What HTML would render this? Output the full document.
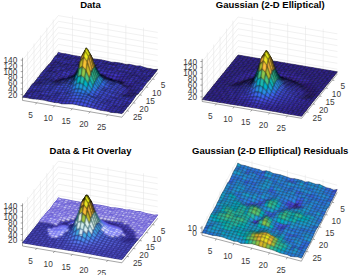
<!DOCTYPE html>
<html><head><meta charset="utf-8"><style>
html,body{margin:0;padding:0;background:#fff;width:350px;height:275px;overflow:hidden}
svg{display:block;font-family:"Liberation Sans",sans-serif}
#w{width:350px;height:275px}
</style></head><body><div id="w">
<svg width="350" height="275" viewBox="0 0 350 275" xmlns="http://www.w3.org/2000/svg">
<defs><filter id="bl" x="-0.05" y="-0.05" width="1.1" height="1.1"><feConvolveMatrix order="3" kernelMatrix="1 2 1 2 12 2 1 2 1" preserveAlpha="true"/></filter></defs>
<rect width="350" height="275" fill="#fff"/>
<line x1="72.5" y1="58.3" x2="72.5" y2="15.7" stroke="#e2e2e2" stroke-width="0.5"/>
<line x1="90.3" y1="61.3" x2="90.3" y2="18.7" stroke="#e2e2e2" stroke-width="0.5"/>
<line x1="108" y1="64.3" x2="108" y2="21.7" stroke="#e2e2e2" stroke-width="0.5"/>
<line x1="125.8" y1="67.3" x2="125.8" y2="24.7" stroke="#e2e2e2" stroke-width="0.5"/>
<line x1="143.5" y1="70.3" x2="143.5" y2="27.7" stroke="#e2e2e2" stroke-width="0.5"/>
<line x1="58.3" y1="50.1" x2="157.7" y2="66.9" stroke="#e2e2e2" stroke-width="0.5"/>
<line x1="58.3" y1="44.4" x2="157.7" y2="61.2" stroke="#e2e2e2" stroke-width="0.5"/>
<line x1="58.3" y1="38.6" x2="157.7" y2="55.4" stroke="#e2e2e2" stroke-width="0.5"/>
<line x1="58.3" y1="32.8" x2="157.7" y2="49.6" stroke="#e2e2e2" stroke-width="0.5"/>
<line x1="58.3" y1="27.1" x2="157.7" y2="43.9" stroke="#e2e2e2" stroke-width="0.5"/>
<line x1="58.3" y1="21.3" x2="157.7" y2="38.1" stroke="#e2e2e2" stroke-width="0.5"/>
<line x1="58.3" y1="15.6" x2="157.7" y2="32.4" stroke="#e2e2e2" stroke-width="0.5"/>
<line x1="53.2" y1="62.2" x2="53.2" y2="19.6" stroke="#e2e2e2" stroke-width="0.5"/>
<line x1="46.8" y1="70.2" x2="46.8" y2="27.6" stroke="#e2e2e2" stroke-width="0.5"/>
<line x1="40.4" y1="78.1" x2="40.4" y2="35.5" stroke="#e2e2e2" stroke-width="0.5"/>
<line x1="34" y1="86.1" x2="34" y2="43.5" stroke="#e2e2e2" stroke-width="0.5"/>
<line x1="27.6" y1="94" x2="27.6" y2="51.4" stroke="#e2e2e2" stroke-width="0.5"/>
<line x1="58.3" y1="50.1" x2="22.5" y2="94.6" stroke="#e2e2e2" stroke-width="0.5"/>
<line x1="58.3" y1="44.4" x2="22.5" y2="88.9" stroke="#e2e2e2" stroke-width="0.5"/>
<line x1="58.3" y1="38.6" x2="22.5" y2="83.1" stroke="#e2e2e2" stroke-width="0.5"/>
<line x1="58.3" y1="32.8" x2="22.5" y2="77.4" stroke="#e2e2e2" stroke-width="0.5"/>
<line x1="58.3" y1="27.1" x2="22.5" y2="71.6" stroke="#e2e2e2" stroke-width="0.5"/>
<line x1="58.3" y1="21.3" x2="22.5" y2="65.8" stroke="#e2e2e2" stroke-width="0.5"/>
<line x1="58.3" y1="15.6" x2="22.5" y2="60.1" stroke="#e2e2e2" stroke-width="0.5"/>
<line x1="72.5" y1="58.3" x2="36.7" y2="102.8" stroke="#e2e2e2" stroke-width="0.5"/>
<line x1="90.3" y1="61.3" x2="54.5" y2="105.8" stroke="#e2e2e2" stroke-width="0.5"/>
<line x1="108" y1="64.3" x2="72.2" y2="108.8" stroke="#e2e2e2" stroke-width="0.5"/>
<line x1="125.8" y1="67.3" x2="90" y2="111.8" stroke="#e2e2e2" stroke-width="0.5"/>
<line x1="143.5" y1="70.3" x2="107.7" y2="114.8" stroke="#e2e2e2" stroke-width="0.5"/>
<line x1="53.2" y1="62.2" x2="152.6" y2="79" stroke="#e2e2e2" stroke-width="0.5"/>
<line x1="46.8" y1="70.2" x2="146.2" y2="87" stroke="#e2e2e2" stroke-width="0.5"/>
<line x1="40.4" y1="78.1" x2="139.8" y2="94.9" stroke="#e2e2e2" stroke-width="0.5"/>
<line x1="34" y1="86.1" x2="133.4" y2="102.9" stroke="#e2e2e2" stroke-width="0.5"/>
<line x1="27.6" y1="94" x2="127" y2="110.8" stroke="#e2e2e2" stroke-width="0.5"/>
<g filter="url(#bl)"><g stroke="#000" stroke-width="0.55" stroke-opacity="1.0" fill-opacity="1.0" stroke-linejoin="round">
<path d="M58.3 52.2L61.9 53.4L60.6 55L57.1 54.4Z" fill="#473fe3"/>
<path d="M61.9 53.4L65.4 53.8L64.2 55.4L60.6 55Z" fill="#463bde"/>
<path d="M65.4 53.8L69 54.5L67.7 56.5L64.2 55.4Z" fill="#463bde"/>
<path d="M57.1 54.4L60.6 55L59.3 56.2L55.8 55.8Z" fill="#463bde"/>
<path d="M69 54.5L72.5 55.3L71.3 56.8L67.7 56.5Z" fill="#463bde"/>
<path d="M60.6 55L64.2 55.4L62.9 57.1L59.3 56.2Z" fill="#463bde"/>
<path d="M72.5 55.3L76.1 55.9L74.8 57.7L71.3 56.8Z" fill="#463adc"/>
<path d="M64.2 55.4L67.7 56.5L66.4 58.2L62.9 57.1Z" fill="#463de0"/>
<path d="M76.1 55.9L79.6 56.5L78.4 58.3L74.8 57.7Z" fill="#463adc"/>
<path d="M55.8 55.8L59.3 56.2L58 57.6L54.5 57Z" fill="#463de0"/>
<path d="M67.7 56.5L71.3 56.8L70 58.3L66.4 58.2Z" fill="#4639d9"/>
<path d="M79.6 56.5L83.2 57.4L81.9 58.9L78.4 58.3Z" fill="#463adc"/>
<path d="M59.3 56.2L62.9 57.1L61.6 58.5L58 57.6Z" fill="#473ee1"/>
<path d="M71.3 56.8L74.8 57.7L73.5 58.6L70 58.3Z" fill="#463adc"/>
<path d="M83.2 57.4L86.7 57.2L85.5 58.7L81.9 58.9Z" fill="#4538d7"/>
<path d="M62.9 57.1L66.4 58.2L65.2 59.1L61.6 58.5Z" fill="#463bde"/>
<path d="M74.8 57.7L78.4 58.3L77.1 59.6L73.5 58.6Z" fill="#4639d9"/>
<path d="M54.5 57L58 57.6L56.8 59.7L53.2 59Z" fill="#473fe3"/>
<path d="M86.7 57.2L90.3 57.8L89 59.3L85.5 58.7Z" fill="#473ee1"/>
<path d="M66.4 58.2L70 58.3L68.7 59.7L65.2 59.1Z" fill="#4538d7"/>
<path d="M78.4 58.3L81.9 58.9L80.6 60.5L77.1 59.6Z" fill="#4639d9"/>
<path d="M58 57.6L61.6 58.5L60.3 60.3L56.8 59.7Z" fill="#473fe3"/>
<path d="M90.3 57.8L93.8 58.9L92.6 60.3L89 59.3Z" fill="#473ee1"/>
<path d="M70 58.3L73.5 58.6L72.2 60.4L68.7 59.7Z" fill="#463bde"/>
<path d="M81.9 58.9L85.5 58.7L84.2 61L80.6 60.5Z" fill="#4639d9"/>
<path d="M61.6 58.5L65.2 59.1L63.9 60.5L60.3 60.3Z" fill="#463de0"/>
<path d="M93.8 58.9L97.4 59.3L96.1 60.8L92.6 60.3Z" fill="#463adc"/>
<path d="M73.5 58.6L77.1 59.6L75.8 61.1L72.2 60.4Z" fill="#473ee1"/>
<path d="M53.2 59L56.8 59.7L55.5 61.4L51.9 60.9Z" fill="#463bde"/>
<path d="M85.5 58.7L89 59.3L87.7 61.4L84.2 61Z" fill="#473ee1"/>
<path d="M65.2 59.1L68.7 59.7L67.4 61.5L63.9 60.5Z" fill="#463de0"/>
<path d="M97.4 59.3L100.9 59.8L99.7 61.3L96.1 60.8Z" fill="#463bde"/>
<path d="M77.1 59.6L80.6 60.5L79.3 61.9L75.8 61.1Z" fill="#463bde"/>
<path d="M56.8 59.7L60.3 60.3L59 62.1L55.5 61.4Z" fill="#463bde"/>
<path d="M89 59.3L92.6 60.3L91.3 62L87.7 61.4Z" fill="#473fe3"/>
<path d="M68.7 59.7L72.2 60.4L71 62.2L67.4 61.5Z" fill="#463de0"/>
<path d="M100.9 59.8L104.5 60.5L103.2 62L99.7 61.3Z" fill="#463de0"/>
<path d="M80.6 60.5L84.2 61L82.9 62.3L79.3 61.9Z" fill="#4639d9"/>
<path d="M60.3 60.3L63.9 60.5L62.6 62.5L59 62.1Z" fill="#463bde"/>
<path d="M92.6 60.3L96.1 60.8L94.8 62.7L91.3 62Z" fill="#463bde"/>
<path d="M72.2 60.4L75.8 61.1L74.5 62.7L71 62.2Z" fill="#463de0"/>
<path d="M104.5 60.5L108 61.3L106.8 62.9L103.2 62Z" fill="#463bde"/>
<path d="M51.9 60.9L55.5 61.4L54.2 62.9L50.7 62.6Z" fill="#463adc"/>
<path d="M84.2 61L87.7 61.4L86.5 62.3L82.9 62.3Z" fill="#4639d9"/>
<path d="M63.9 60.5L67.4 61.5L66.1 63.5L62.6 62.5Z" fill="#473ee1"/>
<path d="M96.1 60.8L99.7 61.3L98.4 62.9L94.8 62.7Z" fill="#463de0"/>
<path d="M75.8 61.1L79.3 61.9L78.1 63.2L74.5 62.7Z" fill="#463bde"/>
<path d="M108 61.3L111.6 62.2L110.3 63.8L106.8 62.9Z" fill="#463adc"/>
<path d="M55.5 61.4L59 62.1L57.8 63.2L54.2 62.9Z" fill="#463adc"/>
<path d="M87.7 61.4L91.3 62L90 63.1L86.5 62.3Z" fill="#463bde"/>
<path d="M67.4 61.5L71 62.2L69.7 63.8L66.1 63.5Z" fill="#463bde"/>
<path d="M99.7 61.3L103.2 62L101.9 63.7L98.4 62.9Z" fill="#463de0"/>
<path d="M79.3 61.9L82.9 62.3L81.6 63.8L78.1 63.2Z" fill="#463adc"/>
<path d="M111.6 62.2L115.1 62.3L113.9 64.3L110.3 63.8Z" fill="#4538d7"/>
<path d="M59 62.1L62.6 62.5L61.3 63.9L57.8 63.2Z" fill="#463adc"/>
<path d="M91.3 62L94.8 62.7L93.5 64.2L90 63.1Z" fill="#463adc"/>
<path d="M71 62.2L74.5 62.7L73.2 64.6L69.7 63.8Z" fill="#463adc"/>
<path d="M103.2 62L106.8 62.9L105.5 64.2L101.9 63.7Z" fill="#463bde"/>
<path d="M50.7 62.6L54.2 62.9L52.9 64.5L49.4 64.2Z" fill="#4639d9"/>
<path d="M82.9 62.3L86.5 62.3L85.2 64L81.6 63.8Z" fill="#463bde"/>
<path d="M115.1 62.3L118.7 62.8L117.4 64.4L113.9 64.3Z" fill="#463bde"/>
<path d="M62.6 62.5L66.1 63.5L64.9 64.9L61.3 63.9Z" fill="#463bde"/>
<path d="M94.8 62.7L98.4 62.9L97.1 64.7L93.5 64.2Z" fill="#463adc"/>
<path d="M74.5 62.7L78.1 63.2L76.8 64.9L73.2 64.6Z" fill="#463bde"/>
<path d="M106.8 62.9L110.3 63.8L109 64.5L105.5 64.2Z" fill="#463adc"/>
<path d="M54.2 62.9L57.8 63.2L56.5 64.7L52.9 64.5Z" fill="#463bde"/>
<path d="M86.5 62.3L90 63.1L88.7 64.7L85.2 64Z" fill="#473fe3"/>
<path d="M118.7 62.8L122.2 63.4L121 64.5L117.4 64.4Z" fill="#463de0"/>
<path d="M66.1 63.5L69.7 63.8L68.4 65.2L64.9 64.9Z" fill="#4538d7"/>
<path d="M98.4 62.9L101.9 63.7L100.7 65.5L97.1 64.7Z" fill="#463de0"/>
<path d="M78.1 63.2L81.6 63.8L80.3 65.2L76.8 64.9Z" fill="#463bde"/>
<path d="M110.3 63.8L113.9 64.3L112.6 65.2L109 64.5Z" fill="#4538d7"/>
<path d="M57.8 63.2L61.3 63.9L60 65.3L56.5 64.7Z" fill="#473ee1"/>
<path d="M90 63.1L93.5 64.2L92.3 65.6L88.7 64.7Z" fill="#473ee1"/>
<path d="M122.2 63.4L125.8 64.4L124.5 65.6L121 64.5Z" fill="#463de0"/>
<path d="M69.7 63.8L73.2 64.6L72 65.9L68.4 65.2Z" fill="#463adc"/>
<path d="M101.9 63.7L105.5 64.2L104.2 65.8L100.7 65.5Z" fill="#463bde"/>
<path d="M49.4 64.2L52.9 64.5L51.7 66L48.1 65.1Z" fill="#4639d9"/>
<path d="M81.6 63.8L85.2 64L83.9 65.5L80.3 65.2Z" fill="#463de0"/>
<path d="M113.9 64.3L117.4 64.4L116.1 66L112.6 65.2Z" fill="#4639d9"/>
<path d="M61.3 63.9L64.9 64.9L63.6 66L60 65.3Z" fill="#463de0"/>
<path d="M93.5 64.2L97.1 64.7L95.8 65.9L92.3 65.6Z" fill="#463bde"/>
<path d="M125.8 64.4L129.3 64.3L128.1 66.2L124.5 65.6Z" fill="#4639d9"/>
<path d="M73.2 64.6L76.8 64.9L75.5 66.4L72 65.9Z" fill="#4639d9"/>
<path d="M105.5 64.2L109 64.5L107.8 66.4L104.2 65.8Z" fill="#463de0"/>
<path d="M52.9 64.5L56.5 64.7L55.2 66.3L51.7 66Z" fill="#463bde"/>
<path d="M85.2 64L88.7 64.7L87.4 66.2L83.9 65.5Z" fill="#473fe3"/>
<path d="M117.4 64.4L121 64.5L119.7 66.5L116.1 66Z" fill="#463de0"/>
<path d="M64.9 64.9L68.4 65.2L67.1 66.8L63.6 66Z" fill="#463adc"/>
<path d="M97.1 64.7L100.7 65.5L99.4 66.7L95.8 65.9Z" fill="#463bde"/>
<path d="M129.3 64.3L132.9 65.1L131.6 66.6L128.1 66.2Z" fill="#473ee1"/>
<path d="M76.8 64.9L80.3 65.2L79.1 66.8L75.5 66.4Z" fill="#463bde"/>
<path d="M109 64.5L112.6 65.2L111.3 67.3L107.8 66.4Z" fill="#473ee1"/>
<path d="M56.5 64.7L60 65.3L58.8 66.7L55.2 66.3Z" fill="#473ee1"/>
<path d="M88.7 64.7L92.3 65.6L91 67.5L87.4 66.2Z" fill="#473ee1"/>
<path d="M121 64.5L124.5 65.6L123.2 67L119.7 66.5Z" fill="#4741e5"/>
<path d="M68.4 65.2L72 65.9L70.7 67.5L67.1 66.8Z" fill="#463de0"/>
<path d="M100.7 65.5L104.2 65.8L102.9 67.5L99.4 66.7Z" fill="#463adc"/>
<path d="M132.9 65.1L136.4 65.9L135.2 67.3L131.6 66.6Z" fill="#463de0"/>
<path d="M48.1 65.1L51.7 66L50.4 67.9L46.8 66.8Z" fill="#473ee1"/>
<path d="M80.3 65.2L83.9 65.5L82.6 67.2L79.1 66.8Z" fill="#473ee1"/>
<path d="M112.6 65.2L116.1 66L114.8 67.7L111.3 67.3Z" fill="#473ee1"/>
<path d="M60 65.3L63.6 66L62.3 67.3L58.8 66.7Z" fill="#473ee1"/>
<path d="M92.3 65.6L95.8 65.9L94.5 67.7L91 67.5Z" fill="#463de0"/>
<path d="M124.5 65.6L128.1 66.2L126.8 68L123.2 67Z" fill="#463de0"/>
<path d="M72 65.9L75.5 66.4L74.2 68.2L70.7 67.5Z" fill="#463bde"/>
<path d="M104.2 65.8L107.8 66.4L106.5 68.2L102.9 67.5Z" fill="#463bde"/>
<path d="M136.4 65.9L140 65.9L138.7 67.9L135.2 67.3Z" fill="#463bde"/>
<path d="M51.7 66L55.2 66.3L53.9 67.9L50.4 67.9Z" fill="#463bde"/>
<path d="M83.9 65.5L87.4 66.2L86.2 68.1L82.6 67.2Z" fill="#473fe3"/>
<path d="M116.1 66L119.7 66.5L118.4 68.3L114.8 67.7Z" fill="#463de0"/>
<path d="M63.6 66L67.1 66.8L65.8 68.4L62.3 67.3Z" fill="#473ee1"/>
<path d="M95.8 65.9L99.4 66.7L98.1 68L94.5 67.7Z" fill="#473ee1"/>
<path d="M128.1 66.2L131.6 66.6L130.3 68.7L126.8 68Z" fill="#463de0"/>
<path d="M75.5 66.4L79.1 66.8L77.8 68.6L74.2 68.2Z" fill="#463de0"/>
<path d="M107.8 66.4L111.3 67.3L110 68.8L106.5 68.2Z" fill="#463de0"/>
<path d="M140 65.9L143.5 67.1L142.3 68.6L138.7 67.9Z" fill="#473fe3"/>
<path d="M55.2 66.3L58.8 66.7L57.5 68.3L53.9 67.9Z" fill="#473ee1"/>
<path d="M87.4 66.2L91 67.5L89.7 69.4L86.2 68.1Z" fill="#473fe3"/>
<path d="M119.7 66.5L123.2 67L122 68.6L118.4 68.3Z" fill="#463de0"/>
<path d="M67.1 66.8L70.7 67.5L69.4 69L65.8 68.4Z" fill="#463bde"/>
<path d="M99.4 66.7L102.9 67.5L101.6 68.8L98.1 68Z" fill="#463de0"/>
<path d="M131.6 66.6L135.2 67.3L133.9 69L130.3 68.7Z" fill="#473ee1"/>
<path d="M46.8 66.8L50.4 67.9L49.1 69.1L45.5 68.3Z" fill="#473ee1"/>
<path d="M79.1 66.8L82.6 67.2L81.3 69.2L77.8 68.6Z" fill="#473ee1"/>
<path d="M111.3 67.3L114.8 67.7L113.6 69.1L110 68.8Z" fill="#463adc"/>
<path d="M143.5 67.1L147.1 68.2L145.8 69.5L142.3 68.6Z" fill="#463bde"/>
<path d="M58.8 66.7L62.3 67.3L61 69.1L57.5 68.3Z" fill="#473fe3"/>
<path d="M91 67.5L94.5 67.7L93.3 70L89.7 69.4Z" fill="#463adc"/>
<path d="M123.2 67L126.8 68L125.5 69.3L122 68.6Z" fill="#473ee1"/>
<path d="M70.7 67.5L74.2 68.2L72.9 69.6L69.4 69Z" fill="#463bde"/>
<path d="M102.9 67.5L106.5 68.2L105.2 69.7L101.6 68.8Z" fill="#463bde"/>
<path d="M135.2 67.3L138.7 67.9L137.4 69.4L133.9 69Z" fill="#463de0"/>
<path d="M50.4 67.9L53.9 67.9L52.6 69.4L49.1 69.1Z" fill="#463adc"/>
<path d="M82.6 67.2L86.2 68.1L84.9 70.1L81.3 69.2Z" fill="#473fe3"/>
<path d="M114.8 67.7L118.4 68.3L117.1 70.3L113.6 69.1Z" fill="#463bde"/>
<path d="M147.1 68.2L150.6 68.7L149.4 70.1L145.8 69.5Z" fill="#4538d7"/>
<path d="M62.3 67.3L65.8 68.4L64.6 69.8L61 69.1Z" fill="#473fe3"/>
<path d="M94.5 67.7L98.1 68L96.8 70.2L93.3 70Z" fill="#463de0"/>
<path d="M126.8 68L130.3 68.7L129.1 69.9L125.5 69.3Z" fill="#463adc"/>
<path d="M74.2 68.2L77.8 68.6L76.5 70.5L72.9 69.6Z" fill="#463adc"/>
<path d="M106.5 68.2L110 68.8L108.7 70.1L105.2 69.7Z" fill="#463adc"/>
<path d="M138.7 67.9L142.3 68.6L141 70.2L137.4 69.4Z" fill="#463de0"/>
<path d="M53.9 67.9L57.5 68.3L56.2 70.3L52.6 69.4Z" fill="#473ee1"/>
<path d="M86.2 68.1L89.7 69.4L88.4 71.2L84.9 70.1Z" fill="#463de0"/>
<path d="M118.4 68.3L122 68.6L120.7 70.8L117.1 70.3Z" fill="#463bde"/>
<path d="M150.6 68.7L154.2 69.6L152.9 71L149.4 70.1Z" fill="#4639d9"/>
<path d="M65.8 68.4L69.4 69L68.1 70.4L64.6 69.8Z" fill="#463bde"/>
<path d="M98.1 68L101.6 68.8L100.4 70.9L96.8 70.2Z" fill="#473fe3"/>
<path d="M130.3 68.7L133.9 69L132.6 70.8L129.1 69.9Z" fill="#463adc"/>
<path d="M45.5 68.3L49.1 69.1L47.8 70.5L44.3 69.8Z" fill="#473ee1"/>
<path d="M77.8 68.6L81.3 69.2L80.1 71.9L76.5 70.5Z" fill="#463bde"/>
<path d="M110 68.8L113.6 69.1L112.3 70.5L108.7 70.1Z" fill="#463adc"/>
<path d="M142.3 68.6L145.8 69.5L144.5 71L141 70.2Z" fill="#463de0"/>
<path d="M57.5 68.3L61 69.1L59.7 70.9L56.2 70.3Z" fill="#473fe3"/>
<path d="M89.7 69.4L93.3 70L92 72.2L88.4 71.2Z" fill="#4538d7"/>
<path d="M122 68.6L125.5 69.3L124.2 71.1L120.7 70.8Z" fill="#473ee1"/>
<path d="M154.2 69.6L157.7 69.3L156.5 71L152.9 71Z" fill="#4537d5"/>
<path d="M69.4 69L72.9 69.6L71.7 71.5L68.1 70.4Z" fill="#463bde"/>
<path d="M101.6 68.8L105.2 69.7L103.9 71.5L100.4 70.9Z" fill="#473ee1"/>
<path d="M133.9 69L137.4 69.4L136.1 71.3L132.6 70.8Z" fill="#463de0"/>
<path d="M49.1 69.1L52.6 69.4L51.4 70.9L47.8 70.5Z" fill="#463de0"/>
<path d="M81.3 69.2L84.9 70.1L83.6 72.5L80.1 71.9Z" fill="#463bde"/>
<path d="M113.6 69.1L117.1 70.3L115.8 71.6L112.3 70.5Z" fill="#463de0"/>
<path d="M145.8 69.5L149.4 70.1L148.1 71.6L144.5 71Z" fill="#463adc"/>
<path d="M61 69.1L64.6 69.8L63.3 71L59.7 70.9Z" fill="#473ee1"/>
<path d="M93.3 70L96.8 70.2L95.5 73.1L92 72.2Z" fill="#4538d7"/>
<path d="M125.5 69.3L129.1 69.9L127.8 72L124.2 71.1Z" fill="#463de0"/>
<path d="M72.9 69.6L76.5 70.5L75.2 72.6L71.7 71.5Z" fill="#463bde"/>
<path d="M105.2 69.7L108.7 70.1L107.5 72.2L103.9 71.5Z" fill="#463bde"/>
<path d="M137.4 69.4L141 70.2L139.7 71.8L136.1 71.3Z" fill="#473ee1"/>
<path d="M52.6 69.4L56.2 70.3L54.9 71.9L51.4 70.9Z" fill="#473fe3"/>
<path d="M84.9 70.1L88.4 71.2L87.2 73.4L83.6 72.5Z" fill="#4639d9"/>
<path d="M117.1 70.3L120.7 70.8L119.4 72.1L115.8 71.6Z" fill="#4639d9"/>
<path d="M149.4 70.1L152.9 71L151.6 72.4L148.1 71.6Z" fill="#463adc"/>
<path d="M64.6 69.8L68.1 70.4L66.8 71.9L63.3 71Z" fill="#463de0"/>
<path d="M96.8 70.2L100.4 70.9L99.1 73.6L95.5 73.1Z" fill="#463adc"/>
<path d="M129.1 69.9L132.6 70.8L131.3 72.7L127.8 72Z" fill="#463de0"/>
<path d="M44.3 69.8L47.8 70.5L46.5 72L43 71.1Z" fill="#473ee1"/>
<path d="M76.5 70.5L80.1 71.9L78.8 74L75.2 72.6Z" fill="#4639d9"/>
<path d="M108.7 70.1L112.3 70.5L111 72.9L107.5 72.2Z" fill="#463de0"/>
<path d="M141 70.2L144.5 71L143.2 72.2L139.7 71.8Z" fill="#463de0"/>
<path d="M56.2 70.3L59.7 70.9L58.5 72.5L54.9 71.9Z" fill="#463de0"/>
<path d="M88.4 71.2L92 72.2L90.7 74.1L87.2 73.4Z" fill="#4537d5"/>
<path d="M120.7 70.8L124.2 71.1L122.9 72.5L119.4 72.1Z" fill="#4639d9"/>
<path d="M152.9 71L156.5 71L155.2 72.8L151.6 72.4Z" fill="#4538d7"/>
<path d="M68.1 70.4L71.7 71.5L70.4 73.7L66.8 71.9Z" fill="#463de0"/>
<path d="M100.4 70.9L103.9 71.5L102.6 74.3L99.1 73.6Z" fill="#4639d9"/>
<path d="M132.6 70.8L136.1 71.3L134.9 73L131.3 72.7Z" fill="#463bde"/>
<path d="M47.8 70.5L51.4 70.9L50.1 71.9L46.5 72Z" fill="#473ee1"/>
<path d="M80.1 71.9L83.6 72.5L82.3 74.2L78.8 74Z" fill="#4434d0"/>
<path d="M112.3 70.5L115.8 71.6L114.6 73.2L111 72.9Z" fill="#473ee1"/>
<path d="M144.5 71L148.1 71.6L146.8 73L143.2 72.2Z" fill="#463adc"/>
<path d="M59.7 70.9L63.3 71L62 73.1L58.5 72.5Z" fill="#463de0"/>
<path d="M92 72.2L95.5 73.1L94.2 74.5L90.7 74.1Z" fill="#4433cd"/>
<path d="M124.2 71.1L127.8 72L126.5 73.2L122.9 72.5Z" fill="#463bde"/>
<path d="M71.7 71.5L75.2 72.6L73.9 74.4L70.4 73.7Z" fill="#4639d9"/>
<path d="M103.9 71.5L107.5 72.2L106.2 74.8L102.6 74.3Z" fill="#463adc"/>
<path d="M136.1 71.3L139.7 71.8L138.4 73.6L134.9 73Z" fill="#463bde"/>
<path d="M51.4 70.9L54.9 71.9L53.6 72.5L50.1 71.9Z" fill="#473fe3"/>
<path d="M83.6 72.5L87.2 73.4L85.9 74.5L82.3 74.2Z" fill="#4434d0"/>
<path d="M115.8 71.6L119.4 72.1L118.1 74.1L114.6 73.2Z" fill="#463adc"/>
<path d="M148.1 71.6L151.6 72.4L150.3 74L146.8 73Z" fill="#463adc"/>
<path d="M63.3 71L66.8 71.9L65.6 74.4L62 73.1Z" fill="#473fe3"/>
<path d="M95.5 73.1L99.1 73.6L97.8 74.5L94.2 74.5Z" fill="#4332ca"/>
<path d="M127.8 72L131.3 72.7L130 74L126.5 73.2Z" fill="#4639d9"/>
<path d="M43 71.1L46.5 72L45.2 73.6L41.7 72.7Z" fill="#4741e5"/>
<path d="M75.2 72.6L78.8 74L77.5 75.3L73.9 74.4Z" fill="#4537d5"/>
<path d="M107.5 72.2L111 72.9L109.7 75.6L106.2 74.8Z" fill="#4639d9"/>
<path d="M139.7 71.8L143.2 72.2L142 74L138.4 73.6Z" fill="#463de0"/>
<path d="M54.9 71.9L58.5 72.5L57.2 73.9L53.6 72.5Z" fill="#463de0"/>
<path d="M87.2 73.4L90.7 74.1L89.4 74.5L85.9 74.5Z" fill="#4332ca"/>
<path d="M119.4 72.1L122.9 72.5L121.7 74.7L118.1 74.1Z" fill="#463bde"/>
<path d="M151.6 72.4L155.2 72.8L153.9 74.4L150.3 74Z" fill="#4639d9"/>
<path d="M66.8 71.9L70.4 73.7L69.1 76L65.6 74.4Z" fill="#473ee1"/>
<path d="M99.1 73.6L102.6 74.3L101.3 75.5L97.8 74.5Z" fill="#4332ca"/>
<path d="M131.3 72.7L134.9 73L133.6 74.6L130 74Z" fill="#4538d7"/>
<path d="M46.5 72L50.1 71.9L48.8 73.7L45.2 73.6Z" fill="#473ee1"/>
<path d="M78.8 74L82.3 74.2L81 75.2L77.5 75.3Z" fill="#4331c8"/>
<path d="M111 72.9L114.6 73.2L113.3 76L109.7 75.6Z" fill="#4639d9"/>
<path d="M143.2 72.2L146.8 73L145.5 74.8L142 74Z" fill="#473ee1"/>
<path d="M58.5 72.5L62 73.1L60.7 75.4L57.2 73.9Z" fill="#463bde"/>
<path d="M90.7 74.1L94.2 74.5L93 73.8L89.4 74.5Z" fill="#4332ca"/>
<path d="M122.9 72.5L126.5 73.2L125.2 74.7L121.7 74.7Z" fill="#463de0"/>
<path d="M70.4 73.7L73.9 74.4L72.7 75.9L69.1 76Z" fill="#4535d2"/>
<path d="M102.6 74.3L106.2 74.8L104.9 76.4L101.3 75.5Z" fill="#4332ca"/>
<path d="M134.9 73L138.4 73.6L137.1 75.3L133.6 74.6Z" fill="#463adc"/>
<path d="M50.1 71.9L53.6 72.5L52.3 74.2L48.8 73.7Z" fill="#4744e8"/>
<path d="M82.3 74.2L85.9 74.5L84.6 74.9L81 75.2Z" fill="#4433cd"/>
<path d="M114.6 73.2L118.1 74.1L116.8 77.1L113.3 76Z" fill="#463adc"/>
<path d="M146.8 73L150.3 74L149.1 75.7L145.5 74.8Z" fill="#463de0"/>
<path d="M62 73.1L65.6 74.4L64.3 76.6L60.7 75.4Z" fill="#463de0"/>
<path d="M94.2 74.5L97.8 74.5L96.5 73.5L93 73.8Z" fill="#4332ca"/>
<path d="M126.5 73.2L130 74L128.8 75.6L125.2 74.7Z" fill="#463bde"/>
<path d="M41.7 72.7L45.2 73.6L44 75.1L40.4 74.3Z" fill="#4741e5"/>
<path d="M73.9 74.4L77.5 75.3L76.2 75.8L72.7 75.9Z" fill="#4434d0"/>
<path d="M106.2 74.8L109.7 75.6L108.4 77.9L104.9 76.4Z" fill="#4332ca"/>
<path d="M138.4 73.6L142 74L140.7 75.8L137.1 75.3Z" fill="#463adc"/>
<path d="M53.6 72.5L57.2 73.9L55.9 75.3L52.3 74.2Z" fill="#4744e8"/>
<path d="M85.9 74.5L89.4 74.5L88.1 73.9L84.6 74.9Z" fill="#4535d2"/>
<path d="M118.1 74.1L121.7 74.7L120.4 77.2L116.8 77.1Z" fill="#4538d7"/>
<path d="M150.3 74L153.9 74.4L152.6 76.2L149.1 75.7Z" fill="#4639d9"/>
<path d="M65.6 74.4L69.1 76L67.8 77.4L64.3 76.6Z" fill="#4538d7"/>
<path d="M97.8 74.5L101.3 75.5L100.1 74.8L96.5 73.5Z" fill="#4537d5"/>
<path d="M130 74L133.6 74.6L132.3 75.9L128.8 75.6Z" fill="#463adc"/>
<path d="M45.2 73.6L48.8 73.7L47.5 75.4L44 75.1Z" fill="#473ee1"/>
<path d="M77.5 75.3L81 75.2L79.8 75.8L76.2 75.8Z" fill="#4332ca"/>
<path d="M109.7 75.6L113.3 76L112 78.9L108.4 77.9Z" fill="#4331c8"/>
<path d="M142 74L145.5 74.8L144.2 76.4L140.7 75.8Z" fill="#463bde"/>
<path d="M57.2 73.9L60.7 75.4L59.5 76.9L55.9 75.3Z" fill="#473ee1"/>
<path d="M89.4 74.5L93 73.8L91.7 72.2L88.1 73.9Z" fill="#463adc"/>
<path d="M121.7 74.7L125.2 74.7L123.9 76.9L120.4 77.2Z" fill="#4639d9"/>
<path d="M69.1 76L72.7 75.9L71.4 77.2L67.8 77.4Z" fill="#4331c8"/>
<path d="M101.3 75.5L104.9 76.4L103.6 76.2L100.1 74.8Z" fill="#4434d0"/>
<path d="M133.6 74.6L137.1 75.3L135.9 76.4L132.3 75.9Z" fill="#463adc"/>
<path d="M48.8 73.7L52.3 74.2L51.1 76L47.5 75.4Z" fill="#4742e6"/>
<path d="M81 75.2L84.6 74.9L83.3 74.8L79.8 75.8Z" fill="#4538d7"/>
<path d="M113.3 76L116.8 77.1L115.6 80.4L112 78.9Z" fill="#4332ca"/>
<path d="M145.5 74.8L149.1 75.7L147.8 76.8L144.2 76.4Z" fill="#463adc"/>
<path d="M60.7 75.4L64.3 76.6L63 78.3L59.5 76.9Z" fill="#4537d5"/>
<path d="M93 73.8L96.5 73.5L95.2 71.8L91.7 72.2Z" fill="#4744e8"/>
<path d="M125.2 74.7L128.8 75.6L127.5 77.2L123.9 76.9Z" fill="#463de0"/>
<path d="M40.4 74.3L44 75.1L42.7 76.5L39.1 76.3Z" fill="#4741e5"/>
<path d="M72.7 75.9L76.2 75.8L74.9 76.7L71.4 77.2Z" fill="#4535d2"/>
<path d="M104.9 76.4L108.4 77.9L107.2 78L103.6 76.2Z" fill="#4332ca"/>
<path d="M137.1 75.3L140.7 75.8L139.4 77.3L135.9 76.4Z" fill="#463adc"/>
<path d="M52.3 74.2L55.9 75.3L54.6 76.7L51.1 76Z" fill="#4744e8"/>
<path d="M84.6 74.9L88.1 73.9L86.9 72.4L83.3 74.8Z" fill="#473ee1"/>
<path d="M116.8 77.1L120.4 77.2L119.1 80.1L115.6 80.4Z" fill="#422fc2"/>
<path d="M149.1 75.7L152.6 76.2L151.3 77.3L147.8 76.8Z" fill="#4639d9"/>
<path d="M64.3 76.6L67.8 77.4L66.5 78.7L63 78.3Z" fill="#4433cd"/>
<path d="M96.5 73.5L100.1 74.8L98.8 73.4L95.2 71.8Z" fill="#484bee"/>
<path d="M128.8 75.6L132.3 75.9L131 77.4L127.5 77.2Z" fill="#463adc"/>
<path d="M44 75.1L47.5 75.4L46.2 76.8L42.7 76.5Z" fill="#473fe3"/>
<path d="M76.2 75.8L79.8 75.8L78.5 76.2L74.9 76.7Z" fill="#463adc"/>
<path d="M108.4 77.9L112 78.9L110.7 79.2L107.2 78Z" fill="#412dbd"/>
<path d="M140.7 75.8L144.2 76.4L143 78.1L139.4 77.3Z" fill="#463adc"/>
<path d="M55.9 75.3L59.5 76.9L58.2 78.1L54.6 76.7Z" fill="#473fe3"/>
<path d="M88.1 73.9L91.7 72.2L90.4 70.2L86.9 72.4Z" fill="#484bee"/>
<path d="M120.4 77.2L123.9 76.9L122.7 79.4L119.1 80.1Z" fill="#4332ca"/>
<path d="M67.8 77.4L71.4 77.2L70.1 77.9L66.5 78.7Z" fill="#4332ca"/>
<path d="M100.1 74.8L103.6 76.2L102.3 75.6L98.8 73.4Z" fill="#4745e9"/>
<path d="M132.3 75.9L135.9 76.4L134.6 78.3L131 77.4Z" fill="#463de0"/>
<path d="M47.5 75.4L51.1 76L49.8 77.5L46.2 76.8Z" fill="#4742e6"/>
<path d="M79.8 75.8L83.3 74.8L82 74.7L78.5 76.2Z" fill="#473ee1"/>
<path d="M112 78.9L115.6 80.4L114.3 80.8L110.7 79.2Z" fill="#402ab4"/>
<path d="M144.2 76.4L147.8 76.8L146.5 78.4L143 78.1Z" fill="#463adc"/>
<path d="M59.5 76.9L63 78.3L61.7 79.3L58.2 78.1Z" fill="#4538d7"/>
<path d="M91.7 72.2L95.2 71.8L94 69.9L90.4 70.2Z" fill="#465efb"/>
<path d="M123.9 76.9L127.5 77.2L126.2 79.1L122.7 79.4Z" fill="#4639d9"/>
<path d="M39.1 76.3L42.7 76.5L41.4 77.8L37.9 77.5Z" fill="#473ee1"/>
<path d="M71.4 77.2L74.9 76.7L73.7 77L70.1 77.9Z" fill="#4537d5"/>
<path d="M103.6 76.2L107.2 78L105.9 77.4L102.3 75.6Z" fill="#473ee1"/>
<path d="M135.9 76.4L139.4 77.3L138.1 78.8L134.6 78.3Z" fill="#463de0"/>
<path d="M51.1 76L54.6 76.7L53.3 78.4L49.8 77.5Z" fill="#4742e6"/>
<path d="M83.3 74.8L86.9 72.4L85.6 71.3L82 74.7Z" fill="#484cf0"/>
<path d="M115.6 80.4L119.1 80.1L117.8 81.7L114.3 80.8Z" fill="#3e26a8"/>
<path d="M147.8 76.8L151.3 77.3L150.1 79.4L146.5 78.4Z" fill="#463bde"/>
<path d="M63 78.3L66.5 78.7L65.3 78.9L61.7 79.3Z" fill="#4332ca"/>
<path d="M95.2 71.8L98.8 73.4L97.5 71.9L94 69.9Z" fill="#4465fd"/>
<path d="M127.5 77.2L131 77.4L129.8 79.1L126.2 79.1Z" fill="#463adc"/>
<path d="M42.7 76.5L46.2 76.8L45 78.3L41.4 77.8Z" fill="#4741e5"/>
<path d="M74.9 76.7L78.5 76.2L77.2 76.2L73.7 77Z" fill="#473fe3"/>
<path d="M107.2 78L110.7 79.2L109.4 79.3L105.9 77.4Z" fill="#4535d2"/>
<path d="M139.4 77.3L143 78.1L141.7 79.3L138.1 78.8Z" fill="#463bde"/>
<path d="M54.6 76.7L58.2 78.1L56.9 79.8L53.3 78.4Z" fill="#4741e5"/>
<path d="M86.9 72.4L90.4 70.2L89.1 67.8L85.6 71.3Z" fill="#4564fd"/>
<path d="M119.1 80.1L122.7 79.4L121.4 82L117.8 81.7Z" fill="#402bb7"/>
<path d="M66.5 78.7L70.1 77.9L68.8 78L65.3 78.9Z" fill="#4434d0"/>
<path d="M98.8 73.4L102.3 75.6L101.1 75.4L97.5 71.9Z" fill="#465efb"/>
<path d="M131 77.4L134.6 78.3L133.3 79.9L129.8 79.1Z" fill="#473ee1"/>
<path d="M46.2 76.8L49.8 77.5L48.5 78.9L45 78.3Z" fill="#4744e8"/>
<path d="M78.5 76.2L82 74.7L80.8 74.3L77.2 76.2Z" fill="#4848ec"/>
<path d="M110.7 79.2L114.3 80.8L113 80.4L109.4 79.3Z" fill="#4332ca"/>
<path d="M143 78.1L146.5 78.4L145.2 79.9L141.7 79.3Z" fill="#463adc"/>
<path d="M58.2 78.1L61.7 79.3L60.4 79.9L56.9 79.8Z" fill="#463adc"/>
<path d="M90.4 70.2L94 69.9L92.7 67L89.1 67.8Z" fill="#317dfc"/>
<path d="M122.7 79.4L126.2 79.1L124.9 81.6L121.4 82Z" fill="#4332ca"/>
<path d="M37.9 77.5L41.4 77.8L40.1 79.9L36.6 79.5Z" fill="#4741e5"/>
<path d="M70.1 77.9L73.7 77L72.4 76.9L68.8 78Z" fill="#473ee1"/>
<path d="M102.3 75.6L105.9 77.4L104.6 77.7L101.1 75.4Z" fill="#4850f3"/>
<path d="M134.6 78.3L138.1 78.8L136.8 80.6L133.3 79.9Z" fill="#463bde"/>
<path d="M49.8 77.5L53.3 78.4L52.1 79.6L48.5 78.9Z" fill="#4742e6"/>
<path d="M82 74.7L85.6 71.3L84.3 70.3L80.8 74.3Z" fill="#475af9"/>
<path d="M114.3 80.8L117.8 81.7L116.5 81.2L113 80.4Z" fill="#412cba"/>
<path d="M146.5 78.4L150.1 79.4L148.8 80.8L145.2 79.9Z" fill="#463bde"/>
<path d="M61.7 79.3L65.3 78.9L64 78.9L60.4 79.9Z" fill="#4537d5"/>
<path d="M94 69.9L97.5 71.9L96.2 69.8L92.7 67Z" fill="#2e84f8"/>
<path d="M126.2 79.1L129.8 79.1L128.5 81.3L124.9 81.6Z" fill="#4538d7"/>
<path d="M41.4 77.8L45 78.3L43.7 79.7L40.1 79.9Z" fill="#4742e6"/>
<path d="M73.7 77L77.2 76.2L75.9 75.9L72.4 76.9Z" fill="#4849ed"/>
<path d="M105.9 77.4L109.4 79.3L108.2 79.5L104.6 77.7Z" fill="#4746eb"/>
<path d="M138.1 78.8L141.7 79.3L140.4 81L136.8 80.6Z" fill="#463bde"/>
<path d="M53.3 78.4L56.9 79.8L55.6 80.7L52.1 79.6Z" fill="#473fe3"/>
<path d="M85.6 71.3L89.1 67.8L87.9 65.2L84.3 70.3Z" fill="#327cfc"/>
<path d="M117.8 81.7L121.4 82L120.1 82.2L116.5 81.2Z" fill="#402bb7"/>
<path d="M65.3 78.9L68.8 78L67.5 78.6L64 78.9Z" fill="#473ee1"/>
<path d="M97.5 71.9L101.1 75.4L99.8 74.5L96.2 69.8Z" fill="#3579fd"/>
<path d="M129.8 79.1L133.3 79.9L132 81.6L128.5 81.3Z" fill="#463de0"/>
<path d="M45 78.3L48.5 78.9L47.2 79.8L43.7 79.7Z" fill="#4744e8"/>
<path d="M77.2 76.2L80.8 74.3L79.5 73.5L75.9 75.9Z" fill="#4756f7"/>
<path d="M109.4 79.3L113 80.4L111.7 80.2L108.2 79.5Z" fill="#463de0"/>
<path d="M141.7 79.3L145.2 79.9L143.9 81.4L140.4 81Z" fill="#463de0"/>
<path d="M56.9 79.8L60.4 79.9L59.2 80.6L55.6 80.7Z" fill="#463adc"/>
<path d="M89.1 67.8L92.7 67L91.4 63L87.9 65.2Z" fill="#259be8"/>
<path d="M121.4 82L124.9 81.6L123.6 83L120.1 82.2Z" fill="#412cba"/>
<path d="M36.6 79.5L40.1 79.9L38.9 81.4L35.3 81.1Z" fill="#473ee1"/>
<path d="M68.8 78L72.4 76.9L71.1 77.4L67.5 78.6Z" fill="#4849ed"/>
<path d="M101.1 75.4L104.6 77.7L103.3 77.8L99.8 74.5Z" fill="#4660fb"/>
<path d="M133.3 79.9L136.8 80.6L135.6 82L132 81.6Z" fill="#463bde"/>
<path d="M48.5 78.9L52.1 79.6L50.8 80.6L47.2 79.8Z" fill="#4744e8"/>
<path d="M80.8 74.3L84.3 70.3L83 68.2L79.5 73.5Z" fill="#426afe"/>
<path d="M113 80.4L116.5 81.2L115.3 80.8L111.7 80.2Z" fill="#4639d9"/>
<path d="M145.2 79.9L148.8 80.8L147.5 81.8L143.9 81.4Z" fill="#463de0"/>
<path d="M60.4 79.9L64 78.9L62.7 79.9L59.2 80.6Z" fill="#473ee1"/>
<path d="M92.7 67L96.2 69.8L95 66.8L91.4 63Z" fill="#20a5e3"/>
<path d="M124.9 81.6L128.5 81.3L127.2 83.6L123.6 83Z" fill="#4332ca"/>
<path d="M40.1 79.9L43.7 79.7L42.4 81.3L38.9 81.4Z" fill="#473fe3"/>
<path d="M72.4 76.9L75.9 75.9L74.6 75.8L71.1 77.4Z" fill="#4757f7"/>
<path d="M104.6 77.7L108.2 79.5L106.9 79.3L103.3 77.8Z" fill="#4852f4"/>
<path d="M136.8 80.6L140.4 81L139.1 82.6L135.6 82Z" fill="#463adc"/>
<path d="M52.1 79.6L55.6 80.7L54.3 81.7L50.8 80.6Z" fill="#4742e6"/>
<path d="M84.3 70.3L87.9 65.2L86.6 61.8L83 68.2Z" fill="#2c90f0"/>
<path d="M116.5 81.2L120.1 82.2L118.8 81.8L115.3 80.8Z" fill="#4538d7"/>
<path d="M64 78.9L67.5 78.6L66.3 79.8L62.7 79.9Z" fill="#484bee"/>
<path d="M96.2 69.8L99.8 74.5L98.5 72.7L95 66.8Z" fill="#2895ec"/>
<path d="M128.5 81.3L132 81.6L130.7 83.9L127.2 83.6Z" fill="#4538d7"/>
<path d="M43.7 79.7L47.2 79.8L46 81.1L42.4 81.3Z" fill="#4745e9"/>
<path d="M75.9 75.9L79.5 73.5L78.2 72.4L74.6 75.8Z" fill="#4465fd"/>
<path d="M108.2 79.5L111.7 80.2L110.4 80.4L106.9 79.3Z" fill="#4848ec"/>
<path d="M140.4 81L143.9 81.4L142.7 83.5L139.1 82.6Z" fill="#463bde"/>
<path d="M55.6 80.7L59.2 80.6L57.9 81.5L54.3 81.7Z" fill="#473fe3"/>
<path d="M87.9 65.2L91.4 63L90.1 58.6L86.6 61.8Z" fill="#06b5cf"/>
<path d="M120.1 82.2L123.6 83L122.4 83.7L118.8 81.8Z" fill="#4434d0"/>
<path d="M35.3 81.1L38.9 81.4L37.6 82.8L34 82.7Z" fill="#463de0"/>
<path d="M67.5 78.6L71.1 77.4L69.8 78.5L66.3 79.8Z" fill="#4852f4"/>
<path d="M99.8 74.5L103.3 77.8L102 77.2L98.5 72.7Z" fill="#3974ff"/>
<path d="M132 81.6L135.6 82L134.3 83.7L130.7 83.9Z" fill="#463adc"/>
<path d="M47.2 79.8L50.8 80.6L49.5 81.5L46 81.1Z" fill="#4849ed"/>
<path d="M79.5 73.5L83 68.2L81.7 65.5L78.2 72.4Z" fill="#307ffb"/>
<path d="M111.7 80.2L115.3 80.8L114 81.6L110.4 80.4Z" fill="#4848ec"/>
<path d="M143.9 81.4L147.5 81.8L146.2 83.6L142.7 83.5Z" fill="#463de0"/>
<path d="M59.2 80.6L62.7 79.9L61.4 81L57.9 81.5Z" fill="#4745e9"/>
<path d="M91.4 63L95 66.8L93.7 62.7L90.1 58.6Z" fill="#1ac0b5"/>
<path d="M123.6 83L127.2 83.6L125.9 85.6L122.4 83.7Z" fill="#4433cd"/>
<path d="M38.9 81.4L42.4 81.3L41.1 83L37.6 82.8Z" fill="#473fe3"/>
<path d="M71.1 77.4L74.6 75.8L73.4 76.9L69.8 78.5Z" fill="#4661fc"/>
<path d="M103.3 77.8L106.9 79.3L105.6 79.1L102 77.2Z" fill="#475dfa"/>
<path d="M135.6 82L139.1 82.6L137.8 83.6L134.3 83.7Z" fill="#463bde"/>
<path d="M50.8 80.6L54.3 81.7L53 82.3L49.5 81.5Z" fill="#4848ec"/>
<path d="M83 68.2L86.6 61.8L85.3 57.1L81.7 65.5Z" fill="#1caadf"/>
<path d="M115.3 80.8L118.8 81.8L117.5 82.7L114 81.6Z" fill="#4746eb"/>
<path d="M62.7 79.9L66.3 79.8L65 81.2L61.4 81Z" fill="#484ff2"/>
<path d="M95 66.8L98.5 72.7L97.2 70L93.7 62.7Z" fill="#0eb3d4"/>
<path d="M127.2 83.6L130.7 83.9L129.5 86L125.9 85.6Z" fill="#4433cd"/>
<path d="M42.4 81.3L46 81.1L44.7 83.2L41.1 83Z" fill="#4746eb"/>
<path d="M74.6 75.8L78.2 72.4L76.9 72.7L73.4 76.9Z" fill="#3b73ff"/>
<path d="M106.9 79.3L110.4 80.4L109.2 80.8L105.6 79.1Z" fill="#4756f7"/>
<path d="M139.1 82.6L142.7 83.5L141.4 84.7L137.8 83.6Z" fill="#463bde"/>
<path d="M54.3 81.7L57.9 81.5L56.6 82.6L53 82.3Z" fill="#4744e8"/>
<path d="M86.6 61.8L90.1 58.6L88.8 53.6L85.3 57.1Z" fill="#33c79d"/>
<path d="M118.8 81.8L122.4 83.7L121.1 83.8L117.5 82.7Z" fill="#4744e8"/>
<path d="M34 82.7L37.6 82.8L36.3 84.3L32.7 84Z" fill="#473ee1"/>
<path d="M66.3 79.8L69.8 78.5L68.5 80.2L65 81.2Z" fill="#4756f7"/>
<path d="M98.5 72.7L102 77.2L100.8 76.2L97.2 70Z" fill="#2c90f0"/>
<path d="M130.7 83.9L134.3 83.7L133 85.8L129.5 86Z" fill="#4535d2"/>
<path d="M46 81.1L49.5 81.5L48.2 83L44.7 83.2Z" fill="#484cf0"/>
<path d="M78.2 72.4L81.7 65.5L80.5 64.5L76.9 72.7Z" fill="#2994ed"/>
<path d="M110.4 80.4L114 81.6L112.7 82.1L109.2 80.8Z" fill="#4853f5"/>
<path d="M142.7 83.5L146.2 83.6L144.9 85.5L141.4 84.7Z" fill="#463adc"/>
<path d="M57.9 81.5L61.4 81L60.1 82.4L56.6 82.6Z" fill="#484bee"/>
<path d="M90.1 58.6L93.7 62.7L92.4 58.5L88.8 53.6Z" fill="#6ecd66"/>
<path d="M122.4 83.7L125.9 85.6L124.6 86.1L121.1 83.8Z" fill="#4639d9"/>
<path d="M37.6 82.8L41.1 83L39.8 84L36.3 84.3Z" fill="#4741e5"/>
<path d="M69.8 78.5L73.4 76.9L72.1 78.8L68.5 80.2Z" fill="#4465fd"/>
<path d="M102 77.2L105.6 79.1L104.3 79.5L100.8 76.2Z" fill="#3e70ff"/>
<path d="M134.3 83.7L137.8 83.6L136.6 85.7L133 85.8Z" fill="#463bde"/>
<path d="M49.5 81.5L53 82.3L51.8 83.4L48.2 83Z" fill="#484ef1"/>
<path d="M81.7 65.5L85.3 57.1L84 54.5L80.5 64.5Z" fill="#10beba"/>
<path d="M114 81.6L117.5 82.7L116.2 82.8L112.7 82.1Z" fill="#484ef1"/>
<path d="M61.4 81L65 81.2L63.7 82.4L60.1 82.4Z" fill="#4853f5"/>
<path d="M93.7 62.7L97.2 70L95.9 68L92.4 58.5Z" fill="#36c899"/>
<path d="M125.9 85.6L129.5 86L128.2 87.2L124.6 86.1Z" fill="#4331c8"/>
<path d="M41.1 83L44.7 83.2L43.4 84.4L39.8 84Z" fill="#4744e8"/>
<path d="M73.4 76.9L76.9 72.7L75.6 75L72.1 78.8Z" fill="#3579fd"/>
<path d="M105.6 79.1L109.2 80.8L107.9 81.8L104.3 79.5Z" fill="#4465fd"/>
<path d="M137.8 83.6L141.4 84.7L140.1 86.2L136.6 85.7Z" fill="#4741e5"/>
<path d="M53 82.3L56.6 82.6L55.3 84.1L51.8 83.4Z" fill="#484cf0"/>
<path d="M85.3 57.1L88.8 53.6L87.6 49.4L84 54.5Z" fill="#a1c840"/>
<path d="M117.5 82.7L121.1 83.8L119.8 84L116.2 82.8Z" fill="#4849ed"/>
<path d="M32.7 84L36.3 84.3L35 85.7L31.5 85.1Z" fill="#473fe3"/>
<path d="M65 81.2L68.5 80.2L67.2 82L63.7 82.4Z" fill="#4757f7"/>
<path d="M97.2 70L100.8 76.2L99.5 75.8L95.9 68Z" fill="#19addc"/>
<path d="M129.5 86L133 85.8L131.7 87.3L128.2 87.2Z" fill="#4332ca"/>
<path d="M44.7 83.2L48.2 83L46.9 84.4L43.4 84.4Z" fill="#4848ec"/>
<path d="M76.9 72.7L80.5 64.5L79.2 65.9L75.6 75Z" fill="#249ee6"/>
<path d="M109.2 80.8L112.7 82.1L111.4 83.5L107.9 81.8Z" fill="#475bfa"/>
<path d="M141.4 84.7L144.9 85.5L143.7 86.8L140.1 86.2Z" fill="#463bde"/>
<path d="M56.6 82.6L60.1 82.4L58.9 84.1L55.3 84.1Z" fill="#484ff2"/>
<path d="M88.8 53.6L92.4 58.5L91.1 55.4L87.6 49.4Z" fill="#e8bb2e"/>
<path d="M121.1 83.8L124.6 86.1L123.3 86.2L119.8 84Z" fill="#4745e9"/>
<path d="M36.3 84.3L39.8 84L38.6 85.8L35 85.7Z" fill="#4742e6"/>
<path d="M68.5 80.2L72.1 78.8L70.8 81.4L67.2 82Z" fill="#4564fd"/>
<path d="M100.8 76.2L104.3 79.5L103 80.2L99.5 75.8Z" fill="#2e87f7"/>
<path d="M133 85.8L136.6 85.7L135.3 87.5L131.7 87.3Z" fill="#4537d5"/>
<path d="M48.2 83L51.8 83.4L50.5 85L46.9 84.4Z" fill="#484ff2"/>
<path d="M80.5 64.5L84 54.5L82.7 54.4L79.2 65.9Z" fill="#32c69f"/>
<path d="M112.7 82.1L116.2 82.8L115 84.2L111.4 83.5Z" fill="#4756f7"/>
<path d="M60.1 82.4L63.7 82.4L62.4 83.8L58.9 84.1Z" fill="#4854f6"/>
<path d="M92.4 58.5L95.9 68L94.7 67L91.1 55.4Z" fill="#9dc943"/>
<path d="M124.6 86.1L128.2 87.2L126.9 88.3L123.3 86.2Z" fill="#4538d7"/>
<path d="M39.8 84L43.4 84.4L42.1 86.2L38.6 85.8Z" fill="#4849ed"/>
<path d="M72.1 78.8L75.6 75L74.3 78.5L70.8 81.4Z" fill="#3876fe"/>
<path d="M104.3 79.5L107.9 81.8L106.6 82.8L103 80.2Z" fill="#3e70ff"/>
<path d="M136.6 85.7L140.1 86.2L138.8 88.1L135.3 87.5Z" fill="#463de0"/>
<path d="M51.8 83.4L55.3 84.1L54 85.4L50.5 85Z" fill="#4850f3"/>
<path d="M84 54.5L87.6 49.4L86.3 47.9L82.7 54.4Z" fill="#eaba30"/>
<path d="M116.2 82.8L119.8 84L118.5 85.7L115 84.2Z" fill="#4756f7"/>
<path d="M31.5 85.1L35 85.7L33.7 87.4L30.2 87.1Z" fill="#4744e8"/>
<path d="M63.7 82.4L67.2 82L66 83.7L62.4 83.8Z" fill="#475af9"/>
<path d="M95.9 68L99.5 75.8L98.2 76.5L94.7 67Z" fill="#0dbdbc"/>
<path d="M128.2 87.2L131.7 87.3L130.4 89.5L126.9 88.3Z" fill="#4434d0"/>
<path d="M43.4 84.4L46.9 84.4L45.7 86.4L42.1 86.2Z" fill="#484bee"/>
<path d="M75.6 75L79.2 65.9L77.9 69.4L74.3 78.5Z" fill="#2699e9"/>
<path d="M107.9 81.8L111.4 83.5L110.1 84.5L106.6 82.8Z" fill="#4661fc"/>
<path d="M140.1 86.2L143.7 86.8L142.4 89L138.8 88.1Z" fill="#463de0"/>
<path d="M55.3 84.1L58.9 84.1L57.6 85.3L54 85.4Z" fill="#484ff2"/>
<path d="M87.6 49.4L91.1 55.4L89.8 54.4L86.3 47.9Z" fill="#f5e128"/>
<path d="M119.8 84L123.3 86.2L122.1 87.3L118.5 85.7Z" fill="#4850f3"/>
<path d="M35 85.7L38.6 85.8L37.3 87.7L33.7 87.4Z" fill="#4744e8"/>
<path d="M67.2 82L70.8 81.4L69.5 83.5L66 83.7Z" fill="#4562fc"/>
<path d="M99.5 75.8L103 80.2L101.8 81.8L98.2 76.5Z" fill="#2895ec"/>
<path d="M131.7 87.3L135.3 87.5L134 89.3L130.4 89.5Z" fill="#4538d7"/>
<path d="M46.9 84.4L50.5 85L49.2 87L45.7 86.4Z" fill="#4850f3"/>
<path d="M79.2 65.9L82.7 54.4L81.5 57L77.9 69.4Z" fill="#33c79d"/>
<path d="M111.4 83.5L115 84.2L113.7 85.4L110.1 84.5Z" fill="#4759f8"/>
<path d="M58.9 84.1L62.4 83.8L61.1 85.4L57.6 85.3Z" fill="#4854f6"/>
<path d="M91.1 55.4L94.7 67L93.4 67.7L89.8 54.4Z" fill="#efba35"/>
<path d="M123.3 86.2L126.9 88.3L125.6 89.5L122.1 87.3Z" fill="#4744e8"/>
<path d="M38.6 85.8L42.1 86.2L40.8 88.1L37.3 87.7Z" fill="#4848ec"/>
<path d="M70.8 81.4L74.3 78.5L73.1 81L69.5 83.5Z" fill="#406dfe"/>
<path d="M103 80.2L106.6 82.8L105.3 84.5L101.8 81.8Z" fill="#3677fe"/>
<path d="M135.3 87.5L138.8 88.1L137.5 89.5L134 89.3Z" fill="#463bde"/>
<path d="M50.5 85L54 85.4L52.8 87.1L49.2 87Z" fill="#4850f3"/>
<path d="M82.7 54.4L86.3 47.9L85 50.6L81.5 57Z" fill="#febd3d"/>
<path d="M115 84.2L118.5 85.7L117.2 87.5L113.7 85.4Z" fill="#4757f7"/>
<path d="M30.2 87.1L33.7 87.4L32.5 89.5L28.9 88.9Z" fill="#473fe3"/>
<path d="M62.4 83.8L66 83.7L64.7 85.7L61.1 85.4Z" fill="#475bfa"/>
<path d="M94.7 67L98.2 76.5L96.9 78.6L93.4 67.7Z" fill="#31c5a1"/>
<path d="M126.9 88.3L130.4 89.5L129.2 91L125.6 89.5Z" fill="#4538d7"/>
<path d="M42.1 86.2L45.7 86.4L44.4 88.6L40.8 88.1Z" fill="#4849ed"/>
<path d="M74.3 78.5L77.9 69.4L76.6 73.3L73.1 81Z" fill="#2d8af5"/>
<path d="M106.6 82.8L110.1 84.5L108.9 86.4L105.3 84.5Z" fill="#4465fd"/>
<path d="M138.8 88.1L142.4 89L141.1 90.5L137.5 89.5Z" fill="#463adc"/>
<path d="M54 85.4L57.6 85.3L56.3 87.4L52.8 87.1Z" fill="#4852f4"/>
<path d="M86.3 47.9L89.8 54.4L88.5 56.8L85 50.6Z" fill="#f9fb15"/>
<path d="M118.5 85.7L122.1 87.3L120.8 88.7L117.2 87.5Z" fill="#4850f3"/>
<path d="M33.7 87.4L37.3 87.7L36 90L32.5 89.5Z" fill="#4744e8"/>
<path d="M66 83.7L69.5 83.5L68.2 85.4L64.7 85.7Z" fill="#4661fc"/>
<path d="M98.2 76.5L101.8 81.8L100.5 84.6L96.9 78.6Z" fill="#259ce7"/>
<path d="M130.4 89.5L134 89.3L132.7 91.1L129.2 91Z" fill="#4434d0"/>
<path d="M45.7 86.4L49.2 87L47.9 89L44.4 88.6Z" fill="#484cf0"/>
<path d="M77.9 69.4L81.5 57L80.2 61.7L76.6 73.3Z" fill="#20c1b1"/>
<path d="M110.1 84.5L113.7 85.4L112.4 87.3L108.9 86.4Z" fill="#475dfa"/>
<path d="M57.6 85.3L61.1 85.4L59.9 87.7L56.3 87.4Z" fill="#4757f7"/>
<path d="M89.8 54.4L93.4 67.7L92.1 69.8L88.5 56.8Z" fill="#fec735"/>
<path d="M122.1 87.3L125.6 89.5L124.3 90.7L120.8 88.7Z" fill="#4848ec"/>
<path d="M37.3 87.7L40.8 88.1L39.5 90.2L36 90Z" fill="#4745e9"/>
<path d="M69.5 83.5L73.1 81L71.8 82.8L68.2 85.4Z" fill="#4368fe"/>
<path d="M101.8 81.8L105.3 84.5L104 87.3L100.5 84.6Z" fill="#3677fe"/>
<path d="M134 89.3L137.5 89.5L136.3 91.1L132.7 91.1Z" fill="#4639d9"/>
<path d="M49.2 87L52.8 87.1L51.5 89.1L47.9 89Z" fill="#484cf0"/>
<path d="M81.5 57L85 50.6L83.7 56.8L80.2 61.7Z" fill="#f3ba39"/>
<path d="M113.7 85.4L117.2 87.5L116 88.8L112.4 87.3Z" fill="#475af9"/>
<path d="M28.9 88.9L32.5 89.5L31.2 91.3L27.6 90.6Z" fill="#473ee1"/>
<path d="M61.1 85.4L64.7 85.7L63.4 87.9L59.9 87.7Z" fill="#475bfa"/>
<path d="M93.4 67.7L96.9 78.6L95.6 80.5L92.1 69.8Z" fill="#39c994"/>
<path d="M125.6 89.5L129.2 91L127.9 92.5L124.3 90.7Z" fill="#463adc"/>
<path d="M40.8 88.1L44.4 88.6L43.1 90.3L39.5 90.2Z" fill="#4848ec"/>
<path d="M73.1 81L76.6 73.3L75.3 77.2L71.8 82.8Z" fill="#2e83f9"/>
<path d="M105.3 84.5L108.9 86.4L107.6 88.5L104 87.3Z" fill="#4564fd"/>
<path d="M137.5 89.5L141.1 90.5L139.8 91.5L136.3 91.1Z" fill="#463bde"/>
<path d="M52.8 87.1L56.3 87.4L55 89.3L51.5 89.1Z" fill="#4850f3"/>
<path d="M85 50.6L88.5 56.8L87.3 62.1L83.7 56.8Z" fill="#f6f21e"/>
<path d="M117.2 87.5L120.8 88.7L119.5 90.1L116 88.8Z" fill="#484ff2"/>
<path d="M32.5 89.5L36 90L34.7 91.4L31.2 91.3Z" fill="#473ee1"/>
<path d="M64.7 85.7L68.2 85.4L67 87.7L63.4 87.9Z" fill="#465efb"/>
<path d="M96.9 78.6L100.5 84.6L99.2 86.5L95.6 80.5Z" fill="#2699e9"/>
<path d="M129.2 91L132.7 91.1L131.4 93.1L127.9 92.5Z" fill="#4434d0"/>
<path d="M44.4 88.6L47.9 89L46.6 90.5L43.1 90.3Z" fill="#4848ec"/>
<path d="M76.6 73.3L80.2 61.7L78.9 69.2L75.3 77.2Z" fill="#00b9c7"/>
<path d="M108.9 86.4L112.4 87.3L111.1 88.9L107.6 88.5Z" fill="#475af9"/>
<path d="M56.3 87.4L59.9 87.7L58.6 89.8L55 89.3Z" fill="#4853f5"/>
<path d="M88.5 56.8L92.1 69.8L90.8 73.3L87.3 62.1Z" fill="#fec03b"/>
<path d="M120.8 88.7L124.3 90.7L123.1 92L119.5 90.1Z" fill="#4849ed"/>
<path d="M36 90L39.5 90.2L38.3 91.9L34.7 91.4Z" fill="#473fe3"/>
<path d="M68.2 85.4L71.8 82.8L70.5 86L67 87.7Z" fill="#4465fd"/>
<path d="M100.5 84.6L104 87.3L102.8 88.9L99.2 86.5Z" fill="#406dfe"/>
<path d="M132.7 91.1L136.3 91.1L135 93.1L131.4 93.1Z" fill="#4538d7"/>
<path d="M47.9 89L51.5 89.1L50.2 90.9L46.6 90.5Z" fill="#4849ed"/>
<path d="M80.2 61.7L83.7 56.8L82.4 66.2L78.9 69.2Z" fill="#c5c22a"/>
<path d="M112.4 87.3L116 88.8L114.7 90.4L111.1 88.9Z" fill="#4757f7"/>
<path d="M27.6 90.6L31.2 91.3L29.9 92.8L26.3 92.6Z" fill="#473ee1"/>
<path d="M59.9 87.7L63.4 87.9L62.1 90.1L58.6 89.8Z" fill="#4756f7"/>
<path d="M92.1 69.8L95.6 80.5L94.4 82.9L90.8 73.3Z" fill="#35c79b"/>
<path d="M124.3 90.7L127.9 92.5L126.6 93.7L123.1 92Z" fill="#473ee1"/>
<path d="M39.5 90.2L43.1 90.3L41.8 92.2L38.3 91.9Z" fill="#4742e6"/>
<path d="M71.8 82.8L75.3 77.2L74.1 82L70.5 86Z" fill="#2f82fa"/>
<path d="M104 87.3L107.6 88.5L106.3 89.7L102.8 88.9Z" fill="#475bfa"/>
<path d="M136.3 91.1L139.8 91.5L138.5 93.4L135 93.1Z" fill="#463de0"/>
<path d="M51.5 89.1L55 89.3L53.7 91.6L50.2 90.9Z" fill="#484ef1"/>
<path d="M83.7 56.8L87.3 62.1L86 70.5L82.4 66.2Z" fill="#fec834"/>
<path d="M116 88.8L119.5 90.1L118.2 91.9L114.7 90.4Z" fill="#4850f3"/>
<path d="M31.2 91.3L34.7 91.4L33.4 92.8L29.9 92.8Z" fill="#463de0"/>
<path d="M63.4 87.9L67 87.7L65.7 90.1L62.1 90.1Z" fill="#4759f8"/>
<path d="M95.6 80.5L99.2 86.5L97.9 88.2L94.4 82.9Z" fill="#2797eb"/>
<path d="M127.9 92.5L131.4 93.1L130.2 94.3L126.6 93.7Z" fill="#4535d2"/>
<path d="M43.1 90.3L46.6 90.5L45.4 92.4L41.8 92.2Z" fill="#4746eb"/>
<path d="M75.3 77.2L78.9 69.2L77.6 77L74.1 82Z" fill="#19addc"/>
<path d="M107.6 88.5L111.1 88.9L109.8 91.1L106.3 89.7Z" fill="#4756f7"/>
<path d="M55 89.3L58.6 89.8L57.3 92.2L53.7 91.6Z" fill="#4850f3"/>
<path d="M87.3 62.1L90.8 73.3L89.5 78.9L86 70.5Z" fill="#d0bf27"/>
<path d="M119.5 90.1L123.1 92L121.8 93.7L118.2 91.9Z" fill="#484bee"/>
<path d="M34.7 91.4L38.3 91.9L37 93.6L33.4 92.8Z" fill="#4741e5"/>
<path d="M67 87.7L70.5 86L69.2 89.3L65.7 90.1Z" fill="#4660fb"/>
<path d="M99.2 86.5L102.8 88.9L101.5 90.4L97.9 88.2Z" fill="#426afe"/>
<path d="M131.4 93.1L135 93.1L133.7 94.2L130.2 94.3Z" fill="#4434d0"/>
<path d="M46.6 90.5L50.2 90.9L48.9 92.9L45.4 92.4Z" fill="#4849ed"/>
<path d="M78.9 69.2L82.4 66.2L81.2 75.5L77.6 77Z" fill="#4ecc81"/>
<path d="M111.1 88.9L114.7 90.4L113.4 92.4L109.8 91.1Z" fill="#4757f7"/>
<path d="M26.3 92.6L29.9 92.8L28.6 94.1L25.1 94.2Z" fill="#463adc"/>
<path d="M58.6 89.8L62.1 90.1L60.9 92.4L57.3 92.2Z" fill="#4852f4"/>
<path d="M90.8 73.3L94.4 82.9L93.1 86.3L89.5 78.9Z" fill="#23c1af"/>
<path d="M123.1 92L126.6 93.7L125.3 95L121.8 93.7Z" fill="#473fe3"/>
<path d="M38.3 91.9L41.8 92.2L40.5 94.4L37 93.6Z" fill="#4742e6"/>
<path d="M70.5 86L74.1 82L72.8 86.8L69.2 89.3Z" fill="#3b73ff"/>
<path d="M102.8 88.9L106.3 89.7L105 91.2L101.5 90.4Z" fill="#475bfa"/>
<path d="M135 93.1L138.5 93.4L137.3 94.3L133.7 94.2Z" fill="#4639d9"/>
<path d="M50.2 90.9L53.7 91.6L52.5 93.7L48.9 92.9Z" fill="#484cf0"/>
<path d="M82.4 66.2L86 70.5L84.7 78.3L81.2 75.5Z" fill="#96ca48"/>
<path d="M114.7 90.4L118.2 91.9L116.9 93.4L113.4 92.4Z" fill="#4850f3"/>
<path d="M29.9 92.8L33.4 92.8L32.2 94.9L28.6 94.1Z" fill="#473ee1"/>
<path d="M62.1 90.1L65.7 90.1L64.4 92.7L60.9 92.4Z" fill="#4854f6"/>
<path d="M94.4 82.9L97.9 88.2L96.6 89.9L93.1 86.3Z" fill="#2c90f0"/>
<path d="M126.6 93.7L130.2 94.3L128.9 95.5L125.3 95Z" fill="#4538d7"/>
<path d="M41.8 92.2L45.4 92.4L44.1 94.8L40.5 94.4Z" fill="#4744e8"/>
<path d="M74.1 82L77.6 77L76.3 83.7L72.8 86.8Z" fill="#2798ea"/>
<path d="M106.3 89.7L109.8 91.1L108.6 92.6L105 91.2Z" fill="#4759f8"/>
<path d="M53.7 91.6L57.3 92.2L56 93.9L52.5 93.7Z" fill="#484bee"/>
<path d="M86 70.5L89.5 78.9L88.3 84.1L84.7 78.3Z" fill="#4ecc81"/>
<path d="M118.2 91.9L121.8 93.7L120.5 94.8L116.9 93.4Z" fill="#4849ed"/>
<path d="M33.4 92.8L37 93.6L35.7 95.5L32.2 94.9Z" fill="#4742e6"/>
<path d="M65.7 90.1L69.2 89.3L68 92L64.4 92.7Z" fill="#4759f8"/>
<path d="M97.9 88.2L101.5 90.4L100.2 92.1L96.6 89.9Z" fill="#4368fe"/>
<path d="M130.2 94.3L133.7 94.2L132.4 95.9L128.9 95.5Z" fill="#4538d7"/>
<path d="M45.4 92.4L48.9 92.9L47.6 95.3L44.1 94.8Z" fill="#4848ec"/>
<path d="M77.6 77L81.2 75.5L79.9 83L76.3 83.7Z" fill="#00b9c7"/>
<path d="M109.8 91.1L113.4 92.4L112.1 93.7L108.6 92.6Z" fill="#4853f5"/>
<path d="M25.1 94.2L28.6 94.1L27.3 96.2L23.8 95.8Z" fill="#463adc"/>
<path d="M57.3 92.2L60.9 92.4L59.6 94.1L56 93.9Z" fill="#484bee"/>
<path d="M89.5 78.9L93.1 86.3L91.8 89.6L88.3 84.1Z" fill="#12b1d6"/>
<path d="M121.8 93.7L125.3 95L124 95.7L120.5 94.8Z" fill="#473fe3"/>
<path d="M37 93.6L40.5 94.4L39.3 96L35.7 95.5Z" fill="#4741e5"/>
<path d="M69.2 89.3L72.8 86.8L71.5 90.7L68 92Z" fill="#4465fd"/>
<path d="M101.5 90.4L105 91.2L103.7 93.3L100.2 92.1Z" fill="#475bfa"/>
<path d="M133.7 94.2L137.3 94.3L136 95.7L132.4 95.9Z" fill="#463de0"/>
<path d="M48.9 92.9L52.5 93.7L51.2 95.4L47.6 95.3Z" fill="#4849ed"/>
<path d="M81.2 75.5L84.7 78.3L83.4 84.6L79.9 83Z" fill="#1dc0b3"/>
<path d="M113.4 92.4L116.9 93.4L115.7 95.1L112.1 93.7Z" fill="#484cf0"/>
<path d="M28.6 94.1L32.2 94.9L30.9 96.9L27.3 96.2Z" fill="#473fe3"/>
<path d="M60.9 92.4L64.4 92.7L63.1 94.6L59.6 94.1Z" fill="#484ef1"/>
<path d="M93.1 86.3L96.6 89.9L95.4 92.3L91.8 89.6Z" fill="#2f82fa"/>
<path d="M125.3 95L128.9 95.5L127.6 96.3L124 95.7Z" fill="#463adc"/>
<path d="M40.5 94.4L44.1 94.8L42.8 96.1L39.3 96Z" fill="#473fe3"/>
<path d="M72.8 86.8L76.3 83.7L75.1 89.2L71.5 90.7Z" fill="#2f80fa"/>
<path d="M105 91.2L108.6 92.6L107.3 94.8L103.7 93.3Z" fill="#475af9"/>
<path d="M52.5 93.7L56 93.9L54.7 95.9L51.2 95.4Z" fill="#4746eb"/>
<path d="M84.7 78.3L88.3 84.1L87 88.3L83.4 84.6Z" fill="#00b8c9"/>
<path d="M116.9 93.4L120.5 94.8L119.2 96.1L115.7 95.1Z" fill="#4849ed"/>
<path d="M32.2 94.9L35.7 95.5L34.4 97.3L30.9 96.9Z" fill="#473ee1"/>
<path d="M64.4 92.7L68 92L66.7 94.2L63.1 94.6Z" fill="#4850f3"/>
<path d="M96.6 89.9L100.2 92.1L98.9 94.3L95.4 92.3Z" fill="#4368fe"/>
<path d="M128.9 95.5L132.4 95.9L131.2 97.2L127.6 96.3Z" fill="#463adc"/>
<path d="M44.1 94.8L47.6 95.3L46.4 96.9L42.8 96.1Z" fill="#4741e5"/>
<path d="M76.3 83.7L79.9 83L78.6 88.8L75.1 89.2Z" fill="#259be8"/>
<path d="M108.6 92.6L112.1 93.7L110.8 96.1L107.3 94.8Z" fill="#4853f5"/>
<path d="M23.8 95.8L27.3 96.2L26.1 97.6L22.5 97.3Z" fill="#463adc"/>
<path d="M56 93.9L59.6 94.1L58.3 96.1L54.7 95.9Z" fill="#4849ed"/>
<path d="M88.3 84.1L91.8 89.6L90.5 92.2L87 88.3Z" fill="#269ae8"/>
<path d="M120.5 94.8L124 95.7L122.8 96.8L119.2 96.1Z" fill="#4744e8"/>
<path d="M35.7 95.5L39.3 96L38 97.8L34.4 97.3Z" fill="#473ee1"/>
<path d="M68 92L71.5 90.7L70.2 93.7L66.7 94.2Z" fill="#475bfa"/>
<path d="M100.2 92.1L103.7 93.3L102.5 94.9L98.9 94.3Z" fill="#475af9"/>
<path d="M132.4 95.9L136 95.7L134.7 97.5L131.2 97.2Z" fill="#463de0"/>
<path d="M47.6 95.3L51.2 95.4L49.9 97.2L46.4 96.9Z" fill="#4741e5"/>
<path d="M79.9 83L83.4 84.6L82.2 89.5L78.6 88.8Z" fill="#20a5e3"/>
<path d="M112.1 93.7L115.7 95.1L114.4 97.1L110.8 96.1Z" fill="#484ff2"/>
<path d="M27.3 96.2L30.9 96.9L29.6 98.3L26.1 97.6Z" fill="#463bde"/>
<path d="M59.6 94.1L63.1 94.6L61.8 96.6L58.3 96.1Z" fill="#484ef1"/>
<path d="M91.8 89.6L95.4 92.3L94.1 94.5L90.5 92.2Z" fill="#3b73ff"/>
<path d="M124 95.7L127.6 96.3L126.3 97.4L122.8 96.8Z" fill="#4741e5"/>
<path d="M39.3 96L42.8 96.1L41.5 98.1L38 97.8Z" fill="#473fe3"/>
<path d="M71.5 90.7L75.1 89.2L73.8 92.6L70.2 93.7Z" fill="#416bfe"/>
<path d="M103.7 93.3L107.3 94.8L106 96.6L102.5 94.9Z" fill="#4756f7"/>
<path d="M51.2 95.4L54.7 95.9L53.5 97.7L49.9 97.2Z" fill="#4745e9"/>
<path d="M83.4 84.6L87 88.3L85.7 91.8L82.2 89.5Z" fill="#249ee6"/>
<path d="M115.7 95.1L119.2 96.1L117.9 97.8L114.4 97.1Z" fill="#4849ed"/>
<path d="M30.9 96.9L34.4 97.3L33.1 98.9L29.6 98.3Z" fill="#463adc"/>
<path d="M63.1 94.6L66.7 94.2L65.4 96.8L61.8 96.6Z" fill="#484ef1"/>
<path d="M95.4 92.3L98.9 94.3L97.6 96L94.1 94.5Z" fill="#4661fc"/>
<path d="M127.6 96.3L131.2 97.2L129.9 98.5L126.3 97.4Z" fill="#4741e5"/>
<path d="M42.8 96.1L46.4 96.9L45.1 98.6L41.5 98.1Z" fill="#4744e8"/>
<path d="M75.1 89.2L78.6 88.8L77.3 92.6L73.8 92.6Z" fill="#317dfc"/>
<path d="M107.3 94.8L110.8 96.1L109.6 97.6L106 96.6Z" fill="#484ef1"/>
<path d="M54.7 95.9L58.3 96.1L57 98.3L53.5 97.7Z" fill="#4746eb"/>
<path d="M87 88.3L90.5 92.2L89.2 94.5L85.7 91.8Z" fill="#2e87f7"/>
<path d="M119.2 96.1L122.8 96.8L121.5 98.7L117.9 97.8Z" fill="#4745e9"/>
<path d="M34.4 97.3L38 97.8L36.7 99.1L33.1 98.9Z" fill="#463de0"/>
<path d="M66.7 94.2L70.2 93.7L68.9 96.4L65.4 96.8Z" fill="#4756f7"/>
<path d="M98.9 94.3L102.5 94.9L101.2 96.7L97.6 96Z" fill="#4756f7"/>
<path d="M131.2 97.2L134.7 97.5L133.4 99.6L129.9 98.5Z" fill="#473ee1"/>
<path d="M46.4 96.9L49.9 97.2L48.6 99.1L45.1 98.6Z" fill="#4742e6"/>
<path d="M78.6 88.8L82.2 89.5L80.9 93.1L77.3 92.6Z" fill="#2e86f8"/>
<path d="M110.8 96.1L114.4 97.1L113.1 98.4L109.6 97.6Z" fill="#4848ec"/>
<path d="M58.3 96.1L61.8 96.6L60.6 98.9L57 98.3Z" fill="#4849ed"/>
<path d="M90.5 92.2L94.1 94.5L92.8 96.7L89.2 94.5Z" fill="#416bfe"/>
<path d="M122.8 96.8L126.3 97.4L125 99.2L121.5 98.7Z" fill="#4745e9"/>
<path d="M38 97.8L41.5 98.1L40.2 99.6L36.7 99.1Z" fill="#463de0"/>
<path d="M70.2 93.7L73.8 92.6L72.5 95.6L68.9 96.4Z" fill="#4660fb"/>
<path d="M102.5 94.9L106 96.6L104.7 98.6L101.2 96.7Z" fill="#4756f7"/>
<path d="M49.9 97.2L53.5 97.7L52.2 99.5L48.6 99.1Z" fill="#4744e8"/>
<path d="M82.2 89.5L85.7 91.8L84.4 94L80.9 93.1Z" fill="#2e84f8"/>
<path d="M114.4 97.1L117.9 97.8L116.7 99.2L113.1 98.4Z" fill="#4745e9"/>
<path d="M61.8 96.6L65.4 96.8L64.1 98.8L60.6 98.9Z" fill="#484bee"/>
<path d="M94.1 94.5L97.6 96L96.4 97.6L92.8 96.7Z" fill="#475dfa"/>
<path d="M126.3 97.4L129.9 98.5L128.6 99.9L125 99.2Z" fill="#4745e9"/>
<path d="M41.5 98.1L45.1 98.6L43.8 100.1L40.2 99.6Z" fill="#473fe3"/>
<path d="M73.8 92.6L77.3 92.6L76 95.4L72.5 95.6Z" fill="#406dfe"/>
<path d="M106 96.6L109.6 97.6L108.3 99.8L104.7 98.6Z" fill="#484ef1"/>
<path d="M53.5 97.7L57 98.3L55.7 100.3L52.2 99.5Z" fill="#4745e9"/>
<path d="M85.7 91.8L89.2 94.5L88 95.2L84.4 94Z" fill="#3876fe"/>
<path d="M117.9 97.8L121.5 98.7L120.2 100.3L116.7 99.2Z" fill="#4745e9"/>
<path d="M65.4 96.8L68.9 96.4L67.7 98.5L64.1 98.8Z" fill="#484ff2"/>
<path d="M97.6 96L101.2 96.7L99.9 98.4L96.4 97.6Z" fill="#4854f6"/>
<path d="M129.9 98.5L133.4 99.6L132.1 101.2L128.6 99.9Z" fill="#4741e5"/>
<path d="M45.1 98.6L48.6 99.1L47.3 101L43.8 100.1Z" fill="#4741e5"/>
<path d="M77.3 92.6L80.9 93.1L79.6 95.7L76 95.4Z" fill="#3b73ff"/>
<path d="M109.6 97.6L113.1 98.4L111.8 100.5L108.3 99.8Z" fill="#4849ed"/>
<path d="M57 98.3L60.6 98.9L59.3 100.9L55.7 100.3Z" fill="#4745e9"/>
<path d="M89.2 94.5L92.8 96.7L91.5 97.2L88 95.2Z" fill="#4564fd"/>
<path d="M121.5 98.7L125 99.2L123.8 101.4L120.2 100.3Z" fill="#4742e6"/>
<path d="M68.9 96.4L72.5 95.6L71.2 98.5L67.7 98.5Z" fill="#4756f7"/>
<path d="M101.2 96.7L104.7 98.6L103.5 99.9L99.9 98.4Z" fill="#4854f6"/>
<path d="M48.6 99.1L52.2 99.5L50.9 101.7L47.3 101Z" fill="#4742e6"/>
<path d="M80.9 93.1L84.4 94L83.1 96.5L79.6 95.7Z" fill="#3974ff"/>
<path d="M113.1 98.4L116.7 99.2L115.4 100.9L111.8 100.5Z" fill="#4848ec"/>
<path d="M60.6 98.9L64.1 98.8L62.8 101.3L59.3 100.9Z" fill="#4745e9"/>
<path d="M92.8 96.7L96.4 97.6L95.1 98.6L91.5 97.2Z" fill="#4757f7"/>
<path d="M125 99.2L128.6 99.9L127.3 102.2L123.8 101.4Z" fill="#4742e6"/>
<path d="M72.5 95.6L76 95.4L74.8 98.6L71.2 98.5Z" fill="#4661fc"/>
<path d="M104.7 98.6L108.3 99.8L107 101.2L103.5 99.9Z" fill="#4849ed"/>
<path d="M52.2 99.5L55.7 100.3L54.5 102.5L50.9 101.7Z" fill="#4744e8"/>
<path d="M84.4 94L88 95.2L86.7 97.2L83.1 96.5Z" fill="#3c71ff"/>
<path d="M116.7 99.2L120.2 100.3L118.9 101.8L115.4 100.9Z" fill="#4745e9"/>
<path d="M64.1 98.8L67.7 98.5L66.4 101.3L62.8 101.3Z" fill="#484bee"/>
<path d="M96.4 97.6L99.9 98.4L98.6 100.2L95.1 98.6Z" fill="#4854f6"/>
<path d="M128.6 99.9L132.1 101.2L130.9 103.1L127.3 102.2Z" fill="#4742e6"/>
<path d="M76 95.4L79.6 95.7L78.3 98.7L74.8 98.6Z" fill="#4368fe"/>
<path d="M108.3 99.8L111.8 100.5L110.5 102.2L107 101.2Z" fill="#4745e9"/>
<path d="M55.7 100.3L59.3 100.9L58 102.7L54.5 102.5Z" fill="#4742e6"/>
<path d="M88 95.2L91.5 97.2L90.2 98.9L86.7 97.2Z" fill="#416bfe"/>
<path d="M120.2 100.3L123.8 101.4L122.5 103.1L118.9 101.8Z" fill="#4742e6"/>
<path d="M67.7 98.5L71.2 98.5L69.9 101.2L66.4 101.3Z" fill="#4852f4"/>
<path d="M99.9 98.4L103.5 99.9L102.2 101.7L98.6 100.2Z" fill="#4853f5"/>
<path d="M79.6 95.7L83.1 96.5L81.9 98.9L78.3 98.7Z" fill="#416bfe"/>
<path d="M111.8 100.5L115.4 100.9L114.1 103L110.5 102.2Z" fill="#4744e8"/>
<path d="M59.3 100.9L62.8 101.3L61.5 103.8L58 102.7Z" fill="#4742e6"/>
<path d="M91.5 97.2L95.1 98.6L93.8 100.7L90.2 98.9Z" fill="#4660fb"/>
<path d="M123.8 101.4L127.3 102.2L126 103.9L122.5 103.1Z" fill="#473ee1"/>
<path d="M71.2 98.5L74.8 98.6L73.5 101.3L69.9 101.2Z" fill="#4757f7"/>
<path d="M103.5 99.9L107 101.2L105.7 102.6L102.2 101.7Z" fill="#484cf0"/>
<path d="M83.1 96.5L86.7 97.2L85.4 99.6L81.9 98.9Z" fill="#4368fe"/>
<path d="M115.4 100.9L118.9 101.8L117.7 103.7L114.1 103Z" fill="#4745e9"/>
<path d="M62.8 101.3L66.4 101.3L65.1 103.9L61.5 103.8Z" fill="#4744e8"/>
<path d="M95.1 98.6L98.6 100.2L97.3 102L93.8 100.7Z" fill="#4759f8"/>
<path d="M127.3 102.2L130.9 103.1L129.6 104.4L126 103.9Z" fill="#463de0"/>
<path d="M74.8 98.6L78.3 98.7L77 101.6L73.5 101.3Z" fill="#475bfa"/>
<path d="M107 101.2L110.5 102.2L109.3 103.6L105.7 102.6Z" fill="#4745e9"/>
<path d="M86.7 97.2L90.2 98.9L89 100.9L85.4 99.6Z" fill="#4368fe"/>
<path d="M118.9 101.8L122.5 103.1L121.2 104.9L117.7 103.7Z" fill="#4742e6"/>
<path d="M66.4 101.3L69.9 101.2L68.7 103.9L65.1 103.9Z" fill="#4848ec"/>
<path d="M98.6 100.2L102.2 101.7L100.9 102.9L97.3 102Z" fill="#4850f3"/>
<path d="M78.3 98.7L81.9 98.9L80.6 101.8L77 101.6Z" fill="#465efb"/>
<path d="M110.5 102.2L114.1 103L112.8 105.1L109.3 103.6Z" fill="#4742e6"/>
<path d="M90.2 98.9L93.8 100.7L92.5 102.4L89 100.9Z" fill="#4660fb"/>
<path d="M122.5 103.1L126 103.9L124.8 105.5L121.2 104.9Z" fill="#463de0"/>
<path d="M69.9 101.2L73.5 101.3L72.2 104L68.7 103.9Z" fill="#484ef1"/>
<path d="M102.2 101.7L105.7 102.6L104.4 103.9L100.9 102.9Z" fill="#4849ed"/>
<path d="M81.9 98.9L85.4 99.6L84.1 102.7L80.6 101.8Z" fill="#4562fc"/>
<path d="M114.1 103L117.7 103.7L116.4 105.6L112.8 105.1Z" fill="#4741e5"/>
<path d="M93.8 100.7L97.3 102L96.1 103.9L92.5 102.4Z" fill="#4756f7"/>
<path d="M126 103.9L129.6 104.4L128.3 106.1L124.8 105.5Z" fill="#463bde"/>
<path d="M73.5 101.3L77 101.6L75.8 104.6L72.2 104Z" fill="#4852f4"/>
<path d="M105.7 102.6L109.3 103.6L108 105.4L104.4 103.9Z" fill="#4746eb"/>
<path d="M85.4 99.6L89 100.9L87.7 103.8L84.1 102.7Z" fill="#4661fc"/>
<path d="M117.7 103.7L121.2 104.9L119.9 106.7L116.4 105.6Z" fill="#4741e5"/>
<path d="M97.3 102L100.9 102.9L99.6 104.8L96.1 103.9Z" fill="#4850f3"/>
<path d="M77 101.6L80.6 101.8L79.3 105.4L75.8 104.6Z" fill="#4854f6"/>
<path d="M109.3 103.6L112.8 105.1L111.5 106.6L108 105.4Z" fill="#4745e9"/>
<path d="M89 100.9L92.5 102.4L91.2 105.1L87.7 103.8Z" fill="#475bfa"/>
<path d="M121.2 104.9L124.8 105.5L123.5 106.9L119.9 106.7Z" fill="#463bde"/>
<path d="M100.9 102.9L104.4 103.9L103.2 105.9L99.6 104.8Z" fill="#484ef1"/>
<path d="M80.6 101.8L84.1 102.7L82.8 106.2L79.3 105.4Z" fill="#4757f7"/>
<path d="M112.8 105.1L116.4 105.6L115.1 106.7L111.5 106.6Z" fill="#463de0"/>
<path d="M92.5 102.4L96.1 103.9L94.8 106L91.2 105.1Z" fill="#4854f6"/>
<path d="M124.8 105.5L128.3 106.1L127 107.4L123.5 106.9Z" fill="#463bde"/>
<path d="M104.4 103.9L108 105.4L106.7 107.2L103.2 105.9Z" fill="#484bee"/>
<path d="M84.1 102.7L87.7 103.8L86.4 106.8L82.8 106.2Z" fill="#4854f6"/>
<path d="M116.4 105.6L119.9 106.7L118.6 107.8L115.1 106.7Z" fill="#473ee1"/>
<path d="M96.1 103.9L99.6 104.8L98.3 106.9L94.8 106Z" fill="#484ef1"/>
<path d="M108 105.4L111.5 106.6L110.3 108.1L106.7 107.2Z" fill="#4742e6"/>
<path d="M87.7 103.8L91.2 105.1L90 107.5L86.4 106.8Z" fill="#4850f3"/>
<path d="M119.9 106.7L123.5 106.9L122.2 108.7L118.6 107.8Z" fill="#463adc"/>
<path d="M99.6 104.8L103.2 105.9L101.9 108.1L98.3 106.9Z" fill="#484bee"/>
<path d="M111.5 106.6L115.1 106.7L113.8 108.5L110.3 108.1Z" fill="#463de0"/>
<path d="M91.2 105.1L94.8 106L93.5 108.3L90 107.5Z" fill="#484cf0"/>
<path d="M123.5 106.9L127 107.4L125.7 109.4L122.2 108.7Z" fill="#463de0"/>
<path d="M103.2 105.9L106.7 107.2L105.4 109.1L101.9 108.1Z" fill="#4746eb"/>
<path d="M115.1 106.7L118.6 107.8L117.4 109.5L113.8 108.5Z" fill="#4742e6"/>
<path d="M94.8 106L98.3 106.9L97 109.3L93.5 108.3Z" fill="#4849ed"/>
<path d="M106.7 107.2L110.3 108.1L109 109.9L105.4 109.1Z" fill="#4741e5"/>
<path d="M118.6 107.8L122.2 108.7L120.9 110.3L117.4 109.5Z" fill="#473ee1"/>
<path d="M98.3 106.9L101.9 108.1L100.6 110.2L97 109.3Z" fill="#4746eb"/>
<path d="M110.3 108.1L113.8 108.5L112.5 110.6L109 109.9Z" fill="#473ee1"/>
<path d="M122.2 108.7L125.7 109.4L124.5 110.6L120.9 110.3Z" fill="#463bde"/>
<path d="M101.9 108.1L105.4 109.1L104.1 110.8L100.6 110.2Z" fill="#4741e5"/>
<path d="M113.8 108.5L117.4 109.5L116.1 111.1L112.5 110.6Z" fill="#473fe3"/>
<path d="M105.4 109.1L109 109.9L107.7 111.3L104.1 110.8Z" fill="#473ee1"/>
<path d="M117.4 109.5L120.9 110.3L119.6 111.8L116.1 111.1Z" fill="#463de0"/>
<path d="M109 109.9L112.5 110.6L111.2 112.4L107.7 111.3Z" fill="#463de0"/>
<path d="M120.9 110.3L124.5 110.6L123.2 112.4L119.6 111.8Z" fill="#463bde"/>
<path d="M112.5 110.6L116.1 111.1L114.8 112.7L111.2 112.4Z" fill="#463bde"/>
<path d="M116.1 111.1L119.6 111.8L118.3 112.9L114.8 112.7Z" fill="#463de0"/>
<path d="M119.6 111.8L123.2 112.4L121.9 113.7L118.3 112.9Z" fill="#463de0"/>
</g></g>
<line x1="22.5" y1="100.4" x2="121.9" y2="117.2" stroke="#4d4d4d" stroke-width="0.5"/>
<line x1="157.7" y1="72.7" x2="121.9" y2="117.2" stroke="#4d4d4d" stroke-width="0.5"/>
<line x1="22.5" y1="100.4" x2="22.5" y2="57.8" stroke="#4d4d4d" stroke-width="0.5"/>
<line x1="36.7" y1="102.8" x2="35.4" y2="104.4" stroke="#4d4d4d" stroke-width="0.5"/>
<line x1="152.6" y1="79" x2="154.6" y2="79.4" stroke="#4d4d4d" stroke-width="0.5"/>
<line x1="54.5" y1="105.8" x2="53.2" y2="107.4" stroke="#4d4d4d" stroke-width="0.5"/>
<line x1="146.2" y1="87" x2="148.2" y2="87.3" stroke="#4d4d4d" stroke-width="0.5"/>
<line x1="72.2" y1="108.8" x2="70.9" y2="110.4" stroke="#4d4d4d" stroke-width="0.5"/>
<line x1="139.8" y1="94.9" x2="141.8" y2="95.3" stroke="#4d4d4d" stroke-width="0.5"/>
<line x1="90" y1="111.8" x2="88.7" y2="113.4" stroke="#4d4d4d" stroke-width="0.5"/>
<line x1="133.4" y1="102.9" x2="135.4" y2="103.2" stroke="#4d4d4d" stroke-width="0.5"/>
<line x1="107.7" y1="114.8" x2="106.4" y2="116.4" stroke="#4d4d4d" stroke-width="0.5"/>
<line x1="127" y1="110.8" x2="129" y2="111.2" stroke="#4d4d4d" stroke-width="0.5"/>
<line x1="22.5" y1="94.6" x2="20.7" y2="94.6" stroke="#4d4d4d" stroke-width="0.5"/>
<line x1="22.5" y1="88.9" x2="20.7" y2="88.9" stroke="#4d4d4d" stroke-width="0.5"/>
<line x1="22.5" y1="83.1" x2="20.7" y2="83.1" stroke="#4d4d4d" stroke-width="0.5"/>
<line x1="22.5" y1="77.4" x2="20.7" y2="77.4" stroke="#4d4d4d" stroke-width="0.5"/>
<line x1="22.5" y1="71.6" x2="20.7" y2="71.6" stroke="#4d4d4d" stroke-width="0.5"/>
<line x1="22.5" y1="65.8" x2="20.7" y2="65.8" stroke="#4d4d4d" stroke-width="0.5"/>
<line x1="22.5" y1="60.1" x2="20.7" y2="60.1" stroke="#4d4d4d" stroke-width="0.5"/>
<g font-size="8.3" fill="#3a3a3a" text-anchor="middle">
<text x="30.5" y="118.2">5</text>
<text x="163.1" y="88.3">5</text>
<text x="48.2" y="121.2">10</text>
<text x="156.7" y="96.3">10</text>
<text x="66" y="124.2">15</text>
<text x="150.3" y="104.2">15</text>
<text x="83.8" y="127.2">20</text>
<text x="143.9" y="112.2">20</text>
<text x="101.5" y="130.2">25</text>
<text x="137.5" y="120.1">25</text>
<text x="17.3" y="97.6" text-anchor="end">20</text>
<text x="17.3" y="91.9" text-anchor="end">40</text>
<text x="17.3" y="86.1" text-anchor="end">60</text>
<text x="17.3" y="80.4" text-anchor="end">80</text>
<text x="17.3" y="74.6" text-anchor="end">100</text>
<text x="17.3" y="68.8" text-anchor="end">120</text>
<text x="17.3" y="63.1" text-anchor="end">140</text>
</g>
<line x1="252.2" y1="59.4" x2="252.2" y2="16.8" stroke="#e2e2e2" stroke-width="0.5"/>
<line x1="270" y1="62.4" x2="270" y2="19.8" stroke="#e2e2e2" stroke-width="0.5"/>
<line x1="287.7" y1="65.4" x2="287.7" y2="22.8" stroke="#e2e2e2" stroke-width="0.5"/>
<line x1="305.5" y1="68.4" x2="305.5" y2="25.8" stroke="#e2e2e2" stroke-width="0.5"/>
<line x1="323.2" y1="71.4" x2="323.2" y2="28.8" stroke="#e2e2e2" stroke-width="0.5"/>
<line x1="238" y1="52.4" x2="337.4" y2="69.2" stroke="#e2e2e2" stroke-width="0.5"/>
<line x1="238" y1="46.5" x2="337.4" y2="63.3" stroke="#e2e2e2" stroke-width="0.5"/>
<line x1="238" y1="40.6" x2="337.4" y2="57.4" stroke="#e2e2e2" stroke-width="0.5"/>
<line x1="238" y1="34.7" x2="337.4" y2="51.5" stroke="#e2e2e2" stroke-width="0.5"/>
<line x1="238" y1="28.8" x2="337.4" y2="45.6" stroke="#e2e2e2" stroke-width="0.5"/>
<line x1="238" y1="22.9" x2="337.4" y2="39.7" stroke="#e2e2e2" stroke-width="0.5"/>
<line x1="238" y1="17" x2="337.4" y2="33.8" stroke="#e2e2e2" stroke-width="0.5"/>
<line x1="232.9" y1="63.3" x2="232.9" y2="20.7" stroke="#e2e2e2" stroke-width="0.5"/>
<line x1="226.5" y1="71.3" x2="226.5" y2="28.7" stroke="#e2e2e2" stroke-width="0.5"/>
<line x1="220.1" y1="79.2" x2="220.1" y2="36.6" stroke="#e2e2e2" stroke-width="0.5"/>
<line x1="213.7" y1="87.2" x2="213.7" y2="44.6" stroke="#e2e2e2" stroke-width="0.5"/>
<line x1="207.3" y1="95.1" x2="207.3" y2="52.5" stroke="#e2e2e2" stroke-width="0.5"/>
<line x1="238" y1="52.4" x2="202.2" y2="96.9" stroke="#e2e2e2" stroke-width="0.5"/>
<line x1="238" y1="46.5" x2="202.2" y2="91" stroke="#e2e2e2" stroke-width="0.5"/>
<line x1="238" y1="40.6" x2="202.2" y2="85.1" stroke="#e2e2e2" stroke-width="0.5"/>
<line x1="238" y1="34.7" x2="202.2" y2="79.2" stroke="#e2e2e2" stroke-width="0.5"/>
<line x1="238" y1="28.8" x2="202.2" y2="73.3" stroke="#e2e2e2" stroke-width="0.5"/>
<line x1="238" y1="22.9" x2="202.2" y2="67.4" stroke="#e2e2e2" stroke-width="0.5"/>
<line x1="238" y1="17" x2="202.2" y2="61.5" stroke="#e2e2e2" stroke-width="0.5"/>
<line x1="252.2" y1="59.4" x2="216.4" y2="103.9" stroke="#e2e2e2" stroke-width="0.5"/>
<line x1="270" y1="62.4" x2="234.1" y2="106.9" stroke="#e2e2e2" stroke-width="0.5"/>
<line x1="287.7" y1="65.4" x2="251.9" y2="109.9" stroke="#e2e2e2" stroke-width="0.5"/>
<line x1="305.5" y1="68.4" x2="269.6" y2="112.9" stroke="#e2e2e2" stroke-width="0.5"/>
<line x1="323.2" y1="71.4" x2="287.4" y2="115.9" stroke="#e2e2e2" stroke-width="0.5"/>
<line x1="232.9" y1="63.3" x2="332.3" y2="80.1" stroke="#e2e2e2" stroke-width="0.5"/>
<line x1="226.5" y1="71.3" x2="325.9" y2="88.1" stroke="#e2e2e2" stroke-width="0.5"/>
<line x1="220.1" y1="79.2" x2="319.5" y2="96" stroke="#e2e2e2" stroke-width="0.5"/>
<line x1="213.7" y1="87.2" x2="313.1" y2="104" stroke="#e2e2e2" stroke-width="0.5"/>
<line x1="207.3" y1="95.1" x2="306.7" y2="111.9" stroke="#e2e2e2" stroke-width="0.5"/>
<g filter="url(#bl)"><g stroke="#000" stroke-width="0.55" stroke-opacity="1.0" fill-opacity="1.0" stroke-linejoin="round">
<path d="M238 55L241.6 55.6L240.3 57.2L236.8 56.6Z" fill="#4331c8"/>
<path d="M241.6 55.6L245.1 56.2L243.9 57.8L240.3 57.2Z" fill="#4331c8"/>
<path d="M245.1 56.2L248.7 56.8L247.4 58.4L243.9 57.8Z" fill="#4331c8"/>
<path d="M236.8 56.6L240.3 57.2L239 58.8L235.5 58.2Z" fill="#4331c8"/>
<path d="M248.7 56.8L252.2 57.4L251 59L247.4 58.4Z" fill="#4331c8"/>
<path d="M240.3 57.2L243.9 57.8L242.6 59.4L239 58.8Z" fill="#4331c8"/>
<path d="M252.2 57.4L255.8 58L254.5 59.6L251 59Z" fill="#4331c8"/>
<path d="M243.9 57.8L247.4 58.4L246.1 60L242.6 59.4Z" fill="#4331c8"/>
<path d="M255.8 58L259.3 58.6L258.1 60.2L254.5 59.6Z" fill="#4331c8"/>
<path d="M235.5 58.2L239 58.8L237.8 60.4L234.2 59.8Z" fill="#4331c8"/>
<path d="M247.4 58.4L251 59L249.7 60.6L246.1 60Z" fill="#4331c8"/>
<path d="M259.3 58.6L262.9 59.2L261.6 60.8L258.1 60.2Z" fill="#4331c8"/>
<path d="M239 58.8L242.6 59.4L241.3 61L237.8 60.4Z" fill="#4331c8"/>
<path d="M251 59L254.5 59.6L253.2 61.2L249.7 60.6Z" fill="#4331c8"/>
<path d="M262.9 59.2L266.4 59.8L265.2 61.4L261.6 60.8Z" fill="#4331c8"/>
<path d="M242.6 59.4L246.1 60L244.8 61.6L241.3 61Z" fill="#4331c8"/>
<path d="M254.5 59.6L258.1 60.2L256.8 61.8L253.2 61.2Z" fill="#4331c8"/>
<path d="M234.2 59.8L237.8 60.4L236.5 62L232.9 61.4Z" fill="#4331c8"/>
<path d="M266.4 59.8L270 60.4L268.7 62L265.2 61.4Z" fill="#4331c8"/>
<path d="M246.1 60L249.7 60.6L248.4 62.2L244.8 61.6Z" fill="#4331c8"/>
<path d="M258.1 60.2L261.6 60.8L260.3 62.4L256.8 61.8Z" fill="#4331c8"/>
<path d="M237.8 60.4L241.3 61L240 62.6L236.5 62Z" fill="#4331c8"/>
<path d="M270 60.4L273.5 61L272.3 62.6L268.7 62Z" fill="#4331c8"/>
<path d="M249.7 60.6L253.2 61.2L251.9 62.8L248.4 62.2Z" fill="#4331c8"/>
<path d="M261.6 60.8L265.2 61.4L263.9 63L260.3 62.4Z" fill="#4331c8"/>
<path d="M241.3 61L244.8 61.6L243.6 63.2L240 62.6Z" fill="#4331c8"/>
<path d="M273.5 61L277.1 61.6L275.8 63.2L272.3 62.6Z" fill="#4331c8"/>
<path d="M253.2 61.2L256.8 61.8L255.5 63.4L251.9 62.8Z" fill="#4331c8"/>
<path d="M232.9 61.4L236.5 62L235.2 63.6L231.6 63Z" fill="#4331c8"/>
<path d="M265.2 61.4L268.7 62L267.4 63.6L263.9 63Z" fill="#4331c8"/>
<path d="M244.8 61.6L248.4 62.2L247.1 63.8L243.6 63.2Z" fill="#4331c8"/>
<path d="M277.1 61.6L280.6 62.2L279.4 63.8L275.8 63.2Z" fill="#4331c8"/>
<path d="M256.8 61.8L260.3 62.4L259 64L255.5 63.4Z" fill="#4331c8"/>
<path d="M236.5 62L240 62.6L238.7 64.2L235.2 63.6Z" fill="#4331c8"/>
<path d="M268.7 62L272.3 62.6L271 64.2L267.4 63.6Z" fill="#4331c8"/>
<path d="M248.4 62.2L251.9 62.8L250.7 64.4L247.1 63.8Z" fill="#4331c8"/>
<path d="M280.6 62.2L284.2 62.8L282.9 64.4L279.4 63.8Z" fill="#4331c8"/>
<path d="M260.3 62.4L263.9 63L262.6 64.6L259 64Z" fill="#4331c8"/>
<path d="M240 62.6L243.6 63.2L242.3 64.8L238.7 64.2Z" fill="#4331c8"/>
<path d="M272.3 62.6L275.8 63.2L274.5 64.8L271 64.2Z" fill="#4331c8"/>
<path d="M251.9 62.8L255.5 63.4L254.2 65L250.7 64.4Z" fill="#4331c8"/>
<path d="M284.2 62.8L287.7 63.4L286.5 65L282.9 64.4Z" fill="#4331c8"/>
<path d="M231.6 63L235.2 63.6L233.9 65.2L230.4 64.6Z" fill="#4331c8"/>
<path d="M263.9 63L267.4 63.6L266.1 65.2L262.6 64.6Z" fill="#4331c8"/>
<path d="M243.6 63.2L247.1 63.8L245.8 65.4L242.3 64.8Z" fill="#4331c8"/>
<path d="M275.8 63.2L279.4 63.8L278.1 65.4L274.5 64.8Z" fill="#4331c8"/>
<path d="M255.5 63.4L259 64L257.8 65.6L254.2 65Z" fill="#4331c8"/>
<path d="M287.7 63.4L291.3 64L290 65.6L286.5 65Z" fill="#4331c8"/>
<path d="M235.2 63.6L238.7 64.2L237.5 65.8L233.9 65.2Z" fill="#4331c8"/>
<path d="M267.4 63.6L271 64.2L269.7 65.8L266.1 65.2Z" fill="#4331c8"/>
<path d="M247.1 63.8L250.7 64.4L249.4 66L245.8 65.4Z" fill="#4331c8"/>
<path d="M279.4 63.8L282.9 64.4L281.6 66L278.1 65.4Z" fill="#4331c8"/>
<path d="M259 64L262.6 64.6L261.3 66.2L257.8 65.6Z" fill="#4331c8"/>
<path d="M291.3 64L294.8 64.6L293.6 66.2L290 65.6Z" fill="#4331c8"/>
<path d="M238.7 64.2L242.3 64.8L241 66.4L237.5 65.8Z" fill="#4331c8"/>
<path d="M271 64.2L274.5 64.8L273.2 66.4L269.7 65.8Z" fill="#4331c8"/>
<path d="M250.7 64.4L254.2 65L252.9 66.5L249.4 66Z" fill="#4331c8"/>
<path d="M282.9 64.4L286.5 65L285.2 66.6L281.6 66Z" fill="#4331c8"/>
<path d="M230.4 64.6L233.9 65.2L232.6 66.7L229.1 66.2Z" fill="#4331c8"/>
<path d="M262.6 64.6L266.1 65.2L264.9 66.8L261.3 66.2Z" fill="#4331c8"/>
<path d="M294.8 64.6L298.4 65.2L297.1 66.8L293.6 66.2Z" fill="#4331c8"/>
<path d="M242.3 64.8L245.8 65.4L244.6 66.9L241 66.4Z" fill="#4331c8"/>
<path d="M274.5 64.8L278.1 65.4L276.8 67L273.2 66.4Z" fill="#4331c8"/>
<path d="M254.2 65L257.8 65.6L256.5 67.1L252.9 66.5Z" fill="#4331c8"/>
<path d="M286.5 65L290 65.6L288.7 67.2L285.2 66.6Z" fill="#4331c8"/>
<path d="M233.9 65.2L237.5 65.8L236.2 67.3L232.6 66.7Z" fill="#4331c8"/>
<path d="M266.1 65.2L269.7 65.8L268.4 67.3L264.9 66.8Z" fill="#4331c8"/>
<path d="M298.4 65.2L301.9 65.8L300.7 67.4L297.1 66.8Z" fill="#4331c8"/>
<path d="M245.8 65.4L249.4 66L248.1 67.5L244.6 66.9Z" fill="#4331c8"/>
<path d="M278.1 65.4L281.6 66L280.4 67.6L276.8 67Z" fill="#4331c8"/>
<path d="M257.8 65.6L261.3 66.2L260 67.7L256.5 67.1Z" fill="#4331c8"/>
<path d="M290 65.6L293.6 66.2L292.3 67.8L288.7 67.2Z" fill="#4331c8"/>
<path d="M237.5 65.8L241 66.4L239.7 67.9L236.2 67.3Z" fill="#4331c8"/>
<path d="M269.7 65.8L273.2 66.4L272 67.9L268.4 67.3Z" fill="#4331c8"/>
<path d="M301.9 65.8L305.5 66.4L304.2 68L300.7 67.4Z" fill="#4331c8"/>
<path d="M249.4 66L252.9 66.5L251.7 68.1L248.1 67.5Z" fill="#4331c8"/>
<path d="M281.6 66L285.2 66.6L283.9 68.2L280.4 67.6Z" fill="#4331c8"/>
<path d="M229.1 66.2L232.6 66.7L231.3 68.3L227.8 67.7Z" fill="#4331c8"/>
<path d="M261.3 66.2L264.9 66.8L263.6 68.3L260 67.7Z" fill="#4331c8"/>
<path d="M293.6 66.2L297.1 66.8L295.8 68.4L292.3 67.8Z" fill="#4331c8"/>
<path d="M241 66.4L244.6 66.9L243.3 68.5L239.7 67.9Z" fill="#4331c8"/>
<path d="M273.2 66.4L276.8 67L275.5 68.5L272 67.9Z" fill="#4331c8"/>
<path d="M305.5 66.4L309 67L307.8 68.6L304.2 68Z" fill="#4331c8"/>
<path d="M252.9 66.5L256.5 67.1L255.2 68.7L251.7 68.1Z" fill="#4331c8"/>
<path d="M285.2 66.6L288.7 67.2L287.4 68.8L283.9 68.2Z" fill="#4331c8"/>
<path d="M232.6 66.7L236.2 67.3L234.9 68.9L231.3 68.3Z" fill="#4331c8"/>
<path d="M264.9 66.8L268.4 67.3L267.1 68.9L263.6 68.3Z" fill="#4331c8"/>
<path d="M297.1 66.8L300.7 67.4L299.4 69L295.8 68.4Z" fill="#4331c8"/>
<path d="M244.6 66.9L248.1 67.5L246.8 69.1L243.3 68.5Z" fill="#4331c8"/>
<path d="M276.8 67L280.4 67.6L279.1 69.1L275.5 68.5Z" fill="#4331c8"/>
<path d="M309 67L312.6 67.6L311.3 69.2L307.8 68.6Z" fill="#4331c8"/>
<path d="M256.5 67.1L260 67.7L258.8 69.3L255.2 68.7Z" fill="#4331c8"/>
<path d="M288.7 67.2L292.3 67.8L291 69.4L287.4 68.8Z" fill="#4331c8"/>
<path d="M236.2 67.3L239.7 67.9L238.4 69.5L234.9 68.9Z" fill="#4331c8"/>
<path d="M268.4 67.3L272 67.9L270.7 69.5L267.1 68.9Z" fill="#4331c8"/>
<path d="M300.7 67.4L304.2 68L302.9 69.6L299.4 69Z" fill="#4331c8"/>
<path d="M248.1 67.5L251.7 68.1L250.4 69.7L246.8 69.1Z" fill="#4331c8"/>
<path d="M280.4 67.6L283.9 68.2L282.6 69.7L279.1 69.1Z" fill="#4331c8"/>
<path d="M312.6 67.6L316.1 68.2L314.9 69.8L311.3 69.2Z" fill="#4331c8"/>
<path d="M227.8 67.7L231.3 68.3L230.1 69.9L226.5 69.3Z" fill="#4331c8"/>
<path d="M260 67.7L263.6 68.3L262.3 69.9L258.8 69.3Z" fill="#4331c8"/>
<path d="M292.3 67.8L295.8 68.4L294.5 70L291 69.4Z" fill="#4331c8"/>
<path d="M239.7 67.9L243.3 68.5L242 70.1L238.4 69.5Z" fill="#4331c8"/>
<path d="M272 67.9L275.5 68.5L274.2 70.1L270.7 69.5Z" fill="#4331c8"/>
<path d="M304.2 68L307.8 68.6L306.5 70.2L302.9 69.6Z" fill="#4331c8"/>
<path d="M251.7 68.1L255.2 68.7L253.9 70.2L250.4 69.7Z" fill="#4331c8"/>
<path d="M283.9 68.2L287.4 68.8L286.2 70.3L282.6 69.7Z" fill="#4331c8"/>
<path d="M316.1 68.2L319.7 68.8L318.4 70.4L314.9 69.8Z" fill="#4331c8"/>
<path d="M231.3 68.3L234.9 68.9L233.6 70.5L230.1 69.9Z" fill="#4331c8"/>
<path d="M263.6 68.3L267.1 68.9L265.9 70.5L262.3 69.9Z" fill="#4331c8"/>
<path d="M295.8 68.4L299.4 69L298.1 70.6L294.5 70Z" fill="#4331c8"/>
<path d="M243.3 68.5L246.8 69.1L245.5 70.6L242 70.1Z" fill="#4331c8"/>
<path d="M275.5 68.5L279.1 69.1L277.8 70.7L274.2 70.1Z" fill="#4331c8"/>
<path d="M307.8 68.6L311.3 69.2L310 70.8L306.5 70.2Z" fill="#4331c8"/>
<path d="M255.2 68.7L258.8 69.3L257.5 70.9L253.9 70.2Z" fill="#4331c8"/>
<path d="M287.4 68.8L291 69.4L289.7 70.9L286.2 70.3Z" fill="#4331c8"/>
<path d="M319.7 68.8L323.2 69.4L322 71L318.4 70.4Z" fill="#4331c8"/>
<path d="M234.9 68.9L238.4 69.5L237.2 71L233.6 70.5Z" fill="#4331c8"/>
<path d="M267.1 68.9L270.7 69.5L269.4 71.2L265.9 70.5Z" fill="#4331c8"/>
<path d="M299.4 69L302.9 69.6L301.6 71.2L298.1 70.6Z" fill="#4331c8"/>
<path d="M246.8 69.1L250.4 69.7L249.1 71.2L245.5 70.6Z" fill="#4331c8"/>
<path d="M279.1 69.1L282.6 69.7L281.3 71.3L277.8 70.7Z" fill="#4331c8"/>
<path d="M311.3 69.2L314.9 69.8L313.6 71.4L310 70.8Z" fill="#4331c8"/>
<path d="M226.5 69.3L230.1 69.9L228.8 71.5L225.2 70.9Z" fill="#4331c8"/>
<path d="M258.8 69.3L262.3 69.9L261 71.6L257.5 70.9Z" fill="#4332ca"/>
<path d="M291 69.4L294.5 70L293.3 71.5L289.7 70.9Z" fill="#4331c8"/>
<path d="M323.2 69.4L326.8 70L325.5 71.6L322 71Z" fill="#4331c8"/>
<path d="M238.4 69.5L242 70.1L240.7 71.6L237.2 71Z" fill="#4331c8"/>
<path d="M270.7 69.5L274.2 70.1L273 71.9L269.4 71.2Z" fill="#4331c8"/>
<path d="M302.9 69.6L306.5 70.2L305.2 71.8L301.6 71.2Z" fill="#4331c8"/>
<path d="M250.4 69.7L253.9 70.2L252.6 71.9L249.1 71.2Z" fill="#4332ca"/>
<path d="M282.6 69.7L286.2 70.3L284.9 71.9L281.3 71.3Z" fill="#4331c8"/>
<path d="M314.9 69.8L318.4 70.4L317.1 72L313.6 71.4Z" fill="#4331c8"/>
<path d="M230.1 69.9L233.6 70.5L232.3 72L228.8 71.5Z" fill="#4331c8"/>
<path d="M262.3 69.9L265.9 70.5L264.6 72.5L261 71.6Z" fill="#4332ca"/>
<path d="M294.5 70L298.1 70.6L296.8 72.1L293.3 71.5Z" fill="#4331c8"/>
<path d="M326.8 70L330.3 70.6L329.1 72.2L325.5 71.6Z" fill="#4331c8"/>
<path d="M242 70.1L245.5 70.6L244.3 72.2L240.7 71.6Z" fill="#4332ca"/>
<path d="M274.2 70.1L277.8 70.7L276.5 72.7L273 71.9Z" fill="#4331c8"/>
<path d="M306.5 70.2L310 70.8L308.8 72.4L305.2 71.8Z" fill="#4331c8"/>
<path d="M253.9 70.2L257.5 70.9L256.2 72.8L252.6 71.9Z" fill="#4332ca"/>
<path d="M286.2 70.3L289.7 70.9L288.4 72.6L284.9 71.9Z" fill="#4331c8"/>
<path d="M318.4 70.4L322 71L320.7 72.6L317.1 72Z" fill="#4331c8"/>
<path d="M233.6 70.5L237.2 71L235.9 72.6L232.3 72Z" fill="#4331c8"/>
<path d="M265.9 70.5L269.4 71.2L268.1 73.5L264.6 72.5Z" fill="#4331c8"/>
<path d="M298.1 70.6L301.6 71.2L300.4 72.7L296.8 72.1Z" fill="#4331c8"/>
<path d="M330.3 70.6L333.9 71.2L332.6 72.8L329.1 72.2Z" fill="#4331c8"/>
<path d="M245.5 70.6L249.1 71.2L247.8 72.9L244.3 72.2Z" fill="#4332ca"/>
<path d="M277.8 70.7L281.3 71.3L280.1 73.4L276.5 72.7Z" fill="#4331c8"/>
<path d="M310 70.8L313.6 71.4L312.3 73L308.8 72.4Z" fill="#4331c8"/>
<path d="M225.2 70.9L228.8 71.5L227.5 73L224 72.5Z" fill="#4331c8"/>
<path d="M257.5 70.9L261 71.6L259.8 73.9L256.2 72.8Z" fill="#4331c8"/>
<path d="M289.7 70.9L293.3 71.5L292 73.1L288.4 72.6Z" fill="#4331c8"/>
<path d="M322 71L325.5 71.6L324.2 73.2L320.7 72.6Z" fill="#4331c8"/>
<path d="M237.2 71L240.7 71.6L239.4 73.1L235.9 72.6Z" fill="#4332ca"/>
<path d="M269.4 71.2L273 71.9L271.7 74.4L268.1 73.5Z" fill="#4331c8"/>
<path d="M301.6 71.2L305.2 71.8L303.9 73.4L300.4 72.7Z" fill="#4331c8"/>
<path d="M333.9 71.2L337.4 71.8L336.2 73.4L332.6 72.8Z" fill="#4331c8"/>
<path d="M249.1 71.2L252.6 71.9L251.4 73.9L247.8 72.9Z" fill="#4332ca"/>
<path d="M281.3 71.3L284.9 71.9L283.6 74.1L280.1 73.4Z" fill="#4331c8"/>
<path d="M313.6 71.4L317.1 72L315.8 73.6L312.3 73Z" fill="#4331c8"/>
<path d="M228.8 71.5L232.3 72L231.1 73.6L227.5 73Z" fill="#4331c8"/>
<path d="M261 71.6L264.6 72.5L263.3 75.1L259.8 73.9Z" fill="#4331c8"/>
<path d="M293.3 71.5L296.8 72.1L295.5 73.7L292 73.1Z" fill="#4331c8"/>
<path d="M325.5 71.6L329.1 72.2L327.8 73.8L324.2 73.2Z" fill="#4331c8"/>
<path d="M240.7 71.6L244.3 72.2L243 73.8L239.4 73.1Z" fill="#4332ca"/>
<path d="M273 71.9L276.5 72.7L275.2 75.2L271.7 74.4Z" fill="#4330c5"/>
<path d="M305.2 71.8L308.8 72.4L307.5 74L303.9 73.4Z" fill="#4331c8"/>
<path d="M252.6 71.9L256.2 72.8L254.9 75.2L251.4 73.9Z" fill="#4331c8"/>
<path d="M284.9 71.9L288.4 72.6L287.2 74.7L283.6 74.1Z" fill="#4331c8"/>
<path d="M317.1 72L320.7 72.6L319.4 74.2L315.8 73.6Z" fill="#4331c8"/>
<path d="M232.3 72L235.9 72.6L234.6 74.1L231.1 73.6Z" fill="#4332ca"/>
<path d="M264.6 72.5L268.1 73.5L266.9 76L263.3 75.1Z" fill="#422fc2"/>
<path d="M296.8 72.1L300.4 72.7L299.1 74.3L295.5 73.7Z" fill="#4331c8"/>
<path d="M329.1 72.2L332.6 72.8L331.3 74.4L327.8 73.8Z" fill="#4331c8"/>
<path d="M244.3 72.2L247.8 72.9L246.5 74.8L243 73.8Z" fill="#4332ca"/>
<path d="M276.5 72.7L280.1 73.4L278.8 76L275.2 75.2Z" fill="#422fc2"/>
<path d="M308.8 72.4L312.3 73L311 74.6L307.5 74Z" fill="#4331c8"/>
<path d="M224 72.5L227.5 73L226.2 74.6L222.7 74Z" fill="#4331c8"/>
<path d="M256.2 72.8L259.8 73.9L258.5 76.3L254.9 75.2Z" fill="#422fc2"/>
<path d="M288.4 72.6L292 73.1L290.7 75.2L287.2 74.7Z" fill="#4331c8"/>
<path d="M320.7 72.6L324.2 73.2L322.9 74.8L319.4 74.2Z" fill="#4331c8"/>
<path d="M235.9 72.6L239.4 73.1L238.2 74.7L234.6 74.1Z" fill="#4332ca"/>
<path d="M268.1 73.5L271.7 74.4L270.4 76.5L266.9 76Z" fill="#412cba"/>
<path d="M300.4 72.7L303.9 73.4L302.6 74.9L299.1 74.3Z" fill="#4331c8"/>
<path d="M332.6 72.8L336.2 73.4L334.9 75L331.3 74.4Z" fill="#4331c8"/>
<path d="M247.8 72.9L251.4 73.9L250.1 76.2L246.5 74.8Z" fill="#4331c8"/>
<path d="M280.1 73.4L283.6 74.1L282.3 76.7L278.8 76Z" fill="#422ebf"/>
<path d="M312.3 73L315.8 73.6L314.6 75.2L311 74.6Z" fill="#4331c8"/>
<path d="M227.5 73L231.1 73.6L229.8 75.1L226.2 74.6Z" fill="#4332ca"/>
<path d="M259.8 73.9L263.3 75.1L262 76.9L258.5 76.3Z" fill="#412cba"/>
<path d="M292 73.1L295.5 73.7L294.3 75.7L290.7 75.2Z" fill="#4331c8"/>
<path d="M324.2 73.2L327.8 73.8L326.5 75.4L322.9 74.8Z" fill="#4331c8"/>
<path d="M239.4 73.1L243 73.8L241.7 75.6L238.2 74.7Z" fill="#4332ca"/>
<path d="M271.7 74.4L275.2 75.2L273.9 76.8L270.4 76.5Z" fill="#402ab4"/>
<path d="M303.9 73.4L307.5 74L306.2 75.5L302.6 74.9Z" fill="#4331c8"/>
<path d="M251.4 73.9L254.9 75.2L253.6 77.3L250.1 76.2Z" fill="#422fc2"/>
<path d="M283.6 74.1L287.2 74.7L285.9 77.3L282.3 76.7Z" fill="#422ebf"/>
<path d="M315.8 73.6L319.4 74.2L318.1 75.8L314.6 75.2Z" fill="#4331c8"/>
<path d="M231.1 73.6L234.6 74.1L233.3 75.7L229.8 75.1Z" fill="#4332ca"/>
<path d="M263.3 75.1L266.9 76L265.6 76.9L262 76.9Z" fill="#3f29b2"/>
<path d="M295.5 73.7L299.1 74.3L297.8 76.1L294.3 75.7Z" fill="#4331c8"/>
<path d="M327.8 73.8L331.3 74.4L330 76L326.5 75.4Z" fill="#4331c8"/>
<path d="M243 73.8L246.5 74.8L245.3 77L241.7 75.6Z" fill="#4332ca"/>
<path d="M275.2 75.2L278.8 76L277.5 77.1L273.9 76.8Z" fill="#3f29b2"/>
<path d="M307.5 74L311 74.6L309.7 76.1L306.2 75.5Z" fill="#4331c8"/>
<path d="M222.7 74L226.2 74.6L224.9 76.1L221.4 75.6Z" fill="#4331c8"/>
<path d="M254.9 75.2L258.5 76.3L257.2 77.7L253.6 77.3Z" fill="#402bb7"/>
<path d="M287.2 74.7L290.7 75.2L289.4 77.9L285.9 77.3Z" fill="#422ebf"/>
<path d="M319.4 74.2L322.9 74.8L321.7 76.4L318.1 75.8Z" fill="#4331c8"/>
<path d="M234.6 74.1L238.2 74.7L236.9 76.4L233.3 75.7Z" fill="#4332ca"/>
<path d="M266.9 76L270.4 76.5L269.1 76.6L265.6 76.9Z" fill="#3e27ac"/>
<path d="M299.1 74.3L302.6 74.9L301.4 76.6L297.8 76.1Z" fill="#4331c8"/>
<path d="M331.3 74.4L334.9 75L333.6 76.6L330 76Z" fill="#4331c8"/>
<path d="M246.5 74.8L250.1 76.2L248.8 78.2L245.3 77Z" fill="#422fc2"/>
<path d="M278.8 76L282.3 76.7L281.1 77.7L277.5 77.1Z" fill="#3f28af"/>
<path d="M311 74.6L314.6 75.2L313.3 76.7L309.7 76.1Z" fill="#4331c8"/>
<path d="M226.2 74.6L229.8 75.1L228.5 76.7L224.9 76.1Z" fill="#4332ca"/>
<path d="M258.5 76.3L262 76.9L260.7 77.3L257.2 77.7Z" fill="#3e27ac"/>
<path d="M290.7 75.2L294.3 75.7L293 78.3L289.4 77.9Z" fill="#422ebf"/>
<path d="M322.9 74.8L326.5 75.4L325.2 77L321.7 76.4Z" fill="#4331c8"/>
<path d="M238.2 74.7L241.7 75.6L240.4 77.5L236.9 76.4Z" fill="#4332ca"/>
<path d="M270.4 76.5L273.9 76.8L272.7 76.2L269.1 76.6Z" fill="#3e27ac"/>
<path d="M302.6 74.9L306.2 75.5L304.9 77.1L301.4 76.6Z" fill="#4331c8"/>
<path d="M250.1 76.2L253.6 77.3L252.4 78.5L248.8 78.2Z" fill="#402ab4"/>
<path d="M282.3 76.7L285.9 77.3L284.6 78.6L281.1 77.7Z" fill="#3f28af"/>
<path d="M314.6 75.2L318.1 75.8L316.8 77.4L313.3 76.7Z" fill="#4331c8"/>
<path d="M229.8 75.1L233.3 75.7L232 77.2L228.5 76.7Z" fill="#4332ca"/>
<path d="M262 76.9L265.6 76.9L264.3 76.7L260.7 77.3Z" fill="#3e27ac"/>
<path d="M294.3 75.7L297.8 76.1L296.5 78.6L293 78.3Z" fill="#422fc2"/>
<path d="M326.5 75.4L330 76L328.8 77.6L325.2 77Z" fill="#4331c8"/>
<path d="M241.7 75.6L245.3 77L244 79L240.4 77.5Z" fill="#4330c5"/>
<path d="M273.9 76.8L277.5 77.1L276.2 76.3L272.7 76.2Z" fill="#3f29b2"/>
<path d="M306.2 75.5L309.7 76.1L308.5 77.7L304.9 77.1Z" fill="#4331c8"/>
<path d="M221.4 75.6L224.9 76.1L223.7 77.7L220.1 77.2Z" fill="#4332ca"/>
<path d="M253.6 77.3L257.2 77.7L255.9 78L252.4 78.5Z" fill="#3e27ac"/>
<path d="M285.9 77.3L289.4 77.9L288.1 79.5L284.6 78.6Z" fill="#3e27ac"/>
<path d="M318.1 75.8L321.7 76.4L320.4 78L316.8 77.4Z" fill="#4331c8"/>
<path d="M233.3 75.7L236.9 76.4L235.6 78.1L232 77.2Z" fill="#4332ca"/>
<path d="M265.6 76.9L269.1 76.6L267.8 75.9L264.3 76.7Z" fill="#402bb7"/>
<path d="M297.8 76.1L301.4 76.6L300.1 78.8L296.5 78.6Z" fill="#4330c5"/>
<path d="M330 76L333.6 76.6L332.3 78.2L328.8 77.6Z" fill="#4331c8"/>
<path d="M245.3 77L248.8 78.2L247.5 79.6L244 79Z" fill="#412cba"/>
<path d="M277.5 77.1L281.1 77.7L279.8 77L276.2 76.3Z" fill="#402bb7"/>
<path d="M309.7 76.1L313.3 76.7L312 78.3L308.5 77.7Z" fill="#4331c8"/>
<path d="M224.9 76.1L228.5 76.7L227.2 78.2L223.7 77.7Z" fill="#4332ca"/>
<path d="M257.2 77.7L260.7 77.3L259.5 77.4L255.9 78Z" fill="#3f29b2"/>
<path d="M289.4 77.9L293 78.3L291.7 80.3L288.1 79.5Z" fill="#3e27ac"/>
<path d="M321.7 76.4L325.2 77L323.9 78.6L320.4 78Z" fill="#4331c8"/>
<path d="M236.9 76.4L240.4 77.5L239.1 79.5L235.6 78.1Z" fill="#4332ca"/>
<path d="M269.1 76.6L272.7 76.2L271.4 75.2L267.8 75.9Z" fill="#4331c8"/>
<path d="M301.4 76.6L304.9 77.1L303.6 79L300.1 78.8Z" fill="#4331c8"/>
<path d="M248.8 78.2L252.4 78.5L251.1 79L247.5 79.6Z" fill="#3f28af"/>
<path d="M281.1 77.7L284.6 78.6L283.3 78.1L279.8 77Z" fill="#402bb7"/>
<path d="M313.3 76.7L316.8 77.4L315.6 78.9L312 78.3Z" fill="#4331c8"/>
<path d="M228.5 76.7L232 77.2L230.8 78.8L227.2 78.2Z" fill="#4332ca"/>
<path d="M260.7 77.3L264.3 76.7L263 76.6L259.5 77.4Z" fill="#422fc2"/>
<path d="M293 78.3L296.5 78.6L295.2 81L291.7 80.3Z" fill="#3f29b2"/>
<path d="M325.2 77L328.8 77.6L327.5 79.2L323.9 78.6Z" fill="#4331c8"/>
<path d="M240.4 77.5L244 79L242.7 80.6L239.1 79.5Z" fill="#422ebf"/>
<path d="M272.7 76.2L276.2 76.3L274.9 75.2L271.4 75.2Z" fill="#4538d7"/>
<path d="M304.9 77.1L308.5 77.7L307.2 79.4L303.6 79Z" fill="#4331c8"/>
<path d="M220.1 77.2L223.7 77.7L222.4 79.3L218.8 78.7Z" fill="#4332ca"/>
<path d="M252.4 78.5L255.9 78L254.6 78.4L251.1 79Z" fill="#402ab4"/>
<path d="M284.6 78.6L288.1 79.5L286.9 79.3L283.3 78.1Z" fill="#3f29b2"/>
<path d="M316.8 77.4L320.4 78L319.1 79.5L315.6 78.9Z" fill="#4331c8"/>
<path d="M232 77.2L235.6 78.1L234.3 79.8L230.8 78.8Z" fill="#4433cd"/>
<path d="M264.3 76.7L267.8 75.9L266.6 75.3L263 76.6Z" fill="#4537d5"/>
<path d="M296.5 78.6L300.1 78.8L298.8 81.4L295.2 81Z" fill="#402ab4"/>
<path d="M328.8 77.6L332.3 78.2L331 79.8L327.5 79.2Z" fill="#4331c8"/>
<path d="M244 79L247.5 79.6L246.2 80.5L242.7 80.6Z" fill="#3f29b2"/>
<path d="M276.2 76.3L279.8 77L278.5 76.2L274.9 75.2Z" fill="#463bde"/>
<path d="M308.5 77.7L312 78.3L310.7 79.9L307.2 79.4Z" fill="#4331c8"/>
<path d="M223.7 77.7L227.2 78.2L225.9 79.8L222.4 79.3Z" fill="#4332ca"/>
<path d="M255.9 78L259.5 77.4L258.2 77.8L254.6 78.4Z" fill="#4331c8"/>
<path d="M288.1 79.5L291.7 80.3L290.4 80.5L286.9 79.3Z" fill="#3f28af"/>
<path d="M320.4 78L323.9 78.6L322.7 80.1L319.1 79.5Z" fill="#4331c8"/>
<path d="M235.6 78.1L239.1 79.5L237.9 81.3L234.3 79.8Z" fill="#4331c8"/>
<path d="M267.8 75.9L271.4 75.2L270.1 73.8L266.6 75.3Z" fill="#4742e6"/>
<path d="M300.1 78.8L303.6 79L302.4 81.6L298.8 81.4Z" fill="#412dbd"/>
<path d="M247.5 79.6L251.1 79L249.8 79.6L246.2 80.5Z" fill="#3f29b2"/>
<path d="M279.8 77L283.3 78.1L282 77.9L278.5 76.2Z" fill="#463adc"/>
<path d="M312 78.3L315.6 78.9L314.3 80.5L310.7 79.9Z" fill="#4331c8"/>
<path d="M227.2 78.2L230.8 78.8L229.5 80.4L225.9 79.8Z" fill="#4433cd"/>
<path d="M259.5 77.4L263 76.6L261.7 76.7L258.2 77.8Z" fill="#4639d9"/>
<path d="M291.7 80.3L295.2 81L294 81.7L290.4 80.5Z" fill="#3e26a8"/>
<path d="M323.9 78.6L327.5 79.2L326.2 80.8L322.7 80.1Z" fill="#4331c8"/>
<path d="M239.1 79.5L242.7 80.6L241.4 82L237.9 81.3Z" fill="#412cba"/>
<path d="M271.4 75.2L274.9 75.2L273.7 73.4L270.1 73.8Z" fill="#484ef1"/>
<path d="M303.6 79L307.2 79.4L305.9 81.6L302.4 81.6Z" fill="#422fc2"/>
<path d="M218.8 78.7L222.4 79.3L221.1 80.8L217.6 80.3Z" fill="#4332ca"/>
<path d="M251.1 79L254.6 78.4L253.3 79.1L249.8 79.6Z" fill="#4330c5"/>
<path d="M283.3 78.1L286.9 79.3L285.6 79.4L282 77.9Z" fill="#4537d5"/>
<path d="M315.6 78.9L319.1 79.5L317.8 81.1L314.3 80.5Z" fill="#4331c8"/>
<path d="M230.8 78.8L234.3 79.8L233 81.4L229.5 80.4Z" fill="#4433cd"/>
<path d="M263 76.6L266.6 75.3L265.3 74.3L261.7 76.7Z" fill="#4744e8"/>
<path d="M295.2 81L298.8 81.4L297.5 82.9L294 81.7Z" fill="#3e26a8"/>
<path d="M327.5 79.2L331 79.8L329.8 81.4L326.2 80.8Z" fill="#4331c8"/>
<path d="M242.7 80.6L246.2 80.5L245 81.3L241.4 82Z" fill="#3f29b2"/>
<path d="M274.9 75.2L278.5 76.2L277.2 74.9L273.7 73.4Z" fill="#4852f4"/>
<path d="M307.2 79.4L310.7 79.9L309.4 81.7L305.9 81.6Z" fill="#4331c8"/>
<path d="M222.4 79.3L225.9 79.8L224.7 81.3L221.1 80.8Z" fill="#4332ca"/>
<path d="M254.6 78.4L258.2 77.8L256.9 78.5L253.3 79.1Z" fill="#4639d9"/>
<path d="M286.9 79.3L290.4 80.5L289.1 80.6L285.6 79.4Z" fill="#4332ca"/>
<path d="M319.1 79.5L322.7 80.1L321.4 81.7L317.8 81.1Z" fill="#4331c8"/>
<path d="M234.3 79.8L237.9 81.3L236.6 82.9L233 81.4Z" fill="#4330c5"/>
<path d="M266.6 75.3L270.1 73.8L268.8 71.3L265.3 74.3Z" fill="#4854f6"/>
<path d="M298.8 81.4L302.4 81.6L301.1 83.8L297.5 82.9Z" fill="#3e27ac"/>
<path d="M246.2 80.5L249.8 79.6L248.5 80.5L245 81.3Z" fill="#422ebf"/>
<path d="M278.5 76.2L282 77.9L280.8 77.5L277.2 74.9Z" fill="#484ff2"/>
<path d="M310.7 79.9L314.3 80.5L313 82.1L309.4 81.7Z" fill="#4331c8"/>
<path d="M225.9 79.8L229.5 80.4L228.2 81.9L224.7 81.3Z" fill="#4433cd"/>
<path d="M258.2 77.8L261.7 76.7L260.4 76.6L256.9 78.5Z" fill="#4742e6"/>
<path d="M290.4 80.5L294 81.7L292.7 81.8L289.1 80.6Z" fill="#422fc2"/>
<path d="M322.7 80.1L326.2 80.8L324.9 82.3L321.4 81.7Z" fill="#4331c8"/>
<path d="M237.9 81.3L241.4 82L240.1 83.2L236.6 82.9Z" fill="#402bb7"/>
<path d="M270.1 73.8L273.7 73.4L272.4 70.2L268.8 71.3Z" fill="#4367fd"/>
<path d="M302.4 81.6L305.9 81.6L304.6 84.1L301.1 83.8Z" fill="#3f29b2"/>
<path d="M217.6 80.3L221.1 80.8L219.8 82.4L216.3 81.9Z" fill="#4332ca"/>
<path d="M249.8 79.6L253.3 79.1L252.1 80L248.5 80.5Z" fill="#4537d5"/>
<path d="M282 77.9L285.6 79.4L284.3 79.8L280.8 77.5Z" fill="#4745e9"/>
<path d="M314.3 80.5L317.8 81.1L316.6 82.7L313 82.1Z" fill="#4331c8"/>
<path d="M229.5 80.4L233 81.4L231.8 82.8L228.2 81.9Z" fill="#4433cd"/>
<path d="M261.7 76.7L265.3 74.3L264 72.5L260.4 76.6Z" fill="#4852f4"/>
<path d="M294 81.7L297.5 82.9L296.2 83.1L292.7 81.8Z" fill="#402bb7"/>
<path d="M326.2 80.8L329.8 81.4L328.5 82.9L324.9 82.3Z" fill="#4331c8"/>
<path d="M241.4 82L245 81.3L243.7 82.3L240.1 83.2Z" fill="#402ab4"/>
<path d="M273.7 73.4L277.2 74.9L275.9 72.4L272.4 70.2Z" fill="#3e70ff"/>
<path d="M305.9 81.6L309.4 81.7L308.2 84L304.6 84.1Z" fill="#412dbd"/>
<path d="M221.1 80.8L224.7 81.3L223.4 82.9L219.8 82.4Z" fill="#4332ca"/>
<path d="M253.3 79.1L256.9 78.5L255.6 79.2L252.1 80Z" fill="#473fe3"/>
<path d="M285.6 79.4L289.1 80.6L287.9 81.3L284.3 79.8Z" fill="#473ee1"/>
<path d="M317.8 81.1L321.4 81.7L320.1 83.3L316.6 82.7Z" fill="#4331c8"/>
<path d="M233 81.4L236.6 82.9L235.3 83.9L231.8 82.8Z" fill="#4330c5"/>
<path d="M265.3 74.3L268.8 71.3L267.6 67.6L264 72.5Z" fill="#416bfe"/>
<path d="M297.5 82.9L301.1 83.8L299.8 84.6L296.2 83.1Z" fill="#3e27ac"/>
<path d="M245 81.3L248.5 80.5L247.2 81.6L243.7 82.3Z" fill="#4332ca"/>
<path d="M277.2 74.9L280.8 77.5L279.5 76.4L275.9 72.4Z" fill="#4368fe"/>
<path d="M309.4 81.7L313 82.1L311.7 84L308.2 84Z" fill="#4330c5"/>
<path d="M224.7 81.3L228.2 81.9L226.9 83.4L223.4 82.9Z" fill="#4433cd"/>
<path d="M256.9 78.5L260.4 76.6L259.2 76.3L255.6 79.2Z" fill="#484bee"/>
<path d="M289.1 80.6L292.7 81.8L291.4 82.4L287.9 81.3Z" fill="#4639d9"/>
<path d="M321.4 81.7L324.9 82.3L323.6 83.9L320.1 83.3Z" fill="#4331c8"/>
<path d="M236.6 82.9L240.1 83.2L238.9 84.1L235.3 83.9Z" fill="#402bb7"/>
<path d="M268.8 71.3L272.4 70.2L271.1 65.5L267.6 67.6Z" fill="#2d8bf4"/>
<path d="M301.1 83.8L304.6 84.1L303.3 85.8L299.8 84.6Z" fill="#3e26a8"/>
<path d="M216.3 81.9L219.8 82.4L218.6 84L215 83.5Z" fill="#4332ca"/>
<path d="M248.5 80.5L252.1 80L250.8 81.1L247.2 81.6Z" fill="#463de0"/>
<path d="M280.8 77.5L284.3 79.8L283 79.9L279.5 76.4Z" fill="#4756f7"/>
<path d="M313 82.1L316.6 82.7L315.3 84.3L311.7 84Z" fill="#4331c8"/>
<path d="M228.2 81.9L231.8 82.8L230.5 84L226.9 83.4Z" fill="#4433cd"/>
<path d="M260.4 76.6L264 72.5L262.7 70.4L259.2 76.3Z" fill="#4660fb"/>
<path d="M292.7 81.8L296.2 83.1L295 83.5L291.4 82.4Z" fill="#4434d0"/>
<path d="M324.9 82.3L328.5 82.9L327.2 84.5L323.6 83.9Z" fill="#4331c8"/>
<path d="M240.1 83.2L243.7 82.3L242.4 83.4L238.9 84.1Z" fill="#412cba"/>
<path d="M272.4 70.2L275.9 72.4L274.6 68.6L271.1 65.5Z" fill="#2699e9"/>
<path d="M304.6 84.1L308.2 84L306.9 86.3L303.3 85.8Z" fill="#3e27ac"/>
<path d="M219.8 82.4L223.4 82.9L222.1 84.5L218.6 84Z" fill="#4433cd"/>
<path d="M252.1 80L255.6 79.2L254.3 80L250.8 81.1Z" fill="#4745e9"/>
<path d="M284.3 79.8L287.9 81.3L286.6 82.1L283 79.9Z" fill="#4848ec"/>
<path d="M316.6 82.7L320.1 83.3L318.8 84.8L315.3 84.3Z" fill="#4332ca"/>
<path d="M231.8 82.8L235.3 83.9L234 84.8L230.5 84Z" fill="#4332ca"/>
<path d="M264 72.5L267.6 67.6L266.3 63.1L262.7 70.4Z" fill="#2d8af5"/>
<path d="M296.2 83.1L299.8 84.6L298.5 84.8L295 83.5Z" fill="#4330c5"/>
<path d="M243.7 82.3L247.2 81.6L246 82.8L242.4 83.4Z" fill="#4537d5"/>
<path d="M275.9 72.4L279.5 76.4L278.2 74.6L274.6 68.6Z" fill="#2d8cf3"/>
<path d="M308.2 84L311.7 84L310.4 86.2L306.9 86.3Z" fill="#412cba"/>
<path d="M223.4 82.9L226.9 83.4L225.7 84.9L222.1 84.5Z" fill="#4433cd"/>
<path d="M255.6 79.2L259.2 76.3L257.9 76.2L254.3 80Z" fill="#4852f4"/>
<path d="M287.9 81.3L291.4 82.4L290.1 83.3L286.6 82.1Z" fill="#473fe3"/>
<path d="M320.1 83.3L323.6 83.9L322.4 85.5L318.8 84.8Z" fill="#4331c8"/>
<path d="M235.3 83.9L238.9 84.1L237.6 85.1L234 84.8Z" fill="#422ebf"/>
<path d="M267.6 67.6L271.1 65.5L269.8 59.9L266.3 63.1Z" fill="#12b1d6"/>
<path d="M299.8 84.6L303.3 85.8L302.1 86.5L298.5 84.8Z" fill="#402bb7"/>
<path d="M215 83.5L218.6 84L217.3 85.6L213.7 85.1Z" fill="#4332ca"/>
<path d="M247.2 81.6L250.8 81.1L249.5 82.4L246 82.8Z" fill="#4741e5"/>
<path d="M279.5 76.4L283 79.9L281.7 79.7L278.2 74.6Z" fill="#3f6eff"/>
<path d="M311.7 84L315.3 84.3L314 86.1L310.4 86.2Z" fill="#4330c5"/>
<path d="M226.9 83.4L230.5 84L229.2 85.4L225.7 84.9Z" fill="#4434d0"/>
<path d="M259.2 76.3L262.7 70.4L261.4 68.4L257.9 76.2Z" fill="#3e70ff"/>
<path d="M291.4 82.4L295 83.5L293.7 84.4L290.1 83.3Z" fill="#463bde"/>
<path d="M323.6 83.9L327.2 84.5L325.9 86.1L322.4 85.5Z" fill="#4331c8"/>
<path d="M238.9 84.1L242.4 83.4L241.1 84.7L237.6 85.1Z" fill="#4331c8"/>
<path d="M271.1 65.5L274.6 68.6L273.4 64.1L269.8 59.9Z" fill="#09bdbd"/>
<path d="M303.3 85.8L306.9 86.3L305.6 88L302.1 86.5Z" fill="#3e26a8"/>
<path d="M218.6 84L222.1 84.5L220.8 86.1L217.3 85.6Z" fill="#4433cd"/>
<path d="M250.8 81.1L254.3 80L253.1 81L249.5 82.4Z" fill="#4849ed"/>
<path d="M283 79.9L286.6 82.1L285.3 82.7L281.7 79.7Z" fill="#4854f6"/>
<path d="M315.3 84.3L318.8 84.8L317.5 86.4L314 86.1Z" fill="#4331c8"/>
<path d="M230.5 84L234 84.8L232.8 85.9L229.2 85.4Z" fill="#4434d0"/>
<path d="M262.7 70.4L266.3 63.1L265 58.9L261.4 68.4Z" fill="#1fa6e2"/>
<path d="M295 83.5L298.5 84.8L297.2 85.5L293.7 84.4Z" fill="#4538d7"/>
<path d="M242.4 83.4L246 82.8L244.7 84.2L241.1 84.7Z" fill="#463adc"/>
<path d="M274.6 68.6L278.2 74.6L276.9 72.3L273.4 64.1Z" fill="#10b2d5"/>
<path d="M306.9 86.3L310.4 86.2L309.2 88.4L305.6 88Z" fill="#3e27ac"/>
<path d="M222.1 84.5L225.7 84.9L224.4 86.5L220.8 86.1Z" fill="#4433cd"/>
<path d="M254.3 80L257.9 76.2L256.6 76.5L253.1 81Z" fill="#4759f8"/>
<path d="M286.6 82.1L290.1 83.3L288.8 84.3L285.3 82.7Z" fill="#4848ec"/>
<path d="M318.8 84.8L322.4 85.5L321.1 87L317.5 86.4Z" fill="#4332ca"/>
<path d="M234 84.8L237.6 85.1L236.3 86.1L232.8 85.9Z" fill="#4332ca"/>
<path d="M266.3 63.1L269.8 59.9L268.5 54.6L265 58.9Z" fill="#38c896"/>
<path d="M298.5 84.8L302.1 86.5L300.8 87L297.2 85.5Z" fill="#4433cd"/>
<path d="M213.7 85.1L217.3 85.6L216 87.2L212.4 86.7Z" fill="#4332ca"/>
<path d="M246 82.8L249.5 82.4L248.2 83.8L244.7 84.2Z" fill="#4744e8"/>
<path d="M278.2 74.6L281.7 79.7L280.5 79.4L276.9 72.3Z" fill="#2d8cf3"/>
<path d="M310.4 86.2L314 86.1L312.7 88.2L309.2 88.4Z" fill="#412cba"/>
<path d="M225.7 84.9L229.2 85.4L227.9 86.8L224.4 86.5Z" fill="#4434d0"/>
<path d="M257.9 76.2L261.4 68.4L260.2 67.3L256.6 76.5Z" fill="#2f80fa"/>
<path d="M290.1 83.3L293.7 84.4L292.4 85.4L288.8 84.3Z" fill="#4741e5"/>
<path d="M322.4 85.5L325.9 86.1L324.6 87.7L321.1 87Z" fill="#4331c8"/>
<path d="M237.6 85.1L241.1 84.7L239.8 86L236.3 86.1Z" fill="#4535d2"/>
<path d="M269.8 59.9L273.4 64.1L272.1 59.8L268.5 54.6Z" fill="#81cc59"/>
<path d="M302.1 86.5L305.6 88L304.3 88.8L300.8 87Z" fill="#412cba"/>
<path d="M217.3 85.6L220.8 86.1L219.5 87.7L216 87.2Z" fill="#4332ca"/>
<path d="M249.5 82.4L253.1 81L251.8 82.3L248.2 83.8Z" fill="#484ef1"/>
<path d="M281.7 79.7L285.3 82.7L284 83.3L280.5 79.4Z" fill="#4564fd"/>
<path d="M314 86.1L317.5 86.4L316.3 88.1L312.7 88.2Z" fill="#4330c5"/>
<path d="M229.2 85.4L232.8 85.9L231.5 87.1L227.9 86.8Z" fill="#4535d2"/>
<path d="M261.4 68.4L265 58.9L263.7 56.2L260.2 67.3Z" fill="#00bac6"/>
<path d="M293.7 84.4L297.2 85.5L295.9 86.5L292.4 85.4Z" fill="#473ee1"/>
<path d="M241.1 84.7L244.7 84.2L243.4 85.8L239.8 86Z" fill="#463de0"/>
<path d="M273.4 64.1L276.9 72.3L275.6 70.3L272.1 59.8Z" fill="#3bc992"/>
<path d="M305.6 88L309.2 88.4L307.9 90.2L304.3 88.8Z" fill="#3e27ac"/>
<path d="M220.8 86.1L224.4 86.5L223.1 88.1L219.5 87.7Z" fill="#4433cd"/>
<path d="M253.1 81L256.6 76.5L255.3 77.5L251.8 82.3Z" fill="#465efb"/>
<path d="M285.3 82.7L288.8 84.3L287.6 85.2L284 83.3Z" fill="#484ff2"/>
<path d="M317.5 86.4L321.1 87L319.8 88.6L316.3 88.1Z" fill="#4332ca"/>
<path d="M232.8 85.9L236.3 86.1L235 87.3L231.5 87.1Z" fill="#4537d5"/>
<path d="M265 58.9L268.5 54.6L267.3 51.1L263.7 56.2Z" fill="#abc739"/>
<path d="M297.2 85.5L300.8 87L299.5 87.7L295.9 86.5Z" fill="#463adc"/>
<path d="M212.4 86.7L216 87.2L214.7 88.8L211.2 88.3Z" fill="#4332ca"/>
<path d="M244.7 84.2L248.2 83.8L246.9 85.4L243.4 85.8Z" fill="#4745e9"/>
<path d="M276.9 72.3L280.5 79.4L279.2 79.1L275.6 70.3Z" fill="#1da9e0"/>
<path d="M309.2 88.4L312.7 88.2L311.4 90.3L307.9 90.2Z" fill="#3f28af"/>
<path d="M224.4 86.5L227.9 86.8L226.6 88.5L223.1 88.1Z" fill="#4434d0"/>
<path d="M256.6 76.5L260.2 67.3L258.9 67.8L255.3 77.5Z" fill="#2d8bf4"/>
<path d="M288.8 84.3L292.4 85.4L291.1 86.5L287.6 85.2Z" fill="#4746eb"/>
<path d="M321.1 87L324.6 87.7L323.4 89.2L319.8 88.6Z" fill="#4332ca"/>
<path d="M236.3 86.1L239.8 86L238.6 87.4L235 87.3Z" fill="#4639d9"/>
<path d="M268.5 54.6L272.1 59.8L270.8 57.1L267.3 51.1Z" fill="#fbbb3e"/>
<path d="M300.8 87L304.3 88.8L303 89.5L299.5 87.7Z" fill="#4433cd"/>
<path d="M216 87.2L219.5 87.7L218.3 89.3L214.7 88.8Z" fill="#4332ca"/>
<path d="M248.2 83.8L251.8 82.3L250.5 83.9L246.9 85.4Z" fill="#484ff2"/>
<path d="M280.5 79.4L284 83.3L282.7 83.9L279.2 79.1Z" fill="#3876fe"/>
<path d="M312.7 88.2L316.3 88.1L315 90L311.4 90.3Z" fill="#412dbd"/>
<path d="M227.9 86.8L231.5 87.1L230.2 88.8L226.6 88.5Z" fill="#4537d5"/>
<path d="M260.2 67.3L263.7 56.2L262.4 56.1L258.9 67.8Z" fill="#29c3aa"/>
<path d="M292.4 85.4L295.9 86.5L294.7 87.6L291.1 86.5Z" fill="#4742e6"/>
<path d="M239.8 86L243.4 85.8L242.1 87.4L238.6 87.4Z" fill="#473ee1"/>
<path d="M272.1 59.8L275.6 70.3L274.4 69.2L270.8 57.1Z" fill="#b2c635"/>
<path d="M304.3 88.8L307.9 90.2L306.6 91.4L303 89.5Z" fill="#402bb7"/>
<path d="M219.5 87.7L223.1 88.1L221.8 89.8L218.3 89.3Z" fill="#4433cd"/>
<path d="M251.8 82.3L255.3 77.5L254.1 79.5L250.5 83.9Z" fill="#4661fc"/>
<path d="M284 83.3L287.6 85.2L286.3 86.2L282.7 83.9Z" fill="#4759f8"/>
<path d="M316.3 88.1L319.8 88.6L318.5 90.2L315 90Z" fill="#4331c8"/>
<path d="M231.5 87.1L235 87.3L233.7 89L230.2 88.8Z" fill="#4639d9"/>
<path d="M263.7 56.2L267.3 51.1L266 50.7L262.4 56.1Z" fill="#f5ba3b"/>
<path d="M295.9 86.5L299.5 87.7L298.2 88.8L294.7 87.6Z" fill="#473ee1"/>
<path d="M211.2 88.3L214.7 88.8L213.4 90.5L209.9 89.9Z" fill="#4332ca"/>
<path d="M243.4 85.8L246.9 85.4L245.7 87.2L242.1 87.4Z" fill="#4745e9"/>
<path d="M275.6 70.3L279.2 79.1L277.9 79.3L274.4 69.2Z" fill="#04bbc1"/>
<path d="M307.9 90.2L311.4 90.3L310.1 92.2L306.6 91.4Z" fill="#3e27ac"/>
<path d="M223.1 88.1L226.6 88.5L225.4 90.2L221.8 89.8Z" fill="#4434d0"/>
<path d="M255.3 77.5L258.9 67.8L257.6 70.2L254.1 79.5Z" fill="#2c8ff1"/>
<path d="M287.6 85.2L291.1 86.5L289.8 87.6L286.3 86.2Z" fill="#484cf0"/>
<path d="M319.8 88.6L323.4 89.2L322.1 90.8L318.5 90.2Z" fill="#4332ca"/>
<path d="M235 87.3L238.6 87.4L237.3 89.2L233.7 89Z" fill="#463de0"/>
<path d="M267.3 51.1L270.8 57.1L269.5 57L266 50.7Z" fill="#f5e924"/>
<path d="M299.5 87.7L303 89.5L301.8 90.4L298.2 88.8Z" fill="#4639d9"/>
<path d="M214.7 88.8L218.3 89.3L217 91L213.4 90.5Z" fill="#4332ca"/>
<path d="M246.9 85.4L250.5 83.9L249.2 86L245.7 87.2Z" fill="#484ff2"/>
<path d="M279.2 79.1L282.7 83.9L281.5 84.9L277.9 79.3Z" fill="#2e86f8"/>
<path d="M311.4 90.3L315 90L313.7 91.9L310.1 92.2Z" fill="#402ab4"/>
<path d="M226.6 88.5L230.2 88.8L228.9 90.5L225.4 90.2Z" fill="#4535d2"/>
<path d="M258.9 67.8L262.4 56.1L261.1 59.1L257.6 70.2Z" fill="#33c79d"/>
<path d="M291.1 86.5L294.7 87.6L293.4 88.8L289.8 87.6Z" fill="#4746eb"/>
<path d="M238.6 87.4L242.1 87.4L240.8 89.2L237.3 89.2Z" fill="#4741e5"/>
<path d="M270.8 57.1L274.4 69.2L273.1 69.7L269.5 57Z" fill="#f7ba3d"/>
<path d="M303 89.5L306.6 91.4L305.3 92.5L301.8 90.4Z" fill="#4331c8"/>
<path d="M218.3 89.3L221.8 89.8L220.5 91.5L217 91Z" fill="#4433cd"/>
<path d="M250.5 83.9L254.1 79.5L252.8 82.1L249.2 86Z" fill="#4660fb"/>
<path d="M282.7 83.9L286.3 86.2L285 87.4L281.5 84.9Z" fill="#4660fb"/>
<path d="M315 90L318.5 90.2L317.2 91.9L313.7 91.9Z" fill="#422fc2"/>
<path d="M230.2 88.8L233.7 89L232.5 90.8L228.9 90.5Z" fill="#4538d7"/>
<path d="M262.4 56.1L266 50.7L264.7 54L261.1 59.1Z" fill="#fec438"/>
<path d="M294.7 87.6L298.2 88.8L296.9 90L293.4 88.8Z" fill="#4742e6"/>
<path d="M209.9 89.9L213.4 90.5L212.2 92.1L208.6 91.5Z" fill="#4332ca"/>
<path d="M242.1 87.4L245.7 87.2L244.4 89.1L240.8 89.2Z" fill="#4745e9"/>
<path d="M274.4 69.2L277.9 79.3L276.6 80.4L273.1 69.7Z" fill="#2fc5a3"/>
<path d="M306.6 91.4L310.1 92.2L308.9 93.8L305.3 92.5Z" fill="#3f29b2"/>
<path d="M221.8 89.8L225.4 90.2L224.1 91.9L220.5 91.5Z" fill="#4434d0"/>
<path d="M254.1 79.5L257.6 70.2L256.3 74.3L252.8 82.1Z" fill="#2d8cf3"/>
<path d="M286.3 86.2L289.8 87.6L288.6 88.9L285 87.4Z" fill="#4852f4"/>
<path d="M318.5 90.2L322.1 90.8L320.8 92.3L317.2 91.9Z" fill="#4332ca"/>
<path d="M233.7 89L237.3 89.2L236 91L232.5 90.8Z" fill="#463bde"/>
<path d="M266 50.7L269.5 57L268.2 60L264.7 54Z" fill="#f9fb15"/>
<path d="M298.2 88.8L301.8 90.4L300.5 91.5L296.9 90Z" fill="#463de0"/>
<path d="M213.4 90.5L217 91L215.7 92.6L212.2 92.1Z" fill="#4332ca"/>
<path d="M245.7 87.2L249.2 86L247.9 88.2L244.4 89.1Z" fill="#484cf0"/>
<path d="M277.9 79.3L281.5 84.9L280.2 86.1L276.6 80.4Z" fill="#2b91ef"/>
<path d="M310.1 92.2L313.7 91.9L312.4 93.8L308.9 93.8Z" fill="#3f28af"/>
<path d="M225.4 90.2L228.9 90.5L227.6 92.3L224.1 91.9Z" fill="#4535d2"/>
<path d="M257.6 70.2L261.1 59.1L259.9 64.7L256.3 74.3Z" fill="#2cc4a6"/>
<path d="M289.8 87.6L293.4 88.8L292.1 90.1L288.6 88.9Z" fill="#484bee"/>
<path d="M237.3 89.2L240.8 89.2L239.6 91.2L236 91Z" fill="#473ee1"/>
<path d="M269.5 57L273.1 69.7L271.8 72.1L268.2 60Z" fill="#fec735"/>
<path d="M301.8 90.4L305.3 92.5L304 93.6L300.5 91.5Z" fill="#4535d2"/>
<path d="M217 91L220.5 91.5L219.2 93.1L215.7 92.6Z" fill="#4332ca"/>
<path d="M249.2 86L252.8 82.1L251.5 85.3L247.9 88.2Z" fill="#475bfa"/>
<path d="M281.5 84.9L285 87.4L283.7 88.7L280.2 86.1Z" fill="#4465fd"/>
<path d="M313.7 91.9L317.2 91.9L316 93.5L312.4 93.8Z" fill="#412dbd"/>
<path d="M228.9 90.5L232.5 90.8L231.2 92.6L227.6 92.3Z" fill="#4537d5"/>
<path d="M261.1 59.1L264.7 54L263.4 60.4L259.9 64.7Z" fill="#f7ba3d"/>
<path d="M293.4 88.8L296.9 90L295.7 91.4L292.1 90.1Z" fill="#4745e9"/>
<path d="M208.6 91.5L212.2 92.1L210.9 93.7L207.3 93.1Z" fill="#4331c8"/>
<path d="M240.8 89.2L244.4 89.1L243.1 91.2L239.6 91.2Z" fill="#4744e8"/>
<path d="M273.1 69.7L276.6 80.4L275.3 82.3L271.8 72.1Z" fill="#38c896"/>
<path d="M305.3 92.5L308.9 93.8L307.6 95.3L304 93.6Z" fill="#412cba"/>
<path d="M220.5 91.5L224.1 91.9L222.8 93.6L219.2 93.1Z" fill="#4433cd"/>
<path d="M252.8 82.1L256.3 74.3L255 79.3L251.5 85.3Z" fill="#2e84f8"/>
<path d="M285 87.4L288.6 88.9L287.3 90.3L283.7 88.7Z" fill="#4756f7"/>
<path d="M317.2 91.9L320.8 92.3L319.5 93.9L316 93.5Z" fill="#4331c8"/>
<path d="M232.5 90.8L236 91L234.7 92.9L231.2 92.6Z" fill="#4639d9"/>
<path d="M264.7 54L268.2 60L267 65.6L263.4 60.4Z" fill="#f5ec22"/>
<path d="M296.9 90L300.5 91.5L299.2 92.8L295.7 91.4Z" fill="#4741e5"/>
<path d="M212.2 92.1L215.7 92.6L214.4 94.3L210.9 93.7Z" fill="#4332ca"/>
<path d="M244.4 89.1L247.9 88.2L246.7 90.6L243.1 91.2Z" fill="#4849ed"/>
<path d="M276.6 80.4L280.2 86.1L278.9 87.8L275.3 82.3Z" fill="#2895ec"/>
<path d="M308.9 93.8L312.4 93.8L311.1 95.4L307.6 95.3Z" fill="#3e27ac"/>
<path d="M224.1 91.9L227.6 92.3L226.3 94L222.8 93.6Z" fill="#4434d0"/>
<path d="M256.3 74.3L259.9 64.7L258.6 72L255 79.3Z" fill="#04bbc1"/>
<path d="M288.6 88.9L292.1 90.1L290.8 91.6L287.3 90.3Z" fill="#484ef1"/>
<path d="M236 91L239.6 91.2L238.3 93.1L234.7 92.9Z" fill="#463de0"/>
<path d="M268.2 60L271.8 72.1L270.5 76.1L267 65.6Z" fill="#fbbb3e"/>
<path d="M300.5 91.5L304 93.6L302.8 94.6L299.2 92.8Z" fill="#4639d9"/>
<path d="M215.7 92.6L219.2 93.1L218 94.8L214.4 94.3Z" fill="#4332ca"/>
<path d="M247.9 88.2L251.5 85.3L250.2 88.7L246.7 90.6Z" fill="#4756f7"/>
<path d="M280.2 86.1L283.7 88.7L282.4 90.3L278.9 87.8Z" fill="#4368fe"/>
<path d="M312.4 93.8L316 93.5L314.7 95.2L311.1 95.4Z" fill="#412cba"/>
<path d="M227.6 92.3L231.2 92.6L229.9 94.4L226.3 94Z" fill="#4535d2"/>
<path d="M259.9 64.7L263.4 60.4L262.1 68.8L258.6 72Z" fill="#b5c533"/>
<path d="M292.1 90.1L295.7 91.4L294.4 92.8L290.8 91.6Z" fill="#4848ec"/>
<path d="M207.3 93.1L210.9 93.7L209.6 95.3L206 94.7Z" fill="#4331c8"/>
<path d="M239.6 91.2L243.1 91.2L241.8 93.3L238.3 93.1Z" fill="#4741e5"/>
<path d="M271.8 72.1L275.3 82.3L274.1 85L270.5 76.1Z" fill="#31c5a1"/>
<path d="M304 93.6L307.6 95.3L306.3 96.2L302.8 94.6Z" fill="#422fc2"/>
<path d="M219.2 93.1L222.8 93.6L221.5 95.3L218 94.8Z" fill="#4433cd"/>
<path d="M251.5 85.3L255 79.3L253.8 84.6L250.2 88.7Z" fill="#3876fe"/>
<path d="M283.7 88.7L287.3 90.3L286 91.9L282.4 90.3Z" fill="#4757f7"/>
<path d="M316 93.5L319.5 93.9L318.2 95.5L314.7 95.2Z" fill="#4331c8"/>
<path d="M231.2 92.6L234.7 92.9L233.4 94.8L229.9 94.4Z" fill="#4538d7"/>
<path d="M263.4 60.4L267 65.6L265.7 72.9L262.1 68.8Z" fill="#febe3c"/>
<path d="M295.7 91.4L299.2 92.8L297.9 94.2L294.4 92.8Z" fill="#4742e6"/>
<path d="M210.9 93.7L214.4 94.3L213.1 95.9L209.6 95.3Z" fill="#4332ca"/>
<path d="M243.1 91.2L246.7 90.6L245.4 93.1L241.8 93.3Z" fill="#4745e9"/>
<path d="M275.3 82.3L278.9 87.8L277.6 89.9L274.1 85Z" fill="#2a93ee"/>
<path d="M307.6 95.3L311.1 95.4L309.9 96.6L306.3 96.2Z" fill="#3f28af"/>
<path d="M222.8 93.6L226.3 94L225.1 95.8L221.5 95.3Z" fill="#4433cd"/>
<path d="M255 79.3L258.6 72L257.3 79.6L253.8 84.6Z" fill="#1caadf"/>
<path d="M287.3 90.3L290.8 91.6L289.6 93.1L286 91.9Z" fill="#484ff2"/>
<path d="M234.7 92.9L238.3 93.1L237 95.1L233.4 94.8Z" fill="#463adc"/>
<path d="M267 65.6L270.5 76.1L269.2 81.2L265.7 72.9Z" fill="#bbc42f"/>
<path d="M299.2 92.8L302.8 94.6L301.5 95.8L297.9 94.2Z" fill="#463bde"/>
<path d="M214.4 94.3L218 94.8L216.7 96.4L213.1 95.9Z" fill="#4332ca"/>
<path d="M246.7 90.6L250.2 88.7L248.9 92L245.4 93.1Z" fill="#484ff2"/>
<path d="M278.9 87.8L282.4 90.3L281.2 92.2L277.6 89.9Z" fill="#4368fe"/>
<path d="M311.1 95.4L314.7 95.2L313.4 96.6L309.9 96.6Z" fill="#402bb7"/>
<path d="M226.3 94L229.9 94.4L228.6 96.2L225.1 95.8Z" fill="#4434d0"/>
<path d="M258.6 72L262.1 68.8L260.9 77.5L257.3 79.6Z" fill="#40ca8d"/>
<path d="M290.8 91.6L294.4 92.8L293.1 94.4L289.6 93.1Z" fill="#4849ed"/>
<path d="M206 94.7L209.6 95.3L208.3 96.9L204.8 96.3Z" fill="#4331c8"/>
<path d="M238.3 93.1L241.8 93.3L240.5 95.3L237 95.1Z" fill="#463de0"/>
<path d="M270.5 76.1L274.1 85L272.8 88.3L269.2 81.2Z" fill="#0dbdbc"/>
<path d="M302.8 94.6L306.3 96.2L305 97.1L301.5 95.8Z" fill="#4433cd"/>
<path d="M218 94.8L221.5 95.3L220.2 97L216.7 96.4Z" fill="#4332ca"/>
<path d="M250.2 88.7L253.8 84.6L252.5 89.5L248.9 92Z" fill="#4465fd"/>
<path d="M282.4 90.3L286 91.9L284.7 93.6L281.2 92.2Z" fill="#4757f7"/>
<path d="M314.7 95.2L318.2 95.5L317 97L313.4 96.6Z" fill="#4330c5"/>
<path d="M229.9 94.4L233.4 94.8L232.2 96.6L228.6 96.2Z" fill="#4537d5"/>
<path d="M262.1 68.8L265.7 72.9L264.4 80.6L260.9 77.5Z" fill="#8fcb4e"/>
<path d="M294.4 92.8L297.9 94.2L296.6 95.7L293.1 94.4Z" fill="#4744e8"/>
<path d="M209.6 95.3L213.1 95.9L211.9 97.5L208.3 96.9Z" fill="#4331c8"/>
<path d="M241.8 93.3L245.4 93.1L244.1 95.4L240.5 95.3Z" fill="#4741e5"/>
<path d="M274.1 85L277.6 89.9L276.3 92.2L272.8 88.3Z" fill="#2d8af5"/>
<path d="M306.3 96.2L309.9 96.6L308.6 97.7L305 97.1Z" fill="#412dbd"/>
<path d="M221.5 95.3L225.1 95.8L223.8 97.5L220.2 97Z" fill="#4433cd"/>
<path d="M253.8 84.6L257.3 79.6L256 86.5L252.5 89.5Z" fill="#2c8ff1"/>
<path d="M286 91.9L289.6 93.1L288.3 94.9L284.7 93.6Z" fill="#484ff2"/>
<path d="M233.4 94.8L237 95.1L235.7 97L232.2 96.6Z" fill="#4538d7"/>
<path d="M265.7 72.9L269.2 81.2L268 86.6L264.4 80.6Z" fill="#45cb89"/>
<path d="M297.9 94.2L301.5 95.8L300.2 97L296.6 95.7Z" fill="#463de0"/>
<path d="M213.1 95.9L216.7 96.4L215.4 98.1L211.9 97.5Z" fill="#4332ca"/>
<path d="M245.4 93.1L248.9 92L247.7 95L244.1 95.4Z" fill="#4848ec"/>
<path d="M277.6 89.9L281.2 92.2L279.9 94.2L276.3 92.2Z" fill="#4564fd"/>
<path d="M309.9 96.6L313.4 96.6L312.1 98L308.6 97.7Z" fill="#422ebf"/>
<path d="M225.1 95.8L228.6 96.2L227.3 98L223.8 97.5Z" fill="#4434d0"/>
<path d="M257.3 79.6L260.9 77.5L259.6 85.4L256 86.5Z" fill="#08b4d1"/>
<path d="M289.6 93.1L293.1 94.4L291.8 96.1L288.3 94.9Z" fill="#4849ed"/>
<path d="M204.8 96.3L208.3 96.9L207 98.5L203.5 97.9Z" fill="#4331c8"/>
<path d="M237 95.1L240.5 95.3L239.3 97.4L235.7 97Z" fill="#463adc"/>
<path d="M269.2 81.2L272.8 88.3L271.5 91.7L268 86.6Z" fill="#19addc"/>
<path d="M301.5 95.8L305 97.1L303.8 98.1L300.2 97Z" fill="#4535d2"/>
<path d="M216.7 96.4L220.2 97L219 98.6L215.4 98.1Z" fill="#4332ca"/>
<path d="M248.9 92L252.5 89.5L251.2 93.7L247.7 95Z" fill="#4757f7"/>
<path d="M281.2 92.2L284.7 93.6L283.4 95.6L279.9 94.2Z" fill="#4854f6"/>
<path d="M313.4 96.6L317 97L315.7 98.6L312.1 98Z" fill="#4331c8"/>
<path d="M228.6 96.2L232.2 96.6L230.9 98.4L227.3 98Z" fill="#4535d2"/>
<path d="M260.9 77.5L264.4 80.6L263.1 87.5L259.6 85.4Z" fill="#1ac0b5"/>
<path d="M293.1 94.4L296.6 95.7L295.4 97.2L291.8 96.1Z" fill="#4744e8"/>
<path d="M208.3 96.9L211.9 97.5L210.6 99.1L207 98.5Z" fill="#4331c8"/>
<path d="M240.5 95.3L244.1 95.4L242.8 97.6L239.3 97.4Z" fill="#463de0"/>
<path d="M272.8 88.3L276.3 92.2L275.1 94.7L271.5 91.7Z" fill="#327cfc"/>
<path d="M305 97.1L308.6 97.7L307.3 98.8L303.8 98.1Z" fill="#4331c8"/>
<path d="M220.2 97L223.8 97.5L222.5 99.2L219 98.6Z" fill="#4332ca"/>
<path d="M252.5 89.5L256 86.5L254.8 92.2L251.2 93.7Z" fill="#3c71ff"/>
<path d="M284.7 93.6L288.3 94.9L287 96.8L283.4 95.6Z" fill="#484ef1"/>
<path d="M232.2 96.6L235.7 97L234.4 98.9L230.9 98.4Z" fill="#4537d5"/>
<path d="M264.4 80.6L268 86.6L266.7 91.6L263.1 87.5Z" fill="#04b6ce"/>
<path d="M296.6 95.7L300.2 97L298.9 98.3L295.4 97.2Z" fill="#473ee1"/>
<path d="M211.9 97.5L215.4 98.1L214.1 99.7L210.6 99.1Z" fill="#4331c8"/>
<path d="M244.1 95.4L247.7 95L246.4 97.6L242.8 97.6Z" fill="#4741e5"/>
<path d="M276.3 92.2L279.9 94.2L278.6 96.4L275.1 94.7Z" fill="#475dfa"/>
<path d="M308.6 97.7L312.1 98L310.8 99.4L307.3 98.8Z" fill="#4331c8"/>
<path d="M223.8 97.5L227.3 98L226.1 99.7L222.5 99.2Z" fill="#4433cd"/>
<path d="M256 86.5L259.6 85.4L258.3 91.8L254.8 92.2Z" fill="#2b91ef"/>
<path d="M288.3 94.9L291.8 96.1L290.5 97.9L287 96.8Z" fill="#4848ec"/>
<path d="M203.5 97.9L207 98.5L205.8 100.1L202.2 99.5Z" fill="#4331c8"/>
<path d="M235.7 97L239.3 97.4L238 99.3L234.4 98.9Z" fill="#4538d7"/>
<path d="M268 86.6L271.5 91.7L270.2 95.1L266.7 91.6Z" fill="#2a93ee"/>
<path d="M300.2 97L303.8 98.1L302.5 99.2L298.9 98.3Z" fill="#4538d7"/>
<path d="M215.4 98.1L219 98.6L217.7 100.3L214.1 99.7Z" fill="#4332ca"/>
<path d="M247.7 95L251.2 93.7L249.9 97.2L246.4 97.6Z" fill="#484bee"/>
<path d="M279.9 94.2L283.4 95.6L282.2 97.6L278.6 96.4Z" fill="#4852f4"/>
<path d="M312.1 98L315.7 98.6L314.4 100.1L310.8 99.4Z" fill="#4332ca"/>
<path d="M227.3 98L230.9 98.4L229.6 100.2L226.1 99.7Z" fill="#4433cd"/>
<path d="M259.6 85.4L263.1 87.5L261.8 93.3L258.3 91.8Z" fill="#249ee6"/>
<path d="M291.8 96.1L295.4 97.2L294.1 99L290.5 97.9Z" fill="#4744e8"/>
<path d="M207 98.5L210.6 99.1L209.3 100.7L205.8 100.1Z" fill="#4331c8"/>
<path d="M239.3 97.4L242.8 97.6L241.5 99.7L238 99.3Z" fill="#4639d9"/>
<path d="M271.5 91.7L275.1 94.7L273.8 97.3L270.2 95.1Z" fill="#426afe"/>
<path d="M303.8 98.1L307.3 98.8L306 100.1L302.5 99.2Z" fill="#4434d0"/>
<path d="M219 98.6L222.5 99.2L221.2 100.8L217.7 100.3Z" fill="#4332ca"/>
<path d="M251.2 93.7L254.8 92.2L253.5 96.7L249.9 97.2Z" fill="#475af9"/>
<path d="M283.4 95.6L287 96.8L285.7 98.7L282.2 97.6Z" fill="#484bee"/>
<path d="M230.9 98.4L234.4 98.9L233.2 100.7L229.6 100.2Z" fill="#4434d0"/>
<path d="M263.1 87.5L266.7 91.6L265.4 95.9L261.8 93.3Z" fill="#2a93ee"/>
<path d="M295.4 97.2L298.9 98.3L297.6 100L294.1 99Z" fill="#473ee1"/>
<path d="M210.6 99.1L214.1 99.7L212.8 101.3L209.3 100.7Z" fill="#4331c8"/>
<path d="M242.8 97.6L246.4 97.6L245.1 100L241.5 99.7Z" fill="#463de0"/>
<path d="M275.1 94.7L278.6 96.4L277.3 98.6L273.8 97.3Z" fill="#4756f7"/>
<path d="M307.3 98.8L310.8 99.4L309.6 101L306 100.1Z" fill="#4434d0"/>
<path d="M222.5 99.2L226.1 99.7L224.8 101.4L221.2 100.8Z" fill="#4332ca"/>
<path d="M254.8 92.2L258.3 91.8L257 96.7L253.5 96.7Z" fill="#406dfe"/>
<path d="M287 96.8L290.5 97.9L289.3 99.8L285.7 98.7Z" fill="#4745e9"/>
<path d="M234.4 98.9L238 99.3L236.7 101.2L233.2 100.7Z" fill="#4535d2"/>
<path d="M266.7 91.6L270.2 95.1L268.9 98.2L265.4 95.9Z" fill="#3876fe"/>
<path d="M298.9 98.3L302.5 99.2L301.2 100.9L297.6 100Z" fill="#463adc"/>
<path d="M214.1 99.7L217.7 100.3L216.4 101.9L212.8 101.3Z" fill="#4331c8"/>
<path d="M246.4 97.6L249.9 97.2L248.6 100.1L245.1 100Z" fill="#4741e5"/>
<path d="M278.6 96.4L282.2 97.6L280.9 99.7L277.3 98.6Z" fill="#484cf0"/>
<path d="M310.8 99.4L314.4 100.1L313.1 101.7L309.6 101Z" fill="#4433cd"/>
<path d="M226.1 99.7L229.6 100.2L228.3 101.9L224.8 101.4Z" fill="#4433cd"/>
<path d="M258.3 91.8L261.8 93.3L260.6 97.8L257 96.7Z" fill="#3876fe"/>
<path d="M290.5 97.9L294.1 99L292.8 100.8L289.3 99.8Z" fill="#4741e5"/>
<path d="M238 99.3L241.5 99.7L240.3 101.7L236.7 101.2Z" fill="#4537d5"/>
<path d="M270.2 95.1L273.8 97.3L272.5 99.8L268.9 98.2Z" fill="#475bfa"/>
<path d="M302.5 99.2L306 100.1L304.7 101.8L301.2 100.9Z" fill="#4538d7"/>
<path d="M217.7 100.3L221.2 100.8L219.9 102.5L216.4 101.9Z" fill="#4332ca"/>
<path d="M249.9 97.2L253.5 96.7L252.2 100.1L248.6 100.1Z" fill="#4849ed"/>
<path d="M282.2 97.6L285.7 98.7L284.4 100.7L280.9 99.7Z" fill="#4746eb"/>
<path d="M229.6 100.2L233.2 100.7L231.9 102.5L228.3 101.9Z" fill="#4433cd"/>
<path d="M261.8 93.3L265.4 95.9L264.1 99.4L260.6 97.8Z" fill="#3f6eff"/>
<path d="M294.1 99L297.6 100L296.4 101.7L292.8 100.8Z" fill="#463de0"/>
<path d="M241.5 99.7L245.1 100L243.8 102.1L240.3 101.7Z" fill="#4639d9"/>
<path d="M273.8 97.3L277.3 98.6L276 100.9L272.5 99.8Z" fill="#484ef1"/>
<path d="M306 100.1L309.6 101L308.3 102.6L304.7 101.8Z" fill="#4535d2"/>
<path d="M221.2 100.8L224.8 101.4L223.5 103L219.9 102.5Z" fill="#4332ca"/>
<path d="M253.5 96.7L257 96.7L255.7 100.4L252.2 100.1Z" fill="#4853f5"/>
<path d="M285.7 98.7L289.3 99.8L288 101.7L284.4 100.7Z" fill="#4742e6"/>
<path d="M233.2 100.7L236.7 101.2L235.4 103L231.9 102.5Z" fill="#4434d0"/>
<path d="M265.4 95.9L268.9 98.2L267.7 100.9L264.1 99.4Z" fill="#475dfa"/>
<path d="M297.6 100L301.2 100.9L299.9 102.6L296.4 101.7Z" fill="#463adc"/>
<path d="M245.1 100L248.6 100.1L247.4 102.4L243.8 102.1Z" fill="#463bde"/>
<path d="M277.3 98.6L280.9 99.7L279.6 101.8L276 100.9Z" fill="#4746eb"/>
<path d="M309.6 101L313.1 101.7L311.8 103.3L308.3 102.6Z" fill="#4434d0"/>
<path d="M224.8 101.4L228.3 101.9L227 103.6L223.5 103Z" fill="#4332ca"/>
<path d="M257 96.7L260.6 97.8L259.3 101.2L255.7 100.4Z" fill="#4759f8"/>
<path d="M289.3 99.8L292.8 100.8L291.5 102.6L288 101.7Z" fill="#473ee1"/>
<path d="M236.7 101.2L240.3 101.7L239 103.5L235.4 103Z" fill="#4434d0"/>
<path d="M268.9 98.2L272.5 99.8L271.2 102.1L267.7 100.9Z" fill="#484ef1"/>
<path d="M301.2 100.9L304.7 101.8L303.5 103.5L299.9 102.6Z" fill="#4538d7"/>
<path d="M248.6 100.1L252.2 100.1L250.9 102.8L247.4 102.4Z" fill="#473fe3"/>
<path d="M280.9 99.7L284.4 100.7L283.1 102.7L279.6 101.8Z" fill="#4742e6"/>
<path d="M228.3 101.9L231.9 102.5L230.6 104.2L227 103.6Z" fill="#4332ca"/>
<path d="M260.6 97.8L264.1 99.4L262.8 102.3L259.3 101.2Z" fill="#4854f6"/>
<path d="M292.8 100.8L296.4 101.7L295.1 103.5L291.5 102.6Z" fill="#463bde"/>
<path d="M240.3 101.7L243.8 102.1L242.5 104L239 103.5Z" fill="#4535d2"/>
<path d="M272.5 99.8L276 100.9L274.8 103L271.2 102.1Z" fill="#4745e9"/>
<path d="M304.7 101.8L308.3 102.6L307 104.3L303.5 103.5Z" fill="#4535d2"/>
<path d="M252.2 100.1L255.7 100.4L254.5 103.2L250.9 102.8Z" fill="#4744e8"/>
<path d="M284.4 100.7L288 101.7L286.7 103.6L283.1 102.7Z" fill="#473fe3"/>
<path d="M231.9 102.5L235.4 103L234.1 104.7L230.6 104.2Z" fill="#4433cd"/>
<path d="M264.1 99.4L267.7 100.9L266.4 103.4L262.8 102.3Z" fill="#484cf0"/>
<path d="M296.4 101.7L299.9 102.6L298.6 104.4L295.1 103.5Z" fill="#4639d9"/>
<path d="M243.8 102.1L247.4 102.4L246.1 104.5L242.5 104Z" fill="#4537d5"/>
<path d="M276 100.9L279.6 101.8L278.3 103.9L274.8 103Z" fill="#4741e5"/>
<path d="M308.3 102.6L311.8 103.3L310.6 105L307 104.3Z" fill="#4434d0"/>
<path d="M255.7 100.4L259.3 101.2L258 103.9L254.5 103.2Z" fill="#4746eb"/>
<path d="M288 101.7L291.5 102.6L290.2 104.5L286.7 103.6Z" fill="#463bde"/>
<path d="M235.4 103L239 103.5L237.7 105.3L234.1 104.7Z" fill="#4433cd"/>
<path d="M267.7 100.9L271.2 102.1L269.9 104.3L266.4 103.4Z" fill="#4744e8"/>
<path d="M299.9 102.6L303.5 103.5L302.2 105.2L298.6 104.4Z" fill="#4537d5"/>
<path d="M247.4 102.4L250.9 102.8L249.6 105L246.1 104.5Z" fill="#4639d9"/>
<path d="M279.6 101.8L283.1 102.7L281.9 104.7L278.3 103.9Z" fill="#473ee1"/>
<path d="M259.3 101.2L262.8 102.3L261.6 104.7L258 103.9Z" fill="#4745e9"/>
<path d="M291.5 102.6L295.1 103.5L293.8 105.3L290.2 104.5Z" fill="#4639d9"/>
<path d="M239 103.5L242.5 104L241.2 105.8L237.7 105.3Z" fill="#4434d0"/>
<path d="M271.2 102.1L274.8 103L273.5 105.1L269.9 104.3Z" fill="#473fe3"/>
<path d="M303.5 103.5L307 104.3L305.7 105.9L302.2 105.2Z" fill="#4434d0"/>
<path d="M250.9 102.8L254.5 103.2L253.2 105.5L249.6 105Z" fill="#463bde"/>
<path d="M283.1 102.7L286.7 103.6L285.4 105.5L281.9 104.7Z" fill="#463bde"/>
<path d="M262.8 102.3L266.4 103.4L265.1 105.6L261.6 104.7Z" fill="#4741e5"/>
<path d="M295.1 103.5L298.6 104.4L297.3 106.1L293.8 105.3Z" fill="#4537d5"/>
<path d="M242.5 104L246.1 104.5L244.8 106.4L241.2 105.8Z" fill="#4434d0"/>
<path d="M274.8 103L278.3 103.9L277 105.8L273.5 105.1Z" fill="#463de0"/>
<path d="M307 104.3L310.6 105L309.3 106.6L305.7 105.9Z" fill="#4433cd"/>
<path d="M254.5 103.2L258 103.9L256.7 106.2L253.2 105.5Z" fill="#463bde"/>
<path d="M286.7 103.6L290.2 104.5L289 106.3L285.4 105.5Z" fill="#4639d9"/>
<path d="M266.4 103.4L269.9 104.3L268.7 106.3L265.1 105.6Z" fill="#463de0"/>
<path d="M298.6 104.4L302.2 105.2L300.9 106.9L297.3 106.1Z" fill="#4535d2"/>
<path d="M246.1 104.5L249.6 105L248.3 106.9L244.8 106.4Z" fill="#4535d2"/>
<path d="M278.3 103.9L281.9 104.7L280.6 106.6L277 105.8Z" fill="#463adc"/>
<path d="M258 103.9L261.6 104.7L260.3 106.8L256.7 106.2Z" fill="#463bde"/>
<path d="M290.2 104.5L293.8 105.3L292.5 107.1L289 106.3Z" fill="#4538d7"/>
<path d="M269.9 104.3L273.5 105.1L272.2 107L268.7 106.3Z" fill="#463adc"/>
<path d="M302.2 105.2L305.7 105.9L304.4 107.6L300.9 106.9Z" fill="#4434d0"/>
<path d="M249.6 105L253.2 105.5L251.9 107.5L248.3 106.9Z" fill="#4537d5"/>
<path d="M281.9 104.7L285.4 105.5L284.1 107.4L280.6 106.6Z" fill="#4639d9"/>
<path d="M261.6 104.7L265.1 105.6L263.8 107.5L260.3 106.8Z" fill="#463adc"/>
<path d="M293.8 105.3L297.3 106.1L296.1 107.8L292.5 107.1Z" fill="#4535d2"/>
<path d="M273.5 105.1L277 105.8L275.8 107.7L272.2 107Z" fill="#4639d9"/>
<path d="M305.7 105.9L309.3 106.6L308 108.2L304.4 107.6Z" fill="#4433cd"/>
<path d="M253.2 105.5L256.7 106.2L255.4 108.1L251.9 107.5Z" fill="#4537d5"/>
<path d="M285.4 105.5L289 106.3L287.7 108.1L284.1 107.4Z" fill="#4537d5"/>
<path d="M265.1 105.6L268.7 106.3L267.4 108.2L263.8 107.5Z" fill="#4538d7"/>
<path d="M297.3 106.1L300.9 106.9L299.6 108.5L296.1 107.8Z" fill="#4434d0"/>
<path d="M277 105.8L280.6 106.6L279.3 108.4L275.8 107.7Z" fill="#4538d7"/>
<path d="M256.7 106.2L260.3 106.8L259 108.7L255.4 108.1Z" fill="#4537d5"/>
<path d="M289 106.3L292.5 107.1L291.2 108.8L287.7 108.1Z" fill="#4535d2"/>
<path d="M268.7 106.3L272.2 107L270.9 108.9L267.4 108.2Z" fill="#4537d5"/>
<path d="M300.9 106.9L304.4 107.6L303.2 109.2L299.6 108.5Z" fill="#4433cd"/>
<path d="M280.6 106.6L284.1 107.4L282.9 109.2L279.3 108.4Z" fill="#4537d5"/>
<path d="M260.3 106.8L263.8 107.5L262.5 109.4L259 108.7Z" fill="#4535d2"/>
<path d="M292.5 107.1L296.1 107.8L294.8 109.5L291.2 108.8Z" fill="#4434d0"/>
<path d="M272.2 107L275.8 107.7L274.5 109.6L270.9 108.9Z" fill="#4537d5"/>
<path d="M304.4 107.6L308 108.2L306.7 109.9L303.2 109.2Z" fill="#4332ca"/>
<path d="M284.1 107.4L287.7 108.1L286.4 109.8L282.9 109.2Z" fill="#4535d2"/>
<path d="M263.8 107.5L267.4 108.2L266.1 110L262.5 109.4Z" fill="#4535d2"/>
<path d="M296.1 107.8L299.6 108.5L298.3 110.2L294.8 109.5Z" fill="#4433cd"/>
<path d="M275.8 107.7L279.3 108.4L278 110.2L274.5 109.6Z" fill="#4535d2"/>
<path d="M287.7 108.1L291.2 108.8L290 110.5L286.4 109.8Z" fill="#4434d0"/>
<path d="M267.4 108.2L270.9 108.9L269.6 110.7L266.1 110Z" fill="#4434d0"/>
<path d="M299.6 108.5L303.2 109.2L301.9 110.9L298.3 110.2Z" fill="#4433cd"/>
<path d="M279.3 108.4L282.9 109.2L281.6 110.9L278 110.2Z" fill="#4434d0"/>
<path d="M291.2 108.8L294.8 109.5L293.5 111.2L290 110.5Z" fill="#4433cd"/>
<path d="M270.9 108.9L274.5 109.6L273.2 111.3L269.6 110.7Z" fill="#4434d0"/>
<path d="M303.2 109.2L306.7 109.9L305.4 111.5L301.9 110.9Z" fill="#4332ca"/>
<path d="M282.9 109.2L286.4 109.8L285.1 111.6L281.6 110.9Z" fill="#4434d0"/>
<path d="M294.8 109.5L298.3 110.2L297.1 111.8L293.5 111.2Z" fill="#4433cd"/>
<path d="M274.5 109.6L278 110.2L276.8 111.9L273.2 111.3Z" fill="#4433cd"/>
<path d="M286.4 109.8L290 110.5L288.7 112.2L285.1 111.6Z" fill="#4433cd"/>
<path d="M298.3 110.2L301.9 110.9L300.6 112.5L297.1 111.8Z" fill="#4332ca"/>
<path d="M278 110.2L281.6 110.9L280.3 112.6L276.8 111.9Z" fill="#4433cd"/>
<path d="M290 110.5L293.5 111.2L292.2 112.8L288.7 112.2Z" fill="#4332ca"/>
<path d="M301.9 110.9L305.4 111.5L304.2 113.1L300.6 112.5Z" fill="#4332ca"/>
<path d="M281.6 110.9L285.1 111.6L283.8 113.2L280.3 112.6Z" fill="#4433cd"/>
<path d="M293.5 111.2L297.1 111.8L295.8 113.5L292.2 112.8Z" fill="#4332ca"/>
<path d="M285.1 111.6L288.7 112.2L287.4 113.9L283.8 113.2Z" fill="#4332ca"/>
<path d="M297.1 111.8L300.6 112.5L299.3 114.1L295.8 113.5Z" fill="#4332ca"/>
<path d="M288.7 112.2L292.2 112.8L290.9 114.5L287.4 113.9Z" fill="#4332ca"/>
<path d="M300.6 112.5L304.2 113.1L302.9 114.7L299.3 114.1Z" fill="#4331c8"/>
<path d="M292.2 112.8L295.8 113.5L294.5 115.1L290.9 114.5Z" fill="#4332ca"/>
<path d="M295.8 113.5L299.3 114.1L298 115.7L294.5 115.1Z" fill="#4331c8"/>
<path d="M299.3 114.1L302.9 114.7L301.6 116.3L298 115.7Z" fill="#4331c8"/>
</g></g>
<line x1="202.2" y1="101.5" x2="301.6" y2="118.3" stroke="#4d4d4d" stroke-width="0.5"/>
<line x1="337.4" y1="73.8" x2="301.6" y2="118.3" stroke="#4d4d4d" stroke-width="0.5"/>
<line x1="202.2" y1="101.5" x2="202.2" y2="58.9" stroke="#4d4d4d" stroke-width="0.5"/>
<line x1="216.4" y1="103.9" x2="215.1" y2="105.5" stroke="#4d4d4d" stroke-width="0.5"/>
<line x1="332.3" y1="80.1" x2="334.3" y2="80.5" stroke="#4d4d4d" stroke-width="0.5"/>
<line x1="234.1" y1="106.9" x2="232.9" y2="108.5" stroke="#4d4d4d" stroke-width="0.5"/>
<line x1="325.9" y1="88.1" x2="327.9" y2="88.4" stroke="#4d4d4d" stroke-width="0.5"/>
<line x1="251.9" y1="109.9" x2="250.6" y2="111.5" stroke="#4d4d4d" stroke-width="0.5"/>
<line x1="319.5" y1="96" x2="321.5" y2="96.4" stroke="#4d4d4d" stroke-width="0.5"/>
<line x1="269.6" y1="112.9" x2="268.4" y2="114.5" stroke="#4d4d4d" stroke-width="0.5"/>
<line x1="313.1" y1="104" x2="315.1" y2="104.3" stroke="#4d4d4d" stroke-width="0.5"/>
<line x1="287.4" y1="115.9" x2="286.1" y2="117.5" stroke="#4d4d4d" stroke-width="0.5"/>
<line x1="306.7" y1="111.9" x2="308.7" y2="112.3" stroke="#4d4d4d" stroke-width="0.5"/>
<line x1="202.2" y1="96.9" x2="200.4" y2="96.9" stroke="#4d4d4d" stroke-width="0.5"/>
<line x1="202.2" y1="91" x2="200.4" y2="91" stroke="#4d4d4d" stroke-width="0.5"/>
<line x1="202.2" y1="85.1" x2="200.4" y2="85.1" stroke="#4d4d4d" stroke-width="0.5"/>
<line x1="202.2" y1="79.2" x2="200.4" y2="79.2" stroke="#4d4d4d" stroke-width="0.5"/>
<line x1="202.2" y1="73.3" x2="200.4" y2="73.3" stroke="#4d4d4d" stroke-width="0.5"/>
<line x1="202.2" y1="67.4" x2="200.4" y2="67.4" stroke="#4d4d4d" stroke-width="0.5"/>
<line x1="202.2" y1="61.5" x2="200.4" y2="61.5" stroke="#4d4d4d" stroke-width="0.5"/>
<g font-size="8.3" fill="#3a3a3a" text-anchor="middle">
<text x="210.2" y="119.3">5</text>
<text x="342.8" y="89.4">5</text>
<text x="227.9" y="122.3">10</text>
<text x="336.4" y="97.4">10</text>
<text x="245.7" y="125.3">15</text>
<text x="330" y="105.3">15</text>
<text x="263.4" y="128.3">20</text>
<text x="323.6" y="113.3">20</text>
<text x="281.2" y="131.3">25</text>
<text x="317.2" y="121.2">25</text>
<text x="197" y="99.9" text-anchor="end">20</text>
<text x="197" y="94" text-anchor="end">40</text>
<text x="197" y="88.1" text-anchor="end">60</text>
<text x="197" y="82.2" text-anchor="end">80</text>
<text x="197" y="76.3" text-anchor="end">100</text>
<text x="197" y="70.4" text-anchor="end">120</text>
<text x="197" y="64.5" text-anchor="end">140</text>
</g>
<line x1="72.5" y1="203.9" x2="72.5" y2="161.3" stroke="#e2e2e2" stroke-width="0.5"/>
<line x1="90.3" y1="206.9" x2="90.3" y2="164.3" stroke="#e2e2e2" stroke-width="0.5"/>
<line x1="108" y1="209.9" x2="108" y2="167.3" stroke="#e2e2e2" stroke-width="0.5"/>
<line x1="125.8" y1="212.9" x2="125.8" y2="170.3" stroke="#e2e2e2" stroke-width="0.5"/>
<line x1="143.5" y1="215.9" x2="143.5" y2="173.3" stroke="#e2e2e2" stroke-width="0.5"/>
<line x1="58.3" y1="195.7" x2="157.7" y2="212.5" stroke="#e2e2e2" stroke-width="0.5"/>
<line x1="58.3" y1="190" x2="157.7" y2="206.8" stroke="#e2e2e2" stroke-width="0.5"/>
<line x1="58.3" y1="184.2" x2="157.7" y2="201" stroke="#e2e2e2" stroke-width="0.5"/>
<line x1="58.3" y1="178.4" x2="157.7" y2="195.2" stroke="#e2e2e2" stroke-width="0.5"/>
<line x1="58.3" y1="172.7" x2="157.7" y2="189.5" stroke="#e2e2e2" stroke-width="0.5"/>
<line x1="58.3" y1="166.9" x2="157.7" y2="183.7" stroke="#e2e2e2" stroke-width="0.5"/>
<line x1="58.3" y1="161.2" x2="157.7" y2="178" stroke="#e2e2e2" stroke-width="0.5"/>
<line x1="53.2" y1="207.8" x2="53.2" y2="165.2" stroke="#e2e2e2" stroke-width="0.5"/>
<line x1="46.8" y1="215.8" x2="46.8" y2="173.2" stroke="#e2e2e2" stroke-width="0.5"/>
<line x1="40.4" y1="223.7" x2="40.4" y2="181.1" stroke="#e2e2e2" stroke-width="0.5"/>
<line x1="34" y1="231.7" x2="34" y2="189.1" stroke="#e2e2e2" stroke-width="0.5"/>
<line x1="27.6" y1="239.6" x2="27.6" y2="197" stroke="#e2e2e2" stroke-width="0.5"/>
<line x1="58.3" y1="195.7" x2="22.5" y2="240.2" stroke="#e2e2e2" stroke-width="0.5"/>
<line x1="58.3" y1="190" x2="22.5" y2="234.5" stroke="#e2e2e2" stroke-width="0.5"/>
<line x1="58.3" y1="184.2" x2="22.5" y2="228.7" stroke="#e2e2e2" stroke-width="0.5"/>
<line x1="58.3" y1="178.4" x2="22.5" y2="223" stroke="#e2e2e2" stroke-width="0.5"/>
<line x1="58.3" y1="172.7" x2="22.5" y2="217.2" stroke="#e2e2e2" stroke-width="0.5"/>
<line x1="58.3" y1="166.9" x2="22.5" y2="211.4" stroke="#e2e2e2" stroke-width="0.5"/>
<line x1="58.3" y1="161.2" x2="22.5" y2="205.7" stroke="#e2e2e2" stroke-width="0.5"/>
<line x1="72.5" y1="203.9" x2="36.7" y2="248.4" stroke="#e2e2e2" stroke-width="0.5"/>
<line x1="90.3" y1="206.9" x2="54.5" y2="251.4" stroke="#e2e2e2" stroke-width="0.5"/>
<line x1="108" y1="209.9" x2="72.2" y2="254.4" stroke="#e2e2e2" stroke-width="0.5"/>
<line x1="125.8" y1="212.9" x2="90" y2="257.4" stroke="#e2e2e2" stroke-width="0.5"/>
<line x1="143.5" y1="215.9" x2="107.7" y2="260.4" stroke="#e2e2e2" stroke-width="0.5"/>
<line x1="53.2" y1="207.8" x2="152.6" y2="224.6" stroke="#e2e2e2" stroke-width="0.5"/>
<line x1="46.8" y1="215.8" x2="146.2" y2="232.6" stroke="#e2e2e2" stroke-width="0.5"/>
<line x1="40.4" y1="223.7" x2="139.8" y2="240.5" stroke="#e2e2e2" stroke-width="0.5"/>
<line x1="34" y1="231.7" x2="133.4" y2="248.5" stroke="#e2e2e2" stroke-width="0.5"/>
<line x1="27.6" y1="239.6" x2="127" y2="256.4" stroke="#e2e2e2" stroke-width="0.5"/>
<g filter="url(#bl)"><g stroke-linejoin="round">
<path d="M58.3 197.8L61.9 199L60.6 200.6L57.1 200Z" fill="#e7e5fa" stroke="#584bd9" stroke-width="0.9"/>
<path d="M61.9 199L65.4 199.4L64.2 201L60.6 200.6Z" fill="#e5e2f8" stroke="#5647d0" stroke-width="0.9"/>
<path d="M65.4 199.4L69 200.1L67.7 202.1L64.2 201Z" fill="#e5e2f8" stroke="#5748d2" stroke-width="0.9"/>
<path d="M57.1 200L60.6 200.6L59.3 201.8L55.8 201.4Z" fill="#e5e2f8" stroke="#5647d0" stroke-width="0.9"/>
<path d="M69 200.1L72.5 200.9L71.3 202.4L67.7 202.1Z" fill="#e5e2f8" stroke="#5647d0" stroke-width="0.9"/>
<path d="M60.6 200.6L64.2 201L62.9 202.7L59.3 201.8Z" fill="#e5e2f8" stroke="#5647d0" stroke-width="0.9"/>
<path d="M72.5 200.9L76.1 201.5L74.8 203.3L71.3 202.4Z" fill="#e5e2f7" stroke="#5646cd" stroke-width="0.9"/>
<path d="M64.2 201L67.7 202.1L66.4 203.8L62.9 202.7Z" fill="#e5e2f8" stroke="#5748d2" stroke-width="0.9"/>
<path d="M76.1 201.5L79.6 202.1L78.4 203.9L74.8 203.3Z" fill="#e5e2f7" stroke="#5646cd" stroke-width="0.9"/>
<path d="M55.8 201.4L59.3 201.8L58 203.2L54.5 202.6Z" fill="#e5e2f8" stroke="#5748d2" stroke-width="0.9"/>
<path d="M67.7 202.1L71.3 202.4L70 203.9L66.4 203.8Z" fill="#e5e2f7" stroke="#5545cb" stroke-width="0.9"/>
<path d="M79.6 202.1L83.2 203L81.9 204.5L78.4 203.9Z" fill="#e5e2f8" stroke="#5647d0" stroke-width="0.9"/>
<path d="M59.3 201.8L62.9 202.7L61.6 204.1L58 203.2Z" fill="#e5e3f8" stroke="#5749d4" stroke-width="0.9"/>
<path d="M71.3 202.4L74.8 203.3L73.5 204.2L70 203.9Z" fill="#e5e2f8" stroke="#5647d0" stroke-width="0.9"/>
<path d="M83.2 203L86.7 202.8L85.5 204.3L81.9 204.5Z" fill="#e5e2f6" stroke="#5544c8" stroke-width="0.9"/>
<path d="M62.9 202.7L66.4 203.8L65.2 204.7L61.6 204.1Z" fill="#e5e2f8" stroke="#5647d0" stroke-width="0.9"/>
<path d="M74.8 203.3L78.4 203.9L77.1 205.2L73.5 204.2Z" fill="#e5e2f7" stroke="#5545cb" stroke-width="0.9"/>
<path d="M54.5 202.6L58 203.2L56.8 205.3L53.2 204.6Z" fill="#e5e3f9" stroke="#574ad7" stroke-width="0.9"/>
<path d="M86.7 202.8L90.3 203.4L89 204.9L85.5 204.3Z" fill="#e5e3f8" stroke="#5749d4" stroke-width="0.9"/>
<path d="M66.4 203.8L70 203.9L68.7 205.3L65.2 204.7Z" fill="#e5e2f6" stroke="#5544c8" stroke-width="0.9"/>
<path d="M78.4 203.9L81.9 204.5L80.6 206.1L77.1 205.2Z" fill="#e5e2f7" stroke="#5545cb" stroke-width="0.9"/>
<path d="M58 203.2L61.6 204.1L60.3 205.9L56.8 205.3Z" fill="#e6e4f9" stroke="#574ad7" stroke-width="0.9"/>
<path d="M90.3 203.4L93.8 204.5L92.6 205.9L89 204.9Z" fill="#e5e3f8" stroke="#5749d4" stroke-width="0.9"/>
<path d="M70 203.9L73.5 204.2L72.2 206L68.7 205.3Z" fill="#e5e2f8" stroke="#5748d2" stroke-width="0.9"/>
<path d="M81.9 204.5L85.5 204.3L84.2 206.6L80.6 206.1Z" fill="#e5e2f7" stroke="#5545cb" stroke-width="0.9"/>
<path d="M61.6 204.1L65.2 204.7L63.9 206.1L60.3 205.9Z" fill="#e5e3f8" stroke="#5749d4" stroke-width="0.9"/>
<path d="M93.8 204.5L97.4 204.9L96.1 206.4L92.6 205.9Z" fill="#e5e2f7" stroke="#5646cd" stroke-width="0.9"/>
<path d="M73.5 204.2L77.1 205.2L75.8 206.7L72.2 206Z" fill="#e5e3f8" stroke="#5749d4" stroke-width="0.9"/>
<path d="M53.2 204.6L56.8 205.3L55.5 207L51.9 206.5Z" fill="#e5e2f8" stroke="#5748d2" stroke-width="0.9"/>
<path d="M85.5 204.3L89 204.9L87.7 207L84.2 206.6Z" fill="#e5e3f9" stroke="#574ad7" stroke-width="0.9"/>
<path d="M65.2 204.7L68.7 205.3L67.4 207.1L63.9 206.1Z" fill="#e5e3f8" stroke="#5749d4" stroke-width="0.9"/>
<path d="M97.4 204.9L100.9 205.4L99.7 206.9L96.1 206.4Z" fill="#e5e2f8" stroke="#5647d0" stroke-width="0.9"/>
<path d="M77.1 205.2L80.6 206.1L79.3 207.5L75.8 206.7Z" fill="#e5e2f8" stroke="#5647d0" stroke-width="0.9"/>
<path d="M56.8 205.3L60.3 205.9L59 207.7L55.5 207Z" fill="#e5e2f8" stroke="#5647d0" stroke-width="0.9"/>
<path d="M89 204.9L92.6 205.9L91.3 207.6L87.7 207Z" fill="#e5e3f9" stroke="#574ad7" stroke-width="0.9"/>
<path d="M68.7 205.3L72.2 206L71 207.8L67.4 207.1Z" fill="#e5e2f8" stroke="#5748d2" stroke-width="0.9"/>
<path d="M100.9 205.4L104.5 206.1L103.2 207.6L99.7 206.9Z" fill="#e5e2f8" stroke="#5748d2" stroke-width="0.9"/>
<path d="M80.6 206.1L84.2 206.6L82.9 207.9L79.3 207.5Z" fill="#e5e2f7" stroke="#5545cb" stroke-width="0.9"/>
<path d="M60.3 205.9L63.9 206.1L62.6 208.1L59 207.7Z" fill="#e5e2f8" stroke="#5647d0" stroke-width="0.9"/>
<path d="M92.6 205.9L96.1 206.4L94.8 208.3L91.3 207.6Z" fill="#e5e2f8" stroke="#5748d2" stroke-width="0.9"/>
<path d="M72.2 206L75.8 206.7L74.5 208.3L71 207.8Z" fill="#e5e2f8" stroke="#5748d2" stroke-width="0.9"/>
<path d="M104.5 206.1L108 206.9L106.8 208.5L103.2 207.6Z" fill="#e5e2f8" stroke="#5647d0" stroke-width="0.9"/>
<path d="M51.9 206.5L55.5 207L54.2 208.5L50.7 208.2Z" fill="#e5e2f7" stroke="#5646cd" stroke-width="0.9"/>
<path d="M84.2 206.6L87.7 207L86.5 207.9L82.9 207.9Z" fill="#e5e2f7" stroke="#5646cd" stroke-width="0.9"/>
<path d="M63.9 206.1L67.4 207.1L66.1 209.1L62.6 208.1Z" fill="#e5e3f9" stroke="#574ad7" stroke-width="0.9"/>
<path d="M96.1 206.4L99.7 206.9L98.4 208.5L94.8 208.3Z" fill="#e5e2f8" stroke="#5748d2" stroke-width="0.9"/>
<path d="M75.8 206.7L79.3 207.5L78.1 208.8L74.5 208.3Z" fill="#e5e2f8" stroke="#5647d0" stroke-width="0.9"/>
<path d="M108 206.9L111.6 207.8L110.3 209.4L106.8 208.5Z" fill="#e5e2f7" stroke="#5646cd" stroke-width="0.9"/>
<path d="M55.5 207L59 207.7L57.8 208.8L54.2 208.5Z" fill="#e5e2f7" stroke="#5646cd" stroke-width="0.9"/>
<path d="M87.7 207L91.3 207.6L90 208.7L86.5 207.9Z" fill="#e5e2f8" stroke="#5647d0" stroke-width="0.9"/>
<path d="M67.4 207.1L71 207.8L69.7 209.4L66.1 209.1Z" fill="#e5e2f8" stroke="#5647d0" stroke-width="0.9"/>
<path d="M99.7 206.9L103.2 207.6L101.9 209.3L98.4 208.5Z" fill="#e5e2f8" stroke="#5748d2" stroke-width="0.9"/>
<path d="M79.3 207.5L82.9 207.9L81.6 209.4L78.1 208.8Z" fill="#e5e2f7" stroke="#5646cd" stroke-width="0.9"/>
<path d="M111.6 207.8L115.1 207.9L113.9 209.9L110.3 209.4Z" fill="#e5e2f7" stroke="#5545cb" stroke-width="0.9"/>
<path d="M59 207.7L62.6 208.1L61.3 209.5L57.8 208.8Z" fill="#e5e2f7" stroke="#5646cd" stroke-width="0.9"/>
<path d="M91.3 207.6L94.8 208.3L93.5 209.8L90 208.7Z" fill="#e5e2f8" stroke="#5647d0" stroke-width="0.9"/>
<path d="M71 207.8L74.5 208.3L73.2 210.2L69.7 209.4Z" fill="#e5e2f7" stroke="#5646cd" stroke-width="0.9"/>
<path d="M103.2 207.6L106.8 208.5L105.5 209.8L101.9 209.3Z" fill="#e5e2f8" stroke="#5748d2" stroke-width="0.9"/>
<path d="M50.7 208.2L54.2 208.5L52.9 210.1L49.4 209.8Z" fill="#e5e2f7" stroke="#5545cb" stroke-width="0.9"/>
<path d="M82.9 207.9L86.5 207.9L85.2 209.6L81.6 209.4Z" fill="#e5e2f8" stroke="#5748d2" stroke-width="0.9"/>
<path d="M115.1 207.9L118.7 208.4L117.4 210L113.9 209.9Z" fill="#e5e2f8" stroke="#5647d0" stroke-width="0.9"/>
<path d="M62.6 208.1L66.1 209.1L64.9 210.5L61.3 209.5Z" fill="#e5e2f8" stroke="#5647d0" stroke-width="0.9"/>
<path d="M94.8 208.3L98.4 208.5L97.1 210.3L93.5 209.8Z" fill="#e5e2f7" stroke="#5646cd" stroke-width="0.9"/>
<path d="M74.5 208.3L78.1 208.8L76.8 210.5L73.2 210.2Z" fill="#e5e2f8" stroke="#5748d2" stroke-width="0.9"/>
<path d="M106.8 208.5L110.3 209.4L109 210.1L105.5 209.8Z" fill="#e5e2f7" stroke="#5646cd" stroke-width="0.9"/>
<path d="M54.2 208.5L57.8 208.8L56.5 210.3L52.9 210.1Z" fill="#e5e2f8" stroke="#5647d0" stroke-width="0.9"/>
<path d="M86.5 207.9L90 208.7L88.7 210.3L85.2 209.6Z" fill="#e7e5fa" stroke="#584bd9" stroke-width="0.9"/>
<path d="M118.7 208.4L122.2 209L121 210.1L117.4 210Z" fill="#e5e2f8" stroke="#5748d2" stroke-width="0.9"/>
<path d="M66.1 209.1L69.7 209.4L68.4 210.8L64.9 210.5Z" fill="#e5e2f7" stroke="#5545cb" stroke-width="0.9"/>
<path d="M98.4 208.5L101.9 209.3L100.7 211.1L97.1 210.3Z" fill="#e5e3f8" stroke="#5749d4" stroke-width="0.9"/>
<path d="M78.1 208.8L81.6 209.4L80.3 210.8L76.8 210.5Z" fill="#e5e2f8" stroke="#5748d2" stroke-width="0.9"/>
<path d="M110.3 209.4L113.9 209.9L112.6 210.8L109 210.1Z" fill="#e5e2f6" stroke="#5544c8" stroke-width="0.9"/>
<path d="M57.8 208.8L61.3 209.5L60 210.9L56.5 210.3Z" fill="#e5e3f8" stroke="#5749d4" stroke-width="0.9"/>
<path d="M90 208.7L93.5 209.8L92.3 211.2L88.7 210.3Z" fill="#e5e3f8" stroke="#5749d4" stroke-width="0.9"/>
<path d="M122.2 209L125.8 210L124.5 211.2L121 210.1Z" fill="#e5e2f8" stroke="#5748d2" stroke-width="0.9"/>
<path d="M69.7 209.4L73.2 210.2L72 211.5L68.4 210.8Z" fill="#e5e2f7" stroke="#5646cd" stroke-width="0.9"/>
<path d="M101.9 209.3L105.5 209.8L104.2 211.4L100.7 211.1Z" fill="#e5e2f8" stroke="#5748d2" stroke-width="0.9"/>
<path d="M49.4 209.8L52.9 210.1L51.7 211.6L48.1 210.7Z" fill="#e5e2f7" stroke="#5545cb" stroke-width="0.9"/>
<path d="M81.6 209.4L85.2 209.6L83.9 211.1L80.3 210.8Z" fill="#e5e2f8" stroke="#5748d2" stroke-width="0.9"/>
<path d="M113.9 209.9L117.4 210L116.1 211.6L112.6 210.8Z" fill="#e5e2f7" stroke="#5545cb" stroke-width="0.9"/>
<path d="M61.3 209.5L64.9 210.5L63.6 211.6L60 210.9Z" fill="#e5e2f8" stroke="#5748d2" stroke-width="0.9"/>
<path d="M93.5 209.8L97.1 210.3L95.8 211.5L92.3 211.2Z" fill="#e5e2f8" stroke="#5647d0" stroke-width="0.9"/>
<path d="M125.8 210L129.3 209.9L128.1 211.8L124.5 211.2Z" fill="#e5e2f7" stroke="#5646cd" stroke-width="0.9"/>
<path d="M73.2 210.2L76.8 210.5L75.5 212L72 211.5Z" fill="#e5e2f7" stroke="#5545cb" stroke-width="0.9"/>
<path d="M105.5 209.8L109 210.1L107.8 212L104.2 211.4Z" fill="#e5e2f8" stroke="#5748d2" stroke-width="0.9"/>
<path d="M52.9 210.1L56.5 210.3L55.2 211.9L51.7 211.6Z" fill="#e5e2f8" stroke="#5647d0" stroke-width="0.9"/>
<path d="M85.2 209.6L88.7 210.3L87.4 211.8L83.9 211.1Z" fill="#e5e3f9" stroke="#574ad7" stroke-width="0.9"/>
<path d="M117.4 210L121 210.1L119.7 212.1L116.1 211.6Z" fill="#e5e2f8" stroke="#5748d2" stroke-width="0.9"/>
<path d="M64.9 210.5L68.4 210.8L67.1 212.4L63.6 211.6Z" fill="#e5e2f7" stroke="#5646cd" stroke-width="0.9"/>
<path d="M97.1 210.3L100.7 211.1L99.4 212.3L95.8 211.5Z" fill="#e5e2f8" stroke="#5647d0" stroke-width="0.9"/>
<path d="M129.3 209.9L132.9 210.7L131.6 212.2L128.1 211.8Z" fill="#e5e3f9" stroke="#574ad7" stroke-width="0.9"/>
<path d="M76.8 210.5L80.3 210.8L79.1 212.4L75.5 212Z" fill="#e5e2f8" stroke="#5647d0" stroke-width="0.9"/>
<path d="M109 210.1L112.6 210.8L111.3 212.9L107.8 212Z" fill="#e5e3f9" stroke="#574ad7" stroke-width="0.9"/>
<path d="M56.5 210.3L60 210.9L58.8 212.3L55.2 211.9Z" fill="#e5e3f8" stroke="#5749d4" stroke-width="0.9"/>
<path d="M88.7 210.3L92.3 211.2L91 213.1L87.4 211.8Z" fill="#e5e3f9" stroke="#574ad7" stroke-width="0.9"/>
<path d="M121 210.1L124.5 211.2L123.2 212.6L119.7 212.1Z" fill="#e8e6fa" stroke="#584bd9" stroke-width="0.9"/>
<path d="M68.4 210.8L72 211.5L70.7 213.1L67.1 212.4Z" fill="#e5e2f8" stroke="#5748d2" stroke-width="0.9"/>
<path d="M100.7 211.1L104.2 211.4L102.9 213.1L99.4 212.3Z" fill="#e5e2f7" stroke="#5646cd" stroke-width="0.9"/>
<path d="M132.9 210.7L136.4 211.5L135.2 212.9L131.6 212.2Z" fill="#e5e3f8" stroke="#5749d4" stroke-width="0.9"/>
<path d="M48.1 210.7L51.7 211.6L50.4 213.5L46.8 212.4Z" fill="#e5e3f8" stroke="#5749d4" stroke-width="0.9"/>
<path d="M80.3 210.8L83.9 211.1L82.6 212.8L79.1 212.4Z" fill="#e5e3f8" stroke="#5749d4" stroke-width="0.9"/>
<path d="M112.6 210.8L116.1 211.6L114.8 213.3L111.3 212.9Z" fill="#e5e3f8" stroke="#5749d4" stroke-width="0.9"/>
<path d="M60 210.9L63.6 211.6L62.3 212.9L58.8 212.3Z" fill="#e5e3f8" stroke="#5749d4" stroke-width="0.9"/>
<path d="M92.3 211.2L95.8 211.5L94.5 213.3L91 213.1Z" fill="#e5e2f8" stroke="#5748d2" stroke-width="0.9"/>
<path d="M124.5 211.2L128.1 211.8L126.8 213.6L123.2 212.6Z" fill="#e5e2f8" stroke="#5748d2" stroke-width="0.9"/>
<path d="M72 211.5L75.5 212L74.2 213.8L70.7 213.1Z" fill="#e5e2f8" stroke="#5647d0" stroke-width="0.9"/>
<path d="M104.2 211.4L107.8 212L106.5 213.8L102.9 213.1Z" fill="#e5e2f8" stroke="#5748d2" stroke-width="0.9"/>
<path d="M136.4 211.5L140 211.5L138.7 213.5L135.2 212.9Z" fill="#e5e2f8" stroke="#5748d2" stroke-width="0.9"/>
<path d="M51.7 211.6L55.2 211.9L53.9 213.5L50.4 213.5Z" fill="#e5e2f8" stroke="#5748d2" stroke-width="0.9"/>
<path d="M83.9 211.1L87.4 211.8L86.2 213.7L82.6 212.8Z" fill="#e6e5f9" stroke="#584bd9" stroke-width="0.9"/>
<path d="M116.1 211.6L119.7 212.1L118.4 213.9L114.8 213.3Z" fill="#e5e2f8" stroke="#5748d2" stroke-width="0.9"/>
<path d="M63.6 211.6L67.1 212.4L65.8 214L62.3 212.9Z" fill="#e5e3f8" stroke="#5749d4" stroke-width="0.9"/>
<path d="M95.8 211.5L99.4 212.3L98.1 213.6L94.5 213.3Z" fill="#e5e3f8" stroke="#5749d4" stroke-width="0.9"/>
<path d="M128.1 211.8L131.6 212.2L130.3 214.3L126.8 213.6Z" fill="#e5e2f8" stroke="#5748d2" stroke-width="0.9"/>
<path d="M75.5 212L79.1 212.4L77.8 214.2L74.2 213.8Z" fill="#e5e2f8" stroke="#5748d2" stroke-width="0.9"/>
<path d="M107.8 212L111.3 212.9L110 214.4L106.5 213.8Z" fill="#e5e2f8" stroke="#5748d2" stroke-width="0.9"/>
<path d="M140 211.5L143.5 212.7L142.3 214.2L138.7 213.5Z" fill="#e8e6fa" stroke="#584bd9" stroke-width="0.9"/>
<path d="M55.2 211.9L58.8 212.3L57.5 213.9L53.9 213.5Z" fill="#e5e3f8" stroke="#5749d4" stroke-width="0.9"/>
<path d="M87.4 211.8L91 213.1L89.7 215L86.2 213.7Z" fill="#e5e3f9" stroke="#574ad7" stroke-width="0.9"/>
<path d="M119.7 212.1L123.2 212.6L122 214.2L118.4 213.9Z" fill="#e5e3f8" stroke="#5749d4" stroke-width="0.9"/>
<path d="M67.1 212.4L70.7 213.1L69.4 214.6L65.8 214Z" fill="#e5e2f8" stroke="#5748d2" stroke-width="0.9"/>
<path d="M99.4 212.3L102.9 213.1L101.6 214.4L98.1 213.6Z" fill="#e5e2f8" stroke="#5748d2" stroke-width="0.9"/>
<path d="M131.6 212.2L135.2 212.9L133.9 214.6L130.3 214.3Z" fill="#e5e3f8" stroke="#5749d4" stroke-width="0.9"/>
<path d="M46.8 212.4L50.4 213.5L49.1 214.7L45.5 213.9Z" fill="#e5e3f8" stroke="#5749d4" stroke-width="0.9"/>
<path d="M79.1 212.4L82.6 212.8L81.3 214.8L77.8 214.2Z" fill="#e5e3f8" stroke="#5749d4" stroke-width="0.9"/>
<path d="M111.3 212.9L114.8 213.3L113.6 214.7L110 214.4Z" fill="#e5e2f7" stroke="#5646cd" stroke-width="0.9"/>
<path d="M143.5 212.7L147.1 213.8L145.8 215.1L142.3 214.2Z" fill="#e5e2f8" stroke="#5748d2" stroke-width="0.9"/>
<path d="M58.8 212.3L62.3 212.9L61 214.7L57.5 213.9Z" fill="#e6e4f9" stroke="#584bd9" stroke-width="0.9"/>
<path d="M91 213.1L94.5 213.3L93.3 215.6L89.7 215Z" fill="#e5e2f7" stroke="#5646cd" stroke-width="0.9"/>
<path d="M123.2 212.6L126.8 213.6L125.5 214.9L122 214.2Z" fill="#e5e3f8" stroke="#5749d4" stroke-width="0.9"/>
<path d="M70.7 213.1L74.2 213.8L72.9 215.2L69.4 214.6Z" fill="#e5e2f8" stroke="#5647d0" stroke-width="0.9"/>
<path d="M102.9 213.1L106.5 213.8L105.2 215.3L101.6 214.4Z" fill="#e5e2f8" stroke="#5647d0" stroke-width="0.9"/>
<path d="M135.2 212.9L138.7 213.5L137.4 215L133.9 214.6Z" fill="#e5e3f8" stroke="#5749d4" stroke-width="0.9"/>
<path d="M50.4 213.5L53.9 213.5L52.6 215L49.1 214.7Z" fill="#e5e2f7" stroke="#5646cd" stroke-width="0.9"/>
<path d="M82.6 212.8L86.2 213.7L84.9 215.7L81.3 214.8Z" fill="#e5e3f9" stroke="#574ad7" stroke-width="0.9"/>
<path d="M114.8 213.3L118.4 213.9L117.1 215.9L113.6 214.7Z" fill="#e5e2f8" stroke="#5748d2" stroke-width="0.9"/>
<path d="M147.1 213.8L150.6 214.3L149.4 215.7L145.8 215.1Z" fill="#e5e2f7" stroke="#5545cb" stroke-width="0.9"/>
<path d="M62.3 212.9L65.8 214L64.6 215.4L61 214.7Z" fill="#e5e3f9" stroke="#574ad7" stroke-width="0.9"/>
<path d="M94.5 213.3L98.1 213.6L96.8 215.8L93.3 215.6Z" fill="#e5e3f8" stroke="#5749d4" stroke-width="0.9"/>
<path d="M126.8 213.6L130.3 214.3L129.1 215.5L125.5 214.9Z" fill="#e5e2f8" stroke="#5647d0" stroke-width="0.9"/>
<path d="M74.2 213.8L77.8 214.2L76.5 216.1L72.9 215.2Z" fill="#e5e2f8" stroke="#5647d0" stroke-width="0.9"/>
<path d="M106.5 213.8L110 214.4L108.7 215.7L105.2 215.3Z" fill="#e5e2f8" stroke="#5647d0" stroke-width="0.9"/>
<path d="M138.7 213.5L142.3 214.2L141 215.8L137.4 215Z" fill="#e5e3f8" stroke="#5749d4" stroke-width="0.9"/>
<path d="M53.9 213.5L57.5 213.9L56.2 215.9L52.6 215Z" fill="#e5e3f8" stroke="#5749d4" stroke-width="0.9"/>
<path d="M86.2 213.7L89.7 215L88.4 216.8L84.9 215.7Z" fill="#e5e2f8" stroke="#5748d2" stroke-width="0.9"/>
<path d="M118.4 213.9L122 214.2L120.7 216.4L117.1 215.9Z" fill="#e5e2f8" stroke="#5647d0" stroke-width="0.9"/>
<path d="M150.6 214.3L154.2 215.2L152.9 216.6L149.4 215.7Z" fill="#e5e2f7" stroke="#5545cb" stroke-width="0.9"/>
<path d="M65.8 214L69.4 214.6L68.1 216L64.6 215.4Z" fill="#e5e2f8" stroke="#5748d2" stroke-width="0.9"/>
<path d="M98.1 213.6L101.6 214.4L100.4 216.5L96.8 215.8Z" fill="#e5e3f9" stroke="#574ad7" stroke-width="0.9"/>
<path d="M130.3 214.3L133.9 214.6L132.6 216.4L129.1 215.5Z" fill="#e5e2f7" stroke="#5646cd" stroke-width="0.9"/>
<path d="M45.5 213.9L49.1 214.7L47.8 216.1L44.3 215.4Z" fill="#e5e3f8" stroke="#5749d4" stroke-width="0.9"/>
<path d="M77.8 214.2L81.3 214.8L80.1 217.5L76.5 216.1Z" fill="#e5e2f8" stroke="#5647d0" stroke-width="0.9"/>
<path d="M110 214.4L113.6 214.7L112.3 216.1L108.7 215.7Z" fill="#e5e2f8" stroke="#5647d0" stroke-width="0.9"/>
<path d="M142.3 214.2L145.8 215.1L144.5 216.6L141 215.8Z" fill="#e5e2f8" stroke="#5748d2" stroke-width="0.9"/>
<path d="M57.5 213.9L61 214.7L59.7 216.5L56.2 215.9Z" fill="#e5e3f9" stroke="#574ad7" stroke-width="0.9"/>
<path d="M89.7 215L93.3 215.6L92 217.8L88.4 216.8Z" fill="#e5e2f6" stroke="#5544c8" stroke-width="0.9"/>
<path d="M122 214.2L125.5 214.9L124.2 216.7L120.7 216.4Z" fill="#e5e3f8" stroke="#5749d4" stroke-width="0.9"/>
<path d="M154.2 215.2L157.7 214.9L156.5 216.6L152.9 216.6Z" fill="#e4e2f6" stroke="#5543c6" stroke-width="0.9"/>
<path d="M69.4 214.6L72.9 215.2L71.7 217.1L68.1 216Z" fill="#e5e2f8" stroke="#5748d2" stroke-width="0.9"/>
<path d="M101.6 214.4L105.2 215.3L103.9 217.1L100.4 216.5Z" fill="#e5e3f8" stroke="#5749d4" stroke-width="0.9"/>
<path d="M133.9 214.6L137.4 215L136.1 216.9L132.6 216.4Z" fill="#e5e2f8" stroke="#5748d2" stroke-width="0.9"/>
<path d="M49.1 214.7L52.6 215L51.4 216.5L47.8 216.1Z" fill="#e5e2f8" stroke="#5748d2" stroke-width="0.9"/>
<path d="M81.3 214.8L84.9 215.7L83.6 218.1L80.1 217.5Z" fill="#e5e2f8" stroke="#5647d0" stroke-width="0.9"/>
<path d="M113.6 214.7L117.1 215.9L115.8 217.2L112.3 216.1Z" fill="#e5e2f8" stroke="#5748d2" stroke-width="0.9"/>
<path d="M145.8 215.1L149.4 215.7L148.1 217.2L144.5 216.6Z" fill="#e5e2f7" stroke="#5646cd" stroke-width="0.9"/>
<path d="M61 214.7L64.6 215.4L63.3 216.6L59.7 216.5Z" fill="#e5e3f8" stroke="#5749d4" stroke-width="0.9"/>
<path d="M93.3 215.6L96.8 215.8L95.5 218.7L92 217.8Z" fill="#e5e2f6" stroke="#5544c8" stroke-width="0.9"/>
<path d="M125.5 214.9L129.1 215.5L127.8 217.6L124.2 216.7Z" fill="#e5e3f8" stroke="#5749d4" stroke-width="0.9"/>
<path d="M72.9 215.2L76.5 216.1L75.2 218.2L71.7 217.1Z" fill="#e5e2f8" stroke="#5748d2" stroke-width="0.9"/>
<path d="M105.2 215.3L108.7 215.7L107.5 217.8L103.9 217.1Z" fill="#e5e2f8" stroke="#5647d0" stroke-width="0.9"/>
<path d="M137.4 215L141 215.8L139.7 217.4L136.1 216.9Z" fill="#e5e3f8" stroke="#5749d4" stroke-width="0.9"/>
<path d="M52.6 215L56.2 215.9L54.9 217.5L51.4 216.5Z" fill="#e5e3f9" stroke="#574ad7" stroke-width="0.9"/>
<path d="M84.9 215.7L88.4 216.8L87.2 219L83.6 218.1Z" fill="#e5e2f7" stroke="#5646cd" stroke-width="0.9"/>
<path d="M117.1 215.9L120.7 216.4L119.4 217.7L115.8 217.2Z" fill="#e5e2f7" stroke="#5545cb" stroke-width="0.9"/>
<path d="M149.4 215.7L152.9 216.6L151.6 218L148.1 217.2Z" fill="#e5e2f7" stroke="#5646cd" stroke-width="0.9"/>
<path d="M64.6 215.4L68.1 216L66.8 217.5L63.3 216.6Z" fill="#e5e2f8" stroke="#5748d2" stroke-width="0.9"/>
<path d="M96.8 215.8L100.4 216.5L99.1 219.2L95.5 218.7Z" fill="#e5e2f7" stroke="#5646cd" stroke-width="0.9"/>
<path d="M129.1 215.5L132.6 216.4L131.3 218.3L127.8 217.6Z" fill="#e5e3f8" stroke="#5749d4" stroke-width="0.9"/>
<path d="M44.3 215.4L47.8 216.1L46.5 217.6L43 216.7Z" fill="#e5e3f9" stroke="#574ad7" stroke-width="0.9"/>
<path d="M76.5 216.1L80.1 217.5L78.8 219.6L75.2 218.2Z" fill="#e5e2f7" stroke="#5646cd" stroke-width="0.9"/>
<path d="M108.7 215.7L112.3 216.1L111 218.5L107.5 217.8Z" fill="#e5e2f8" stroke="#5748d2" stroke-width="0.9"/>
<path d="M141 215.8L144.5 216.6L143.2 217.8L139.7 217.4Z" fill="#e5e2f8" stroke="#5748d2" stroke-width="0.9"/>
<path d="M56.2 215.9L59.7 216.5L58.5 218.1L54.9 217.5Z" fill="#e5e2f8" stroke="#5748d2" stroke-width="0.9"/>
<path d="M88.4 216.8L92 217.7L90.7 219.7L87.2 219.2Z" fill="#635de9" stroke="#1a1460" stroke-width="0.75"/>
<path d="M120.7 216.4L124.2 216.7L122.9 218.1L119.4 217.7Z" fill="#e5e2f7" stroke="#5646cd" stroke-width="0.9"/>
<path d="M152.9 216.6L156.5 216.6L155.2 218.4L151.6 218Z" fill="#e5e2f7" stroke="#5545cb" stroke-width="0.9"/>
<path d="M68.1 216L71.7 217.1L70.4 219.3L66.8 217.5Z" fill="#e5e3f8" stroke="#5749d4" stroke-width="0.9"/>
<path d="M100.4 216.5L103.9 217.1L102.6 219.9L99.1 219.2Z" fill="#e5e2f7" stroke="#5646cd" stroke-width="0.9"/>
<path d="M132.6 216.4L136.1 216.9L134.9 218.6L131.3 218.3Z" fill="#e5e2f8" stroke="#5647d0" stroke-width="0.9"/>
<path d="M47.8 216.1L51.4 216.5L50.1 217.5L46.5 217.6Z" fill="#e5e3f8" stroke="#5749d4" stroke-width="0.9"/>
<path d="M80.1 217.2L83.6 218.3L82.3 220.2L78.8 219.6Z" fill="#635de9" stroke="#1a1460" stroke-width="0.75"/>
<path d="M112.3 216.1L115.8 217.2L114.6 218.8L111 218.5Z" fill="#e5e3f9" stroke="#574ad7" stroke-width="0.9"/>
<path d="M144.5 216.6L148.1 217.2L146.8 218.6L143.2 217.8Z" fill="#e5e2f8" stroke="#5647d0" stroke-width="0.9"/>
<path d="M59.7 216.5L63.3 216.6L62 218.7L58.5 218.1Z" fill="#e5e2f8" stroke="#5748d2" stroke-width="0.9"/>
<path d="M92 217.7L95.5 218.5L94.2 220L90.7 219.7Z" fill="#625be6" stroke="#1a1460" stroke-width="0.75"/>
<path d="M124.2 216.7L127.8 217.6L126.5 218.8L122.9 218.1Z" fill="#e5e2f8" stroke="#5647d0" stroke-width="0.9"/>
<path d="M71.7 217.1L75.2 218.2L73.9 220L70.4 219.3Z" fill="#e5e2f7" stroke="#5646cd" stroke-width="0.9"/>
<path d="M103.9 217.1L107.5 217.8L106.2 220.4L102.6 219.9Z" fill="#e5e2f7" stroke="#5646cd" stroke-width="0.9"/>
<path d="M136.1 216.9L139.7 217.4L138.4 219.2L134.9 218.6Z" fill="#e5e2f8" stroke="#5647d0" stroke-width="0.9"/>
<path d="M51.4 216.5L54.9 217.5L53.6 218.1L50.1 217.5Z" fill="#e5e3f9" stroke="#574ad7" stroke-width="0.9"/>
<path d="M83.6 218.3L87.2 219.2L85.9 220.2L82.3 220.2Z" fill="#625ae4" stroke="#1a1460" stroke-width="0.75"/>
<path d="M115.8 217.2L119.4 217.7L118.1 219.7L114.6 218.8Z" fill="#e5e2f7" stroke="#5646cd" stroke-width="0.9"/>
<path d="M148.1 217.2L151.6 218L150.3 219.6L146.8 218.6Z" fill="#e5e2f8" stroke="#5647d0" stroke-width="0.9"/>
<path d="M63.3 216.6L66.8 217.5L65.6 220L62 218.7Z" fill="#e5e3f9" stroke="#584bd9" stroke-width="0.9"/>
<path d="M95.5 218.5L99.1 219.2L97.8 220.4L94.2 220Z" fill="#625ae4" stroke="#1a1460" stroke-width="0.75"/>
<path d="M127.8 217.6L131.3 218.3L130 219.6L126.5 218.8Z" fill="#e5e2f7" stroke="#5646cd" stroke-width="0.9"/>
<path d="M43 216.7L46.5 217.6L45.2 219.2L41.7 218.3Z" fill="#e8e7fa" stroke="#584bd9" stroke-width="0.9"/>
<path d="M75.2 218.4L78.8 219.6L77.5 220.9L73.9 220.6Z" fill="#625ce7" stroke="#1a1460" stroke-width="0.75"/>
<path d="M107.5 217.8L111 218.5L109.7 221.2L106.2 220.4Z" fill="#e5e2f7" stroke="#5545cb" stroke-width="0.9"/>
<path d="M139.7 217.4L143.2 217.8L142 219.6L138.4 219.2Z" fill="#e5e2f8" stroke="#5748d2" stroke-width="0.9"/>
<path d="M54.9 217.5L58.5 218.1L57.2 219.5L53.6 218.1Z" fill="#e5e2f8" stroke="#5748d2" stroke-width="0.9"/>
<path d="M87.2 219.2L90.7 219.7L89.4 219.8L85.9 220.2Z" fill="#6258e1" stroke="#1a1460" stroke-width="0.75"/>
<path d="M119.4 217.7L122.9 218.1L121.7 220.3L118.1 219.7Z" fill="#e5e2f8" stroke="#5647d0" stroke-width="0.9"/>
<path d="M151.6 218L155.2 218.4L153.9 220L150.3 219.6Z" fill="#e5e2f7" stroke="#5646cd" stroke-width="0.9"/>
<path d="M66.8 217.5L70.4 219.3L69.1 221.6L65.6 220Z" fill="#e8e7f9" stroke="#5749d4" stroke-width="0.9"/>
<path d="M99.1 219.2L102.6 219.9L101.3 221L97.8 220.4Z" fill="#6259e3" stroke="#1a1460" stroke-width="0.75"/>
<path d="M131.3 218.3L134.9 218.6L133.6 220.2L130 219.6Z" fill="#e5e2f7" stroke="#5545cb" stroke-width="0.9"/>
<path d="M46.5 217.6L50.1 217.5L48.8 219.3L45.2 219.2Z" fill="#e5e3f9" stroke="#574ad7" stroke-width="0.9"/>
<path d="M78.8 219.6L82.3 220.2L81 220.6L77.5 220.9Z" fill="#6258e1" stroke="#1a1460" stroke-width="0.75"/>
<path d="M111 218.5L114.6 218.8L113.3 221.6L109.7 221.2Z" fill="#e5e2f7" stroke="#5545cb" stroke-width="0.9"/>
<path d="M143.2 217.8L146.8 218.6L145.5 220.4L142 219.6Z" fill="#e5e3f8" stroke="#5749d4" stroke-width="0.9"/>
<path d="M58.5 218.1L62 218.7L60.7 221L57.2 219.5Z" fill="#e5e2f8" stroke="#5748d2" stroke-width="0.9"/>
<path d="M90.7 219.7L94.2 220L93 219.5L89.4 219.8Z" fill="#6259e3" stroke="#1a1460" stroke-width="0.75"/>
<path d="M122.9 218.1L126.5 218.8L125.2 220.3L121.7 220.3Z" fill="#e5e3f8" stroke="#5749d4" stroke-width="0.9"/>
<path d="M70.4 219.4L73.9 220.6L72.7 221.8L69.1 221.5Z" fill="#625be6" stroke="#1a1460" stroke-width="0.75"/>
<path d="M102.6 219.9L106.2 220.6L104.9 221.8L101.3 221Z" fill="#6259e3" stroke="#1a1460" stroke-width="0.75"/>
<path d="M134.9 218.6L138.4 219.2L137.1 220.9L133.6 220.2Z" fill="#e5e2f8" stroke="#5647d0" stroke-width="0.9"/>
<path d="M50.1 217.5L53.6 218.1L52.3 219.8L48.8 219.3Z" fill="#eeedfc" stroke="#584edf" stroke-width="0.9"/>
<path d="M82.3 220.2L85.9 220.2L84.6 220L81 220.6Z" fill="#6258e1" stroke="#1a1460" stroke-width="0.75"/>
<path d="M114.6 218.8L118.1 219.7L116.8 222.7L113.3 221.6Z" fill="#e5e2f7" stroke="#5646cd" stroke-width="0.9"/>
<path d="M146.8 218.6L150.3 219.6L149.1 221.3L145.5 220.4Z" fill="#e5e2f8" stroke="#5748d2" stroke-width="0.9"/>
<path d="M62 218.7L65.6 220L64.3 222.2L60.7 221Z" fill="#e5e2f8" stroke="#5748d2" stroke-width="0.9"/>
<path d="M94.2 220L97.8 220.4L96.5 219.6L93 219.5Z" fill="#625be6" stroke="#1a1460" stroke-width="0.75"/>
<path d="M126.5 218.8L130 219.6L128.8 221.2L125.2 220.3Z" fill="#e5e2f8" stroke="#5748d2" stroke-width="0.9"/>
<path d="M41.7 218.3L45.2 219.2L44 220.7L40.4 219.9Z" fill="#e9e7fa" stroke="#584cdb" stroke-width="0.9"/>
<path d="M73.9 220.6L77.5 220.9L76.2 221.3L72.7 221.8Z" fill="#6258e1" stroke="#1a1460" stroke-width="0.75"/>
<path d="M106.2 220.6L109.7 221.2L108.4 222.7L104.9 221.8Z" fill="#6258e1" stroke="#1a1460" stroke-width="0.75"/>
<path d="M138.4 219.2L142 219.6L140.7 221.4L137.1 220.9Z" fill="#e5e2f8" stroke="#5647d0" stroke-width="0.9"/>
<path d="M53.6 218.1L57.2 219.5L55.9 220.9L52.3 219.8Z" fill="#edecfc" stroke="#584edf" stroke-width="0.9"/>
<path d="M85.9 220.2L89.4 219.8L88.1 219.3L84.6 220Z" fill="#625ce7" stroke="#1a1460" stroke-width="0.75"/>
<path d="M118.1 219.7L121.7 220.3L120.4 222.8L116.8 222.7Z" fill="#e5e2f7" stroke="#5545cb" stroke-width="0.9"/>
<path d="M150.3 219.6L153.9 220L152.6 221.8L149.1 221.3Z" fill="#e5e2f7" stroke="#5545cb" stroke-width="0.9"/>
<path d="M65.6 220.2L69.1 221.5L67.8 222.8L64.3 222.2Z" fill="#635de9" stroke="#1a1460" stroke-width="0.75"/>
<path d="M97.8 220.4L101.3 221L100.1 220.3L96.5 219.6Z" fill="#625ce7" stroke="#1a1460" stroke-width="0.75"/>
<path d="M130 219.6L133.6 220.2L132.3 221.5L128.8 221.2Z" fill="#e5e2f8" stroke="#5647d0" stroke-width="0.9"/>
<path d="M45.2 219.2L48.8 219.3L47.5 221L44 220.7Z" fill="#e5e3f8" stroke="#5749d4" stroke-width="0.9"/>
<path d="M77.5 220.9L81 220.6L79.8 220.7L76.2 221.3Z" fill="#625ae4" stroke="#1a1460" stroke-width="0.75"/>
<path d="M109.7 221.2L113.3 221.6L112 223.6L108.4 222.7Z" fill="#6259e3" stroke="#1a1460" stroke-width="0.75"/>
<path d="M142 219.6L145.5 220.4L144.2 222L140.7 221.4Z" fill="#e5e2f8" stroke="#5748d2" stroke-width="0.9"/>
<path d="M57.2 219.5L60.7 221L59.5 222.5L55.9 220.9Z" fill="#e5e3f8" stroke="#5749d4" stroke-width="0.9"/>
<path d="M89.4 219.8L93 219.5L91.7 218.6L88.1 219.3Z" fill="#6362ee" stroke="#1a1460" stroke-width="0.75"/>
<path d="M121.7 220.3L125.2 220.3L123.9 222.5L120.4 222.8Z" fill="#e5e2f7" stroke="#5545cb" stroke-width="0.9"/>
<path d="M69.1 221.5L72.7 221.8L71.4 222.3L67.8 222.8Z" fill="#6259e3" stroke="#1a1460" stroke-width="0.75"/>
<path d="M101.3 221L104.9 221.8L103.6 221.4L100.1 220.3Z" fill="#625ce7" stroke="#1a1460" stroke-width="0.75"/>
<path d="M133.6 220.2L137.1 220.9L135.9 222L132.3 221.5Z" fill="#e5e2f7" stroke="#5646cd" stroke-width="0.9"/>
<path d="M48.8 219.3L52.3 219.8L51.1 221.6L47.5 221Z" fill="#e9e7fa" stroke="#584cdb" stroke-width="0.9"/>
<path d="M81 220.6L84.6 220L83.3 220L79.8 220.7Z" fill="#6360eb" stroke="#1a1460" stroke-width="0.75"/>
<path d="M113.3 221.6L116.8 221.9L115.6 224.2L112 223.6Z" fill="#625ae4" stroke="#1a1460" stroke-width="0.75"/>
<path d="M145.5 220.4L149.1 221.3L147.8 222.4L144.2 222Z" fill="#e5e2f8" stroke="#5647d0" stroke-width="0.9"/>
<path d="M60.7 220.8L64.3 222.2L63 223.9L59.5 222.7Z" fill="#6360eb" stroke="#1a1460" stroke-width="0.75"/>
<path d="M93 219.5L96.5 219.6L95.2 218.6L91.7 218.6Z" fill="#6369f4" stroke="#1a1460" stroke-width="0.75"/>
<path d="M125.2 220.3L128.8 221.2L127.5 222.8L123.9 222.5Z" fill="#e5e3f8" stroke="#5749d4" stroke-width="0.9"/>
<path d="M40.4 219.9L44 220.7L42.7 222.1L39.1 221.9Z" fill="#e7e5fa" stroke="#584bd9" stroke-width="0.9"/>
<path d="M72.7 221.8L76.2 221.3L74.9 221.7L71.4 222.3Z" fill="#625be6" stroke="#1a1460" stroke-width="0.75"/>
<path d="M104.9 221.8L108.4 222.7L107.2 222.6L103.6 221.4Z" fill="#625be6" stroke="#1a1460" stroke-width="0.75"/>
<path d="M137.1 220.9L140.7 221.4L139.4 222.9L135.9 222Z" fill="#e5e2f7" stroke="#5646cd" stroke-width="0.9"/>
<path d="M52.3 219.8L55.9 220.9L54.6 222.3L51.1 221.6Z" fill="#eae8fb" stroke="#584ddd" stroke-width="0.9"/>
<path d="M84.6 220L88.1 219.3L86.9 218.7L83.3 220Z" fill="#6368f3" stroke="#1a1460" stroke-width="0.75"/>
<path d="M116.8 221.9L120.4 222.1L119.1 224.7L115.6 224.2Z" fill="#625be6" stroke="#1a1460" stroke-width="0.75"/>
<path d="M149.1 221.3L152.6 221.8L151.3 222.9L147.8 222.4Z" fill="#e5e2f7" stroke="#5545cb" stroke-width="0.9"/>
<path d="M64.3 222.2L67.8 222.8L66.5 223.7L63 223.9Z" fill="#625ae4" stroke="#1a1460" stroke-width="0.75"/>
<path d="M96.5 219.6L100.1 220.3L98.8 219.6L95.2 218.6Z" fill="#636df6" stroke="#1a1460" stroke-width="0.75"/>
<path d="M128.8 221.2L132.3 221.5L131 223L127.5 222.8Z" fill="#e5e2f7" stroke="#5646cd" stroke-width="0.9"/>
<path d="M44 220.7L47.5 221L46.2 222.4L42.7 222.1Z" fill="#e5e3f9" stroke="#574ad7" stroke-width="0.9"/>
<path d="M76.2 221.3L79.8 220.7L78.5 221.2L74.9 221.7Z" fill="#6362ee" stroke="#1a1460" stroke-width="0.75"/>
<path d="M108.4 222.7L112 223.6L110.7 223.8L107.2 222.6Z" fill="#6259e3" stroke="#1a1460" stroke-width="0.75"/>
<path d="M140.7 221.4L144.2 222L143 223.7L139.4 222.9Z" fill="#e5e2f7" stroke="#5646cd" stroke-width="0.9"/>
<path d="M55.9 220.9L59.5 222.5L58.2 223.7L54.6 222.3Z" fill="#e5e3f9" stroke="#574ad7" stroke-width="0.9"/>
<path d="M88.1 219.5L91.7 217.8L90.4 215.8L86.9 218Z" fill="#e5e4fb" stroke="#5953e6" stroke-width="0.9"/>
<path d="M120.4 222.1L123.9 222.3L122.7 224.8L119.1 224.7Z" fill="#635fea" stroke="#1a1460" stroke-width="0.75"/>
<path d="M67.8 222.8L71.4 222.3L70.1 222.9L66.5 223.7Z" fill="#625ae4" stroke="#1a1460" stroke-width="0.75"/>
<path d="M100.1 220.4L103.6 221.8L102.3 221.2L98.8 219Z" fill="#e5e4fa" stroke="#594fe1" stroke-width="0.9"/>
<path d="M132.3 221.5L135.9 222L134.6 223.9L131 223Z" fill="#e5e2f8" stroke="#5748d2" stroke-width="0.9"/>
<path d="M47.5 221L51.1 221.6L49.8 223.1L46.2 222.4Z" fill="#e6e5fa" stroke="#584cdb" stroke-width="0.9"/>
<path d="M79.8 221.4L83.3 220.4L82 220.3L78.5 221.8Z" fill="#e5e3f9" stroke="#574ad7" stroke-width="0.9"/>
<path d="M112 223.6L115.6 224.2L114.3 225L110.7 223.8Z" fill="#6157df" stroke="#1a1460" stroke-width="0.75"/>
<path d="M144.2 222L147.8 222.4L146.5 224L143 223.7Z" fill="#e5e2f8" stroke="#5647d0" stroke-width="0.9"/>
<path d="M59.5 222.7L63 223.9L61.7 225.3L58.2 224.5Z" fill="#635de9" stroke="#1a1460" stroke-width="0.75"/>
<path d="M91.7 217.8L95.2 217.4L94 215.5L90.4 215.8Z" fill="#ecedfe" stroke="#5964f4" stroke-width="0.9"/>
<path d="M123.9 222.5L127.5 222.8L126.2 224.7L122.7 225Z" fill="#e5e2f7" stroke="#5545cb" stroke-width="0.9"/>
<path d="M39.1 222L42.7 222.6L41.4 224.1L37.9 223.6Z" fill="#6363ef" stroke="#1a1460" stroke-width="0.75"/>
<path d="M71.4 222.3L74.9 221.7L73.7 222.4L70.1 222.9Z" fill="#6362ee" stroke="#1a1460" stroke-width="0.75"/>
<path d="M103.6 221.8L107.2 223.6L105.9 223L102.3 221.2Z" fill="#e5e3f9" stroke="#574ad7" stroke-width="0.9"/>
<path d="M135.9 222L139.4 222.9L138.1 224.4L134.6 223.9Z" fill="#e5e3f8" stroke="#5749d4" stroke-width="0.9"/>
<path d="M51.1 221.6L54.6 222.3L53.3 224L49.8 223.1Z" fill="#e7e5fa" stroke="#584cdb" stroke-width="0.9"/>
<path d="M83.3 220.4L86.9 218L85.6 216.9L82 220.3Z" fill="#e5e4fb" stroke="#5954e7" stroke-width="0.9"/>
<path d="M115.6 224.2L119.1 224.7L117.8 226.1L114.3 225Z" fill="#6157df" stroke="#1a1460" stroke-width="0.75"/>
<path d="M147.8 222.4L151.3 222.9L150.1 225L146.5 224Z" fill="#e5e2f8" stroke="#5748d2" stroke-width="0.9"/>
<path d="M63 223.9L66.5 223.7L65.3 224.6L61.7 225.3Z" fill="#625ae4" stroke="#1a1460" stroke-width="0.75"/>
<path d="M95.2 217.4L98.8 219L97.5 217.5L94 215.5Z" fill="#f3f4ff" stroke="#5567ee" stroke-width="0.9"/>
<path d="M127.5 222.8L131 223L129.8 224.7L126.2 224.7Z" fill="#e5e2f8" stroke="#5647d0" stroke-width="0.9"/>
<path d="M42.7 222.6L46.2 223.1L45 224.6L41.4 224.1Z" fill="#6365f0" stroke="#1a1460" stroke-width="0.75"/>
<path d="M74.9 222.3L78.5 221.8L77.2 221.8L73.7 222.6Z" fill="#e5e3f9" stroke="#574ad7" stroke-width="0.9"/>
<path d="M107.2 222.6L110.7 223.8L109.4 223.9L105.9 222.7Z" fill="#6365f0" stroke="#1a1460" stroke-width="0.75"/>
<path d="M139.4 222.9L143 223.7L141.7 224.9L138.1 224.4Z" fill="#e5e2f8" stroke="#5647d0" stroke-width="0.9"/>
<path d="M54.6 222.3L58.2 223.7L56.9 225.4L53.3 224Z" fill="#ecebfb" stroke="#584bd9" stroke-width="0.9"/>
<path d="M86.9 218L90.4 215.8L89.1 213.4L85.6 216.9Z" fill="#eaecfe" stroke="#5665ef" stroke-width="0.9"/>
<path d="M119.1 224.7L122.7 224.8L121.4 227L117.8 226.1Z" fill="#6258e1" stroke="#1a1460" stroke-width="0.75"/>
<path d="M66.5 223.7L70.1 222.9L68.8 223.8L65.3 224.6Z" fill="#635fea" stroke="#1a1460" stroke-width="0.75"/>
<path d="M98.8 219L102.3 221.2L101.1 221L97.5 217.5Z" fill="#e8eafe" stroke="#5964f4" stroke-width="0.9"/>
<path d="M131 223L134.6 223.9L133.3 225.5L129.8 224.7Z" fill="#e5e3f8" stroke="#5749d4" stroke-width="0.9"/>
<path d="M46.2 223.1L49.8 223.6L48.5 225.2L45 224.6Z" fill="#6365f0" stroke="#1a1460" stroke-width="0.75"/>
<path d="M78.5 221.8L82 220.3L80.8 219.9L77.2 221.8Z" fill="#e5e4fb" stroke="#5950e3" stroke-width="0.9"/>
<path d="M110.7 223.8L114.3 225L113 225.1L109.4 223.9Z" fill="#6360eb" stroke="#1a1460" stroke-width="0.75"/>
<path d="M143 223.7L146.5 224L145.2 225.5L141.7 224.9Z" fill="#e5e2f7" stroke="#5646cd" stroke-width="0.9"/>
<path d="M58.2 224.5L61.7 225.3L60.4 226.5L56.9 226.1Z" fill="#625ce7" stroke="#1a1460" stroke-width="0.75"/>
<path d="M90.4 215.8L94 215.5L92.7 212.6L89.1 213.4Z" fill="#f5f8ff" stroke="#436bd7" stroke-width="0.9"/>
<path d="M122.7 224.8L126.2 224.8L124.9 227.3L121.4 227Z" fill="#625be6" stroke="#1a1460" stroke-width="0.75"/>
<path d="M37.9 223.6L41.4 224.1L40.1 225.7L36.6 225.2Z" fill="#6363ef" stroke="#1a1460" stroke-width="0.75"/>
<path d="M70.1 223.5L73.7 222.6L72.4 222.5L68.8 223.6Z" fill="#e5e3f8" stroke="#5749d4" stroke-width="0.9"/>
<path d="M102.3 221.2L105.9 223L104.6 223.3L101.1 221Z" fill="#e5e5fc" stroke="#5a58eb" stroke-width="0.9"/>
<path d="M134.6 223.9L138.1 224.4L136.8 226.2L133.3 225.5Z" fill="#e5e2f8" stroke="#5647d0" stroke-width="0.9"/>
<path d="M49.8 223.6L53.3 224.7L52.1 226.1L48.5 225.2Z" fill="#6365f0" stroke="#1a1460" stroke-width="0.75"/>
<path d="M82 220.3L85.6 216.9L84.3 215.9L80.8 219.9Z" fill="#e5e6fd" stroke="#5a61f3" stroke-width="0.9"/>
<path d="M114.3 225L117.8 226.1L116.5 226.4L113 225.1Z" fill="#625ce7" stroke="#1a1460" stroke-width="0.75"/>
<path d="M146.5 224L150.1 225L148.8 226.4L145.2 225.5Z" fill="#e5e2f8" stroke="#5748d2" stroke-width="0.9"/>
<path d="M61.7 225.3L65.3 224.6L64 225.6L60.4 226.5Z" fill="#625be6" stroke="#1a1460" stroke-width="0.75"/>
<path d="M94 215.5L97.5 217.5L96.2 215.4L92.7 212.6Z" fill="#f5f8ff" stroke="#3b6ccc" stroke-width="0.9"/>
<path d="M126.2 224.8L129.8 225L128.5 227.2L124.9 227.3Z" fill="#635fea" stroke="#1a1460" stroke-width="0.75"/>
<path d="M41.4 224.1L45 224.6L43.7 226.2L40.1 225.7Z" fill="#6365f0" stroke="#1a1460" stroke-width="0.75"/>
<path d="M73.7 222.6L77.2 221.8L75.9 221.5L72.4 222.5Z" fill="#e5e4fb" stroke="#5953e6" stroke-width="0.9"/>
<path d="M105.9 223L109.4 224.9L108.2 225.1L104.6 223.3Z" fill="#e5e4fb" stroke="#5950e3" stroke-width="0.9"/>
<path d="M138.1 224.4L141.7 224.9L140.4 226.6L136.8 226.2Z" fill="#e5e2f8" stroke="#5647d0" stroke-width="0.9"/>
<path d="M53.3 224.7L56.9 226.1L55.6 227.1L52.1 226.1Z" fill="#6362ee" stroke="#1a1460" stroke-width="0.75"/>
<path d="M85.6 216.9L89.1 213.4L87.9 210.8L84.3 215.9Z" fill="#ecf1ff" stroke="#456bd8" stroke-width="0.9"/>
<path d="M117.8 226.1L121.4 227L120.1 227.8L116.5 226.4Z" fill="#6259e3" stroke="#1a1460" stroke-width="0.75"/>
<path d="M65.3 224.6L68.8 223.8L67.5 224.9L64 225.6Z" fill="#6365f0" stroke="#1a1460" stroke-width="0.75"/>
<path d="M97.5 217.5L101.1 221L99.8 220.1L96.2 215.4Z" fill="#edf1ff" stroke="#486adc" stroke-width="0.9"/>
<path d="M129.8 224.7L133.3 225.5L132 227.2L128.5 226.9Z" fill="#e5e2f8" stroke="#5748d2" stroke-width="0.9"/>
<path d="M45 224.6L48.5 225.2L47.2 226.7L43.7 226.2Z" fill="#6366f1" stroke="#1a1460" stroke-width="0.75"/>
<path d="M77.2 221.8L80.8 219.9L79.5 219.1L75.9 221.5Z" fill="#e5e6fd" stroke="#5a5df0" stroke-width="0.9"/>
<path d="M109.4 224.9L113 226L111.7 225.8L108.2 225.1Z" fill="#e5e2f8" stroke="#5748d2" stroke-width="0.9"/>
<path d="M141.7 224.9L145.2 225.5L143.9 227L140.4 226.6Z" fill="#e5e2f8" stroke="#5748d2" stroke-width="0.9"/>
<path d="M56.9 226.1L60.4 226.5L59.2 227.4L55.6 227.1Z" fill="#625ce7" stroke="#1a1460" stroke-width="0.75"/>
<path d="M89.1 213.4L92.7 212.6L91.4 208.6L87.9 210.8Z" fill="#f4fafe" stroke="#2b6aa2" stroke-width="0.9"/>
<path d="M121.4 227L124.9 227.3L123.6 229.1L120.1 227.8Z" fill="#6157df" stroke="#1a1460" stroke-width="0.75"/>
<path d="M36.6 225.2L40.1 225.7L38.9 227.3L35.3 226.8Z" fill="#6363ef" stroke="#1a1460" stroke-width="0.75"/>
<path d="M68.8 223.6L72.4 222.5L71.1 223L67.5 224.2Z" fill="#e5e4fb" stroke="#5953e6" stroke-width="0.9"/>
<path d="M101.1 221L104.6 223.3L103.3 223.4L99.8 220.1Z" fill="#e5e7fe" stroke="#5964f3" stroke-width="0.9"/>
<path d="M133.3 225.5L136.8 226.2L135.6 227.6L132 227.2Z" fill="#e5e2f8" stroke="#5647d0" stroke-width="0.9"/>
<path d="M48.5 225.2L52.1 226.1L50.8 227.3L47.2 226.7Z" fill="#6366f1" stroke="#1a1460" stroke-width="0.75"/>
<path d="M80.8 219.9L84.3 215.9L83 213.8L79.5 219.1Z" fill="#e5e9ff" stroke="#5268eb" stroke-width="0.9"/>
<path d="M113 226L116.5 226.8L115.3 226.4L111.7 225.8Z" fill="#e5e2f7" stroke="#5545cb" stroke-width="0.9"/>
<path d="M145.2 225.5L148.8 226.4L147.5 227.4L143.9 227Z" fill="#e5e2f8" stroke="#5748d2" stroke-width="0.9"/>
<path d="M60.4 226.5L64 225.6L62.7 226.7L59.2 227.4Z" fill="#635de9" stroke="#1a1460" stroke-width="0.75"/>
<path d="M92.7 212.6L96.2 215.4L95 212.4L91.4 208.6Z" fill="#f3fafe" stroke="#246790" stroke-width="0.9"/>
<path d="M124.9 227.3L128.5 227.2L127.2 229.6L123.6 229.1Z" fill="#6259e3" stroke="#1a1460" stroke-width="0.75"/>
<path d="M40.1 225.7L43.7 226.2L42.4 227.8L38.9 227.3Z" fill="#6365f0" stroke="#1a1460" stroke-width="0.75"/>
<path d="M72.4 222.5L75.9 221.5L74.6 221.4L71.1 223Z" fill="#eeeefe" stroke="#5a5ff2" stroke-width="0.9"/>
<path d="M104.6 223.3L108.2 225.1L106.9 224.9L103.3 223.4Z" fill="#e5e5fc" stroke="#5a59ed" stroke-width="0.9"/>
<path d="M136.8 226.2L140.4 226.6L139.1 228.2L135.6 227.6Z" fill="#e5e2f8" stroke="#5647d0" stroke-width="0.9"/>
<path d="M52.1 226.1L55.6 227.1L54.3 228.1L50.8 227.3Z" fill="#6363ef" stroke="#1a1460" stroke-width="0.75"/>
<path d="M84.3 215.9L87.9 210.8L86.6 207.4L83 213.8Z" fill="#e2eefe" stroke="#316cb7" stroke-width="0.9"/>
<path d="M116.5 226.4L120.1 227.8L118.8 228.1L115.3 226.8Z" fill="#6362ee" stroke="#1a1460" stroke-width="0.75"/>
<path d="M64 225.6L67.5 224.9L66.3 226.1L62.7 226.7Z" fill="#6368f3" stroke="#1a1460" stroke-width="0.75"/>
<path d="M96.2 215.4L99.8 220.1L98.5 218.3L95 212.4Z" fill="#e4f0fd" stroke="#2f6cad" stroke-width="0.9"/>
<path d="M128.5 227.2L132 227.2L130.7 229.4L127.2 229.6Z" fill="#635de9" stroke="#1a1460" stroke-width="0.75"/>
<path d="M43.7 226.2L47.2 226.7L46 228.2L42.4 227.8Z" fill="#6366f1" stroke="#1a1460" stroke-width="0.75"/>
<path d="M75.9 221.5L79.5 219.1L78.2 218L74.6 221.4Z" fill="#f1f2ff" stroke="#5666ef" stroke-width="0.9"/>
<path d="M108.2 225.1L111.7 225.8L110.4 226L106.9 224.9Z" fill="#e5e4fb" stroke="#5950e3" stroke-width="0.9"/>
<path d="M140.4 226.6L143.9 227L142.7 229.1L139.1 228.2Z" fill="#e5e2f8" stroke="#5748d2" stroke-width="0.9"/>
<path d="M55.6 227.1L59.2 227.4L57.9 228.4L54.3 228.1Z" fill="#6360eb" stroke="#1a1460" stroke-width="0.75"/>
<path d="M87.9 210.8L91.4 208.6L90.1 204.2L86.6 207.4Z" fill="#dff4fa" stroke="#175b6f" stroke-width="0.9"/>
<path d="M120.1 227.8L123.6 229.1L122.4 229.8L118.8 228.1Z" fill="#625ce7" stroke="#1a1460" stroke-width="0.75"/>
<path d="M35.3 226.8L38.9 227.3L37.6 228.9L34 228.4Z" fill="#6363ef" stroke="#1a1460" stroke-width="0.75"/>
<path d="M67.5 224.9L71.1 224.5L69.8 225.7L66.3 226.1Z" fill="#6372f9" stroke="#1a1460" stroke-width="0.75"/>
<path d="M99.8 220.1L103.3 223.4L102 222.8L98.5 218.3Z" fill="#e5eaff" stroke="#4b6ae0" stroke-width="0.9"/>
<path d="M132 227.2L135.6 227.6L134.3 229.3L130.7 229.5Z" fill="#e5e2f8" stroke="#5647d0" stroke-width="0.9"/>
<path d="M47.2 226.7L50.8 227.3L49.5 228.7L46 228.2Z" fill="#6366f1" stroke="#1a1460" stroke-width="0.75"/>
<path d="M79.5 219.1L83 213.8L81.7 211.1L78.2 218Z" fill="#e9efff" stroke="#406cd4" stroke-width="0.9"/>
<path d="M111.7 225.8L115.3 226.4L114 227.2L110.4 226Z" fill="#e5e4fb" stroke="#5950e3" stroke-width="0.9"/>
<path d="M143.9 227L147.5 227.4L146.2 229.2L142.7 229.1Z" fill="#e5e3f8" stroke="#5749d4" stroke-width="0.9"/>
<path d="M59.2 226.2L62.7 225.5L61.4 226.6L57.9 227.1Z" fill="#f3f2fd" stroke="#584edf" stroke-width="0.9"/>
<path d="M91.4 208.6L95 212.4L93.7 208.3L90.1 204.2Z" fill="#e1f7f8" stroke="#0b4d50" stroke-width="0.9"/>
<path d="M123.6 229.1L127.2 229.6L125.9 231.2L122.4 229.8Z" fill="#6258e1" stroke="#1a1460" stroke-width="0.75"/>
<path d="M38.9 227.3L42.4 227.8L41.1 229.4L37.6 228.9Z" fill="#6365f0" stroke="#1a1460" stroke-width="0.75"/>
<path d="M71.1 224.5L74.6 223.4L73.4 224.4L69.8 225.7Z" fill="#6277fc" stroke="#1a1460" stroke-width="0.75"/>
<path d="M103.3 223.4L106.9 224.9L105.6 224.7L102 222.8Z" fill="#e5e7fe" stroke="#5964f4" stroke-width="0.9"/>
<path d="M135.6 227.6L139.1 228.2L137.8 229.2L134.3 229.3Z" fill="#e5e2f8" stroke="#5748d2" stroke-width="0.9"/>
<path d="M50.8 227.3L54.3 228.1L53 229.2L49.5 228.7Z" fill="#6366f1" stroke="#1a1460" stroke-width="0.75"/>
<path d="M83 213.8L86.6 207.4L85.3 202.7L81.7 211.1Z" fill="#e0f2fb" stroke="#216488" stroke-width="0.9"/>
<path d="M115.3 226.4L118.8 227.4L117.5 228.3L114 227.2Z" fill="#e5e4fa" stroke="#594fe1" stroke-width="0.9"/>
<path d="M62.7 225.5L66.3 225.4L65 226.8L61.4 226.6Z" fill="#f4f4fe" stroke="#5a58eb" stroke-width="0.9"/>
<path d="M95 212.4L98.5 218.3L97.2 215.6L93.7 208.3Z" fill="#dff3fa" stroke="#195e74" stroke-width="0.9"/>
<path d="M127.2 229.6L130.7 229.4L129.5 231.7L125.9 231.2Z" fill="#6258e1" stroke="#1a1460" stroke-width="0.75"/>
<path d="M42.4 227.8L46 228.2L44.7 229.8L41.1 229.4Z" fill="#6366f1" stroke="#1a1460" stroke-width="0.75"/>
<path d="M74.6 223.4L78.2 219.7L76.9 220L73.4 224.4Z" fill="#5b85ff" stroke="#1a1460" stroke-width="0.75"/>
<path d="M106.9 224.9L110.4 226L109.2 226.4L105.6 224.7Z" fill="#e6e6fd" stroke="#5a5df0" stroke-width="0.9"/>
<path d="M139.1 228.2L142.7 229.1L141.4 230.3L137.8 229.2Z" fill="#e5e2f8" stroke="#5647d0" stroke-width="0.9"/>
<path d="M54.3 227.3L57.9 227.1L56.6 228.2L53 227.9Z" fill="#ecebfb" stroke="#584ddd" stroke-width="0.9"/>
<path d="M86.6 207.4L90.1 204.2L88.8 199.2L85.3 202.7Z" fill="#e1f6f3" stroke="#185048" stroke-width="0.9"/>
<path d="M118.8 227.4L122.4 229.3L121.1 229.4L117.5 228.3Z" fill="#eae9fb" stroke="#584ddd" stroke-width="0.9"/>
<path d="M34 228.4L37.6 228.9L36.3 230.5L32.7 230Z" fill="#6363ef" stroke="#1a1460" stroke-width="0.75"/>
<path d="M66.3 226.1L69.8 225.7L68.5 227.1L65 227.6Z" fill="#6274fa" stroke="#1a1460" stroke-width="0.75"/>
<path d="M98.5 218.3L102 222.8L100.8 221.8L97.2 215.6Z" fill="#e2eefe" stroke="#316cb7" stroke-width="0.9"/>
<path d="M130.7 229.4L134.3 229.4L133 231.4L129.5 231.7Z" fill="#635de9" stroke="#1a1460" stroke-width="0.75"/>
<path d="M46 228.2L49.5 228.7L48.2 230.1L44.7 229.8Z" fill="#6367f2" stroke="#1a1460" stroke-width="0.75"/>
<path d="M78.2 219.7L81.7 212.1L80.5 211.1L76.9 220Z" fill="#4ba2f1" stroke="#1a1460" stroke-width="0.75"/>
<path d="M110.4 226L114 227.2L112.7 227.7L109.2 226.4Z" fill="#eaeafd" stroke="#5a5aee" stroke-width="0.9"/>
<path d="M142.7 229.1L146.2 229.2L144.9 231.1L141.4 230.3Z" fill="#e5e2f7" stroke="#5646cd" stroke-width="0.9"/>
<path d="M57.9 227.1L61.4 226.6L60.1 228L56.6 228.2Z" fill="#f5f5fe" stroke="#5953e6" stroke-width="0.9"/>
<path d="M90.1 204.2L93.7 208.3L92.4 204.1L88.8 199.2Z" fill="#e7f8ed" stroke="#295437" stroke-width="0.9"/>
<path d="M122.4 229.8L125.9 231.2L124.6 232.1L121.1 230.3Z" fill="#635de9" stroke="#1a1460" stroke-width="0.75"/>
<path d="M37.6 228.9L41.1 229.4L39.8 231L36.3 230.5Z" fill="#6365f0" stroke="#1a1460" stroke-width="0.75"/>
<path d="M69.8 225.7L73.4 224.4L72.1 225.7L68.5 227.1Z" fill="#617bfd" stroke="#1a1460" stroke-width="0.75"/>
<path d="M102 222.8L105.6 224.7L104.3 225.1L100.8 221.8Z" fill="#e5e9ff" stroke="#4e69e5" stroke-width="0.9"/>
<path d="M134.3 229.3L137.8 229.2L136.6 231.3L133 231.4Z" fill="#e5e2f8" stroke="#5647d0" stroke-width="0.9"/>
<path d="M49.5 228.7L53 229.2L51.8 230.4L48.2 230.1Z" fill="#6367f2" stroke="#1a1460" stroke-width="0.75"/>
<path d="M81.7 211.1L85.3 202.7L84 200.1L80.5 210.1Z" fill="#eaf9fa" stroke="#0a4e53" stroke-width="0.9"/>
<path d="M114 227.2L117.5 228.3L116.2 228.4L112.7 227.7Z" fill="#e6e6fc" stroke="#5955e9" stroke-width="0.9"/>
<path d="M61.4 226.6L65 226.8L63.7 228L60.1 228Z" fill="#f6f6fe" stroke="#5a5bef" stroke-width="0.9"/>
<path d="M93.7 208.3L97.2 215.6L95.9 213.6L92.4 204.1Z" fill="#e1f7f3" stroke="#1a5047" stroke-width="0.9"/>
<path d="M125.9 231.2L129.5 231.7L128.2 233.4L124.6 232.1Z" fill="#6258e1" stroke="#1a1460" stroke-width="0.75"/>
<path d="M41.1 229.4L44.7 229.8L43.4 231.4L39.8 231Z" fill="#6366f1" stroke="#1a1460" stroke-width="0.75"/>
<path d="M73.4 224.4L76.9 220L75.6 221.1L72.1 225.7Z" fill="#5789ff" stroke="#1a1460" stroke-width="0.75"/>
<path d="M105.6 224.7L109.2 226.4L107.9 227.4L104.3 225.1Z" fill="#f6f7ff" stroke="#5666ef" stroke-width="0.9"/>
<path d="M137.8 229.2L141.4 230.3L140.1 231.8L136.6 231.3Z" fill="#e7e5fa" stroke="#584bd9" stroke-width="0.9"/>
<path d="M53 227.9L56.6 228.2L55.3 229.7L51.8 229Z" fill="#f5f4fe" stroke="#5954e7" stroke-width="0.9"/>
<path d="M85.3 202.8L88.8 198.7L87.6 195.3L84 200.2Z" fill="#bbc42f" stroke="#000" stroke-width="0.75"/>
<path d="M117.5 228.3L121.1 229.4L119.8 229.6L116.2 228.4Z" fill="#e7e6fb" stroke="#5953e6" stroke-width="0.9"/>
<path d="M32.7 230L36.3 230.5L35 232.1L31.5 231.6Z" fill="#6363ef" stroke="#1a1460" stroke-width="0.75"/>
<path d="M65 226.8L68.5 225.8L67.2 227.6L63.7 228Z" fill="#ecedfd" stroke="#5a5ef1" stroke-width="0.9"/>
<path d="M97.2 215.6L100.8 221.8L99.5 221.4L95.9 213.6Z" fill="#e0f2fb" stroke="#1e6280" stroke-width="0.9"/>
<path d="M129.5 231.7L133 231.4L131.7 233.5L128.2 233.4Z" fill="#6259e3" stroke="#1a1460" stroke-width="0.75"/>
<path d="M44.7 229.8L48.2 230.1L46.9 231.8L43.4 231.4Z" fill="#6367f2" stroke="#1a1460" stroke-width="0.75"/>
<path d="M76.9 220L80.5 211.1L79.2 211.6L75.6 221.1Z" fill="#46aaeb" stroke="#1a1460" stroke-width="0.75"/>
<path d="M109.2 226.4L112.7 227.7L111.4 229.1L107.9 227.4Z" fill="#f4f5fe" stroke="#5a63f5" stroke-width="0.9"/>
<path d="M141.4 230.3L144.9 231.1L143.7 232.4L140.1 231.8Z" fill="#e5e2f8" stroke="#5748d2" stroke-width="0.9"/>
<path d="M56.6 228.2L60.1 228L58.9 229.7L55.3 229.7Z" fill="#f5f4fe" stroke="#5a56ea" stroke-width="0.9"/>
<path d="M88.8 198.7L92.4 203.7L91.1 201.1L87.6 195.3Z" fill="#febe3c" stroke="#000" stroke-width="0.75"/>
<path d="M121.1 230.3L124.6 232.1L123.3 232.8L119.8 231Z" fill="#6365f0" stroke="#1a1460" stroke-width="0.75"/>
<path d="M36.3 230.5L39.8 231L38.6 232.6L35 232.1Z" fill="#6365f0" stroke="#1a1460" stroke-width="0.75"/>
<path d="M68.5 227.1L72.1 225.7L70.8 227.4L67.2 228.7Z" fill="#607cfd" stroke="#1a1460" stroke-width="0.75"/>
<path d="M100.8 221.8L104.3 225.1L103 225.8L99.5 221.4Z" fill="#f0f5ff" stroke="#386dc8" stroke-width="0.9"/>
<path d="M133 231.4L136.6 231.4L135.3 233.3L131.7 233.5Z" fill="#635fea" stroke="#1a1460" stroke-width="0.75"/>
<path d="M48.2 228.6L51.8 229L50.5 230.6L46.9 230Z" fill="#f6f6fe" stroke="#5a56ea" stroke-width="0.9"/>
<path d="M80.5 210.1L84 200.1L82.7 200L79.2 211.5Z" fill="#ecfaf8" stroke="#175049" stroke-width="0.9"/>
<path d="M112.7 227.7L116.2 228.4L115 229.8L111.4 229.1Z" fill="#f1f1fe" stroke="#5a5ef1" stroke-width="0.9"/>
<path d="M60.1 228L63.7 228L62.4 229.4L58.9 229.7Z" fill="#f6f6fe" stroke="#5a5df0" stroke-width="0.9"/>
<path d="M92.4 203.7L95.9 214L94.7 212.9L91.1 201.1Z" fill="#c2c32c" stroke="#000" stroke-width="0.75"/>
<path d="M124.6 232.1L128.2 233.4L126.9 234.7L123.3 232.8Z" fill="#625ce7" stroke="#1a1460" stroke-width="0.75"/>
<path d="M39.8 231L43.4 231.4L42.1 233.1L38.6 232.6Z" fill="#6365f0" stroke="#1a1460" stroke-width="0.75"/>
<path d="M72.1 225.7L75.6 221.1L74.3 223L70.8 227.4Z" fill="#548cfe" stroke="#1a1460" stroke-width="0.75"/>
<path d="M104.3 225.1L107.9 227.4L106.6 228.4L103 225.8Z" fill="#f6f7ff" stroke="#4f68e5" stroke-width="0.9"/>
<path d="M136.6 231.3L140.1 231.8L138.8 233.7L135.3 233.1Z" fill="#e5e2f8" stroke="#5748d2" stroke-width="0.9"/>
<path d="M51.8 229L55.3 229.7L54 231L50.5 230.6Z" fill="#f6f6fe" stroke="#5a58eb" stroke-width="0.9"/>
<path d="M84 200.2L87.6 195.3L86.3 195L82.7 200.2Z" fill="#fbbb3e" stroke="#000" stroke-width="0.75"/>
<path d="M116.2 228.4L119.8 229.6L118.5 231.3L115 229.8Z" fill="#f6f6fe" stroke="#5a5df0" stroke-width="0.9"/>
<path d="M31.5 231.6L35 232.1L33.7 233.7L30.2 233.2Z" fill="#6363ef" stroke="#1a1460" stroke-width="0.75"/>
<path d="M63.7 228L67.2 227.6L66 229.3L62.4 229.4Z" fill="#f3f4fe" stroke="#5a62f4" stroke-width="0.9"/>
<path d="M95.9 213.6L99.5 221.4L98.2 222.1L94.7 212.6Z" fill="#dbf5f7" stroke="#0b4f54" stroke-width="0.9"/>
<path d="M128.2 233.4L131.7 233.5L130.4 235.4L126.9 234.7Z" fill="#6258e1" stroke="#1a1460" stroke-width="0.75"/>
<path d="M43.4 231.4L46.9 231.8L45.7 233.5L42.1 233.1Z" fill="#6366f1" stroke="#1a1460" stroke-width="0.75"/>
<path d="M75.6 221.1L79.2 211.6L77.9 214L74.3 223Z" fill="#45ade9" stroke="#1a1460" stroke-width="0.75"/>
<path d="M107.9 227.4L111.4 229.1L110.1 230.1L106.6 228.4Z" fill="#f4f5ff" stroke="#5864f1" stroke-width="0.9"/>
<path d="M140.1 231.8L143.7 232.4L142.4 234.6L138.8 233.7Z" fill="#e5e2f8" stroke="#5748d2" stroke-width="0.9"/>
<path d="M55.3 229.7L58.9 229.7L57.6 230.9L54 231Z" fill="#eeeefd" stroke="#5a56ea" stroke-width="0.9"/>
<path d="M87.6 195.3L91.1 201.1L89.8 201.1L86.3 195Z" fill="#f5eb23" stroke="#000" stroke-width="0.75"/>
<path d="M119.8 229.6L123.3 231.8L122.1 232.9L118.5 231.3Z" fill="#f6f6fe" stroke="#5a59ed" stroke-width="0.9"/>
<path d="M35 232.1L38.6 232.6L37.3 234.3L33.7 233.7Z" fill="#6365f0" stroke="#1a1460" stroke-width="0.75"/>
<path d="M67.2 228.7L70.8 227.4L69.5 229.4L66 230.5Z" fill="#617bfd" stroke="#1a1460" stroke-width="0.75"/>
<path d="M99.5 222.6L103 227.4L101.8 228.3L98.2 222.9Z" fill="#48a6ee" stroke="#1a1460" stroke-width="0.75"/>
<path d="M131.7 233.5L135.3 233.3L134 235.2L130.4 235.4Z" fill="#625be6" stroke="#1a1460" stroke-width="0.75"/>
<path d="M46.9 231.8L50.5 232.1L49.2 233.8L45.7 233.5Z" fill="#6368f3" stroke="#1a1460" stroke-width="0.75"/>
<path d="M79.2 211.5L82.7 200L81.5 202.6L77.9 215Z" fill="#e1f6f3" stroke="#185048" stroke-width="0.9"/>
<path d="M111.4 229.1L115 229.8L113.7 231L110.1 230.1Z" fill="#ebecfd" stroke="#5a5ff2" stroke-width="0.9"/>
<path d="M58.9 229.7L62.4 229.4L61.1 231L57.6 230.9Z" fill="#f0f1fe" stroke="#5a5bef" stroke-width="0.9"/>
<path d="M91.1 201.1L94.7 212.9L93.4 213.5L89.8 201.1Z" fill="#fcbc3e" stroke="#000" stroke-width="0.75"/>
<path d="M123.3 232.8L126.9 234.7L125.6 235.8L122.1 233.7Z" fill="#6362ee" stroke="#1a1460" stroke-width="0.75"/>
<path d="M38.6 232.6L42.1 233.1L40.8 234.7L37.3 234.3Z" fill="#6365f0" stroke="#1a1460" stroke-width="0.75"/>
<path d="M70.8 227.4L74.3 223L73.1 225.7L69.5 229.4Z" fill="#568afe" stroke="#1a1460" stroke-width="0.75"/>
<path d="M103 225.8L106.6 228.4L105.3 230.1L101.8 227.4Z" fill="#f6f8ff" stroke="#496add" stroke-width="0.9"/>
<path d="M135.3 233.1L138.8 233.7L137.5 235.1L134 234.9Z" fill="#e5e2f8" stroke="#5647d0" stroke-width="0.9"/>
<path d="M50.5 230.6L54 231L52.8 232.7L49.2 232.6Z" fill="#f6f6fe" stroke="#5a58eb" stroke-width="0.9"/>
<path d="M82.7 200.2L86.3 195L85 198.2L81.5 203.1Z" fill="#fec735" stroke="#000" stroke-width="0.75"/>
<path d="M115 229.8L118.5 231.3L117.2 233.1L113.7 231Z" fill="#f3f3fe" stroke="#5a5ef1" stroke-width="0.9"/>
<path d="M30.2 233.2L33.7 233.7L32.5 235.4L28.9 234.8Z" fill="#6363ef" stroke="#1a1460" stroke-width="0.75"/>
<path d="M62.4 229.4L66 229.3L64.7 231.3L61.1 231Z" fill="#f6f6fe" stroke="#5a62f4" stroke-width="0.9"/>
<path d="M94.7 212.6L98.2 222.1L96.9 224.2L93.4 213.3Z" fill="#e0f6f4" stroke="#175049" stroke-width="0.9"/>
<path d="M126.9 234.7L130.4 235.4L129.2 237.1L125.6 235.8Z" fill="#625ae4" stroke="#1a1460" stroke-width="0.75"/>
<path d="M42.1 233.1L45.7 233.5L44.4 235.2L40.8 234.7Z" fill="#6366f1" stroke="#1a1460" stroke-width="0.75"/>
<path d="M74.3 223L77.9 214L76.6 218L73.1 225.7Z" fill="#46abea" stroke="#1a1460" stroke-width="0.75"/>
<path d="M106.6 228.4L110.1 230.1L108.9 232L105.3 230.1Z" fill="#f4f5ff" stroke="#5567ee" stroke-width="0.9"/>
<path d="M138.8 233.7L142.4 234.6L141.1 236.1L137.5 235.1Z" fill="#e5e2f8" stroke="#5647d0" stroke-width="0.9"/>
<path d="M54 231L57.6 230.9L56.3 233L52.8 232.7Z" fill="#f6f6fe" stroke="#5a59ed" stroke-width="0.9"/>
<path d="M86.3 195L89.8 201.1L88.5 204L85 198.2Z" fill="#f9fb15" stroke="#000" stroke-width="0.75"/>
<path d="M118.5 231.3L122.1 232.9L120.8 234.3L117.2 233.1Z" fill="#ededfd" stroke="#5a58eb" stroke-width="0.9"/>
<path d="M33.7 233.7L37.3 234.3L36 235.9L32.5 235.4Z" fill="#6363ef" stroke="#1a1460" stroke-width="0.75"/>
<path d="M66 229.3L69.5 229.1L68.2 231L64.7 231.3Z" fill="#f4f4fe" stroke="#5864f2" stroke-width="0.9"/>
<path d="M98.2 222.9L101.8 228.3L100.5 229.6L96.9 223.9Z" fill="#44aee9" stroke="#1a1460" stroke-width="0.75"/>
<path d="M130.4 235.4L134 235.2L132.7 237L129.2 237.1Z" fill="#6259e3" stroke="#1a1460" stroke-width="0.75"/>
<path d="M45.7 233.5L49.2 233.8L47.9 235.6L44.4 235.2Z" fill="#6367f2" stroke="#1a1460" stroke-width="0.75"/>
<path d="M77.9 215L81.5 202.6L80.2 207.3L76.6 218.9Z" fill="#dcf6f6" stroke="#0d4e4f" stroke-width="0.9"/>
<path d="M110.1 230.1L113.7 231L112.4 232.9L108.9 232Z" fill="#eeeffe" stroke="#5a63f4" stroke-width="0.9"/>
<path d="M57.6 230.9L61.1 231L59.9 233.3L56.3 233Z" fill="#f6f6fe" stroke="#5a5ef1" stroke-width="0.9"/>
<path d="M89.8 201.1L93.4 213.5L92.1 215.8L88.5 204Z" fill="#feca33" stroke="#000" stroke-width="0.75"/>
<path d="M122.1 232.9L125.6 235.1L124.3 236.3L120.8 234.3Z" fill="#edecfc" stroke="#5950e3" stroke-width="0.9"/>
<path d="M37.3 234.3L40.8 234.7L39.5 236.4L36 235.9Z" fill="#6365f0" stroke="#1a1460" stroke-width="0.75"/>
<path d="M69.5 229.4L73.1 225.7L71.8 228.8L68.2 231.6Z" fill="#5888ff" stroke="#1a1460" stroke-width="0.75"/>
<path d="M101.8 227.4L105.3 230.1L104 232.9L100.5 230.2Z" fill="#eef2ff" stroke="#496add" stroke-width="0.9"/>
<path d="M134 235.2L137.5 235.1L136.3 236.8L132.7 237Z" fill="#635fea" stroke="#1a1460" stroke-width="0.75"/>
<path d="M49.2 232.6L52.8 232.7L51.5 234.7L47.9 234.6Z" fill="#f5f4fe" stroke="#5955e9" stroke-width="0.9"/>
<path d="M81.5 203.1L85 198.2L83.7 204.5L80.2 208.7Z" fill="#fcbc3e" stroke="#000" stroke-width="0.75"/>
<path d="M113.7 231L117.2 233.1L116 234.4L112.4 232.9Z" fill="#f3f3fe" stroke="#5a61f3" stroke-width="0.9"/>
<path d="M28.9 234.8L32.5 235.4L31.2 237L27.6 236.4Z" fill="#6363ef" stroke="#1a1460" stroke-width="0.75"/>
<path d="M61.1 231L64.7 231.3L63.4 233.5L59.9 233.3Z" fill="#f6f6fe" stroke="#5a62f4" stroke-width="0.9"/>
<path d="M93.4 213.3L96.9 224.2L95.6 226.1L92.1 215.4Z" fill="#e2f7f2" stroke="#1b5145" stroke-width="0.9"/>
<path d="M125.6 235.8L129.2 237.1L127.9 238.5L124.3 236.9Z" fill="#635de9" stroke="#1a1460" stroke-width="0.75"/>
<path d="M40.8 234.7L44.4 235.2L43.1 236.9L39.5 236.4Z" fill="#6366f1" stroke="#1a1460" stroke-width="0.75"/>
<path d="M73.1 225.7L76.6 218L75.3 222.9L71.8 228.8Z" fill="#48a5ef" stroke="#1a1460" stroke-width="0.75"/>
<path d="M105.3 230.1L108.9 232L107.6 234.1L104 232.9Z" fill="#e9ebfe" stroke="#5666ef" stroke-width="0.9"/>
<path d="M137.5 235.1L141.1 236.1L139.8 237.1L136.3 236.7Z" fill="#e5e2f8" stroke="#5748d2" stroke-width="0.9"/>
<path d="M52.8 232.7L56.3 233L55 234.9L51.5 234.7Z" fill="#f6f6fe" stroke="#5a58eb" stroke-width="0.9"/>
<path d="M85 198.2L88.5 204L87.3 209.6L83.7 204.5Z" fill="#f5ee21" stroke="#000" stroke-width="0.75"/>
<path d="M117.2 233.1L120.8 234.3L119.5 235.7L116 234.4Z" fill="#e5e5fc" stroke="#5a56ea" stroke-width="0.9"/>
<path d="M32.5 235.4L36 235.9L34.7 237.5L31.2 237Z" fill="#6363ef" stroke="#1a1460" stroke-width="0.75"/>
<path d="M64.7 232.5L68.2 231.6L67 234L63.4 234.5Z" fill="#6277fc" stroke="#1a1460" stroke-width="0.75"/>
<path d="M96.9 223.9L100.5 229.6L99.2 231.2L95.6 225.8Z" fill="#42b1e7" stroke="#1a1460" stroke-width="0.75"/>
<path d="M129.2 237.1L132.7 237L131.4 238.7L127.9 238.5Z" fill="#6259e3" stroke="#1a1460" stroke-width="0.75"/>
<path d="M44.4 235.2L47.9 235.6L46.6 237.3L43.1 236.9Z" fill="#6366f1" stroke="#1a1460" stroke-width="0.75"/>
<path d="M76.6 218.9L80.2 207.3L78.9 214.8L75.3 222.8Z" fill="#ddf4f9" stroke="#125765" stroke-width="0.9"/>
<path d="M108.9 232L112.4 232.9L111.1 234.5L107.6 234.1Z" fill="#e5e6fd" stroke="#5a61f3" stroke-width="0.9"/>
<path d="M56.3 233L59.9 233.3L58.6 235.4L55 234.9Z" fill="#f6f6fe" stroke="#5a5aee" stroke-width="0.9"/>
<path d="M88.5 204L92.1 215.8L90.8 219.8L87.3 209.6Z" fill="#febe3c" stroke="#000" stroke-width="0.75"/>
<path d="M120.8 234.8L124.3 236.9L123.1 237.9L119.5 236.1Z" fill="#636bf5" stroke="#1a1460" stroke-width="0.75"/>
<path d="M36 235.9L39.5 236.4L38.3 238.1L34.7 237.5Z" fill="#6365f0" stroke="#1a1460" stroke-width="0.75"/>
<path d="M68.2 231.6L71.8 228.8L70.5 232.1L67 234Z" fill="#5d83fe" stroke="#1a1460" stroke-width="0.75"/>
<path d="M100.5 229.6L104 232.1L102.8 233.7L99.2 231.2Z" fill="#4f92fc" stroke="#1a1460" stroke-width="0.75"/>
<path d="M132.7 237L136.3 236.8L135 238.4L131.4 238.7Z" fill="#635de9" stroke="#1a1460" stroke-width="0.75"/>
<path d="M47.9 235.6L51.5 235.9L50.2 237.7L46.6 237.3Z" fill="#6368f3" stroke="#1a1460" stroke-width="0.75"/>
<path d="M80.2 208.7L83.7 204.5L82.4 212.7L78.9 215.8Z" fill="#c5c22a" stroke="#000" stroke-width="0.75"/>
<path d="M112.4 232.9L116 234.4L114.7 236L111.1 234.5Z" fill="#e8e8fd" stroke="#5a5ef1" stroke-width="0.9"/>
<path d="M27.6 236.4L31.2 237L29.9 238.6L26.3 238Z" fill="#6363ef" stroke="#1a1460" stroke-width="0.75"/>
<path d="M59.9 233.3L63.4 233.5L62.1 235.7L58.6 235.4Z" fill="#f4f4fe" stroke="#5a5df0" stroke-width="0.9"/>
<path d="M92.1 215.4L95.6 226.1L94.4 228.5L90.8 218.9Z" fill="#e1f7f3" stroke="#195047" stroke-width="0.9"/>
<path d="M124.3 236.9L127.9 238.5L126.6 239.4L123.1 237.9Z" fill="#6361ed" stroke="#1a1460" stroke-width="0.75"/>
<path d="M39.5 236.4L43.1 236.9L41.8 238.6L38.3 238.1Z" fill="#6365f0" stroke="#1a1460" stroke-width="0.75"/>
<path d="M71.8 228.8L75.3 222.9L74.1 228.1L70.5 232.1Z" fill="#4d9bf6" stroke="#1a1460" stroke-width="0.75"/>
<path d="M104 232.9L107.6 234.1L106.3 235.3L102.8 234.5Z" fill="#e5e7fd" stroke="#5a62f4" stroke-width="0.9"/>
<path d="M136.3 236.7L139.8 237.1L138.5 239L135 238.7Z" fill="#e5e2f8" stroke="#5748d2" stroke-width="0.9"/>
<path d="M51.5 234.7L55 234.9L53.7 237.2L50.2 236.5Z" fill="#f4f4fe" stroke="#5955e9" stroke-width="0.9"/>
<path d="M83.7 204.5L87.3 209.6L86 216.7L82.4 212.7Z" fill="#fec239" stroke="#000" stroke-width="0.75"/>
<path d="M116 234.4L119.5 235.7L118.2 237.5L114.7 236Z" fill="#e5e5fc" stroke="#5a58eb" stroke-width="0.9"/>
<path d="M31.2 237L34.7 237.5L33.4 239.2L29.9 238.6Z" fill="#6363ef" stroke="#1a1460" stroke-width="0.75"/>
<path d="M63.4 234.5L67 234L65.7 236.4L62.1 236.6Z" fill="#6275fb" stroke="#1a1460" stroke-width="0.75"/>
<path d="M95.6 225.8L99.2 231.2L97.9 233.3L94.4 228.5Z" fill="#43b0e8" stroke="#1a1460" stroke-width="0.75"/>
<path d="M127.9 238.5L131.4 238.7L130.2 239.9L126.6 239.4Z" fill="#625ae4" stroke="#1a1460" stroke-width="0.75"/>
<path d="M43.1 236.9L46.6 237.3L45.4 239.1L41.8 238.6Z" fill="#6366f1" stroke="#1a1460" stroke-width="0.75"/>
<path d="M75.3 222.8L78.9 214.8L77.6 222.6L74.1 227.6Z" fill="#e0f2fb" stroke="#1e6280" stroke-width="0.9"/>
<path d="M107.6 234.1L111.1 234.5L109.8 236.7L106.3 235.3Z" fill="#e5e6fd" stroke="#5a5ef1" stroke-width="0.9"/>
<path d="M55 234.9L58.6 235.4L57.3 237.8L53.7 237.2Z" fill="#f6f5fe" stroke="#5a58eb" stroke-width="0.9"/>
<path d="M87.3 209.6L90.8 219.8L89.5 224.8L86 216.7Z" fill="#cbc128" stroke="#000" stroke-width="0.75"/>
<path d="M119.5 236.1L123.1 237.9L121.8 239.1L118.2 237.5Z" fill="#636df6" stroke="#1a1460" stroke-width="0.75"/>
<path d="M34.7 237.5L38.3 238.1L37 239.7L33.4 239.2Z" fill="#6363ef" stroke="#1a1460" stroke-width="0.75"/>
<path d="M67 234L70.5 232.1L69.2 235.4L65.7 236.4Z" fill="#607cfd" stroke="#1a1460" stroke-width="0.75"/>
<path d="M99.2 231.2L102.8 233.7L101.5 235.6L97.9 233.3Z" fill="#4f92fc" stroke="#1a1460" stroke-width="0.75"/>
<path d="M131.4 238.7L135 238.4L133.7 239.9L130.2 239.9Z" fill="#625ce7" stroke="#1a1460" stroke-width="0.75"/>
<path d="M46.6 237.3L50.2 237.7L48.9 239.5L45.4 239.1Z" fill="#6367f2" stroke="#1a1460" stroke-width="0.75"/>
<path d="M78.9 214.8L82.4 211.8L81.2 221.1L77.6 222.6Z" fill="#f0fbf6" stroke="#1f533f" stroke-width="0.9"/>
<path d="M111.1 234.5L114.7 236L113.4 238L109.8 236.7Z" fill="#e5e6fd" stroke="#5a5ef1" stroke-width="0.9"/>
<path d="M26.3 238L29.9 238.6L28.6 240.2L25.1 239.6Z" fill="#6363ef" stroke="#1a1460" stroke-width="0.75"/>
<path d="M58.6 236.5L62.1 236.6L60.9 238.7L57.3 238.4Z" fill="#636ef7" stroke="#1a1460" stroke-width="0.75"/>
<path d="M90.8 218.9L94.4 228.5L93.1 231.9L89.5 224.5Z" fill="#ebf9fa" stroke="#0e4e4e" stroke-width="0.9"/>
<path d="M123.1 237.9L126.6 239.4L125.3 240.4L121.8 239.1Z" fill="#6365f0" stroke="#1a1460" stroke-width="0.75"/>
<path d="M38.3 238.1L41.8 238.6L40.5 240.3L37 239.7Z" fill="#6365f0" stroke="#1a1460" stroke-width="0.75"/>
<path d="M70.5 232.1L74.1 228.1L72.8 233L69.2 235.4Z" fill="#5190fd" stroke="#1a1460" stroke-width="0.75"/>
<path d="M102.8 233.7L106.3 235.2L105 237L101.5 235.6Z" fill="#5d83fe" stroke="#1a1460" stroke-width="0.75"/>
<path d="M135 238.4L138.5 238.8L137.3 240.3L133.7 239.9Z" fill="#6362ee" stroke="#1a1460" stroke-width="0.75"/>
<path d="M50.2 237.7L53.7 238.1L52.5 239.9L48.9 239.5Z" fill="#6368f3" stroke="#1a1460" stroke-width="0.75"/>
<path d="M82.4 212.7L86 216.7L84.7 224.2L81.2 221.2Z" fill="#a4c83e" stroke="#000" stroke-width="0.75"/>
<path d="M114.7 236.2L118.2 237.5L116.9 239L113.4 237.7Z" fill="#6373fa" stroke="#1a1460" stroke-width="0.75"/>
<path d="M29.9 238.6L33.4 239.2L32.2 240.8L28.6 240.2Z" fill="#6363ef" stroke="#1a1460" stroke-width="0.75"/>
<path d="M62.1 236.6L65.7 236.4L64.4 238.7L60.9 238.7Z" fill="#6372f9" stroke="#1a1460" stroke-width="0.75"/>
<path d="M94.4 228.5L97.9 233.3L96.6 235.6L93.1 231.7Z" fill="#46a9ec" stroke="#1a1460" stroke-width="0.75"/>
<path d="M126.6 239.4L130.2 239.9L128.9 241L125.3 240.4Z" fill="#635de9" stroke="#1a1460" stroke-width="0.75"/>
<path d="M41.8 238.6L45.4 239.1L44.1 240.8L40.5 240.3Z" fill="#6365f0" stroke="#1a1460" stroke-width="0.75"/>
<path d="M74.1 228.1L77.6 223.3L76.3 230.1L72.8 233Z" fill="#45ade9" stroke="#1a1460" stroke-width="0.75"/>
<path d="M106.3 235.2L109.8 236.5L108.6 238.2L105 237Z" fill="#607cfd" stroke="#1a1460" stroke-width="0.75"/>
<path d="M53.7 238.1L57.3 238.4L56 240.3L52.5 239.9Z" fill="#6369f4" stroke="#1a1460" stroke-width="0.75"/>
<path d="M86 216.1L89.5 224.5L88.3 229.7L84.7 223.9Z" fill="#e8f9f3" stroke="#1f5240" stroke-width="0.9"/>
<path d="M118.2 237.5L121.8 239.1L120.5 240.3L116.9 239Z" fill="#636ef7" stroke="#1a1460" stroke-width="0.75"/>
<path d="M33.4 239.2L37 239.7L35.7 241.4L32.2 240.8Z" fill="#6363ef" stroke="#1a1460" stroke-width="0.75"/>
<path d="M65.7 236.4L69.2 235.4L68 238.3L64.4 238.7Z" fill="#6276fc" stroke="#1a1460" stroke-width="0.75"/>
<path d="M97.9 233.3L101.5 235.6L100.2 237.6L96.6 235.6Z" fill="#528efd" stroke="#1a1460" stroke-width="0.75"/>
<path d="M130.2 239.9L133.7 239.9L132.4 241.3L128.9 241Z" fill="#635fea" stroke="#1a1460" stroke-width="0.75"/>
<path d="M45.4 239.1L48.9 239.5L47.6 241.3L44.1 240.8Z" fill="#6366f1" stroke="#1a1460" stroke-width="0.75"/>
<path d="M77.6 222.6L81.2 221.1L79.9 228.6L76.3 229.3Z" fill="#e3f6fa" stroke="#125664" stroke-width="0.9"/>
<path d="M109.8 236.5L113.4 237.7L112.1 239.4L108.6 238.2Z" fill="#6277fc" stroke="#1a1460" stroke-width="0.75"/>
<path d="M25.1 239.6L28.6 240.2L27.3 241.8L23.8 241.2Z" fill="#6363ef" stroke="#1a1460" stroke-width="0.75"/>
<path d="M57.3 238.4L60.9 238.7L59.6 240.7L56 240.3Z" fill="#636cf6" stroke="#1a1460" stroke-width="0.75"/>
<path d="M89.5 224.5L93.1 231.9L91.8 235.2L88.3 229.7Z" fill="#dff3fb" stroke="#1b5f79" stroke-width="0.9"/>
<path d="M121.8 239.1L125.3 240.4L124 241.4L120.5 240.3Z" fill="#6367f2" stroke="#1a1460" stroke-width="0.75"/>
<path d="M37 239.7L40.5 240.3L39.3 241.9L35.7 241.4Z" fill="#6363ef" stroke="#1a1460" stroke-width="0.75"/>
<path d="M69.2 235.4L72.8 233L71.5 237.1L68 238.3Z" fill="#5d83fe" stroke="#1a1460" stroke-width="0.75"/>
<path d="M101.5 235.6L105 237L103.7 238.9L100.2 237.6Z" fill="#5e81fe" stroke="#1a1460" stroke-width="0.75"/>
<path d="M133.7 239.9L137.3 240.3L136 241.9L132.4 241.3Z" fill="#6363ef" stroke="#1a1460" stroke-width="0.75"/>
<path d="M48.9 239.5L52.5 239.9L51.2 241.7L47.6 241.3Z" fill="#6367f2" stroke="#1a1460" stroke-width="0.75"/>
<path d="M81.2 221.1L84.7 223.9L83.4 230.2L79.9 228.6Z" fill="#dcf6f6" stroke="#0c4e50" stroke-width="0.9"/>
<path d="M113.4 237.7L116.9 239L115.7 240.5L112.1 239.4Z" fill="#6274fa" stroke="#1a1460" stroke-width="0.75"/>
<path d="M28.6 240.2L32.2 240.8L30.9 242.4L27.3 241.8Z" fill="#6363ef" stroke="#1a1460" stroke-width="0.75"/>
<path d="M60.9 238.7L64.4 238.7L63.1 240.9L59.6 240.7Z" fill="#636ef7" stroke="#1a1460" stroke-width="0.75"/>
<path d="M93.1 231.7L96.6 235.6L95.4 238.1L91.8 235.2Z" fill="#4ca0f3" stroke="#1a1460" stroke-width="0.75"/>
<path d="M125.3 240.4L128.9 241L127.6 242.1L124 241.4Z" fill="#6362ee" stroke="#1a1460" stroke-width="0.75"/>
<path d="M40.5 240.3L44.1 240.8L42.8 242.5L39.3 241.9Z" fill="#6365f0" stroke="#1a1460" stroke-width="0.75"/>
<path d="M72.8 233L76.3 230.1L75.1 235.7L71.5 237.1Z" fill="#4d98f9" stroke="#1a1460" stroke-width="0.75"/>
<path d="M105 237L108.6 238.2L107.3 240.1L103.7 238.9Z" fill="#617bfd" stroke="#1a1460" stroke-width="0.75"/>
<path d="M52.5 239.9L56 240.3L54.7 242.2L51.2 241.7Z" fill="#6368f3" stroke="#1a1460" stroke-width="0.75"/>
<path d="M84.7 223.9L88.3 229.7L87 233.9L83.4 230.2Z" fill="#ddf4f9" stroke="#125765" stroke-width="0.9"/>
<path d="M116.9 239L120.5 240.3L119.2 241.6L115.7 240.5Z" fill="#636ff8" stroke="#1a1460" stroke-width="0.75"/>
<path d="M32.2 240.8L35.7 241.4L34.4 243L30.9 242.4Z" fill="#6363ef" stroke="#1a1460" stroke-width="0.75"/>
<path d="M64.4 238.7L68 238.3L66.7 240.9L63.1 240.9Z" fill="#6372f9" stroke="#1a1460" stroke-width="0.75"/>
<path d="M96.6 235.6L100.2 237.6L98.9 239.8L95.4 238.1Z" fill="#5888ff" stroke="#1a1460" stroke-width="0.75"/>
<path d="M128.9 241L132.4 241.3L131.2 242.7L127.6 242.1Z" fill="#6362ee" stroke="#1a1460" stroke-width="0.75"/>
<path d="M44.1 240.8L47.6 241.3L46.4 243L42.8 242.5Z" fill="#6365f0" stroke="#1a1460" stroke-width="0.75"/>
<path d="M76.3 230.1L79.9 229L78.6 235.3L75.1 235.7Z" fill="#44aee9" stroke="#1a1460" stroke-width="0.75"/>
<path d="M108.6 238.2L112.1 239.4L110.8 241.2L107.3 240.1Z" fill="#6276fc" stroke="#1a1460" stroke-width="0.75"/>
<path d="M23.8 241.2L27.3 241.8L26.1 243.4L22.5 242.8Z" fill="#6363ef" stroke="#1a1460" stroke-width="0.75"/>
<path d="M56 240.3L59.6 240.7L58.3 242.6L54.7 242.2Z" fill="#6369f4" stroke="#1a1460" stroke-width="0.75"/>
<path d="M88.3 230.1L91.8 235.2L90.5 238.5L87 235Z" fill="#44afe8" stroke="#1a1460" stroke-width="0.75"/>
<path d="M120.5 240.3L124 241.4L122.8 242.5L119.2 241.6Z" fill="#6369f4" stroke="#1a1460" stroke-width="0.75"/>
<path d="M35.7 241.4L39.3 241.9L38 243.6L34.4 243Z" fill="#6363ef" stroke="#1a1460" stroke-width="0.75"/>
<path d="M68 238.3L71.5 237.1L70.2 240.6L66.7 240.9Z" fill="#6179fc" stroke="#1a1460" stroke-width="0.75"/>
<path d="M100.2 237.6L103.7 238.9L102.5 241L98.9 239.8Z" fill="#607efe" stroke="#1a1460" stroke-width="0.75"/>
<path d="M132.4 241.3L136 241.9L134.7 243.4L131.2 242.7Z" fill="#6365f0" stroke="#1a1460" stroke-width="0.75"/>
<path d="M47.6 241.3L51.2 241.7L49.9 243.5L46.4 243Z" fill="#6366f1" stroke="#1a1460" stroke-width="0.75"/>
<path d="M79.9 228.6L83.4 230.2L82.2 235.1L78.6 234.4Z" fill="#e1f1fc" stroke="#256791" stroke-width="0.9"/>
<path d="M112.1 239.4L115.7 240.5L114.4 242.3L110.8 241.2Z" fill="#6373fa" stroke="#1a1460" stroke-width="0.75"/>
<path d="M27.3 241.8L30.9 242.4L29.6 244L26.1 243.4Z" fill="#6363ef" stroke="#1a1460" stroke-width="0.75"/>
<path d="M59.6 240.7L63.1 240.9L61.8 243L58.3 242.6Z" fill="#636bf5" stroke="#1a1460" stroke-width="0.75"/>
<path d="M91.8 235.2L95.4 238.1L94.1 240.7L90.5 238.5Z" fill="#4e93fb" stroke="#1a1460" stroke-width="0.75"/>
<path d="M124 241.4L127.6 242.1L126.3 243.4L122.8 242.5Z" fill="#6367f2" stroke="#1a1460" stroke-width="0.75"/>
<path d="M39.3 241.9L42.8 242.5L41.5 244.1L38 243.6Z" fill="#6363ef" stroke="#1a1460" stroke-width="0.75"/>
<path d="M71.5 237.1L75.1 235.7L73.8 240.1L70.2 240.6Z" fill="#5b85ff" stroke="#1a1460" stroke-width="0.75"/>
<path d="M103.7 238.9L107.3 240.1L106 242L102.5 241Z" fill="#6179fc" stroke="#1a1460" stroke-width="0.75"/>
<path d="M51.2 241.7L54.7 242.2L53.5 244L49.9 243.5Z" fill="#6367f2" stroke="#1a1460" stroke-width="0.75"/>
<path d="M83.4 231.1L87 235L85.7 239.3L82.2 236.7Z" fill="#44afe8" stroke="#1a1460" stroke-width="0.75"/>
<path d="M115.7 240.5L119.2 241.6L117.9 243.3L114.4 242.3Z" fill="#636ff8" stroke="#1a1460" stroke-width="0.75"/>
<path d="M30.9 242.4L34.4 243L33.1 244.6L29.6 244Z" fill="#6363ef" stroke="#1a1460" stroke-width="0.75"/>
<path d="M63.1 240.9L66.7 240.9L65.4 243.3L61.8 243Z" fill="#636df6" stroke="#1a1460" stroke-width="0.75"/>
<path d="M95.4 238.1L98.9 239.8L97.6 242L94.1 240.7Z" fill="#5e81fe" stroke="#1a1460" stroke-width="0.75"/>
<path d="M127.6 242.1L131.2 242.7L129.9 244.3L126.3 243.4Z" fill="#6366f1" stroke="#1a1460" stroke-width="0.75"/>
<path d="M42.8 242.5L46.4 243L45.1 244.7L41.5 244.1Z" fill="#6365f0" stroke="#1a1460" stroke-width="0.75"/>
<path d="M75.1 235.7L78.6 235.3L77.3 240.1L73.8 240.1Z" fill="#4e94fb" stroke="#1a1460" stroke-width="0.75"/>
<path d="M107.3 240.1L110.8 241.2L109.6 243.1L106 242Z" fill="#6275fb" stroke="#1a1460" stroke-width="0.75"/>
<path d="M54.7 242.2L58.3 242.6L57 244.5L53.5 244Z" fill="#6367f2" stroke="#1a1460" stroke-width="0.75"/>
<path d="M87 235L90.5 238.5L89.2 241.5L85.7 239.3Z" fill="#4d9af7" stroke="#1a1460" stroke-width="0.75"/>
<path d="M119.2 241.6L122.8 242.5L121.5 244.2L117.9 243.3Z" fill="#636cf6" stroke="#1a1460" stroke-width="0.75"/>
<path d="M34.4 243L38 243.6L36.7 245.2L33.1 244.6Z" fill="#6363ef" stroke="#1a1460" stroke-width="0.75"/>
<path d="M66.7 240.9L70.2 240.6L68.9 243.4L65.4 243.3Z" fill="#6372f9" stroke="#1a1460" stroke-width="0.75"/>
<path d="M98.9 239.8L102.5 241L101.2 243L97.6 242Z" fill="#617afd" stroke="#1a1460" stroke-width="0.75"/>
<path d="M131.2 242.7L134.7 243.4L133.4 245L129.9 244.3Z" fill="#6366f1" stroke="#1a1460" stroke-width="0.75"/>
<path d="M46.4 243L49.9 243.5L48.6 245.2L45.1 244.7Z" fill="#6365f0" stroke="#1a1460" stroke-width="0.75"/>
<path d="M78.6 235.3L82.2 236.7L80.9 241.2L77.3 240.1Z" fill="#4d9bf6" stroke="#1a1460" stroke-width="0.75"/>
<path d="M110.8 241.2L114.4 242.3L113.1 244.1L109.6 243.1Z" fill="#6372f9" stroke="#1a1460" stroke-width="0.75"/>
<path d="M58.3 242.6L61.8 243L60.6 245L57 244.5Z" fill="#6368f3" stroke="#1a1460" stroke-width="0.75"/>
<path d="M90.5 238.5L94.1 240.7L92.8 243.1L89.2 241.5Z" fill="#5a86ff" stroke="#1a1460" stroke-width="0.75"/>
<path d="M122.8 242.5L126.3 243.4L125 245.1L121.5 244.2Z" fill="#6369f4" stroke="#1a1460" stroke-width="0.75"/>
<path d="M38 243.6L41.5 244.1L40.2 245.8L36.7 245.2Z" fill="#6363ef" stroke="#1a1460" stroke-width="0.75"/>
<path d="M70.2 240.6L73.8 240.1L72.5 243.4L68.9 243.4Z" fill="#6179fc" stroke="#1a1460" stroke-width="0.75"/>
<path d="M102.5 241L106 242L104.7 244L101.2 243Z" fill="#6276fc" stroke="#1a1460" stroke-width="0.75"/>
<path d="M49.9 243.5L53.5 244L52.2 245.8L48.6 245.2Z" fill="#6366f1" stroke="#1a1460" stroke-width="0.75"/>
<path d="M82.2 236.7L85.7 239.3L84.4 242.8L80.9 241.2Z" fill="#4e96fa" stroke="#1a1460" stroke-width="0.75"/>
<path d="M114.4 242.3L117.9 243.3L116.7 245.1L113.1 244.1Z" fill="#636ef7" stroke="#1a1460" stroke-width="0.75"/>
<path d="M61.8 243L65.4 243.3L64.1 245.4L60.6 245Z" fill="#636bf5" stroke="#1a1460" stroke-width="0.75"/>
<path d="M94.1 240.7L97.6 242L96.4 244.2L92.8 243.1Z" fill="#617bfd" stroke="#1a1460" stroke-width="0.75"/>
<path d="M126.3 243.4L129.9 244.3L128.6 245.9L125 245.1Z" fill="#6368f3" stroke="#1a1460" stroke-width="0.75"/>
<path d="M41.5 244.1L45.1 244.7L43.8 246.3L40.2 245.8Z" fill="#6363ef" stroke="#1a1460" stroke-width="0.75"/>
<path d="M73.8 240.1L77.3 240.1L76 243.8L72.5 243.4Z" fill="#5e80fe" stroke="#1a1460" stroke-width="0.75"/>
<path d="M106 242L109.6 243.1L108.3 245L104.7 244Z" fill="#6373fa" stroke="#1a1460" stroke-width="0.75"/>
<path d="M53.5 244L57 244.5L55.7 246.3L52.2 245.8Z" fill="#6366f1" stroke="#1a1460" stroke-width="0.75"/>
<path d="M85.7 239.3L89.2 241.5L88 244.3L84.4 242.8Z" fill="#5888ff" stroke="#1a1460" stroke-width="0.75"/>
<path d="M117.9 243.3L121.5 244.2L120.2 245.9L116.7 245.1Z" fill="#636cf6" stroke="#1a1460" stroke-width="0.75"/>
<path d="M65.4 243.3L68.9 243.4L67.7 245.7L64.1 245.4Z" fill="#636df6" stroke="#1a1460" stroke-width="0.75"/>
<path d="M97.6 242L101.2 243L99.9 245.1L96.4 244.2Z" fill="#6275fb" stroke="#1a1460" stroke-width="0.75"/>
<path d="M129.9 244.3L133.4 245L132.1 246.6L128.6 245.9Z" fill="#6366f1" stroke="#1a1460" stroke-width="0.75"/>
<path d="M45.1 244.7L48.6 245.2L47.3 246.9L43.8 246.3Z" fill="#6365f0" stroke="#1a1460" stroke-width="0.75"/>
<path d="M77.3 240.1L80.9 241.2L79.6 244.6L76 243.8Z" fill="#5c84ff" stroke="#1a1460" stroke-width="0.75"/>
<path d="M109.6 243.1L113.1 244.1L111.8 245.9L108.3 245Z" fill="#636ff8" stroke="#1a1460" stroke-width="0.75"/>
<path d="M57 244.5L60.6 245L59.3 246.8L55.7 246.3Z" fill="#6367f2" stroke="#1a1460" stroke-width="0.75"/>
<path d="M89.2 241.5L92.8 243.1L91.5 245.4L88 244.3Z" fill="#617bfd" stroke="#1a1460" stroke-width="0.75"/>
<path d="M121.5 244.2L125 245.1L123.8 246.8L120.2 245.9Z" fill="#6369f4" stroke="#1a1460" stroke-width="0.75"/>
<path d="M68.9 243.4L72.5 243.4L71.2 246.1L67.7 245.7Z" fill="#636ff8" stroke="#1a1460" stroke-width="0.75"/>
<path d="M101.2 243L104.7 244L103.5 246L99.9 245.1Z" fill="#6373fa" stroke="#1a1460" stroke-width="0.75"/>
<path d="M48.6 245.2L52.2 245.8L50.9 247.5L47.3 246.9Z" fill="#6365f0" stroke="#1a1460" stroke-width="0.75"/>
<path d="M80.9 241.2L84.4 242.8L83.1 245.6L79.6 244.6Z" fill="#5e81fe" stroke="#1a1460" stroke-width="0.75"/>
<path d="M113.1 244.1L116.7 245.1L115.4 246.8L111.8 245.9Z" fill="#636df6" stroke="#1a1460" stroke-width="0.75"/>
<path d="M60.6 245L64.1 245.4L62.8 247.3L59.3 246.8Z" fill="#6368f3" stroke="#1a1460" stroke-width="0.75"/>
<path d="M92.8 243.1L96.4 244.2L95.1 246.3L91.5 245.4Z" fill="#6275fb" stroke="#1a1460" stroke-width="0.75"/>
<path d="M125 245.1L128.6 245.9L127.3 247.5L123.8 246.8Z" fill="#6367f2" stroke="#1a1460" stroke-width="0.75"/>
<path d="M72.5 243.4L76 243.8L74.8 246.6L71.2 246.1Z" fill="#6274fa" stroke="#1a1460" stroke-width="0.75"/>
<path d="M104.7 244L108.3 245L107 246.9L103.5 246Z" fill="#636ff8" stroke="#1a1460" stroke-width="0.75"/>
<path d="M52.2 245.8L55.7 246.3L54.5 248L50.9 247.5Z" fill="#6365f0" stroke="#1a1460" stroke-width="0.75"/>
<path d="M84.4 242.8L88 244.3L86.7 246.7L83.1 245.6Z" fill="#617afd" stroke="#1a1460" stroke-width="0.75"/>
<path d="M116.7 245.1L120.2 245.9L118.9 247.7L115.4 246.8Z" fill="#636bf5" stroke="#1a1460" stroke-width="0.75"/>
<path d="M64.1 245.4L67.7 245.7L66.4 247.8L62.8 247.3Z" fill="#6369f4" stroke="#1a1460" stroke-width="0.75"/>
<path d="M96.4 244.2L99.9 245.1L98.6 247.2L95.1 246.3Z" fill="#6372f9" stroke="#1a1460" stroke-width="0.75"/>
<path d="M128.6 245.9L132.1 246.6L130.9 248.3L127.3 247.5Z" fill="#6366f1" stroke="#1a1460" stroke-width="0.75"/>
<path d="M76 243.8L79.6 244.6L78.3 247.2L74.8 246.6Z" fill="#6275fb" stroke="#1a1460" stroke-width="0.75"/>
<path d="M108.3 245L111.8 245.9L110.5 247.8L107 246.9Z" fill="#636df6" stroke="#1a1460" stroke-width="0.75"/>
<path d="M55.7 246.3L59.3 246.8L58 248.6L54.5 248Z" fill="#6366f1" stroke="#1a1460" stroke-width="0.75"/>
<path d="M88 244.3L91.5 245.4L90.2 247.6L86.7 246.7Z" fill="#6274fa" stroke="#1a1460" stroke-width="0.75"/>
<path d="M120.2 245.9L123.8 246.8L122.5 248.5L118.9 247.7Z" fill="#6368f3" stroke="#1a1460" stroke-width="0.75"/>
<path d="M67.7 245.7L71.2 246.1L69.9 248.3L66.4 247.8Z" fill="#636bf5" stroke="#1a1460" stroke-width="0.75"/>
<path d="M99.9 245.1L103.5 246L102.2 248L98.6 247.2Z" fill="#636ff8" stroke="#1a1460" stroke-width="0.75"/>
<path d="M79.6 244.6L83.1 245.6L81.9 248L78.3 247.2Z" fill="#6274fa" stroke="#1a1460" stroke-width="0.75"/>
<path d="M111.8 245.9L115.4 246.8L114.1 248.6L110.5 247.8Z" fill="#636bf5" stroke="#1a1460" stroke-width="0.75"/>
<path d="M59.3 246.8L62.8 247.3L61.5 249.1L58 248.6Z" fill="#6366f1" stroke="#1a1460" stroke-width="0.75"/>
<path d="M91.5 245.4L95.1 246.3L93.8 248.4L90.2 247.6Z" fill="#636ff8" stroke="#1a1460" stroke-width="0.75"/>
<path d="M123.8 246.8L127.3 247.5L126 249.2L122.5 248.5Z" fill="#6367f2" stroke="#1a1460" stroke-width="0.75"/>
<path d="M71.2 246.1L74.8 246.6L73.5 248.8L69.9 248.3Z" fill="#636cf6" stroke="#1a1460" stroke-width="0.75"/>
<path d="M103.5 246L107 246.9L105.7 248.8L102.2 248Z" fill="#636df6" stroke="#1a1460" stroke-width="0.75"/>
<path d="M83.1 245.6L86.7 246.7L85.4 248.9L81.9 248Z" fill="#6370f9" stroke="#1a1460" stroke-width="0.75"/>
<path d="M115.4 246.8L118.9 247.7L117.7 249.4L114.1 248.6Z" fill="#6369f4" stroke="#1a1460" stroke-width="0.75"/>
<path d="M62.8 247.3L66.4 247.8L65.1 249.7L61.5 249.1Z" fill="#6367f2" stroke="#1a1460" stroke-width="0.75"/>
<path d="M95.1 246.3L98.6 247.2L97.3 249.1L93.8 248.4Z" fill="#636ef7" stroke="#1a1460" stroke-width="0.75"/>
<path d="M127.3 247.5L130.9 248.3L129.6 249.9L126 249.2Z" fill="#6366f1" stroke="#1a1460" stroke-width="0.75"/>
<path d="M74.8 246.6L78.3 247.2L77 249.5L73.5 248.8Z" fill="#636df6" stroke="#1a1460" stroke-width="0.75"/>
<path d="M107 246.9L110.5 247.8L109.3 249.6L105.7 248.8Z" fill="#636bf5" stroke="#1a1460" stroke-width="0.75"/>
<path d="M86.7 246.7L90.2 247.6L89 249.6L85.4 248.9Z" fill="#636ef7" stroke="#1a1460" stroke-width="0.75"/>
<path d="M118.9 247.7L122.5 248.5L121.2 250.1L117.7 249.4Z" fill="#6367f2" stroke="#1a1460" stroke-width="0.75"/>
<path d="M66.4 247.8L69.9 248.3L68.7 250.2L65.1 249.7Z" fill="#6367f2" stroke="#1a1460" stroke-width="0.75"/>
<path d="M98.6 247.2L102.2 248L100.9 249.9L97.3 249.1Z" fill="#636cf6" stroke="#1a1460" stroke-width="0.75"/>
<path d="M78.3 247.2L81.9 248L80.6 250.1L77 249.5Z" fill="#636df6" stroke="#1a1460" stroke-width="0.75"/>
<path d="M110.5 247.8L114.1 248.6L112.8 250.4L109.3 249.6Z" fill="#6369f4" stroke="#1a1460" stroke-width="0.75"/>
<path d="M90.2 247.6L93.8 248.4L92.5 250.3L89 249.6Z" fill="#636cf6" stroke="#1a1460" stroke-width="0.75"/>
<path d="M122.5 248.5L126 249.2L124.8 250.8L121.2 250.1Z" fill="#6366f1" stroke="#1a1460" stroke-width="0.75"/>
<path d="M69.9 248.3L73.5 248.8L72.2 250.8L68.7 250.2Z" fill="#6368f3" stroke="#1a1460" stroke-width="0.75"/>
<path d="M102.2 248L105.7 248.8L104.4 250.7L100.9 249.9Z" fill="#636bf5" stroke="#1a1460" stroke-width="0.75"/>
<path d="M81.9 248L85.4 248.9L84.1 250.8L80.6 250.1Z" fill="#636cf6" stroke="#1a1460" stroke-width="0.75"/>
<path d="M114.1 248.6L117.7 249.4L116.4 251.1L112.8 250.4Z" fill="#6367f2" stroke="#1a1460" stroke-width="0.75"/>
<path d="M93.8 248.4L97.3 249.1L96.1 251L92.5 250.3Z" fill="#636bf5" stroke="#1a1460" stroke-width="0.75"/>
<path d="M126 249.2L129.6 249.9L128.3 251.5L124.8 250.8Z" fill="#6365f0" stroke="#1a1460" stroke-width="0.75"/>
<path d="M73.5 248.8L77 249.5L75.8 251.4L72.2 250.8Z" fill="#6368f3" stroke="#1a1460" stroke-width="0.75"/>
<path d="M105.7 248.8L109.3 249.6L108 251.4L104.4 250.7Z" fill="#6369f4" stroke="#1a1460" stroke-width="0.75"/>
<path d="M85.4 248.9L89 249.6L87.7 251.5L84.1 250.8Z" fill="#6369f4" stroke="#1a1460" stroke-width="0.75"/>
<path d="M117.7 249.4L121.2 250.1L119.9 251.8L116.4 251.1Z" fill="#6366f1" stroke="#1a1460" stroke-width="0.75"/>
<path d="M97.3 249.1L100.9 249.9L99.6 251.7L96.1 251Z" fill="#6369f4" stroke="#1a1460" stroke-width="0.75"/>
<path d="M77 249.5L80.6 250.1L79.3 252L75.8 251.4Z" fill="#6368f3" stroke="#1a1460" stroke-width="0.75"/>
<path d="M109.3 249.6L112.8 250.4L111.5 252.1L108 251.4Z" fill="#6367f2" stroke="#1a1460" stroke-width="0.75"/>
<path d="M89 249.6L92.5 250.3L91.2 252.2L87.7 251.5Z" fill="#6368f3" stroke="#1a1460" stroke-width="0.75"/>
<path d="M121.2 250.1L124.8 250.8L123.5 252.5L119.9 251.8Z" fill="#6366f1" stroke="#1a1460" stroke-width="0.75"/>
<path d="M100.9 249.9L104.4 250.7L103.2 252.4L99.6 251.7Z" fill="#6368f3" stroke="#1a1460" stroke-width="0.75"/>
<path d="M80.6 250.1L84.1 250.8L82.8 252.7L79.3 252Z" fill="#6368f3" stroke="#1a1460" stroke-width="0.75"/>
<path d="M112.8 250.4L116.4 251.1L115.1 252.8L111.5 252.1Z" fill="#6366f1" stroke="#1a1460" stroke-width="0.75"/>
<path d="M92.5 250.3L96.1 251L94.8 252.8L91.2 252.2Z" fill="#6368f3" stroke="#1a1460" stroke-width="0.75"/>
<path d="M124.8 250.8L128.3 251.5L127 253.2L123.5 252.5Z" fill="#6365f0" stroke="#1a1460" stroke-width="0.75"/>
<path d="M104.4 250.7L108 251.4L106.7 253.1L103.2 252.4Z" fill="#6367f2" stroke="#1a1460" stroke-width="0.75"/>
<path d="M84.1 250.8L87.7 251.5L86.4 253.3L82.8 252.7Z" fill="#6367f2" stroke="#1a1460" stroke-width="0.75"/>
<path d="M116.4 251.1L119.9 251.8L118.6 253.5L115.1 252.8Z" fill="#6366f1" stroke="#1a1460" stroke-width="0.75"/>
<path d="M96.1 251L99.6 251.7L98.3 253.5L94.8 252.8Z" fill="#6367f2" stroke="#1a1460" stroke-width="0.75"/>
<path d="M108 251.4L111.5 252.1L110.3 253.8L106.7 253.1Z" fill="#6366f1" stroke="#1a1460" stroke-width="0.75"/>
<path d="M87.7 251.5L91.2 252.2L90 253.9L86.4 253.3Z" fill="#6367f2" stroke="#1a1460" stroke-width="0.75"/>
<path d="M119.9 251.8L123.5 252.5L122.2 254.1L118.6 253.5Z" fill="#6365f0" stroke="#1a1460" stroke-width="0.75"/>
<path d="M99.6 251.7L103.2 252.4L101.9 254.2L98.3 253.5Z" fill="#6367f2" stroke="#1a1460" stroke-width="0.75"/>
<path d="M111.5 252.1L115.1 252.8L113.8 254.5L110.3 253.8Z" fill="#6366f1" stroke="#1a1460" stroke-width="0.75"/>
<path d="M91.2 252.2L94.8 252.8L93.5 254.6L90 253.9Z" fill="#6366f1" stroke="#1a1460" stroke-width="0.75"/>
<path d="M123.5 252.5L127 253.2L125.7 254.8L122.2 254.1Z" fill="#6365f0" stroke="#1a1460" stroke-width="0.75"/>
<path d="M103.2 252.4L106.7 253.1L105.4 254.8L101.9 254.2Z" fill="#6366f1" stroke="#1a1460" stroke-width="0.75"/>
<path d="M115.1 252.8L118.6 253.5L117.4 255.1L113.8 254.5Z" fill="#6365f0" stroke="#1a1460" stroke-width="0.75"/>
<path d="M94.8 252.8L98.3 253.5L97 255.2L93.5 254.6Z" fill="#6366f1" stroke="#1a1460" stroke-width="0.75"/>
<path d="M106.7 253.1L110.3 253.8L109 255.5L105.4 254.8Z" fill="#6365f0" stroke="#1a1460" stroke-width="0.75"/>
<path d="M118.6 253.5L122.2 254.1L120.9 255.8L117.4 255.1Z" fill="#6365f0" stroke="#1a1460" stroke-width="0.75"/>
<path d="M98.3 253.5L101.9 254.2L100.6 255.9L97 255.2Z" fill="#6365f0" stroke="#1a1460" stroke-width="0.75"/>
<path d="M110.3 253.8L113.8 254.5L112.5 256.1L109 255.5Z" fill="#6365f0" stroke="#1a1460" stroke-width="0.75"/>
<path d="M122.2 254.1L125.7 254.8L124.5 256.4L120.9 255.8Z" fill="#6363ef" stroke="#1a1460" stroke-width="0.75"/>
<path d="M101.9 254.2L105.4 254.8L104.1 256.5L100.6 255.9Z" fill="#6365f0" stroke="#1a1460" stroke-width="0.75"/>
<path d="M113.8 254.5L117.4 255.1L116.1 256.8L112.5 256.1Z" fill="#6365f0" stroke="#1a1460" stroke-width="0.75"/>
<path d="M105.4 254.8L109 255.5L107.7 257.1L104.1 256.5Z" fill="#6365f0" stroke="#1a1460" stroke-width="0.75"/>
<path d="M117.4 255.1L120.9 255.8L119.6 257.4L116.1 256.8Z" fill="#6363ef" stroke="#1a1460" stroke-width="0.75"/>
<path d="M109 255.5L112.5 256.1L111.2 257.8L107.7 257.1Z" fill="#6363ef" stroke="#1a1460" stroke-width="0.75"/>
<path d="M120.9 255.8L124.5 256.4L123.2 258L119.6 257.4Z" fill="#6363ef" stroke="#1a1460" stroke-width="0.75"/>
<path d="M112.5 256.1L116.1 256.8L114.8 258.4L111.2 257.8Z" fill="#6363ef" stroke="#1a1460" stroke-width="0.75"/>
<path d="M116.1 256.8L119.6 257.4L118.3 259L114.8 258.4Z" fill="#6363ef" stroke="#1a1460" stroke-width="0.75"/>
<path d="M119.6 257.4L123.2 258L121.9 259.6L118.3 259Z" fill="#6363ef" stroke="#1a1460" stroke-width="0.75"/>
</g></g>
<line x1="22.5" y1="246" x2="121.9" y2="262.8" stroke="#4d4d4d" stroke-width="0.5"/>
<line x1="157.7" y1="218.3" x2="121.9" y2="262.8" stroke="#4d4d4d" stroke-width="0.5"/>
<line x1="22.5" y1="246" x2="22.5" y2="203.4" stroke="#4d4d4d" stroke-width="0.5"/>
<line x1="36.7" y1="248.4" x2="35.4" y2="250" stroke="#4d4d4d" stroke-width="0.5"/>
<line x1="152.6" y1="224.6" x2="154.6" y2="225" stroke="#4d4d4d" stroke-width="0.5"/>
<line x1="54.5" y1="251.4" x2="53.2" y2="253" stroke="#4d4d4d" stroke-width="0.5"/>
<line x1="146.2" y1="232.6" x2="148.2" y2="232.9" stroke="#4d4d4d" stroke-width="0.5"/>
<line x1="72.2" y1="254.4" x2="70.9" y2="256" stroke="#4d4d4d" stroke-width="0.5"/>
<line x1="139.8" y1="240.5" x2="141.8" y2="240.9" stroke="#4d4d4d" stroke-width="0.5"/>
<line x1="90" y1="257.4" x2="88.7" y2="259" stroke="#4d4d4d" stroke-width="0.5"/>
<line x1="133.4" y1="248.5" x2="135.4" y2="248.8" stroke="#4d4d4d" stroke-width="0.5"/>
<line x1="107.7" y1="260.4" x2="106.4" y2="262" stroke="#4d4d4d" stroke-width="0.5"/>
<line x1="127" y1="256.4" x2="129" y2="256.8" stroke="#4d4d4d" stroke-width="0.5"/>
<line x1="22.5" y1="240.2" x2="20.7" y2="240.2" stroke="#4d4d4d" stroke-width="0.5"/>
<line x1="22.5" y1="234.5" x2="20.7" y2="234.5" stroke="#4d4d4d" stroke-width="0.5"/>
<line x1="22.5" y1="228.7" x2="20.7" y2="228.7" stroke="#4d4d4d" stroke-width="0.5"/>
<line x1="22.5" y1="223" x2="20.7" y2="223" stroke="#4d4d4d" stroke-width="0.5"/>
<line x1="22.5" y1="217.2" x2="20.7" y2="217.2" stroke="#4d4d4d" stroke-width="0.5"/>
<line x1="22.5" y1="211.4" x2="20.7" y2="211.4" stroke="#4d4d4d" stroke-width="0.5"/>
<line x1="22.5" y1="205.7" x2="20.7" y2="205.7" stroke="#4d4d4d" stroke-width="0.5"/>
<g font-size="8.3" fill="#3a3a3a" text-anchor="middle">
<text x="30.5" y="263.8">5</text>
<text x="163.1" y="233.9">5</text>
<text x="48.2" y="266.8">10</text>
<text x="156.7" y="241.9">10</text>
<text x="66" y="269.8">15</text>
<text x="150.3" y="249.8">15</text>
<text x="83.8" y="272.8">20</text>
<text x="143.9" y="257.8">20</text>
<text x="101.5" y="275.8">25</text>
<text x="137.5" y="265.7">25</text>
<text x="17.3" y="243.2" text-anchor="end">20</text>
<text x="17.3" y="237.5" text-anchor="end">40</text>
<text x="17.3" y="231.7" text-anchor="end">60</text>
<text x="17.3" y="226" text-anchor="end">80</text>
<text x="17.3" y="220.2" text-anchor="end">100</text>
<text x="17.3" y="214.4" text-anchor="end">120</text>
<text x="17.3" y="208.7" text-anchor="end">140</text>
</g>
<line x1="252" y1="170" x2="252" y2="160.7" stroke="#e2e2e2" stroke-width="0.5"/>
<line x1="269.8" y1="174.7" x2="269.8" y2="165.4" stroke="#e2e2e2" stroke-width="0.5"/>
<line x1="287.5" y1="179.3" x2="287.5" y2="170" stroke="#e2e2e2" stroke-width="0.5"/>
<line x1="305.3" y1="184" x2="305.3" y2="174.7" stroke="#e2e2e2" stroke-width="0.5"/>
<line x1="323" y1="188.6" x2="323" y2="179.3" stroke="#e2e2e2" stroke-width="0.5"/>
<line x1="237.8" y1="163.8" x2="337.2" y2="189.9" stroke="#e2e2e2" stroke-width="0.5"/>
<line x1="237.8" y1="159.1" x2="337.2" y2="185.2" stroke="#e2e2e2" stroke-width="0.5"/>
<line x1="232.7" y1="176.2" x2="232.7" y2="166.9" stroke="#e2e2e2" stroke-width="0.5"/>
<line x1="226.3" y1="188.5" x2="226.3" y2="179.2" stroke="#e2e2e2" stroke-width="0.5"/>
<line x1="219.9" y1="200.8" x2="219.9" y2="191.5" stroke="#e2e2e2" stroke-width="0.5"/>
<line x1="213.5" y1="213.1" x2="213.5" y2="203.8" stroke="#e2e2e2" stroke-width="0.5"/>
<line x1="207.1" y1="225.4" x2="207.1" y2="216.1" stroke="#e2e2e2" stroke-width="0.5"/>
<line x1="237.8" y1="163.8" x2="202" y2="232.7" stroke="#e2e2e2" stroke-width="0.5"/>
<line x1="237.8" y1="159.1" x2="202" y2="228" stroke="#e2e2e2" stroke-width="0.5"/>
<line x1="252" y1="170" x2="216.2" y2="238.9" stroke="#e2e2e2" stroke-width="0.5"/>
<line x1="269.8" y1="174.7" x2="233.9" y2="243.6" stroke="#e2e2e2" stroke-width="0.5"/>
<line x1="287.5" y1="179.3" x2="251.7" y2="248.2" stroke="#e2e2e2" stroke-width="0.5"/>
<line x1="305.3" y1="184" x2="269.4" y2="252.9" stroke="#e2e2e2" stroke-width="0.5"/>
<line x1="323" y1="188.6" x2="287.2" y2="257.5" stroke="#e2e2e2" stroke-width="0.5"/>
<line x1="232.7" y1="176.2" x2="332.1" y2="202.2" stroke="#e2e2e2" stroke-width="0.5"/>
<line x1="226.3" y1="188.5" x2="325.7" y2="214.5" stroke="#e2e2e2" stroke-width="0.5"/>
<line x1="219.9" y1="200.8" x2="319.3" y2="226.8" stroke="#e2e2e2" stroke-width="0.5"/>
<line x1="213.5" y1="213.1" x2="312.9" y2="239.1" stroke="#e2e2e2" stroke-width="0.5"/>
<line x1="207.1" y1="225.4" x2="306.5" y2="251.4" stroke="#e2e2e2" stroke-width="0.5"/>
<g filter="url(#bl)"><g stroke="#000" stroke-width="0.4" stroke-opacity="1.0" fill-opacity="1.0" stroke-linejoin="round">
<path d="M237.8 163L241.4 164.9L240.1 167.4L236.6 166.4Z" fill="#1da9e0"/>
<path d="M241.4 164.9L244.9 165.6L243.7 168L240.1 167.4Z" fill="#2d88f6"/>
<path d="M244.9 165.6L248.5 166.7L247.2 169.7L243.7 168Z" fill="#2c90f0"/>
<path d="M236.6 166.4L240.1 167.4L238.8 169.2L235.3 168.6Z" fill="#2d88f6"/>
<path d="M248.5 166.7L252 167.8L250.8 170.2L247.2 169.7Z" fill="#2d8bf4"/>
<path d="M240.1 167.4L243.7 168L242.4 170.7L238.8 169.2Z" fill="#2e87f7"/>
<path d="M252 167.8L255.6 168.7L254.3 171.6L250.8 170.2Z" fill="#2f82fa"/>
<path d="M243.7 168L247.2 169.7L245.9 172.4L242.4 170.7Z" fill="#2b91ef"/>
<path d="M255.6 168.7L259.1 169.6L257.9 172.5L254.3 171.6Z" fill="#2e83f9"/>
<path d="M235.3 168.6L238.8 169.2L237.6 171.3L234 170.5Z" fill="#2b91ef"/>
<path d="M247.2 169.7L250.8 170.2L249.5 172.4L245.9 172.4Z" fill="#3974ff"/>
<path d="M259.1 169.6L262.7 171.2L261.4 173.4L257.9 172.5Z" fill="#2e84f8"/>
<path d="M238.8 169.2L242.4 170.7L241.1 172.7L237.6 171.3Z" fill="#249ee6"/>
<path d="M250.8 170.2L254.3 171.6L253 173L249.5 172.4Z" fill="#2e84f8"/>
<path d="M262.7 171.2L266.2 170.8L265 173.1L261.4 173.4Z" fill="#416bfe"/>
<path d="M242.4 170.7L245.9 172.4L244.7 173.7L241.1 172.7Z" fill="#2d8bf4"/>
<path d="M254.3 171.6L257.9 172.5L256.6 174.5L253 173Z" fill="#3974ff"/>
<path d="M234 170.5L237.6 171.3L236.3 174.7L232.7 173.6Z" fill="#1fa6e2"/>
<path d="M266.2 170.8L269.8 171.7L268.5 173.9L265 173.1Z" fill="#249ee6"/>
<path d="M245.9 172.4L249.5 172.4L248.2 174.7L244.7 173.7Z" fill="#426afe"/>
<path d="M257.9 172.5L261.4 173.4L260.1 175.9L256.6 174.5Z" fill="#3876fe"/>
<path d="M237.6 171.3L241.1 172.7L239.8 175.7L236.3 174.7Z" fill="#1da8e1"/>
<path d="M269.8 171.7L273.3 173.4L272.1 175.6L268.5 173.9Z" fill="#249ee6"/>
<path d="M249.5 172.4L253 173L251.8 175.7L248.2 174.7Z" fill="#2c8ff1"/>
<path d="M261.4 173.4L265 173.1L263.7 176.7L260.1 175.9Z" fill="#3974ff"/>
<path d="M241.1 172.7L244.7 173.7L243.4 175.9L239.8 175.7Z" fill="#2699e9"/>
<path d="M273.3 173.4L276.9 174.1L275.6 176.4L272.1 175.6Z" fill="#2f82fa"/>
<path d="M253 173L256.6 174.5L255.3 176.9L251.8 175.7Z" fill="#269ae8"/>
<path d="M232.7 173.6L236.3 174.7L235 177.3L231.4 176.5Z" fill="#2d8ef2"/>
<path d="M265 173.1L268.5 173.9L267.2 177.3L263.7 176.7Z" fill="#23a1e4"/>
<path d="M244.7 173.7L248.2 174.7L246.9 177.5L243.4 175.9Z" fill="#2798ea"/>
<path d="M276.9 174.1L280.4 174.8L279.2 177.2L275.6 176.4Z" fill="#2d8cf3"/>
<path d="M256.6 174.5L260.1 175.9L258.9 178.1L255.3 176.9Z" fill="#2e87f7"/>
<path d="M236.3 174.7L239.8 175.7L238.5 178.3L235 177.3Z" fill="#2d88f6"/>
<path d="M268.5 173.9L272.1 175.6L270.8 178.3L267.2 177.3Z" fill="#20a5e3"/>
<path d="M248.2 174.7L251.8 175.7L250.5 178.6L246.9 177.5Z" fill="#2895ec"/>
<path d="M280.4 174.8L284 176L282.7 178.3L279.2 177.2Z" fill="#2a93ee"/>
<path d="M260.1 175.9L263.7 176.7L262.4 178.6L258.9 178.1Z" fill="#3b73ff"/>
<path d="M239.8 175.7L243.4 175.9L242.1 179L238.5 178.3Z" fill="#2e87f7"/>
<path d="M272.1 175.6L275.6 176.4L274.3 179.3L270.8 178.3Z" fill="#2d8ef2"/>
<path d="M251.8 175.7L255.3 176.9L254 179.2L250.5 178.6Z" fill="#2b91ef"/>
<path d="M284 176L287.5 177.2L286.3 179.7L282.7 178.3Z" fill="#2d8bf4"/>
<path d="M231.4 176.5L235 177.3L233.7 179.6L230.2 179.2Z" fill="#307ffb"/>
<path d="M263.7 176.7L267.2 177.3L265.9 178.7L262.4 178.6Z" fill="#3579fd"/>
<path d="M243.4 175.9L246.9 177.5L245.6 180.6L242.1 179Z" fill="#23a1e4"/>
<path d="M275.6 176.4L279.2 177.2L277.9 179.5L274.3 179.3Z" fill="#2b91ef"/>
<path d="M255.3 176.9L258.9 178.1L257.6 180.2L254 179.2Z" fill="#2d8af5"/>
<path d="M287.5 177.2L291.1 178.6L289.8 181.1L286.3 179.7Z" fill="#2f80fa"/>
<path d="M235 177.3L238.5 178.3L237.3 180L233.7 179.6Z" fill="#2f82fa"/>
<path d="M267.2 177.3L270.8 178.3L269.5 180L265.9 178.7Z" fill="#2e87f7"/>
<path d="M246.9 177.5L250.5 178.6L249.2 181.1L245.6 180.6Z" fill="#2e87f7"/>
<path d="M279.2 177.2L282.7 178.3L281.4 180.8L277.9 179.5Z" fill="#2895ec"/>
<path d="M258.9 178.1L262.4 178.6L261.1 181L257.6 180.2Z" fill="#2f80fa"/>
<path d="M291.1 178.6L294.6 178.7L293.4 181.8L289.8 181.1Z" fill="#416bfe"/>
<path d="M238.5 178.3L242.1 179L240.8 181.2L237.3 180Z" fill="#2f80fa"/>
<path d="M270.8 178.3L274.3 179.3L273.1 181.6L269.5 180Z" fill="#2e83f9"/>
<path d="M250.5 178.6L254 179.2L252.7 182.4L249.2 181.1Z" fill="#2f82fa"/>
<path d="M282.7 178.3L286.3 179.7L285 181.7L281.4 180.8Z" fill="#2c8ff1"/>
<path d="M230.2 179.2L233.7 179.6L232.4 182.2L228.9 181.7Z" fill="#3974ff"/>
<path d="M262.4 178.6L265.9 178.7L264.7 181.4L261.1 181Z" fill="#2d8cf3"/>
<path d="M294.6 178.7L298.2 179.5L296.9 181.9L293.4 181.8Z" fill="#2d8bf4"/>
<path d="M242.1 179L245.6 180.6L244.4 182.7L240.8 181.2Z" fill="#2d88f6"/>
<path d="M274.3 179.3L277.9 179.5L276.6 182.4L273.1 181.6Z" fill="#2f82fa"/>
<path d="M254 179.2L257.6 180.2L256.3 182.8L252.7 182.4Z" fill="#2d8cf3"/>
<path d="M286.3 179.7L289.8 181.1L288.5 182.1L285 181.7Z" fill="#317dfc"/>
<path d="M233.7 179.6L237.3 180L236 182.5L232.4 182.2Z" fill="#2d88f6"/>
<path d="M265.9 178.7L269.5 180L268.2 182.4L264.7 181.4Z" fill="#1caadf"/>
<path d="M298.2 179.5L301.7 180.4L300.5 182.1L296.9 181.9Z" fill="#2a93ee"/>
<path d="M245.6 180.6L249.2 181.1L247.9 183.2L244.4 182.7Z" fill="#3f6eff"/>
<path d="M277.9 179.5L281.4 180.8L280.1 183.6L276.6 182.4Z" fill="#2699e9"/>
<path d="M257.6 180.2L261.1 181L259.8 183.2L256.3 182.8Z" fill="#2d8ef2"/>
<path d="M289.8 181.1L293.4 181.8L292.1 183.3L288.5 182.1Z" fill="#4368fe"/>
<path d="M237.3 180L240.8 181.2L239.5 183.4L236 182.5Z" fill="#259be8"/>
<path d="M269.5 180L273.1 181.6L271.8 183.8L268.2 182.4Z" fill="#249fe5"/>
<path d="M301.7 180.4L305.3 182L304 183.8L300.5 182.1Z" fill="#2994ed"/>
<path d="M249.2 181.1L252.7 182.4L251.5 184.4L247.9 183.2Z" fill="#2f80fa"/>
<path d="M281.4 180.8L285 181.7L283.7 184.2L280.1 183.6Z" fill="#2d8ef2"/>
<path d="M228.9 181.7L232.4 182.2L231.2 184.4L227.6 183.1Z" fill="#3b73ff"/>
<path d="M261.1 181L264.7 181.4L263.4 183.7L259.8 183.2Z" fill="#2b91ef"/>
<path d="M293.4 181.8L296.9 181.9L295.6 184.4L292.1 183.3Z" fill="#3974ff"/>
<path d="M240.8 181.2L244.4 182.7L243.1 184.5L239.5 183.4Z" fill="#2994ed"/>
<path d="M273.1 181.6L276.6 182.4L275.3 184.4L271.8 183.8Z" fill="#2e86f8"/>
<path d="M305.3 182L308.8 181.8L307.6 184.7L304 183.8Z" fill="#3579fd"/>
<path d="M252.7 182.4L256.3 182.8L255 185.1L251.5 184.4Z" fill="#3b73ff"/>
<path d="M285 181.7L288.5 182.1L287.2 185L283.7 184.2Z" fill="#2c90f0"/>
<path d="M232.4 182.2L236 182.5L234.7 185L231.2 184.4Z" fill="#2e86f8"/>
<path d="M264.7 181.4L268.2 182.4L266.9 184.8L263.4 183.7Z" fill="#22a2e4"/>
<path d="M296.9 181.9L300.5 182.1L299.2 185.2L295.6 184.4Z" fill="#2a93ee"/>
<path d="M244.4 182.7L247.9 183.2L246.6 185.7L243.1 184.5Z" fill="#327cfc"/>
<path d="M276.6 182.4L280.1 183.6L278.9 185.6L275.3 184.4Z" fill="#2d8bf4"/>
<path d="M308.8 181.8L312.4 183L311.1 185.3L307.6 184.7Z" fill="#23a1e4"/>
<path d="M256.3 182.8L259.8 183.2L258.6 185.7L255 185.1Z" fill="#2d88f6"/>
<path d="M288.5 182.1L292.1 183.3L290.8 186.5L287.2 185Z" fill="#23a0e5"/>
<path d="M236 182.5L239.5 183.4L238.2 185.5L234.7 185Z" fill="#259be8"/>
<path d="M268.2 182.4L271.8 183.8L270.5 186.8L266.9 184.8Z" fill="#249fe5"/>
<path d="M300.5 182.1L304 183.8L302.7 186L299.2 185.2Z" fill="#1aacdd"/>
<path d="M247.9 183.2L251.5 184.4L250.2 186.9L246.6 185.7Z" fill="#2c8ff1"/>
<path d="M280.1 183.6L283.7 184.2L282.4 186.8L278.9 185.6Z" fill="#2f80fa"/>
<path d="M312.4 183L315.9 184.2L314.7 186.4L311.1 185.3Z" fill="#269ae8"/>
<path d="M227.6 183.1L231.2 184.4L229.9 187.4L226.3 185.6Z" fill="#259be8"/>
<path d="M259.8 183.2L263.4 183.7L262.1 186.3L258.6 185.7Z" fill="#269ae8"/>
<path d="M292.1 183.3L295.6 184.4L294.4 187L290.8 186.5Z" fill="#269ae8"/>
<path d="M239.5 183.4L243.1 184.5L241.8 186.6L238.2 185.5Z" fill="#259ce7"/>
<path d="M271.8 183.8L275.3 184.4L274 187.1L270.5 186.8Z" fill="#2c90f0"/>
<path d="M304 183.8L307.6 184.7L306.3 187.6L302.7 186Z" fill="#2a93ee"/>
<path d="M251.5 184.4L255 185.1L253.7 187.9L250.2 186.9Z" fill="#2e83f9"/>
<path d="M283.7 184.2L287.2 185L286 187.9L282.4 186.8Z" fill="#2c8ff1"/>
<path d="M315.9 184.2L319.5 184.3L318.2 187.3L314.7 186.4Z" fill="#2d8ef2"/>
<path d="M231.2 184.4L234.7 185L233.4 187.5L229.9 187.4Z" fill="#2d8cf3"/>
<path d="M263.4 183.7L266.9 184.8L265.7 187.8L262.1 186.3Z" fill="#1da8e1"/>
<path d="M295.6 184.4L299.2 185.2L297.9 188.1L294.4 187Z" fill="#2a93ee"/>
<path d="M243.1 184.5L246.6 185.7L245.3 188.3L241.8 186.6Z" fill="#2798ea"/>
<path d="M275.3 184.4L278.9 185.6L277.6 187.5L274 187.1Z" fill="#259ce7"/>
<path d="M307.6 184.7L311.1 185.3L309.8 188.6L306.3 187.6Z" fill="#2b91ef"/>
<path d="M255 185.1L258.6 185.7L257.3 188.6L253.7 187.9Z" fill="#2d8ef2"/>
<path d="M287.2 185L290.8 186.5L289.5 188.9L286 187.9Z" fill="#2b91ef"/>
<path d="M319.5 184.3L323 186.1L321.8 188.5L318.2 187.3Z" fill="#1babde"/>
<path d="M234.7 185L238.2 185.5L237 188.1L233.4 187.5Z" fill="#259be8"/>
<path d="M266.9 184.8L270.5 186.8L269.2 189.7L265.7 187.8Z" fill="#21a3e3"/>
<path d="M299.2 185.2L302.7 186L301.4 188.5L297.9 188.1Z" fill="#2798ea"/>
<path d="M246.6 185.7L250.2 186.9L248.9 189.2L245.3 188.3Z" fill="#2d8bf4"/>
<path d="M278.9 185.6L282.4 186.8L281.1 188.8L277.6 187.5Z" fill="#2a93ee"/>
<path d="M311.1 185.3L314.7 186.4L313.4 189.1L309.8 188.6Z" fill="#249fe5"/>
<path d="M226.3 185.6L229.9 187.4L228.6 189.2L225 188Z" fill="#269ae8"/>
<path d="M258.6 185.7L262.1 186.3L260.8 189.3L257.3 188.6Z" fill="#2798ea"/>
<path d="M290.8 186.5L294.4 187L293.1 189.3L289.5 188.9Z" fill="#307ffb"/>
<path d="M323 186.1L326.6 187.8L325.3 189.8L321.8 188.5Z" fill="#2c8ff1"/>
<path d="M238.2 185.5L241.8 186.6L240.5 189.4L237 188.1Z" fill="#1da8e1"/>
<path d="M270.5 186.8L274 187.1L272.8 190.3L269.2 189.7Z" fill="#3579fd"/>
<path d="M302.7 186L306.3 187.6L305 189.5L301.4 188.5Z" fill="#259ce7"/>
<path d="M250.2 186.9L253.7 187.9L252.4 190.1L248.9 189.2Z" fill="#2e83f9"/>
<path d="M282.4 186.8L286 187.9L284.7 190.2L281.1 188.8Z" fill="#2d88f6"/>
<path d="M314.7 186.4L318.2 187.3L316.9 189.7L313.4 189.1Z" fill="#2798ea"/>
<path d="M229.9 187.4L233.4 187.5L232.1 189.7L228.6 189.2Z" fill="#3579fd"/>
<path d="M262.1 186.3L265.7 187.8L264.4 190.2L260.8 189.3Z" fill="#21a3e3"/>
<path d="M294.4 187L297.9 188.1L296.6 191.2L293.1 189.3Z" fill="#2d8cf3"/>
<path d="M326.6 187.8L330.1 188.6L328.9 190.8L325.3 189.8Z" fill="#3e70ff"/>
<path d="M241.8 186.6L245.3 188.3L244.1 190.6L240.5 189.4Z" fill="#22a2e4"/>
<path d="M274 187.1L277.6 187.5L276.3 190.5L272.8 190.3Z" fill="#2994ed"/>
<path d="M306.3 187.6L309.8 188.6L308.6 190.4L305 189.5Z" fill="#2e84f8"/>
<path d="M253.7 187.9L257.3 188.6L256 191.1L252.4 190.1Z" fill="#307ffb"/>
<path d="M286 187.9L289.5 188.9L288.2 190.8L284.7 190.2Z" fill="#2f82fa"/>
<path d="M318.2 187.3L321.8 188.5L320.5 190.9L316.9 189.7Z" fill="#2699e9"/>
<path d="M233.4 187.5L237 188.1L235.7 191.3L232.1 189.7Z" fill="#2699e9"/>
<path d="M265.7 187.8L269.2 189.7L267.9 191.3L264.4 190.2Z" fill="#2b91ef"/>
<path d="M297.9 188.1L301.4 188.5L300.2 191.9L296.6 191.2Z" fill="#2d88f6"/>
<path d="M330.1 188.6L333.7 190.1L332.4 192.2L328.9 190.8Z" fill="#3876fe"/>
<path d="M245.3 188.3L248.9 189.2L247.6 191.3L244.1 190.6Z" fill="#2d88f6"/>
<path d="M277.6 187.5L281.1 188.8L279.9 191.4L276.3 190.5Z" fill="#20a5e3"/>
<path d="M309.8 188.6L313.4 189.1L312.1 191.8L308.6 190.4Z" fill="#2f82fa"/>
<path d="M225 188L228.6 189.2L227.3 191.5L223.8 190.4Z" fill="#269ae8"/>
<path d="M257.3 188.6L260.8 189.3L259.6 192.4L256 191.1Z" fill="#2d88f6"/>
<path d="M289.5 188.9L293.1 189.3L291.8 191.4L288.2 190.8Z" fill="#2f82fa"/>
<path d="M321.8 188.5L325.3 189.8L324 192.2L320.5 190.9Z" fill="#2b91ef"/>
<path d="M237 188.1L240.5 189.4L239.2 192.2L235.7 191.3Z" fill="#20a5e3"/>
<path d="M269.2 189.7L272.8 190.3L271.5 192.5L267.9 191.3Z" fill="#4368fe"/>
<path d="M301.4 188.5L305 189.5L303.7 192.4L300.2 191.9Z" fill="#269ae8"/>
<path d="M333.7 190.1L337.2 189.4L336 192.2L332.4 192.2Z" fill="#465efb"/>
<path d="M248.9 189.2L252.4 190.1L251.2 192.4L247.6 191.3Z" fill="#2d88f6"/>
<path d="M281.1 188.8L284.7 190.2L283.4 192.2L279.9 191.4Z" fill="#2798ea"/>
<path d="M313.4 189.1L316.9 189.7L315.6 192.6L312.1 191.8Z" fill="#2b91ef"/>
<path d="M228.6 189.2L232.1 189.7L230.9 192.1L227.3 191.5Z" fill="#2b91ef"/>
<path d="M260.8 189.3L264.4 190.2L263.1 192.4L259.6 192.4Z" fill="#2b91ef"/>
<path d="M293.1 189.3L296.6 191.2L295.3 193.2L291.8 191.4Z" fill="#2b91ef"/>
<path d="M325.3 189.8L328.9 190.8L327.6 193.1L324 192.2Z" fill="#2f82fa"/>
<path d="M240.5 189.4L244.1 190.6L242.8 192.4L239.2 192.2Z" fill="#2797eb"/>
<path d="M272.8 190.3L276.3 190.5L275 193.4L271.5 192.5Z" fill="#3974ff"/>
<path d="M305 189.5L308.6 190.4L307.3 193.8L303.7 192.4Z" fill="#2699e9"/>
<path d="M252.4 190.1L256 191.1L254.7 193L251.2 192.4Z" fill="#2d8bf4"/>
<path d="M284.7 190.2L288.2 190.8L287 193.2L283.4 192.2Z" fill="#2e87f7"/>
<path d="M316.9 189.7L320.5 190.9L319.2 193.4L315.6 192.6Z" fill="#259be8"/>
<path d="M232.1 189.7L235.7 191.3L234.4 193.8L230.9 192.1Z" fill="#23a0e5"/>
<path d="M264.4 190.2L267.9 191.3L266.7 193.4L263.1 192.4Z" fill="#2b91ef"/>
<path d="M296.6 191.2L300.2 191.9L298.9 193.9L295.3 193.2Z" fill="#3f6eff"/>
<path d="M328.9 190.8L332.4 192.2L331.1 194.4L327.6 193.1Z" fill="#2f80fa"/>
<path d="M244.1 190.6L247.6 191.3L246.3 193L242.8 192.4Z" fill="#2d8ef2"/>
<path d="M276.3 190.5L279.9 191.4L278.6 194L275 193.4Z" fill="#2a93ee"/>
<path d="M308.6 190.4L312.1 191.8L310.8 194.9L307.3 193.8Z" fill="#2798ea"/>
<path d="M223.8 190.4L227.3 191.5L226 193.9L222.5 192.4Z" fill="#249ee6"/>
<path d="M256 191.1L259.6 192.4L258.3 194.3L254.7 193Z" fill="#2d88f6"/>
<path d="M288.2 190.8L291.8 191.4L290.5 194.4L287 193.2Z" fill="#2994ed"/>
<path d="M320.5 190.9L324 192.2L322.8 194L319.2 193.4Z" fill="#2994ed"/>
<path d="M235.7 191.3L239.2 192.2L238 194.8L234.4 193.8Z" fill="#2d8af5"/>
<path d="M267.9 191.3L271.5 192.5L270.2 194.6L266.7 193.4Z" fill="#2d8af5"/>
<path d="M300.2 191.9L303.7 192.4L302.4 194.5L298.9 193.9Z" fill="#3974ff"/>
<path d="M332.4 192.2L336 192.2L334.7 194.9L331.1 194.4Z" fill="#406dfe"/>
<path d="M247.6 191.3L251.2 192.4L249.9 194.6L246.3 193Z" fill="#2895ec"/>
<path d="M279.9 191.4L283.4 192.2L282.1 194.9L278.6 194Z" fill="#2a93ee"/>
<path d="M312.1 191.8L315.6 192.6L314.4 195.3L310.8 194.9Z" fill="#2e87f7"/>
<path d="M227.3 191.5L230.9 192.1L229.6 193.7L226 193.9Z" fill="#2699e9"/>
<path d="M259.6 192.4L263.1 192.4L261.8 194.6L258.3 194.3Z" fill="#3579fd"/>
<path d="M291.8 191.4L295.3 193.2L294.1 195.2L290.5 194.4Z" fill="#249fe5"/>
<path d="M324 192.2L327.6 193.1L326.3 195.3L322.8 194Z" fill="#2e83f9"/>
<path d="M239.2 192.2L242.8 192.4L241.5 195.2L238 194.8Z" fill="#2d8af5"/>
<path d="M271.5 192.5L275 193.4L273.8 195.8L270.2 194.6Z" fill="#2e83f9"/>
<path d="M303.7 192.4L307.3 193.8L306 195.7L302.4 194.5Z" fill="#2e87f7"/>
<path d="M251.2 192.4L254.7 193L253.4 195L249.9 194.6Z" fill="#2d8ef2"/>
<path d="M283.4 192.2L287 193.2L285.7 195.7L282.1 194.9Z" fill="#2798ea"/>
<path d="M315.6 192.6L319.2 193.4L317.9 196.2L314.4 195.3Z" fill="#2d8cf3"/>
<path d="M230.9 192.1L234.4 193.8L233.1 194.8L229.6 193.7Z" fill="#23a1e4"/>
<path d="M263.1 192.4L266.7 193.4L265.4 196.1L261.8 194.6Z" fill="#259be8"/>
<path d="M295.3 193.2L298.9 193.9L297.6 196.8L294.1 195.2Z" fill="#307ffb"/>
<path d="M327.6 193.1L331.1 194.4L329.9 196.9L326.3 195.3Z" fill="#2e86f8"/>
<path d="M242.8 192.4L246.3 193L245.1 196.1L241.5 195.2Z" fill="#20a5e3"/>
<path d="M275 193.4L278.6 194L277.3 196L273.8 195.8Z" fill="#2f82fa"/>
<path d="M307.3 193.8L310.8 194.9L309.5 196.9L306 195.7Z" fill="#3876fe"/>
<path d="M222.5 192.4L226 193.9L224.8 196.4L221.2 194.8Z" fill="#19addc"/>
<path d="M254.7 193L258.3 194.3L257 196.8L253.4 195Z" fill="#259be8"/>
<path d="M287 193.2L290.5 194.4L289.2 196.9L285.7 195.7Z" fill="#2895ec"/>
<path d="M319.2 193.4L322.8 194L321.5 196.8L317.9 196.2Z" fill="#2a93ee"/>
<path d="M234.4 193.8L238 194.8L236.7 196.8L233.1 194.8Z" fill="#2d8af5"/>
<path d="M266.7 193.4L270.2 194.6L268.9 197.5L265.4 196.1Z" fill="#2798ea"/>
<path d="M298.9 193.9L302.4 194.5L301.2 197.9L297.6 196.8Z" fill="#2d88f6"/>
<path d="M331.1 194.4L334.7 194.9L333.4 197.4L329.9 196.9Z" fill="#3579fd"/>
<path d="M246.3 193L249.9 194.6L248.6 197.6L245.1 196.1Z" fill="#19addc"/>
<path d="M278.6 194L282.1 194.9L280.9 197.6L277.3 196Z" fill="#2c8ff1"/>
<path d="M310.8 194.9L314.4 195.3L313.1 197.8L309.5 196.9Z" fill="#416bfe"/>
<path d="M226 193.9L229.6 193.7L228.3 196.6L224.8 196.4Z" fill="#269ae8"/>
<path d="M258.3 194.3L261.8 194.6L260.5 198.1L257 196.8Z" fill="#2d8cf3"/>
<path d="M290.5 194.4L294.1 195.2L292.8 197.8L289.2 196.9Z" fill="#2d8ef2"/>
<path d="M322.8 194L326.3 195.3L325 198L321.5 196.8Z" fill="#259be8"/>
<path d="M238 194.8L241.5 195.2L240.2 198.4L236.7 196.8Z" fill="#2e84f8"/>
<path d="M270.2 194.6L273.8 195.8L272.5 197.8L268.9 197.5Z" fill="#2c8ff1"/>
<path d="M302.4 194.5L306 195.7L304.7 197.9L301.2 197.9Z" fill="#2994ed"/>
<path d="M249.9 194.6L253.4 195L252.2 197.9L248.6 197.6Z" fill="#2798ea"/>
<path d="M282.1 194.9L285.7 195.7L284.4 198.7L280.9 197.6Z" fill="#2c8ff1"/>
<path d="M314.4 195.3L317.9 196.2L316.6 198.9L313.1 197.8Z" fill="#2e84f8"/>
<path d="M229.6 193.7L233.1 194.8L231.8 197.5L228.3 196.6Z" fill="#00b8c9"/>
<path d="M261.8 194.6L265.4 196.1L264.1 199.5L260.5 198.1Z" fill="#21a3e3"/>
<path d="M294.1 195.2L297.6 196.8L296.3 200.1L292.8 197.8Z" fill="#2a93ee"/>
<path d="M326.3 195.3L329.9 196.9L328.6 199.5L325 198Z" fill="#2b91ef"/>
<path d="M241.5 195.2L245.1 196.1L243.8 198.8L240.2 198.4Z" fill="#2798ea"/>
<path d="M273.8 195.8L277.3 196L276 198.1L272.5 197.8Z" fill="#2e86f8"/>
<path d="M306 195.7L309.5 196.9L308.3 199.5L304.7 197.9Z" fill="#2d8bf4"/>
<path d="M221.2 194.8L224.8 196.4L223.5 198.8L219.9 197.4Z" fill="#17aeda"/>
<path d="M253.4 195L257 196.8L255.7 199.5L252.2 197.9Z" fill="#1caadf"/>
<path d="M285.7 195.7L289.2 196.9L288 200.5L284.4 198.7Z" fill="#2994ed"/>
<path d="M317.9 196.2L321.5 196.8L320.2 199.7L316.6 198.9Z" fill="#2e84f8"/>
<path d="M233.1 194.8L236.7 196.8L235.4 198.8L231.8 197.5Z" fill="#04b6ce"/>
<path d="M265.4 196.1L268.9 197.5L267.6 200.1L264.1 199.5Z" fill="#2c8ff1"/>
<path d="M297.6 196.8L301.2 197.9L299.9 200.7L296.3 200.1Z" fill="#3876fe"/>
<path d="M329.9 196.9L333.4 197.4L332.1 200.3L328.6 199.5Z" fill="#3677fe"/>
<path d="M245.1 196.1L248.6 197.6L247.3 200.1L243.8 198.8Z" fill="#2699e9"/>
<path d="M277.3 196L280.9 197.6L279.6 200L276 198.1Z" fill="#249ee6"/>
<path d="M309.5 196.9L313.1 197.8L311.8 199.9L308.3 199.5Z" fill="#2f82fa"/>
<path d="M224.8 196.4L228.3 196.6L227 199.3L223.5 198.8Z" fill="#2798ea"/>
<path d="M257 196.8L260.5 198.1L259.3 201.4L255.7 199.5Z" fill="#2d8bf4"/>
<path d="M289.2 196.9L292.8 197.8L291.5 201.8L288 200.5Z" fill="#2d8bf4"/>
<path d="M321.5 196.8L325 198L323.7 200.5L320.2 199.7Z" fill="#2c90f0"/>
<path d="M236.7 196.8L240.2 198.4L238.9 200.1L235.4 198.8Z" fill="#2994ed"/>
<path d="M268.9 197.5L272.5 197.8L271.2 199.2L267.6 200.1Z" fill="#307ffb"/>
<path d="M301.2 197.9L304.7 197.9L303.4 200.8L299.9 200.7Z" fill="#3c71ff"/>
<path d="M248.6 197.6L252.2 197.9L250.9 201.7L247.3 200.1Z" fill="#2e84f8"/>
<path d="M280.9 197.6L284.4 198.7L283.1 201.5L279.6 200Z" fill="#2e87f7"/>
<path d="M313.1 197.8L316.6 198.9L315.4 200.6L311.8 199.9Z" fill="#2f80fa"/>
<path d="M228.3 196.6L231.8 197.5L230.6 200.2L227 199.3Z" fill="#17aeda"/>
<path d="M260.5 198.1L264.1 199.5L262.8 201.8L259.3 201.4Z" fill="#307ffb"/>
<path d="M292.8 197.8L296.3 200.1L295.1 204L291.5 201.8Z" fill="#2d8cf3"/>
<path d="M325 198L328.6 199.5L327.3 201.2L323.7 200.5Z" fill="#2e86f8"/>
<path d="M240.2 198.4L243.8 198.8L242.5 201.5L238.9 200.1Z" fill="#317dfc"/>
<path d="M272.5 197.8L276 198.1L274.7 199.6L271.2 199.2Z" fill="#2797eb"/>
<path d="M304.7 197.9L308.3 199.5L307 201.7L303.4 200.8Z" fill="#2895ec"/>
<path d="M219.9 197.4L223.5 198.8L222.2 200.9L218.6 200.5Z" fill="#1caadf"/>
<path d="M252.2 197.9L255.7 199.5L254.4 202.7L250.9 201.7Z" fill="#259be8"/>
<path d="M284.4 198.7L288 200.5L286.7 203.4L283.1 201.5Z" fill="#2f82fa"/>
<path d="M316.6 198.9L320.2 199.7L318.9 201.9L315.4 200.6Z" fill="#337afd"/>
<path d="M231.8 197.5L235.4 198.8L234.1 200.7L230.6 200.2Z" fill="#16afd9"/>
<path d="M264.1 199.5L267.6 200.1L266.4 200.9L262.8 201.8Z" fill="#406dfe"/>
<path d="M296.3 200.1L299.9 200.7L298.6 203.7L295.1 204Z" fill="#4757f7"/>
<path d="M328.6 199.5L332.1 200.3L330.8 202L327.3 201.2Z" fill="#3e70ff"/>
<path d="M243.8 198.8L247.3 200.1L246 203.2L242.5 201.5Z" fill="#2b91ef"/>
<path d="M276 198.1L279.6 200L278.3 201.4L274.7 199.6Z" fill="#1da9e0"/>
<path d="M308.3 199.5L311.8 199.9L310.5 202.1L307 201.7Z" fill="#317dfc"/>
<path d="M223.5 198.8L227 199.3L225.7 201.5L222.2 200.9Z" fill="#269ae8"/>
<path d="M255.7 199.5L259.3 201.4L258 203.8L254.4 202.7Z" fill="#2e84f8"/>
<path d="M288 200.5L291.5 201.8L290.2 204.5L286.7 203.4Z" fill="#475dfa"/>
<path d="M320.2 199.7L323.7 200.5L322.5 203.2L318.9 201.9Z" fill="#2f82fa"/>
<path d="M235.4 198.8L238.9 200.1L237.7 201.5L234.1 200.7Z" fill="#1fa6e2"/>
<path d="M267.6 200.1L271.2 199.2L269.9 200.6L266.4 200.9Z" fill="#337afd"/>
<path d="M299.9 200.7L303.4 200.8L302.2 203.3L298.6 203.7Z" fill="#4661fc"/>
<path d="M247.3 200.1L250.9 201.7L249.6 204.2L246 203.2Z" fill="#2e84f8"/>
<path d="M279.6 200L283.1 201.5L281.8 203.4L278.3 201.4Z" fill="#2d8bf4"/>
<path d="M311.8 199.9L315.4 200.6L314.1 203.5L310.5 202.1Z" fill="#2c90f0"/>
<path d="M227 199.3L230.6 200.2L229.3 202.5L225.7 201.5Z" fill="#1da8e1"/>
<path d="M259.3 201.4L262.8 201.8L261.5 203.9L258 203.8Z" fill="#475dfa"/>
<path d="M291.5 201.8L295.1 204L293.8 206L290.2 204.5Z" fill="#484ef1"/>
<path d="M323.7 200.5L327.3 201.2L326 203.6L322.5 203.2Z" fill="#2e84f8"/>
<path d="M238.9 200.1L242.5 201.5L241.2 203.2L237.7 201.5Z" fill="#269ae8"/>
<path d="M271.2 199.2L274.7 199.6L273.5 201.6L269.9 200.6Z" fill="#08b4d1"/>
<path d="M303.4 200.8L307 201.7L305.7 203.8L302.2 203.3Z" fill="#2e83f9"/>
<path d="M218.6 200.5L222.2 200.9L220.9 203L217.4 202.4Z" fill="#2895ec"/>
<path d="M250.9 201.7L254.4 202.7L253.1 204.5L249.6 204.2Z" fill="#426afe"/>
<path d="M283.1 201.5L286.7 203.4L285.4 204.7L281.8 203.4Z" fill="#3974ff"/>
<path d="M315.4 200.6L318.9 201.9L317.6 204.4L314.1 203.5Z" fill="#2797eb"/>
<path d="M230.6 200.2L234.1 200.7L232.8 203.4L229.3 202.5Z" fill="#1da9e0"/>
<path d="M262.8 201.8L266.4 200.9L265.1 203.2L261.5 203.9Z" fill="#3b73ff"/>
<path d="M295.1 204L298.6 203.7L297.3 206.5L293.8 206Z" fill="#3e26a8"/>
<path d="M327.3 201.2L330.8 202L329.6 205.2L326 203.6Z" fill="#2c8ff1"/>
<path d="M242.5 201.5L246 203.2L244.8 204.6L241.2 203.2Z" fill="#2d8af5"/>
<path d="M274.7 199.6L278.3 201.4L277 203.4L273.5 201.6Z" fill="#1ac0b5"/>
<path d="M307 201.7L310.5 202.1L309.2 204.4L305.7 203.8Z" fill="#2e86f8"/>
<path d="M222.2 200.9L225.7 201.5L224.5 203.9L220.9 203Z" fill="#1fa6e2"/>
<path d="M254.4 202.7L258 203.8L256.7 205L253.1 204.5Z" fill="#4564fd"/>
<path d="M286.7 203.4L290.2 204.5L288.9 206.8L285.4 204.7Z" fill="#484bee"/>
<path d="M318.9 201.9L322.5 203.2L321.2 205.1L317.6 204.4Z" fill="#2d8af5"/>
<path d="M234.1 200.7L237.7 201.5L236.4 204.1L232.8 203.4Z" fill="#08b4d1"/>
<path d="M266.4 200.9L269.9 200.6L268.6 202.9L265.1 203.2Z" fill="#12b1d6"/>
<path d="M298.6 203.7L302.2 203.3L300.9 206.4L297.3 206.5Z" fill="#484ef1"/>
<path d="M246 203.2L249.6 204.2L248.3 205.4L244.8 204.6Z" fill="#4368fe"/>
<path d="M278.3 201.4L281.8 203.4L280.6 206L277 203.4Z" fill="#1aacdd"/>
<path d="M310.5 202.1L314.1 203.5L312.8 206L309.2 204.4Z" fill="#2699e9"/>
<path d="M225.7 201.5L229.3 202.5L228 204.9L224.5 203.9Z" fill="#16afd9"/>
<path d="M258 203.8L261.5 203.9L260.2 205.9L256.7 205Z" fill="#4660fb"/>
<path d="M290.2 204.5L293.8 206L292.5 207.6L288.9 206.8Z" fill="#4746eb"/>
<path d="M322.5 203.2L326 203.6L324.7 206L321.2 205.1Z" fill="#327cfc"/>
<path d="M237.7 201.5L241.2 203.2L239.9 204.6L236.4 204.1Z" fill="#02b7cc"/>
<path d="M269.9 200.6L273.5 201.6L272.2 204.3L268.6 202.9Z" fill="#36c899"/>
<path d="M302.2 203.3L305.7 203.8L304.4 206.3L300.9 206.4Z" fill="#2e83f9"/>
<path d="M217.4 202.4L220.9 203L219.6 206.2L216.1 205.5Z" fill="#1ea7e1"/>
<path d="M249.6 204.2L253.1 204.5L251.9 205.2L248.3 205.4Z" fill="#4465fd"/>
<path d="M281.8 203.4L285.4 204.7L284.1 207L280.6 206Z" fill="#2d8bf4"/>
<path d="M314.1 203.5L317.6 204.4L316.4 207.1L312.8 206Z" fill="#2e87f7"/>
<path d="M229.3 202.5L232.8 203.4L231.6 205.6L228 204.9Z" fill="#1aacdd"/>
<path d="M261.5 203.9L265.1 203.2L263.8 206.6L260.2 205.9Z" fill="#2f80fa"/>
<path d="M293.8 206L297.3 206.5L296 207.7L292.5 207.6Z" fill="#4330c5"/>
<path d="M326 203.6L329.6 205.2L328.3 207.4L324.7 206Z" fill="#2c8ff1"/>
<path d="M241.2 203.2L244.8 204.6L243.5 205.3L239.9 204.6Z" fill="#22a2e4"/>
<path d="M273.5 201.6L277 203.4L275.7 206.4L272.2 204.3Z" fill="#2fc5a3"/>
<path d="M305.7 203.8L309.2 204.4L308 206.8L304.4 206.3Z" fill="#2994ed"/>
<path d="M220.9 203L224.5 203.9L223.2 206.1L219.6 206.2Z" fill="#14b0d8"/>
<path d="M253.1 204.5L256.7 205L255.4 205.9L251.9 205.2Z" fill="#307ffb"/>
<path d="M285.4 204.7L288.9 206.8L287.7 208.4L284.1 207Z" fill="#3579fd"/>
<path d="M317.6 204.4L321.2 205.1L319.9 207.8L316.4 207.1Z" fill="#2d8af5"/>
<path d="M232.8 203.4L236.4 204.1L235.1 206.5L231.6 205.6Z" fill="#14b0d8"/>
<path d="M265.1 203.2L268.6 202.9L267.4 207.1L263.8 206.6Z" fill="#06b5cf"/>
<path d="M297.3 206.5L300.9 206.4L299.6 207.9L296 207.7Z" fill="#4741e5"/>
<path d="M244.8 204.6L248.3 205.4L247 207L243.5 205.3Z" fill="#2b91ef"/>
<path d="M277 203.4L280.6 206L279.3 208.6L275.7 206.4Z" fill="#01b7ca"/>
<path d="M309.2 204.4L312.8 206L311.5 208.2L308 206.8Z" fill="#249fe5"/>
<path d="M224.5 203.9L228 204.9L226.7 206.4L223.2 206.1Z" fill="#14b0d8"/>
<path d="M256.7 205L260.2 205.9L259 207.4L255.4 205.9Z" fill="#2c8ff1"/>
<path d="M288.9 206.8L292.5 207.6L291.2 208.6L287.7 208.4Z" fill="#484ef1"/>
<path d="M321.2 205.1L324.7 206L323.5 208.4L319.9 207.8Z" fill="#2c90f0"/>
<path d="M236.4 204.1L239.9 204.6L238.7 206.9L235.1 206.5Z" fill="#0bb3d2"/>
<path d="M268.6 202.9L272.2 204.3L270.9 207.8L267.4 207.1Z" fill="#39c994"/>
<path d="M300.9 206.4L304.4 206.3L303.1 208.1L299.6 207.9Z" fill="#4368fe"/>
<path d="M216.1 205.5L219.6 206.2L218.4 208.6L214.8 208Z" fill="#2a93ee"/>
<path d="M248.3 205.4L251.9 205.2L250.6 206.6L247 207Z" fill="#2797eb"/>
<path d="M280.6 206L284.1 207L282.8 209.4L279.3 208.6Z" fill="#2e83f9"/>
<path d="M312.8 206L316.4 207.1L315.1 209.2L311.5 208.2Z" fill="#2e86f8"/>
<path d="M228 204.9L231.6 205.6L230.3 207.6L226.7 206.4Z" fill="#16afd9"/>
<path d="M260.2 205.9L263.8 206.6L262.5 209.2L259 207.4Z" fill="#2a93ee"/>
<path d="M292.5 207.6L296 207.7L294.8 208.9L291.2 208.6Z" fill="#4850f3"/>
<path d="M324.7 206L328.3 207.4L327 208.9L323.5 208.4Z" fill="#2b91ef"/>
<path d="M239.9 204.6L243.5 205.3L242.2 207.8L238.7 206.9Z" fill="#09bdbd"/>
<path d="M272.2 204.3L275.7 206.4L274.4 209.9L270.9 207.8Z" fill="#25c2ae"/>
<path d="M304.4 206.3L308 206.8L306.7 209.2L303.1 208.1Z" fill="#2a93ee"/>
<path d="M219.6 206.2L223.2 206.1L221.9 208.5L218.4 208.6Z" fill="#2699e9"/>
<path d="M251.9 205.2L255.4 205.9L254.1 206.9L250.6 206.6Z" fill="#02b7cc"/>
<path d="M284.1 207L287.7 208.4L286.4 209.3L282.8 209.4Z" fill="#2f82fa"/>
<path d="M316.4 207.1L319.9 207.8L318.6 210.3L315.1 209.2Z" fill="#307ffb"/>
<path d="M231.6 205.6L235.1 206.5L233.8 209L230.3 207.6Z" fill="#06b5cf"/>
<path d="M263.8 206.6L267.4 207.1L266.1 211.2L262.5 209.2Z" fill="#2699e9"/>
<path d="M296 207.7L299.6 207.9L298.3 209.3L294.8 208.9Z" fill="#3e70ff"/>
<path d="M243.5 205.3L247 207L245.8 209.4L242.2 207.8Z" fill="#1dc0b3"/>
<path d="M275.7 206.4L279.3 208.6L278 210.9L274.4 209.9Z" fill="#1babde"/>
<path d="M308 206.8L311.5 208.2L310.2 210.8L306.7 209.2Z" fill="#23a1e4"/>
<path d="M223.2 206.1L226.7 206.4L225.5 208.5L221.9 208.5Z" fill="#01b7ca"/>
<path d="M255.4 205.9L259 207.4L257.7 208.1L254.1 206.9Z" fill="#06bcbf"/>
<path d="M287.7 208.4L291.2 208.6L289.9 209.9L286.4 209.3Z" fill="#3e70ff"/>
<path d="M319.9 207.8L323.5 208.4L322.2 211.6L318.6 210.3Z" fill="#2d8af5"/>
<path d="M235.1 206.5L238.7 206.9L237.4 209.2L233.8 209Z" fill="#02b7cc"/>
<path d="M267.4 207.1L270.9 207.8L269.6 211.9L266.1 211.2Z" fill="#1ea7e1"/>
<path d="M299.6 207.9L303.1 208.1L301.9 210.5L298.3 209.3Z" fill="#2d8ef2"/>
<path d="M214.8 208L218.4 208.6L217.1 210.8L213.5 210.4Z" fill="#2c8ff1"/>
<path d="M247 207L250.6 206.6L249.3 208.9L245.8 209.4Z" fill="#12b1d6"/>
<path d="M279.3 208.6L282.8 209.4L281.6 211.1L278 210.9Z" fill="#307ffb"/>
<path d="M311.5 208.2L315.1 209.2L313.8 211.6L310.2 210.8Z" fill="#2c90f0"/>
<path d="M226.7 206.4L230.3 207.6L229 209.3L225.5 208.5Z" fill="#23c1af"/>
<path d="M259 207.4L262.5 209.2L261.2 210.3L257.7 208.1Z" fill="#12b1d6"/>
<path d="M291.2 208.6L294.8 208.9L293.5 211.1L289.9 209.9Z" fill="#2d8af5"/>
<path d="M323.5 208.4L327 208.9L325.7 211.7L322.2 211.6Z" fill="#2994ed"/>
<path d="M238.7 206.9L242.2 207.8L240.9 209.9L237.4 209.2Z" fill="#1ac0b5"/>
<path d="M270.9 207.8L274.4 209.9L273.2 212.9L269.6 211.9Z" fill="#17aeda"/>
<path d="M303.1 208.1L306.7 209.2L305.4 212.2L301.9 210.5Z" fill="#1da8e1"/>
<path d="M218.4 208.6L221.9 208.5L220.6 211.2L217.1 210.8Z" fill="#259ce7"/>
<path d="M250.6 206.6L254.1 206.9L252.9 209.4L249.3 208.9Z" fill="#39c994"/>
<path d="M282.8 209.4L286.4 209.3L285.1 210.4L281.6 211.1Z" fill="#2e86f8"/>
<path d="M315.1 209.2L318.6 210.3L317.3 211.7L313.8 211.6Z" fill="#2d8cf3"/>
<path d="M230.3 207.6L233.8 209L232.6 210.8L229 209.3Z" fill="#10beba"/>
<path d="M262.5 209.2L266.1 211.2L264.8 212.7L261.2 210.3Z" fill="#2895ec"/>
<path d="M294.8 208.9L298.3 209.3L297 212L293.5 211.1Z" fill="#23a1e4"/>
<path d="M242.2 207.8L245.8 209.4L244.5 211.8L240.9 209.9Z" fill="#1dc0b3"/>
<path d="M274.4 209.9L278 210.9L276.7 212.6L273.2 212.9Z" fill="#2e86f8"/>
<path d="M306.7 209.2L310.2 210.8L309 213.1L305.4 212.2Z" fill="#23a0e5"/>
<path d="M221.9 208.5L225.5 208.5L224.2 211.8L220.6 211.2Z" fill="#00b8c9"/>
<path d="M254.1 206.9L257.7 208.1L256.4 210.6L252.9 209.4Z" fill="#6ecd66"/>
<path d="M286.4 209.3L289.9 209.9L288.6 211.5L285.1 210.4Z" fill="#1fa6e2"/>
<path d="M318.6 210.3L322.2 211.6L320.9 213.6L317.3 211.7Z" fill="#2e86f8"/>
<path d="M233.8 209L237.4 209.2L236.1 211.7L232.6 210.8Z" fill="#06b5cf"/>
<path d="M266.1 211.2L269.6 211.9L268.3 214.6L264.8 212.7Z" fill="#416bfe"/>
<path d="M298.3 209.3L301.9 210.5L300.6 212.5L297 212Z" fill="#14b0d8"/>
<path d="M213.5 210.4L217.1 210.8L215.8 212.9L212.2 212.4Z" fill="#2a93ee"/>
<path d="M245.8 209.4L249.3 208.9L248 211.8L244.5 211.8Z" fill="#0bb3d2"/>
<path d="M278 210.9L281.6 211.1L280.3 212.3L276.7 212.6Z" fill="#2e86f8"/>
<path d="M310.2 210.8L313.8 211.6L312.5 214.2L309 213.1Z" fill="#2d8af5"/>
<path d="M225.5 208.5L229 209.3L227.7 211.8L224.2 211.8Z" fill="#33c79d"/>
<path d="M257.7 208.1L261.2 210.3L260 212.8L256.4 210.6Z" fill="#51cc7f"/>
<path d="M289.9 209.9L293.5 211.1L292.2 212.7L288.6 211.5Z" fill="#12b1d6"/>
<path d="M322.2 211.6L325.7 211.7L324.4 214.7L320.9 213.6Z" fill="#3579fd"/>
<path d="M237.4 209.2L240.9 209.9L239.7 212.5L236.1 211.7Z" fill="#27c2ac"/>
<path d="M269.6 211.9L273.2 212.9L271.9 215.2L268.3 214.6Z" fill="#3876fe"/>
<path d="M301.9 210.5L305.4 212.2L304.1 214.1L300.6 212.5Z" fill="#1da8e1"/>
<path d="M217.1 210.8L220.6 211.2L219.3 212.7L215.8 212.9Z" fill="#1fa6e2"/>
<path d="M249.3 208.9L252.9 209.4L251.6 212.9L248 211.8Z" fill="#45cb89"/>
<path d="M281.6 211.1L285.1 210.4L283.8 212.4L280.3 212.3Z" fill="#249ee6"/>
<path d="M313.8 211.6L317.3 211.7L316.1 214.9L312.5 214.2Z" fill="#2c90f0"/>
<path d="M229 209.3L232.6 210.8L231.3 212.9L227.7 211.8Z" fill="#3dca90"/>
<path d="M261.2 210.3L264.8 212.7L263.5 215.2L260 212.8Z" fill="#02bbc2"/>
<path d="M293.5 211.1L297 212L295.8 213.1L292.2 212.7Z" fill="#1da8e1"/>
<path d="M240.9 209.9L244.5 211.8L243.2 213.6L239.7 212.5Z" fill="#2fc5a3"/>
<path d="M273.2 212.9L276.7 212.6L275.4 215L271.9 215.2Z" fill="#3974ff"/>
<path d="M305.4 212.2L309 213.1L307.7 214.6L304.1 214.1Z" fill="#2c8ff1"/>
<path d="M220.6 211.2L224.2 211.8L222.9 213.5L219.3 212.7Z" fill="#10b2d5"/>
<path d="M252.9 209.4L256.4 210.6L255.1 215L251.6 212.9Z" fill="#67cd6c"/>
<path d="M285.1 210.4L288.6 211.5L287.4 213.9L283.8 212.4Z" fill="#2bc3a8"/>
<path d="M317.3 211.7L320.9 213.6L319.6 215.9L316.1 214.9Z" fill="#1caadf"/>
<path d="M232.6 210.8L236.1 211.7L234.8 214.7L231.3 212.9Z" fill="#23c1af"/>
<path d="M264.8 212.7L268.3 214.6L267.1 215.7L263.5 215.2Z" fill="#2a93ee"/>
<path d="M297 212L300.6 212.5L299.3 213.9L295.8 213.1Z" fill="#1da9e0"/>
<path d="M212.2 212.4L215.8 212.9L214.5 215L211 214.1Z" fill="#22a2e4"/>
<path d="M244.5 211.8L248 211.8L246.8 214.6L243.2 213.6Z" fill="#08b4d1"/>
<path d="M276.7 212.6L280.3 212.3L279 214.5L275.4 215Z" fill="#23a1e4"/>
<path d="M309 213.1L312.5 214.2L311.2 215.6L307.7 214.6Z" fill="#2c90f0"/>
<path d="M224.2 211.8L227.7 211.8L226.4 213.9L222.9 213.5Z" fill="#00bac6"/>
<path d="M256.4 210.6L260 212.8L258.7 216.6L255.1 215Z" fill="#54cc7c"/>
<path d="M288.6 211.5L292.2 212.7L290.9 215.7L287.4 213.9Z" fill="#23c1af"/>
<path d="M320.9 213.6L324.4 214.7L323.2 216.7L319.6 215.9Z" fill="#2d8af5"/>
<path d="M236.1 211.7L239.7 212.5L238.4 215.4L234.8 214.7Z" fill="#25c2ae"/>
<path d="M268.3 214.6L271.9 215.2L270.6 217L267.1 215.7Z" fill="#4368fe"/>
<path d="M300.6 212.5L304.1 214.1L302.8 215.6L299.3 213.9Z" fill="#04b6ce"/>
<path d="M215.8 212.9L219.3 212.7L218.1 215.3L214.5 215Z" fill="#17aeda"/>
<path d="M248 211.8L251.6 212.9L250.3 216.9L246.8 214.6Z" fill="#2fc5a3"/>
<path d="M280.3 212.3L283.8 212.4L282.5 214.9L279 214.5Z" fill="#0dbdbc"/>
<path d="M312.5 214.2L316.1 214.9L314.8 217.2L311.2 215.6Z" fill="#2d8bf4"/>
<path d="M227.7 211.8L231.3 212.9L230 215.2L226.4 213.9Z" fill="#39c994"/>
<path d="M260 212.8L263.5 215.2L262.2 217.6L258.7 216.6Z" fill="#00bac6"/>
<path d="M292.2 212.7L295.8 213.1L294.5 215.9L290.9 215.7Z" fill="#09bdbd"/>
<path d="M239.7 212.5L243.2 213.6L241.9 215.9L238.4 215.4Z" fill="#2bc3a8"/>
<path d="M271.9 215.2L275.4 215L274.2 217.5L270.6 217Z" fill="#3677fe"/>
<path d="M304.1 214.1L307.7 214.6L306.4 216.8L302.8 215.6Z" fill="#21a3e3"/>
<path d="M219.3 212.7L222.9 213.5L221.6 216.2L218.1 215.3Z" fill="#2ec4a5"/>
<path d="M251.6 212.9L255.1 215L253.9 220.1L250.3 216.9Z" fill="#27c2ac"/>
<path d="M283.8 212.4L287.4 213.9L286.1 216.4L282.5 214.9Z" fill="#42ca8b"/>
<path d="M316.1 214.9L319.6 215.9L318.3 218.9L314.8 217.2Z" fill="#2a93ee"/>
<path d="M231.3 212.9L234.8 214.7L233.5 216.5L230 215.2Z" fill="#33c79d"/>
<path d="M263.5 215.2L267.1 215.7L265.8 216.2L262.2 217.6Z" fill="#2c90f0"/>
<path d="M295.8 213.1L299.3 213.9L298 217.3L294.5 215.9Z" fill="#2fc5a3"/>
<path d="M211 214.1L214.5 215L213.2 217.6L209.7 217.2Z" fill="#01b7ca"/>
<path d="M243.2 213.6L246.8 214.6L245.5 217L241.9 215.9Z" fill="#1ac0b5"/>
<path d="M275.4 215L279 214.5L277.7 217.6L274.2 217.5Z" fill="#23a1e4"/>
<path d="M307.7 214.6L311.2 215.6L309.9 218.5L306.4 216.8Z" fill="#16afd9"/>
<path d="M222.9 213.5L226.4 213.9L225.2 216.8L221.6 216.2Z" fill="#32c69f"/>
<path d="M255.1 215L258.7 216.6L257.4 221L253.9 220.1Z" fill="#1da9e0"/>
<path d="M287.4 213.9L290.9 215.7L289.6 217.8L286.1 216.4Z" fill="#23c1af"/>
<path d="M319.6 215.9L323.2 216.7L321.9 220.2L318.3 218.9Z" fill="#2c8ff1"/>
<path d="M234.8 214.7L238.4 215.4L237.1 217L233.5 216.5Z" fill="#00b8c9"/>
<path d="M267.1 215.7L270.6 217L269.3 217.8L265.8 216.2Z" fill="#249fe5"/>
<path d="M299.3 213.9L302.8 215.6L301.6 218.3L298 217.3Z" fill="#35c79b"/>
<path d="M214.5 215L218.1 215.3L216.8 218.3L213.2 217.6Z" fill="#02b7cc"/>
<path d="M246.8 214.6L250.3 216.9L249 219.4L245.5 217Z" fill="#1dc0b3"/>
<path d="M279 214.5L282.5 214.9L281.3 218.5L277.7 217.6Z" fill="#27c2ac"/>
<path d="M311.2 215.6L314.8 217.2L313.5 219.6L309.9 218.5Z" fill="#17aeda"/>
<path d="M226.4 213.9L230 215.2L228.7 218.1L225.2 216.8Z" fill="#57cc7a"/>
<path d="M258.7 216.6L262.2 217.6L260.9 219.4L257.4 221Z" fill="#2994ed"/>
<path d="M290.9 215.7L294.5 215.9L293.2 218.4L289.6 217.8Z" fill="#0eb3d4"/>
<path d="M238.4 215.4L241.9 215.9L240.6 217.8L237.1 217Z" fill="#04bbc1"/>
<path d="M270.6 217L274.2 217.5L272.9 220.2L269.3 217.8Z" fill="#2b91ef"/>
<path d="M302.8 215.6L306.4 216.8L305.1 219.5L301.6 218.3Z" fill="#02bbc2"/>
<path d="M218.1 215.3L221.6 216.2L220.3 219L216.8 218.3Z" fill="#23c1af"/>
<path d="M250.3 216.9L253.9 220.1L252.6 222.3L249 219.4Z" fill="#23a0e5"/>
<path d="M282.5 214.9L286.1 216.4L284.8 219.8L281.3 218.5Z" fill="#3dca90"/>
<path d="M314.8 217.2L318.3 218.9L317.1 220.9L313.5 219.6Z" fill="#2798ea"/>
<path d="M230 215.2L233.5 216.5L232.3 218.8L228.7 218.1Z" fill="#38c896"/>
<path d="M262.2 217.6L265.8 216.2L264.5 217.9L260.9 219.4Z" fill="#2a93ee"/>
<path d="M294.5 215.9L298 217.3L296.7 220.7L293.2 218.4Z" fill="#1ac0b5"/>
<path d="M209.7 217.2L213.2 217.6L212 221L208.4 219.9Z" fill="#1ea7e1"/>
<path d="M241.9 215.9L245.5 217L244.2 219.4L240.6 217.8Z" fill="#2bc3a8"/>
<path d="M274.2 217.5L277.7 217.6L276.4 221.9L272.9 220.2Z" fill="#23a0e5"/>
<path d="M306.4 216.8L309.9 218.5L308.7 220.7L305.1 219.5Z" fill="#06b5cf"/>
<path d="M221.6 216.2L225.2 216.8L223.9 220L220.3 219Z" fill="#27c2ac"/>
<path d="M253.9 220.1L257.4 221L256.1 223.2L252.6 222.3Z" fill="#4746eb"/>
<path d="M286.1 216.4L289.6 217.8L288.4 221.5L284.8 219.8Z" fill="#20c1b1"/>
<path d="M318.3 218.9L321.9 220.2L320.6 222.6L317.1 220.9Z" fill="#327cfc"/>
<path d="M233.5 216.5L237.1 217L235.8 219.9L232.3 218.8Z" fill="#2bc3a8"/>
<path d="M265.8 216.2L269.3 217.8L268.1 219.4L264.5 217.9Z" fill="#36c899"/>
<path d="M298 217.3L301.6 218.3L300.3 221.2L296.7 220.7Z" fill="#02b7cc"/>
<path d="M213.2 217.6L216.8 218.3L215.5 221.8L212 221Z" fill="#08b4d1"/>
<path d="M245.5 217L249 219.4L247.7 221.3L244.2 219.4Z" fill="#1dc0b3"/>
<path d="M277.7 217.6L281.3 218.5L280 223.4L276.4 221.9Z" fill="#04b6ce"/>
<path d="M309.9 218.5L313.5 219.6L312.2 222L308.7 220.7Z" fill="#23a0e5"/>
<path d="M225.2 216.8L228.7 218.1L227.4 221L223.9 220Z" fill="#33c79d"/>
<path d="M257.4 221L260.9 219.4L259.7 220.4L256.1 223.2Z" fill="#4849ed"/>
<path d="M289.6 217.8L293.2 218.4L291.9 221.8L288.4 221.5Z" fill="#00b8c9"/>
<path d="M237.1 217L240.6 217.8L239.4 221L235.8 219.9Z" fill="#3bc992"/>
<path d="M269.3 217.8L272.9 220.2L271.6 222.3L268.1 219.4Z" fill="#10beba"/>
<path d="M301.6 218.3L305.1 219.5L303.8 222.1L300.3 221.2Z" fill="#04b6ce"/>
<path d="M216.8 218.3L220.3 219L219.1 222.2L215.5 221.8Z" fill="#00bac6"/>
<path d="M249 219.4L252.6 222.3L251.3 222.6L247.7 221.3Z" fill="#259be8"/>
<path d="M281.3 218.5L284.8 219.8L283.5 224.5L280 223.4Z" fill="#00b8c9"/>
<path d="M313.5 219.6L317.1 220.9L315.8 223.1L312.2 222Z" fill="#269ae8"/>
<path d="M228.7 218.1L232.3 218.8L231 221.6L227.4 221Z" fill="#23c1af"/>
<path d="M260.9 219.4L264.5 217.9L263.2 220.1L259.7 220.4Z" fill="#1da9e0"/>
<path d="M293.2 218.4L296.7 220.7L295.5 223.2L291.9 221.8Z" fill="#17bfb6"/>
<path d="M208.4 219.9L212 221L210.7 223.7L207.1 222.5Z" fill="#249fe5"/>
<path d="M240.6 217.8L244.2 219.4L242.9 222.2L239.4 221Z" fill="#42ca8b"/>
<path d="M272.9 220.2L276.4 221.9L275.2 224.4L271.6 222.3Z" fill="#2798ea"/>
<path d="M305.1 219.5L308.7 220.7L307.4 223.3L303.8 222.1Z" fill="#14b0d8"/>
<path d="M220.3 219L223.9 220L222.6 222.5L219.1 222.2Z" fill="#10beba"/>
<path d="M252.6 222.3L256.1 223.2L254.8 223.9L251.3 222.6Z" fill="#484ff2"/>
<path d="M284.8 219.8L288.4 221.5L287.1 224.9L283.5 224.5Z" fill="#17aeda"/>
<path d="M317.1 220.9L320.6 222.6L319.3 224.2L315.8 223.1Z" fill="#2d8ef2"/>
<path d="M232.3 218.8L235.8 219.9L234.5 222.4L231 221.6Z" fill="#31c5a1"/>
<path d="M264.5 217.9L268.1 219.4L266.8 221.4L263.2 220.1Z" fill="#79cc5e"/>
<path d="M296.7 220.7L300.3 221.2L299 224L295.5 223.2Z" fill="#249ee6"/>
<path d="M212 221L215.5 221.8L214.2 223.8L210.7 223.7Z" fill="#269ae8"/>
<path d="M244.2 219.4L247.7 221.3L246.5 223.6L242.9 222.2Z" fill="#20c1b1"/>
<path d="M276.4 221.9L280 223.4L278.7 226.3L275.2 224.4Z" fill="#317dfc"/>
<path d="M308.7 220.7L312.2 222L310.9 224.9L307.4 223.3Z" fill="#1da9e0"/>
<path d="M223.9 220L227.4 221L226.2 223.1L222.6 222.5Z" fill="#06bcbf"/>
<path d="M256.1 223.2L259.7 220.4L258.4 223.5L254.8 223.9Z" fill="#4852f4"/>
<path d="M288.4 221.5L291.9 221.8L290.6 224.5L287.1 224.9Z" fill="#2797eb"/>
<path d="M235.8 219.9L239.4 221L238.1 223.7L234.5 222.4Z" fill="#2bc3a8"/>
<path d="M268.1 219.4L271.6 222.3L270.3 223.9L266.8 221.4Z" fill="#42ca8b"/>
<path d="M300.3 221.2L303.8 222.1L302.6 225.1L299 224Z" fill="#1aacdd"/>
<path d="M215.5 221.8L219.1 222.2L217.8 224.7L214.2 223.8Z" fill="#259ce7"/>
<path d="M247.7 221.3L251.3 222.6L250 224.9L246.5 223.6Z" fill="#17aeda"/>
<path d="M280 223.4L283.5 224.5L282.2 227L278.7 226.3Z" fill="#4465fd"/>
<path d="M312.2 222L315.8 223.1L314.5 226.2L310.9 224.9Z" fill="#259ce7"/>
<path d="M227.4 221L231 221.6L229.7 224L226.2 223.1Z" fill="#01bac4"/>
<path d="M259.7 220.4L263.2 220.1L261.9 224.7L258.4 223.5Z" fill="#2fc5a3"/>
<path d="M291.9 221.8L295.5 223.2L294.2 225.8L290.6 224.5Z" fill="#1caadf"/>
<path d="M207.1 222.5L210.7 223.7L209.4 225.9L205.8 225.7Z" fill="#2699e9"/>
<path d="M239.4 221L242.9 222.2L241.6 224.8L238.1 223.7Z" fill="#1dc0b3"/>
<path d="M271.6 222.3L275.2 224.4L273.9 226.4L270.3 223.9Z" fill="#21a3e3"/>
<path d="M303.8 222.1L307.4 223.3L306.1 226.2L302.6 225.1Z" fill="#1aacdd"/>
<path d="M219.1 222.2L222.6 222.5L221.3 225.3L217.8 224.7Z" fill="#1aacdd"/>
<path d="M251.3 222.6L254.8 223.9L253.6 225.8L250 224.9Z" fill="#22a2e4"/>
<path d="M283.5 224.5L287.1 224.9L285.8 226.8L282.2 227Z" fill="#475bfa"/>
<path d="M315.8 223.1L319.3 224.2L318 227.2L314.5 226.2Z" fill="#2895ec"/>
<path d="M231 221.6L234.5 222.4L233.2 225.5L229.7 224Z" fill="#20c1b1"/>
<path d="M263.2 220.1L266.8 221.4L265.5 225.9L261.9 224.7Z" fill="#8fcb4e"/>
<path d="M295.5 223.2L299 224L297.7 227.1L294.2 225.8Z" fill="#259be8"/>
<path d="M210.7 223.7L214.2 223.8L212.9 226L209.4 225.9Z" fill="#2c8ff1"/>
<path d="M242.9 222.2L246.5 223.6L245.2 226.1L241.6 224.8Z" fill="#09bdbd"/>
<path d="M275.2 224.4L278.7 226.3L277.4 228.2L273.9 226.4Z" fill="#337afd"/>
<path d="M307.4 223.3L310.9 224.9L309.7 227.4L306.1 226.2Z" fill="#21a3e3"/>
<path d="M222.6 222.5L226.2 223.1L224.9 225.8L221.3 225.3Z" fill="#02bbc2"/>
<path d="M254.8 223.9L258.4 223.5L257.1 226.5L253.6 225.8Z" fill="#2797eb"/>
<path d="M287.1 224.9L290.6 224.5L289.4 227.9L285.8 226.8Z" fill="#3c71ff"/>
<path d="M234.5 222.4L238.1 223.7L236.8 226.9L233.2 225.5Z" fill="#29c3aa"/>
<path d="M266.8 221.4L270.3 223.9L269 227.4L265.5 225.9Z" fill="#67cd6c"/>
<path d="M299 224L302.6 225.1L301.3 228.4L297.7 227.1Z" fill="#22a2e4"/>
<path d="M214.2 223.8L217.8 224.7L216.5 227.3L212.9 226Z" fill="#1caadf"/>
<path d="M246.5 223.6L250 224.9L248.7 227.4L245.2 226.1Z" fill="#0eb3d4"/>
<path d="M278.7 226.3L282.2 227L281 229L277.4 228.2Z" fill="#4853f5"/>
<path d="M310.9 224.9L314.5 226.2L313.2 228.1L309.7 227.4Z" fill="#2d8bf4"/>
<path d="M226.2 223.1L229.7 224L228.4 226.7L224.9 225.8Z" fill="#20c1b1"/>
<path d="M258.4 223.5L261.9 224.7L260.7 228.4L257.1 226.5Z" fill="#06bcbf"/>
<path d="M290.6 224.5L294.2 225.8L292.9 229L289.4 227.9Z" fill="#21a3e3"/>
<path d="M205.8 225.7L209.4 225.9L208.1 228L204.6 228Z" fill="#2f80fa"/>
<path d="M238.1 223.7L241.6 224.8L240.3 227.7L236.8 226.9Z" fill="#06bcbf"/>
<path d="M270.3 223.9L273.9 226.4L272.6 229.1L269 227.4Z" fill="#02bbc2"/>
<path d="M302.6 225.1L306.1 226.2L304.8 229.2L301.3 228.4Z" fill="#259be8"/>
<path d="M217.8 224.7L221.3 225.3L220 228.6L216.5 227.3Z" fill="#1babde"/>
<path d="M250 224.9L253.6 225.8L252.3 228.1L248.7 227.4Z" fill="#1da9e0"/>
<path d="M282.2 227L285.8 226.8L284.5 228.9L281 229Z" fill="#475bfa"/>
<path d="M314.5 226.2L318 227.2L316.8 228.6L313.2 228.1Z" fill="#317dfc"/>
<path d="M229.7 224L233.2 225.5L232 228.3L228.4 226.7Z" fill="#20c1b1"/>
<path d="M261.9 224.7L265.5 225.9L264.2 228.9L260.7 228.4Z" fill="#04b6ce"/>
<path d="M294.2 225.8L297.7 227.1L296.4 229.5L292.9 229Z" fill="#2797eb"/>
<path d="M209.4 225.9L212.9 226L211.7 229.1L208.1 228Z" fill="#269ae8"/>
<path d="M241.6 224.8L245.2 226.1L243.9 229L240.3 227.7Z" fill="#00b9c7"/>
<path d="M273.9 226.4L277.4 228.2L276.1 229.5L272.6 229.1Z" fill="#2d8bf4"/>
<path d="M306.1 226.2L309.7 227.4L308.4 230.1L304.8 229.2Z" fill="#2895ec"/>
<path d="M221.3 225.3L224.9 225.8L223.6 229.3L220 228.6Z" fill="#08b4d1"/>
<path d="M253.6 225.8L257.1 226.5L255.8 228.8L252.3 228.1Z" fill="#1caadf"/>
<path d="M285.8 226.8L289.4 227.9L288.1 230L284.5 228.9Z" fill="#2d8af5"/>
<path d="M233.2 225.5L236.8 226.9L235.5 229L232 228.3Z" fill="#01b7ca"/>
<path d="M265.5 225.9L269 227.4L267.8 229.7L264.2 228.9Z" fill="#14b0d8"/>
<path d="M297.7 227.1L301.3 228.4L300 230.5L296.4 229.5Z" fill="#2d8bf4"/>
<path d="M212.9 226L216.5 227.3L215.2 230.1L211.7 229.1Z" fill="#0bb3d2"/>
<path d="M245.2 226.1L248.7 227.4L247.5 229.5L243.9 229Z" fill="#10b2d5"/>
<path d="M277.4 228.2L281 229L279.7 230.9L276.1 229.5Z" fill="#426afe"/>
<path d="M309.7 227.4L313.2 228.1L311.9 231L308.4 230.1Z" fill="#2d8cf3"/>
<path d="M224.9 225.8L228.4 226.7L227.1 230.4L223.6 229.3Z" fill="#0dbdbc"/>
<path d="M257.1 226.5L260.7 228.4L259.4 230.3L255.8 228.8Z" fill="#17aeda"/>
<path d="M289.4 227.9L292.9 229L291.6 230.9L288.1 230Z" fill="#2f82fa"/>
<path d="M204.6 228L208.1 228L206.8 231.2L203.3 230.5Z" fill="#2e84f8"/>
<path d="M236.8 226.9L240.3 227.7L239.1 229.7L235.5 229Z" fill="#1aacdd"/>
<path d="M269 227.4L272.6 229.1L271.3 231.3L267.8 229.7Z" fill="#249ee6"/>
<path d="M301.3 228.4L304.8 229.2L303.6 231.2L300 230.5Z" fill="#317dfc"/>
<path d="M216.5 227.3L220 228.6L218.8 230.9L215.2 230.1Z" fill="#1da9e0"/>
<path d="M248.7 227.4L252.3 228.1L251 230.2L247.5 229.5Z" fill="#1da8e1"/>
<path d="M281 229L284.5 228.9L283.2 231.5L279.7 230.9Z" fill="#3e70ff"/>
<path d="M313.2 228.1L316.8 228.6L315.5 230.8L311.9 231Z" fill="#2b91ef"/>
<path d="M228.4 226.7L232 228.3L230.7 230.7L227.1 230.4Z" fill="#09bdbd"/>
<path d="M260.7 228.4L264.2 228.9L262.9 230.5L259.4 230.3Z" fill="#2b91ef"/>
<path d="M292.9 229L296.4 229.5L295.2 232.2L291.6 230.9Z" fill="#337afd"/>
<path d="M208.1 228L211.7 229.1L210.4 232.3L206.8 231.2Z" fill="#1fa6e2"/>
<path d="M240.3 227.7L243.9 229L242.6 231L239.1 229.7Z" fill="#16afd9"/>
<path d="M272.6 229.1L276.1 229.5L274.9 231.8L271.3 231.3Z" fill="#2e83f9"/>
<path d="M304.8 229.2L308.4 230.1L307.1 232L303.6 231.2Z" fill="#2f80fa"/>
<path d="M220 228.6L223.6 229.3L222.3 231.2L218.8 230.9Z" fill="#249ee6"/>
<path d="M252.3 228.1L255.8 228.8L254.6 231L251 230.2Z" fill="#1aacdd"/>
<path d="M284.5 228.9L288.1 230L286.8 233.1L283.2 231.5Z" fill="#2797eb"/>
<path d="M232 228.3L235.5 229L234.2 231.7L230.7 230.7Z" fill="#14b0d8"/>
<path d="M264.2 228.9L267.8 229.7L266.5 231L262.9 230.5Z" fill="#249fe5"/>
<path d="M296.4 229.5L300 230.5L298.7 233L295.2 232.2Z" fill="#2d8cf3"/>
<path d="M211.7 229.1L215.2 230.1L213.9 232.9L210.4 232.3Z" fill="#23a0e5"/>
<path d="M243.9 229L247.5 229.5L246.2 231.3L242.6 231Z" fill="#20a5e3"/>
<path d="M276.1 229.5L279.7 230.9L278.4 233.4L274.9 231.8Z" fill="#2797eb"/>
<path d="M308.4 230.1L311.9 231L310.7 233.3L307.1 232Z" fill="#2e83f9"/>
<path d="M223.6 229.3L227.1 230.4L225.9 232.6L222.3 231.2Z" fill="#22a2e4"/>
<path d="M255.8 228.8L259.4 230.3L258.1 231.9L254.6 231Z" fill="#0bb3d2"/>
<path d="M288.1 230L291.6 230.9L290.3 234.3L286.8 233.1Z" fill="#2c8ff1"/>
<path d="M203.3 230.5L206.8 231.2L205.6 233.4L202 232.8Z" fill="#2e84f8"/>
<path d="M235.5 229L239.1 229.7L237.8 232.2L234.2 231.7Z" fill="#04b6ce"/>
<path d="M267.8 229.7L271.3 231.3L270 232.6L266.5 231Z" fill="#22a2e4"/>
<path d="M300 230.5L303.6 231.2L302.3 233.6L298.7 233Z" fill="#2d8bf4"/>
<path d="M215.2 230.1L218.8 230.9L217.5 233.7L213.9 232.9Z" fill="#259ce7"/>
<path d="M247.5 229.5L251 230.2L249.7 231.9L246.2 231.3Z" fill="#14b0d8"/>
<path d="M279.7 230.9L283.2 231.5L282 233.3L278.4 233.4Z" fill="#2e84f8"/>
<path d="M311.9 231L315.5 230.8L314.2 233.7L310.7 233.3Z" fill="#2e83f9"/>
<path d="M227.1 230.4L230.7 230.7L229.4 233.1L225.9 232.6Z" fill="#249ee6"/>
<path d="M259.4 230.3L262.9 230.5L261.6 231.7L258.1 231.9Z" fill="#22a2e4"/>
<path d="M291.6 230.9L295.2 232.2L293.9 235.1L290.3 234.3Z" fill="#2a93ee"/>
<path d="M206.8 231.2L210.4 232.3L209.1 234.4L205.6 233.4Z" fill="#2d8ef2"/>
<path d="M239.1 229.7L242.6 231L241.3 233.2L237.8 232.2Z" fill="#00bac6"/>
<path d="M271.3 231.3L274.9 231.8L273.6 233.8L270 232.6Z" fill="#2d8cf3"/>
<path d="M303.6 231.2L307.1 232L305.8 234L302.3 233.6Z" fill="#2b91ef"/>
<path d="M218.8 230.9L222.3 231.2L221 234.2L217.5 233.7Z" fill="#23a0e5"/>
<path d="M251 230.2L254.6 231L253.3 232L249.7 231.9Z" fill="#06b5cf"/>
<path d="M283.2 231.5L286.8 233.1L285.5 235.2L282 233.3Z" fill="#2c90f0"/>
<path d="M230.7 230.7L234.2 231.7L233 234.2L229.4 233.1Z" fill="#12b1d6"/>
<path d="M262.9 230.5L266.5 231L265.2 232.3L261.6 231.7Z" fill="#04b6ce"/>
<path d="M295.2 232.2L298.7 233L297.4 235.5L293.9 235.1Z" fill="#2e83f9"/>
<path d="M210.4 232.3L213.9 232.9L212.7 235.4L209.1 234.4Z" fill="#2e84f8"/>
<path d="M242.6 231L246.2 231.3L244.9 234.1L241.3 233.2Z" fill="#0eb3d4"/>
<path d="M274.9 231.8L278.4 233.4L277.1 235L273.6 233.8Z" fill="#269ae8"/>
<path d="M307.1 232L310.7 233.3L309.4 235.4L305.8 234Z" fill="#2797eb"/>
<path d="M222.3 231.2L225.9 232.6L224.6 235L221 234.2Z" fill="#08b4d1"/>
<path d="M254.6 231L258.1 231.9L256.8 232.8L253.3 232Z" fill="#00b8c9"/>
<path d="M286.8 233.1L290.3 234.3L289.1 236.1L285.5 235.2Z" fill="#3876fe"/>
<path d="M234.2 231.7L237.8 232.2L236.5 235.1L233 234.2Z" fill="#14b0d8"/>
<path d="M266.5 231L270 232.6L268.8 233.9L265.2 232.3Z" fill="#14beb8"/>
<path d="M298.7 233L302.3 233.6L301 236.4L297.4 235.5Z" fill="#2d88f6"/>
<path d="M213.9 232.9L217.5 233.7L216.2 235.7L212.7 235.4Z" fill="#2a93ee"/>
<path d="M246.2 231.3L249.7 231.9L248.4 234.3L244.9 234.1Z" fill="#10beba"/>
<path d="M278.4 233.4L282 233.3L280.7 235.3L277.1 235Z" fill="#2e86f8"/>
<path d="M310.7 233.3L314.2 233.7L312.9 236.9L309.4 235.4Z" fill="#2d8bf4"/>
<path d="M225.9 232.6L229.4 233.1L228.1 235.9L224.6 235Z" fill="#1da8e1"/>
<path d="M258.1 231.9L261.6 231.7L260.4 232.8L256.8 232.8Z" fill="#00b9c7"/>
<path d="M290.3 234.3L293.9 235.1L292.6 236.7L289.1 236.1Z" fill="#416bfe"/>
<path d="M237.8 232.2L241.3 233.2L240.1 236.3L236.5 235.1Z" fill="#00bac6"/>
<path d="M270 232.6L273.6 233.8L272.3 235.9L268.8 233.9Z" fill="#0eb3d4"/>
<path d="M302.3 233.6L305.8 234L304.5 236.7L301 236.4Z" fill="#2895ec"/>
<path d="M217.5 233.7L221 234.2L219.8 236.4L216.2 235.7Z" fill="#2994ed"/>
<path d="M249.7 231.9L253.3 232L252 233.8L248.4 234.3Z" fill="#29c3aa"/>
<path d="M282 233.3L285.5 235.2L284.2 237.8L280.7 235.3Z" fill="#1fa6e2"/>
<path d="M229.4 233.1L233 234.2L231.7 236.6L228.1 235.9Z" fill="#0eb3d4"/>
<path d="M261.6 231.7L265.2 232.3L263.9 232.6L260.4 232.8Z" fill="#40ca8d"/>
<path d="M293.9 235.1L297.4 235.5L296.2 237.5L292.6 236.7Z" fill="#3e70ff"/>
<path d="M241.3 233.2L244.9 234.1L243.6 236.4L240.1 236.3Z" fill="#02b7cc"/>
<path d="M273.6 233.8L277.1 235L275.8 236.4L272.3 235.9Z" fill="#1babde"/>
<path d="M305.8 234L309.4 235.4L308.1 237.6L304.5 236.7Z" fill="#20a5e3"/>
<path d="M221 234.2L224.6 235L223.3 237.3L219.8 236.4Z" fill="#21a3e3"/>
<path d="M253.3 232L256.8 232.8L255.5 233.9L252 233.8Z" fill="#61cd72"/>
<path d="M285.5 235.2L289.1 236.1L287.8 239L284.2 237.8Z" fill="#2e86f8"/>
<path d="M233 234.2L236.5 235.1L235.2 237.9L231.7 236.6Z" fill="#16afd9"/>
<path d="M265.2 232.3L268.8 233.9L267.5 233L263.9 232.6Z" fill="#64cd6f"/>
<path d="M297.4 235.5L301 236.4L299.7 238.7L296.2 237.5Z" fill="#2e87f7"/>
<path d="M244.9 234.1L248.4 234.3L247.2 236.3L243.6 236.4Z" fill="#00b9c7"/>
<path d="M277.1 235L280.7 235.3L279.4 237.2L275.8 236.4Z" fill="#22a2e4"/>
<path d="M309.4 235.4L312.9 236.9L311.6 239.3L308.1 237.6Z" fill="#2895ec"/>
<path d="M224.6 235L228.1 235.9L226.8 238.8L223.3 237.3Z" fill="#1da9e0"/>
<path d="M256.8 232.8L260.4 232.8L259.1 234L255.5 233.9Z" fill="#6ecd66"/>
<path d="M289.1 236.1L292.6 236.7L291.3 239.5L287.8 239Z" fill="#2e87f7"/>
<path d="M236.5 235.1L240.1 236.3L238.8 239L235.2 237.9Z" fill="#19addc"/>
<path d="M268.8 233.9L272.3 235.9L271 235.3L267.5 233Z" fill="#32c69f"/>
<path d="M301 236.4L304.5 236.7L303.3 240L299.7 238.7Z" fill="#2e87f7"/>
<path d="M248.4 234.3L252 233.8L250.7 236.6L247.2 236.3Z" fill="#2ec4a5"/>
<path d="M280.7 235.3L284.2 237.8L282.9 239L279.4 237.2Z" fill="#0eb3d4"/>
<path d="M228.1 235.9L231.7 236.6L230.4 239.9L226.8 238.8Z" fill="#1da9e0"/>
<path d="M260.4 232.8L263.9 232.6L262.6 234.5L259.1 234Z" fill="#c5c22a"/>
<path d="M292.6 236.7L296.2 237.5L294.9 239.7L291.3 239.5Z" fill="#2994ed"/>
<path d="M240.1 236.3L243.6 236.4L242.3 239.8L238.8 239Z" fill="#1ea7e1"/>
<path d="M272.3 235.9L275.8 236.4L274.6 237.1L271 235.3Z" fill="#0bb3d2"/>
<path d="M304.5 236.7L308.1 237.6L306.8 241L303.3 240Z" fill="#259ce7"/>
<path d="M252 233.8L255.5 233.9L254.3 237L250.7 236.6Z" fill="#a1c840"/>
<path d="M284.2 237.8L287.8 239L286.5 240.7L282.9 239Z" fill="#2f80fa"/>
<path d="M231.7 236.6L235.2 237.9L233.9 241.2L230.4 239.9Z" fill="#17aeda"/>
<path d="M263.9 232.6L267.5 233L266.2 234.8L262.6 234.5Z" fill="#fec537"/>
<path d="M296.2 237.5L299.7 238.7L298.4 240.8L294.9 239.7Z" fill="#2798ea"/>
<path d="M243.6 236.4L247.2 236.3L245.9 239.9L242.3 239.8Z" fill="#02bbc2"/>
<path d="M275.8 236.4L279.4 237.2L278.1 239.3L274.6 237.1Z" fill="#04bbc1"/>
<path d="M308.1 237.6L311.6 239.3L310.4 242.2L306.8 241Z" fill="#23a0e5"/>
<path d="M255.5 233.9L259.1 234L257.8 237L254.3 237Z" fill="#e3bc2b"/>
<path d="M287.8 239L291.3 239.5L290 241.9L286.5 240.7Z" fill="#3974ff"/>
<path d="M235.2 237.9L238.8 239L237.5 241.6L233.9 241.2Z" fill="#20a5e3"/>
<path d="M267.5 233L271 235.3L269.7 237L266.2 234.8Z" fill="#f7dd2a"/>
<path d="M299.7 238.7L303.3 240L302 242.5L298.4 240.8Z" fill="#2d8ef2"/>
<path d="M247.2 236.3L250.7 236.6L249.4 239.9L245.9 239.9Z" fill="#45cb89"/>
<path d="M279.4 237.2L282.9 239L281.7 241.3L278.1 239.3Z" fill="#10beba"/>
<path d="M259.1 234L262.6 234.5L261.4 236.9L257.8 237Z" fill="#fdcb32"/>
<path d="M291.3 239.5L294.9 239.7L293.6 242.8L290 241.9Z" fill="#2e86f8"/>
<path d="M238.8 239L242.3 239.8L241.1 243.4L237.5 241.6Z" fill="#23a0e5"/>
<path d="M271 235.3L274.6 237.1L273.3 239.5L269.7 237Z" fill="#d9be28"/>
<path d="M303.3 240L306.8 241L305.5 243.6L302 242.5Z" fill="#2f82fa"/>
<path d="M250.7 236.6L254.3 237L253 240.2L249.4 239.9Z" fill="#81cc59"/>
<path d="M282.9 239L286.5 240.7L285.2 242.4L281.7 241.3Z" fill="#1babde"/>
<path d="M262.6 234.5L266.2 234.8L264.9 237.7L261.4 236.9Z" fill="#f6e028"/>
<path d="M294.9 239.7L298.4 240.8L297.1 243.5L293.6 242.8Z" fill="#249fe5"/>
<path d="M242.3 239.8L245.9 239.9L244.6 243.5L241.1 243.4Z" fill="#22a2e4"/>
<path d="M274.6 237.1L278.1 239.3L276.8 241.4L273.3 239.5Z" fill="#8bcb51"/>
<path d="M306.8 241L310.4 242.2L309.1 244.2L305.5 243.6Z" fill="#327cfc"/>
<path d="M254.3 237L257.8 237L256.5 240.6L253 240.2Z" fill="#b2c635"/>
<path d="M286.5 240.7L290 241.9L288.8 243.5L285.2 242.4Z" fill="#2b91ef"/>
<path d="M266.2 234.8L269.7 237L268.5 239.4L264.9 237.7Z" fill="#f9fb15"/>
<path d="M298.4 240.8L302 242.5L300.7 245.1L297.1 243.5Z" fill="#259be8"/>
<path d="M245.9 239.9L249.4 239.9L248.2 243.7L244.6 243.5Z" fill="#00b8c9"/>
<path d="M278.1 239.3L281.7 241.3L280.4 242.6L276.8 241.4Z" fill="#2bc3a8"/>
<path d="M257.8 237L261.4 236.9L260.1 240.7L256.5 240.6Z" fill="#f7ba3d"/>
<path d="M290 241.9L293.6 242.8L292.3 245.8L288.8 243.5Z" fill="#2d8bf4"/>
<path d="M269.7 237L273.3 239.5L272 241.7L268.5 239.4Z" fill="#fec239"/>
<path d="M302 242.5L305.5 243.6L304.2 245.9L300.7 245.1Z" fill="#317dfc"/>
<path d="M249.4 239.9L253 240.2L251.7 243.8L248.2 243.7Z" fill="#35c79b"/>
<path d="M281.7 241.3L285.2 242.4L283.9 243.8L280.4 242.6Z" fill="#14b0d8"/>
<path d="M261.4 236.9L264.9 237.7L263.6 241.9L260.1 240.7Z" fill="#f5e128"/>
<path d="M293.6 242.8L297.1 243.5L295.9 246.3L292.3 245.8Z" fill="#2d8bf4"/>
<path d="M273.3 239.5L276.8 241.4L275.6 243.8L272 241.7Z" fill="#8fcb4e"/>
<path d="M305.5 243.6L309.1 244.2L307.8 246.8L304.2 245.9Z" fill="#3677fe"/>
<path d="M253 240.2L256.5 240.6L255.2 244.7L251.7 243.8Z" fill="#67cd6c"/>
<path d="M285.2 242.4L288.8 243.5L287.5 246.1L283.9 243.8Z" fill="#1babde"/>
<path d="M264.9 237.7L268.5 239.4L267.2 243.6L263.6 241.9Z" fill="#f5e825"/>
<path d="M297.1 243.5L300.7 245.1L299.4 247.9L295.9 246.3Z" fill="#2994ed"/>
<path d="M276.8 241.4L280.4 242.6L279.1 245.1L275.6 243.8Z" fill="#3bc992"/>
<path d="M256.5 240.6L260.1 240.7L258.8 245.9L255.2 244.7Z" fill="#9dc943"/>
<path d="M288.8 243.5L292.3 245.8L291 247.9L287.5 246.1Z" fill="#20a5e3"/>
<path d="M268.5 239.4L272 241.7L270.7 245.5L267.2 243.6Z" fill="#fec537"/>
<path d="M300.7 245.1L304.2 245.9L303 248.1L299.4 247.9Z" fill="#3677fe"/>
<path d="M280.4 242.6L283.9 243.8L282.7 246.8L279.1 245.1Z" fill="#2fc5a3"/>
<path d="M260.1 240.7L263.6 241.9L262.4 247.1L258.8 245.9Z" fill="#e3bc2b"/>
<path d="M292.3 245.8L295.9 246.3L294.6 247.7L291 247.9Z" fill="#3876fe"/>
<path d="M272 241.7L275.6 243.8L274.3 246.8L270.7 245.5Z" fill="#abc739"/>
<path d="M304.2 245.9L307.8 246.8L306.5 248.7L303 248.1Z" fill="#2f80fa"/>
<path d="M283.9 243.8L287.5 246.1L286.2 248.7L282.7 246.8Z" fill="#20c1b1"/>
<path d="M263.6 241.9L267.2 243.6L265.9 248L262.4 247.1Z" fill="#cbc128"/>
<path d="M295.9 246.3L299.4 247.9L298.1 249.4L294.6 247.7Z" fill="#2e86f8"/>
<path d="M275.6 243.8L279.1 245.1L277.8 248.2L274.3 246.8Z" fill="#3bc992"/>
<path d="M287.5 246.1L291 247.9L289.8 249.9L286.2 248.7Z" fill="#21a3e3"/>
<path d="M267.2 243.6L270.7 245.5L269.4 249L265.9 248Z" fill="#88cb53"/>
<path d="M299.4 247.9L303 248.1L301.7 250.7L298.1 249.4Z" fill="#416bfe"/>
<path d="M279.1 245.1L282.7 246.8L281.4 250L277.8 248.2Z" fill="#2cc4a6"/>
<path d="M291 247.9L294.6 247.7L293.3 250.4L289.8 249.9Z" fill="#2e84f8"/>
<path d="M270.7 245.5L274.3 246.8L273 250.1L269.4 249Z" fill="#38c896"/>
<path d="M303 248.1L306.5 248.7L305.2 251.7L301.7 250.7Z" fill="#2d8af5"/>
<path d="M282.7 246.8L286.2 248.7L284.9 251.5L281.4 250Z" fill="#00b8c9"/>
<path d="M294.6 247.7L298.1 249.4L296.9 251.9L293.3 250.4Z" fill="#1da9e0"/>
<path d="M274.3 246.8L277.8 248.2L276.6 251.6L273 250.1Z" fill="#27c2ac"/>
<path d="M286.2 248.7L289.8 249.9L288.5 252.6L284.9 251.5Z" fill="#249fe5"/>
<path d="M298.1 249.4L301.7 250.7L300.4 253.1L296.9 251.9Z" fill="#2c90f0"/>
<path d="M277.8 248.2L281.4 250L280.1 253.1L276.6 251.6Z" fill="#01bac4"/>
<path d="M289.8 249.9L293.3 250.4L292 253.6L288.5 252.6Z" fill="#2895ec"/>
<path d="M301.7 250.7L305.2 251.7L304 253.5L300.4 253.1Z" fill="#2e83f9"/>
<path d="M281.4 250L284.9 251.5L283.6 254L280.1 253.1Z" fill="#1fa6e2"/>
<path d="M293.3 250.4L296.9 251.9L295.6 254.3L292 253.6Z" fill="#21a3e3"/>
<path d="M284.9 251.5L288.5 252.6L287.2 254.7L283.6 254Z" fill="#2b91ef"/>
<path d="M296.9 251.9L300.4 253.1L299.1 255.3L295.6 254.3Z" fill="#2c90f0"/>
<path d="M288.5 252.6L292 253.6L290.8 256.4L287.2 254.7Z" fill="#2d8af5"/>
<path d="M300.4 253.1L304 253.5L302.7 256.2L299.1 255.3Z" fill="#2e84f8"/>
<path d="M292 253.6L295.6 254.3L294.3 256.8L290.8 256.4Z" fill="#2d8af5"/>
<path d="M295.6 254.3L299.1 255.3L297.9 257L294.3 256.8Z" fill="#2c90f0"/>
<path d="M299.1 255.3L302.7 256.2L301.4 258.3L297.9 257Z" fill="#2d8ef2"/>
</g></g>
<line x1="202" y1="235.2" x2="301.4" y2="261.2" stroke="#4d4d4d" stroke-width="0.5"/>
<line x1="337.2" y1="192.4" x2="301.4" y2="261.2" stroke="#4d4d4d" stroke-width="0.5"/>
<line x1="202" y1="235.2" x2="202" y2="225.9" stroke="#4d4d4d" stroke-width="0.5"/>
<line x1="216.2" y1="238.9" x2="215.3" y2="240.7" stroke="#4d4d4d" stroke-width="0.5"/>
<line x1="332.1" y1="202.2" x2="334.1" y2="202.7" stroke="#4d4d4d" stroke-width="0.5"/>
<line x1="233.9" y1="243.6" x2="233" y2="245.3" stroke="#4d4d4d" stroke-width="0.5"/>
<line x1="325.7" y1="214.5" x2="327.7" y2="215" stroke="#4d4d4d" stroke-width="0.5"/>
<line x1="251.7" y1="248.2" x2="250.8" y2="250" stroke="#4d4d4d" stroke-width="0.5"/>
<line x1="319.3" y1="226.8" x2="321.3" y2="227.3" stroke="#4d4d4d" stroke-width="0.5"/>
<line x1="269.4" y1="252.9" x2="268.5" y2="254.6" stroke="#4d4d4d" stroke-width="0.5"/>
<line x1="312.9" y1="239.1" x2="314.9" y2="239.6" stroke="#4d4d4d" stroke-width="0.5"/>
<line x1="287.2" y1="257.5" x2="286.3" y2="259.3" stroke="#4d4d4d" stroke-width="0.5"/>
<line x1="306.5" y1="251.4" x2="308.5" y2="251.9" stroke="#4d4d4d" stroke-width="0.5"/>
<line x1="202" y1="232.7" x2="200.2" y2="232.7" stroke="#4d4d4d" stroke-width="0.5"/>
<line x1="202" y1="228" x2="200.2" y2="228" stroke="#4d4d4d" stroke-width="0.5"/>
<g font-size="8.3" fill="#3a3a3a" text-anchor="middle">
<text x="210" y="254.3">5</text>
<text x="342.6" y="211.5">5</text>
<text x="227.8" y="259">10</text>
<text x="336.2" y="223.8">10</text>
<text x="245.5" y="263.6">15</text>
<text x="329.8" y="236.1">15</text>
<text x="263.2" y="268.3">20</text>
<text x="323.4" y="248.4">20</text>
<text x="281" y="272.9">25</text>
<text x="317" y="260.7">25</text>
<text x="196.8" y="235.7" text-anchor="end">0</text>
<text x="196.8" y="231" text-anchor="end">10</text>
</g>
<g font-size="9.5" font-weight="bold" fill="#000" text-anchor="middle">
<text x="90.5" y="8.2">Data</text>
<text x="270.2" y="8.2">Gaussian (2-D Elliptical)</text>
<text x="90.5" y="153.6">Data &amp; Fit Overlay</text>
<text x="270.2" y="153.6">Gaussian (2-D Elliptical) Residuals</text>
</g>
</svg></div>
</body></html>
